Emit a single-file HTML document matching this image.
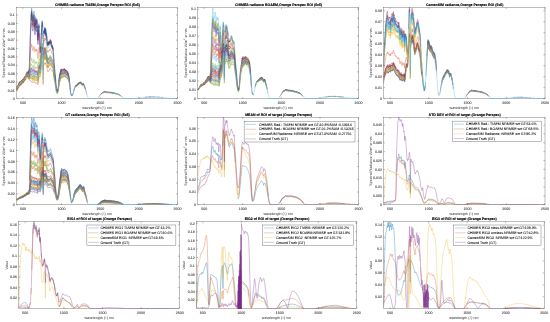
<!DOCTYPE html>
<html><head><meta charset="utf-8"><title>ROI spectra</title>
<style>html,body{margin:0;padding:0;background:#fff}svg{display:block}</style></head>
<body><svg width="550" height="322" viewBox="0 0 550 322" font-family="'Liberation Sans', sans-serif" shape-rendering="geometricPrecision" text-rendering="geometricPrecision">
<rect width="550" height="322" fill="#fff"/>
<clipPath id="c0"><rect x="16.40" y="7.20" width="161.10" height="91.80"/></clipPath>
<rect x="16.40" y="7.50" width="161.10" height="91.20" fill="none" stroke="#262626" stroke-width="0.30"/>
<g clip-path="url(#c0)"><g transform="scale(0.500 1)" fill="none" stroke-linejoin="round" stroke-width="0.44">
<path d="M32.8 87.69l.31-.25M37.59 83.82l.62-.39 1.08-1.02 .62-.14 .62-.39 .31 .04 .46 .25 .15-.02 .62-.46 .31 .08M44.24 80.74l.61-.09 .78-.84 .31-.15 .3-.03 .62 .41 .31-.28M48.41 78.05l.31-.15 .31-.07M50.57 76.92l.16 .14 .61-.4M52.43 74.35l.3-.35 .62-.1 .47-.17 .15-.15 .46-.77 .16-.12 .15 .03 .47 .45 .31 .15 .31-.04 .15-.09M63.24 12.09l.16 .21 .46 2.56 .31 1.07M68.81 22.7l.15 .24 .16 .03 .15 .16 .15 .42 .47 2.76 .15-.74M75.3 33.69l.15 1.05 .46 1.5 .16 .27M77 26.86l.15-.79 .16-.42 .46-.71 .15 .04 .16 .24 .46 1.34M89.67 28.65l.15 .18 .47 2.03 .15 .27 .16-.17 .15-.55 .46-2.28 .16-.13 .15 .45M92.91 34.02l.16 .11 .15 .55 .62 2.5 .15 .86M95.23 43.12l.16 .28 .15-.05 .62-1.01 .15 .02 .31 .67 .16 .19 .15-.09M97.7 41.74l.47 .34 .46 .78 .16 .03 .3-.49M100.33 40.22l.16 .07 .46 .67 .46 .35 .47 .76M105.43 48.36l.31 .36M122.12 72.26l.15 .12 .16-.05 .62-.73 .15 .16 .31-.08 .31 .09M125.21 72.27l.46-.22 .47-.43 .15-.08 .62 .03 .46-.26 .16-.01 .62 .29 1.23-.06 1.24 .41M132.16 72.3l.62 .58 .47 .34" stroke="#0072BD" stroke-width="0.50"/>
<path d="M32.8 90.14l.77-.53 .31-.08 .31 .03 .77-.44 1.55-1.11 .93-.9 .61-.33 .47-.4M39.6 85.29l.31-.12 .46-.34 .31-.13M43.93 83.09l.31-.06 .3 .05M46.86 82.33l.31-.2 .47-.95 .3-.41 .78-.71 .46-.2 .31-.21M50.42 78.94l.31 .22 .46-.36 .15-.18 .78-1.77 .31-.53 .3-.26 .47-.01M55.36 76.13l.31 .08 .16-.05 .77-.83 .62-.32 .31-.54 .3-.27 .31-.08 .16-.17 .15-.56 1.08-6.85 1.09-11.19 .46-2.9 .15-1.54 .47-2.74 .31-1.32 .15-.11 .16 .04 .15-.03 .15-.24 .47-1.92 .15-.41 .16 .09 .46 1.54 .77 1.94 .47 .85 .46 1.6 .31 .41 .15 .01 .47-1.03 .46-.4 .31-.88 .31-1.32 .15-.44 .16-.14 .15 .21 .16 .51 .46 1.84 .16 .29 .31 .09 .15 .13 .15 .35 .47 2.07 .62-1.49 .3-.53 .16-.51 .15-.27 .16-.12 .31 .05 .31 .31 .77 1.46 .15 .14 .16 .04 .15-.09 .16-.25 .46-1.06 .16-.11 .15 .24 .31 1.46 .77 5.37 .16 .68 .15 .5 .31 .44 .15 .35 .16 .16 .15-.57 .16-1 .46-4.16 .31-2 .77-2.86 .31-.6 .31-.14 .16 .25 .15 .89 .93 7.84 .62 2.88 .15 .4 .16-.3 .15-.73 .62-3.69 .46-4.02 .77-8.11 .78-4.31 .46-3.51 .31-1.67 .15-.21 .16 .32 .46 2.34 .31 .52 .16 .42 .15 2.54M87.2 44.54l.15-2.51 .15-1.13 .16-.61 .15-.15 .16 .25 .31 .84 .15-.06 .77-1.71 .47-1.81 .15 .04 .47 1.69 .15 .44 .16 .08 .15-.26 .46-1.49 .16-.09 .15 .33 .62 4.16 .15 .66 .16 .3 .46-.01 .16 .35 .92 4.27 .47 2.43 .31 .82 .46 .56 .16 .17 .15-.11 .62-1.1 .15-.02 .47 .73 .15-.06 .46-.95 .16-.19 .62-.11 .31 .23 .15 .06 .16-.03 .46-.59 .46-.43 .47-.58 .15-.09 .16 .08 .46 .68 .77 .77 .47 .27 .15 .19 .46 .98 .47 .64 .77 1.32 .15 .02 .31-.22 .16-.04 .15 .08 .31 .38 .31 .17 .31 .31 .31 .71 .15 .62 .93 5.81 1.24 6.29 1.08 4.55 .46 2.5M119.49 75.83l.31-.46M121.66 71.63l.46 .77 .15 .1 .16-.07 .31-.48M124.28 71.28l.93 .49 .31-.02 .31-.14 .46-.42 .47-.1 .15-.08 .46-.4 .16-.03 .62 .24 .61-.14 .31 .01 .47 .17 .62 .47 .77 .72 .15 .04 .62-.06M132.63 72.35l.93 .13 .3-.1 .31-.19 .62 .32 .16 .16 1.08 1.71 .62 .59M161.06 82.76l.62-.01" stroke="#D95319" stroke-width="0.50"/>
<path d="M32.8 87.93l.46-.55 .31-.26 .31-.11 .31 .03 .16-.08 1.08-.86 1.08-.75 .77-.95 1.08-.76 .93-1.01 .62-.19 .62-.41 .31 .01 .46 .21 .15-.01 .62-.42 .47 .05 .15-.05M53.66 73.07l.31-.18 .46-.63 .16-.05 .15 .1M55.52 72.92l.31-.12 .46-.4 .15-.05 .47 .11M61.39 28.94l.62-5.75 .15-.48 .31-.6 .15-.66 .47-3.47 .15-.67 .16 .16 .46 2.46 .62 2.2M65.72 26.68l.15 .37 .15 .19 .47-.97 .31-.09 .15-.15 .31-1.23 .31-1.91 .15-.65 .16-.19 .15 .31 .16 .75 .46 2.9 .16 .57 .31 .45 .15 .35 .15 .62 .47 3.05 .77-3.64M71.43 24.31l.16-.03 .15 .16 .16 .34M72.67 28.27l.15 .44 .16 .19 .15-.1 .16-.42 .46-2.04 .16-.34 .15 .2 .15 .76M75.45 38.17l.62 1.77M77.31 30.4l.3-.27 .16-.23 .15 .03 .31 .46 .16 .36M84.26 22.74l.15-.34 .16 .33M88.43 32.72l.31-.49 .31-.35 .15-.31 .47-1.53 .15 .16M94.77 43.29l.31 .64M97.55 43.47l.15-.06 .47 .02 .31 .33 .15 .09 .16-.02 .61-.81M101.41 42.75l.62 .99M103.27 46.34l.77 .83 .15 0 .31-.18 .16 .05 .15 .22 .47 1.09 .46 .79 .31 .86M118.72 78.24l.77-2.69 .16-.23 .15-.1 .47 .01 .3-.48M121.5 71.66l.16-.13 .15 .09 .31 .45 .15 .09 .16-.06 .62-.74 .15 .17 .31-.07 .31 .08 .62 .42 .77 .05 .46-.08 .47-.22 .15 0 .47 .21 .15 0 .62-.39 .62 .1 .46-.15M129.54 71.47l.77 .24 .62 .28 .62-.04 .31 .05 .92 .5 .47 .14 .46-.03 .46-.26 .62 .43M135.72 74.42l.31 .53 .46 .41M158.28 83.12l1.24-.76M160.75 82.63l.31 .02M165.08 84.68l.62-.42 .31-.03M166.78 84.04l.31-.02 .15 .05 .16 .14" stroke="#EDB120" stroke-width="0.50"/>
<path d="M32.8 88.71l.62-.5 .46-.19M41.3 83.21l.31-.08 .31-.28M45.94 80.76l.3 .05 .62 .49 .16-.11M48.56 78.94l.62-.14M54.59 73.53l.15 .1 .47 .6 .46 .08 .31-.2 .93-.96M61.85 20.03l.16-.99 .15-.26 .16-.02 .15-.17 .15-.52 .47-3.4 .15-.68 .16 .19 .46 2.68 .77 3.27 .47 1.53 .46 2.73 .16 .45 .15 .28 .15 .01 .47-1.87M67.26 20.25l.31-2.25 .15-.69 .16-.14 .15 .47 .16 .98 .46 3.73 .16 .76 .46 .95 .15 .56 .47 2.84 1.23-6.66 .16-.44 .15-.21 .16 0M72.82 24.57l.16 .12 .15-.12 .16-.41 .46-1.84 .16-.23M75.3 36.12l.15 1.05 .46 1.42 .16 .25 .15-.79 .16-1.39 .46-5.61 .16-1.28 .15-.7 .16-.31 .46-.51 .15-.02 .31 .25 .31 .44 .16 .61M84.26 23.87l.15-.44 .16 .19M87.66 32.56l.15-.18 .16 .31 .31 1.2 .15 .09M89.67 30.4l.15 .1 .47 2.26 .15 .48 .16 .08 .15-.31 .46-1.87 .16-.21M92.29 35.62l.16 .35 .15 .05 .31-.03M95.39 45.67l.15 .01 .15-.19 .47-1 .15-.07 .47 .79 .15 0 .46-.77 .16-.16 .62-.28 .46 .12 .16-.06 .92-1.29 .47-.84 .15-.15 .16 .04 .46 .59 .46 .18 .62 .47M103.73 46.36l.31 .32 .15-.05 .31-.28 .16 .02M109.91 74.24l.47 3.18 .92 5.19M112.85 90.45l.31 1.11 .15 .26M114.86 92.84l.46-.44M123.05 76.87l.15 .1 .47-.04 .77 .44 .77 .03M125.98 77.15l.31-.15 .47-.07 .3-.24M128.3 76.35l1.08 .12 1.39 .77 .16 0 .77-.21M132.63 77.54l.46 .27M134.48 77.93l.47 .16 1.08 1.28 .62 .38 .3 .28 .16 .22 .62 1.39M154.57 85.26l.62-.28M156.27 84.51l.31-.06M161.99 83.87l.62-.01 .77 .52 .46 .14M166.01 85.11l.92-.24M208.19 92.37l.78-.11 .77 .19 .62-.08M221.48 93l.31-.05M223.18 93.04l.93 .04 .93 .28 .62 0" stroke="#7E2F8E" stroke-width="0.50"/>
<path d="M35.43 88.51l.92-.6M37.59 86.57l.93-.35 .77-.52 .62-.28M41.14 84.8l.31-.02 .62-.36M43.31 83.73l.77-.49M45.78 82.04l.31-.06 .15 .04 .62 .58M48.1 80.86l.62-.48 .61-.15 .62-.64 .16-.11 .15-.02M52.58 76.62l.31-.02 .62 .24 .31-.05 .15-.1 .46-.71 .16-.12 .15 .02 .62 .56 .31 .15 .16 0 .61-.26 .16 .03 .62 .47 .15 .01 .46-.23 .31 .02 .16-.06 .31-.78 .92-3.53 1.09-6.78 .15-.69 .31-.87 .15-.94 .78-2.16 .46-.28 .15-.3 .47-1.76 .15-.38 .16 0 .15 .3 1.08 2.43 .47 .76 .46 1.22 .31 .29 .15 0 .47-.83 .46-.57 .62-2.01 .15-.34 .16-.05 .15 .25 .16 .52 .31 1.37 .31 .99 .61 .74 .47 1.27 .46-1.05 .46-.85 .16-.45 .15-.26 .16-.13 .15-.03 .31 .15 .31 .38 .46 .78 .31 .29 .16 0 .15-.09 .62-1.2 .16-.17 .15 .1 .15 .37 .31 1.18 .62 3.05 .31 .82 .62 .97 .15-.38 .16-.72 .46-3.05 .31-1.62 .93-2.9 .46-.79 .16-.07 .31 .99 .77 3.79 .62 1.99 .15 .28 .16-.3 .15-.68 .62-3.56 .46-3.68 .46-4.65 .31-2.47 .31-1.57 .47-1.52 .61-3.5 .16-.57 .15-.25 .16 .17 .46 1.65 .16 .16 .15 .03M87.35 49.33l.15-.71 .16-.28 .15 .06 .47 1.06 .15-.07 .77-1.39 .31-1 .16-.3 .15 .17 .47 1.76 .15 .32 .16 0 .15-.29 .46-1.43 .16-.09 .15 .27 .16 .61 .46 2.38 .15 .49 .16 .2 .46-.24 .16 .18 .62 2.03M94.61 57.2l.31 .74 .47 .77 .15-.02 .46-.52 .16-.08 .15 .09 .31 .59 .16 .15 .15-.08 .46-1.01 .31-.45 .47-.36 .46 .14 .16-.02 .15-.13 1.08-1.55 .16-.2 .15-.09 .16 .07 .46 .51 .46 .17 .62 .52 .31 .53 .46 1.16 .16 .23 .62 .51 .46 .33 .62-.39 .15 .07 .47 .45 .3 .05 .31 .21 .31 .7 .31 1.47M108.68 73.46l1.08 4.42M113.31 92.51l.77 .48M119.49 81.09l.31-.27 .47-.1 .15-.21 .31-.63 .62-2.03 .15-.3 .16-.11 .15 .07 .31 .31 .15 .04 .16-.09 .62-.8 .15 .07 .31-.17 .31-.05 1.39 .34 .46-.09 .31-.25M127.06 76.1l.31-.33 .16-.08 .31 .07 .46 .23 1.08 .12 .31 .13M130.62 76.67l.31 .06 .77-.14 .93 .41 .77 .2 .31-.02 .46-.24 .62 .24M152.1 86.4l.93-.06M153.95 85.78l.62-.08 .47-.17 1.23-.86 .31-.06 .62 .04 .77-.17M159.83 83.41l.3 .01M160.91 83.62l.62 .02 .46 .1 .46-.04M163.23 84.2l.46 .2M165.54 85.17l.62 0 .93-.27 .15 .02 .16 .13M225.97 93.32l.61 .11" stroke="#77AC30" stroke-width="0.50"/>
<path d="M35.58 85.79l.93-.56 .93-1.35 .77-.7M42.38 81.35l.16 .05 .15-.03 .15-.14M46.71 79.43l.15 .09 .16-.1M48.56 77.4l.62-.04M53.51 73.21l.31 .08 .15-.07 .46-.67 .16-.12 .15 .03 .62 .57 .31 .15 .16-.02 .61-.36 .78 .17 .31-.19 .3-.49 .31-.34 .16-.42 .46-3.91M64.17 26.44l.46 1.93 .47 .95 .46 1.81 .16 .21 .15 .07 .15-.16 .16-.7M67.11 27.17l.46-2.6 .15-.43 .16 .09M68.81 30.68l.61 1.63 .31 1.78 .16 .5 .62-3.91 .46-2.45 .15-.56 .16-.26 .15-.03 .16 .13 .15 .28 .31 .89 .46 1.69 .16 .37 .15 .16 .16-.02 .15-.14 .62-2.05 .16-.19 .15 .33 .31 2.47M75.3 41.11l.15 .88 .62 1.92 .15-.53M77.61 34.07l.16-.48 .15-.2 .16 0 .15 .12 .16 .27M80.4 53.07l.15 .65 .16-.21 .46-2.72M82.4 38.89l.31-2.39 .78-3.02 .61-4.58 .16-.8 .15-.34 .16 .21 .46 2.25 .31 .57 .16 .47 .15 2.71M87.35 36.96l.15-1.26 .16-.68 .15-.21 .16 .22 .31 .9 .15-.07 .62-1.55 .46-1.87 .16-.41 .15 .2 .62 3.12 .16 .19 .15-.18 .46-1.55 .16-.15 .15 .27 .16 .67 .46 2.67 .15 .53 .16 .18 .31-.26 .15-.04 .16 .32 .77 3.76 .62 3.61 .31 1.01 .62 1.28 .15 .07 .15-.07 .47-.45 .15 .05 .31 .54 .16 .08 .15-.21 .62-1.9 .31-.32 .31-.15 .46 .41 .16 .01 .15-.15 .77-1.37 .47-1.03 .15-.17 .16 .05 .46 .75 .46 .49 .62 .94 .31 .81 .46 1.67 .16 .32 .15 .15 .93 .42 .31-.13M105.43 50.14l.46 .79 .31 1.12 .78 4.94 .77 3.91M113.62 90.94l.62 .26M115.78 90.09l.31-.37 .16-.32M121.5 72.75l.16-.04 .46 .59 .15 .05 .16-.14 .62-1.04 .15 .11 .31-.09 .16 .03 .61 .49 .16 .06 .46 .01 .31 .09 .46 .03 .62-.38 .31-.07M127.68 71.75l.47 .18 .61 .07 1.55 .44 .62 .3 .62-.07 .31 .05 .77 .46 .31 .08 .46 .08 .31-.03 .46-.29 .62 .09 .16 .13 .3 .49M136.18 75.61l.62 .56 .31 .42 .77 1.98M157.35 83.51l.31-.14 .31-.05" stroke="#4DBEEE" stroke-width="0.50"/>
<path d="M32.8 88.23l.46-.41 .31-.15M35.58 86.63l.93-.61M37.44 84.6l.31-.27 1.39-.91M46.55 80.42l.31 .2 .31-.24M48.25 78.93l1.08-.29M50.26 77.52l.47 .02 .46-.45M52.73 74.42l.31-.1 .78 .01 .15-.11 .46-.77 .16-.12 .15 .04 .47 .52 .15 .07 .31 .01 .16-.08M62.16 17.08l.31-.73 .15-.71 .47-3.69 .15-.71M64.17 15.47l.46 2 .31 .84M67.72 14.43l.16 .08 .15 .65 .62 4.83 .16 .65 .46 .68 .15 .57 .47 3.11 .62-3.12 .3-1.22 .16-.97 .31-.98 .15-.17 .16-.01 .15 .15 .16 .31 .77 3.1 .15 .34 .16 .12 .15-.14 .16-.42 .46-1.94 .16-.3 .15 .26M75.45 33.61l.62 1.97 .15-.61 .16-1.21 .46-4.99 .16-1.09 .15-.57 .16-.25 .46-.51 .15 .05M89.51 28.81l.16-.36 .15 .24 .47 2.54 .15 .5 .16 .05 .15-.35 .46-2.04 .16-.21M92.45 34.38l.15 0 .16-.11 .15-.03M94.46 41.91l.31 1 .62 .74 .15-.2 .62-1.59 .15-.03 .47 .98 .15-.01 .46-.94 .16-.19 .15-.06 .47-.03 .46 .52 .16 .06 .3-.26 .47-.66 .77-1.83 .16-.06 .46 .4 .46 .18 .47 .68 .31 .68 .77 2.72 .62 1.01 .46 .56 .15-.01 .31-.15 .16 .12 .62 1.49 .61 .63 .31 .95 .16 .85M113.62 90l.93 .54 .15-.01 .31-.37 .93-1.46M121.97 69.62l.15 .17 .15 .06 .47-.41 .31-.13 .15 .3 .93 .3 .31 .01 .46-.1 .77 .23 .47-.08 .46 .08 .31-.13 .46-.59 .16-.1 .62 .05 .61-.16 .31 .02 .47 .21 .62 .57 .46 .57 .31 .22 .15-.01 .47-.3 .31-.1 1.7 .79 .3 .08 .31-.06 .47 .24M150.86 85.89l.31-.11M155.96 83.61l.47-.14M165.7 84.09l.31 .03M200.93 94.48l.46-.38 .62-.38 1.39-.49M204.64 92.59l.62-.26 1.54-.26 1.55-.55 .62-.1 .46 .16M212.37 91.91l.46 .01" stroke="#A2142F" stroke-width="0.50"/>
<path d="M32.8 89.86l.77-.57 .31-.1 .31 .03 .16-.07 2-1.4M42.23 83.99l.31 .04 .15-.07 .77-.94 .47-.12 .61 .03 .31-.11 .78-1.05M48.72 79.96l.31-.12M52.12 76.65l.31-.49 .3-.26 .78 .11M55.52 75.5l.31-.23 .3-.44M62.16 20.76l.31-.29M63.24 16.58l.16 .26 .46 2.51 .77 2.85 .47 .91 .46 1.6 .16 .11 .15 .01 .15-.15 .47-1.83 .46-.63 .16-.46 .46-2.23 .15-.29 .16 .23M68.81 25.98l.15 .28 .16 .12M69.89 29.95l.46-2.12 .46-1.59 .16-.8 .15-.47 .16-.25 .15-.08 .16 .04 .31 .47 .61 2.11 .16 .43 .15 .21 .16-.03 .15-.28 .62-2.64 .16-.23 .15 .38 .15 1.01 .31 3M75.3 37.91l.15 .85 .62 1.32 .15-.73 .16-1.29 .62-6.39 .15-.65 .16-.31 .46-.58 .15 .02 .16 .2M80.4 50.93l.15 .72 .16-.17 .77-4.79M82.56 34.28l.15-1.13 .78-3.76 .61-5.11 .16-.89 .15-.39 .16 .22 .46 2.54 .31 .76M87.66 31.57l.15-.05 .16 .45 .31 1.45 .15 .15 .16-.22 .46-1.08 .62-2.8 .15 .03 .47 2.02 .15 .44 .16 .07 .15-.25 .46-1.36 .16 .06 .15 .53 .62 4.48 .15 .72 .16 .31 .15-.04 .31-.32 .16 .19M94.46 43.01l.31 1.01 .62 1.02 .15-.06 .15-.19M96.78 45l.15-.18 .46-1.54 .16-.36 .15-.17 .31-.08 .16 .03 .46 .66 .16 .05 .15-.13 .77-1.4M100.79 40.96l.62 .78 .78 1.49M103.27 45.73l.77 .74 .15-.04 .31-.24 .16 .02 .15 .19 .31 .64 .46 .5 .31 .54M113.31 90.14l1.24 .92 .15 .03 .31-.27 .77-1.02M117.79 81.98l1.55-5.47 .31-.64 .15-.12 .47-.12 .15-.26 .31-.76 .46-1.85 .31-.8 .16-.07 .46 .68 .15 .1 .16-.06 .62-.8 .15 .15 .47-.11 .61 .3 1.24 .25 .31-.05 .46-.29 .47 .07 .3-.09M127.84 71.84l.31 0 .61-.38 .47-.08 .31 .17 .92 1 .31 .24 .31-.02 .47-.29 .31-.08 .92 .44 .62 .18 .31 .03 .46-.19 .62 .35 .16 .18 1.08 1.84 .77 .44 .31 .41 .77 2.19 .77 2.46M161.22 82.91l.77 .09 .46-.07M165.54 84.43l.16-.08 1.08-.16" stroke="#0072BD" stroke-width="0.50"/>
<path d="M32.8 90.46l.77-.49 .78-.13 1.54-.86M36.97 87.97l.47-.51 .92-.4M39.44 86.31l.47-.14 .77-.49 .62-.03 .15-.07 .62-.46 .31 .02M46.09 82.64l.31 .09 .46 .31M47.79 81.64l.77-.68 .77-.36 .78-.96 .15-.06 .47 .16 .46-.4 .15-.16 .93-1.79 .31-.4 .31-.09 .46 .08 .47-.05 .15-.1 .46-.63 .16-.02 .15 .13 .47 .66 .31 .33 .31 .14 .46-.07 .31 .05 .77 .81M60.46 75.87l.31-.4 .31-.15 .15-.43 .62-.41 .16-.03 .46 .1 .15-.08 .47-.65 .15-.08 .16 .13 .46 .89 .62 .8 .62 .49 .46 .6 .16 .08 .3 .01 .47-.52 .46-.21 .16-.15 .46-.75 .15-.15 .16-.01 .15 .15 .62 1.19 .16 .12 .46-.15 .15 .01 .47 .57 .46-.46 .46-.32 .16-.23 .31-.17 .15 .01 .31 .17 .31 .33 .62 .91 .31 .17 .15-.04 .16-.13 .62-.89 .15 .01 .31 .54 .77 2.13 .31 .37 .46 .36 .16 .05 .15-.36 .31-1.25M77.31 74.45l.3-1.05 .47-2.05 .46-1.55 .16-.34 .15-.02 .16 .19M79.93 71.48l.47 .72M83.18 57.58l.31-.56 .61-3.08 .31-1.06 .16-.07 .46 .86 .31 .03M87.35 57.73l.15-.67 .16-.38 .15-.1 .31 .26 .16 0 .46-.79 .46-.59 .47-1.14 .15 .12 .62 2.06 .16 .16 .15-.08 .46-.89 .16-.07 .15 .19 .16 .44 .46 1.75 .15 .37 .16 .14 .46-.14 .16 .22 .77 2.56 .31 1.3M95.39 65.71l.15-.06 .15-.2 .47-.8 .15-.1 .31 .2 .16 .03 .15-.14 .46-.84 .16-.15 .15-.03 .47 .1 .46 .43 .16 .04 .3-.2 1.09-1.17 .15-.1 .16 .01 .46 .23 .46 0 .62 .35 .31 .39 .31 .63 .31 .42 .46 .17 .62 .48 .46 .1 .31 .3 .31 .48 .16 .14 .3 .13M107.28 72l.47 1.59 .62 2.65M113.31 92.88l1.08 .44 .31 .04M115.47 92.48l.62-.66M117.64 86.27l.31-1.08 1.39-4 .31-.56 .15-.13 .47-.21 .15-.23 .31-.61 .46-1.47 .31-.67 .16-.08 .46 .41 .15 .03 .16-.11 .62-.81 .15 .09 .47-.09 .77 .31 .77-.09 .46-.1 .62-.34 .47-.09 .77-.59 1.08-.16 .77 .28 .93 .55 .46 .39M131.7 76.93l.31 .1 .62 .36 1.08 .2 .46-.16 .62 .17 .16 .1 .61 .71M152.56 86.27l.31-.01 .47-.19M157.04 84.39l.47-.04M161.06 83.58l.47 .14M205.26 93.01l1.39-.16 .46-.11M214.38 92.6l.77 .06 .62-.08M218.39 92.73l.78 .02M225.35 93.26l1.54 .26 .93-.04" stroke="#D95319" stroke-width="0.50"/>
<path d="M32.8 90.57l.46-.33 .31-.14 .31-.05 .31 .04 .16-.06 1.7-1.06 .46-.33 .93-.97 .92-.5 .93-.84 .62-.34 .46-.36 .31-.11 .62 .22 .15-.02 .62-.46 .62-.15 .77-.84 .47-.15 .61-.06 .31-.14 .78-1 .31-.18 .3-.02 .62 .39 .31-.19 .47-.88 .3-.35 .62-.37 .77-.29 .78-.81 .15-.01 .47 .26 .46-.36 .15-.16 .78-1.58 .31-.49 .3-.26 .62-.08 .47-.19 .15-.15 .46-.72 .16-.03 .15 .13 .62 .99 .31 .34 .31 .14 .31-.01 .31 .09 .77 .94M58.61 79.81l1.08-.59 .77-.75 .16-.03 .46 .12 .15-.28 .47-.05 .31 .08 .46 .36 .15 .02 .47-.33 .15-.05 .16 .09 .46 .68 .77 .87 .47 .2 .46 .3 .46-.05 .47-.4 .46-.12 .31-.34 .31-.5 .15-.16 .16-.05 .15 .1 .62 .97 .16 .11 .46-.03 .15 .05 .47 .59 .77-.5 .46-.45 .31 0 .31 .17M72.51 80.72l.31 .25 .31 .02 .16-.1 .62-.66 .15 .04 .15 .18M74.99 81.97l.15 .24 .62 .27M77.31 78.04l.77-2.9 .62-1.71 .15-.08 .16 .08 .61 .65 .78 .39M82.87 61.8l.15-.49 .31-.49M84.26 56.37l.15-.34 .16 .03 .46 1.2 .31 .26 .16 .27M87.2 62.07l.15-1.09 .15-.63 .16-.32 .15-.02 .31 .43 .16 .07 .15-.13 .62-.83 .62-1.62 .15 .03 .47 1.21 .15 .22 .16 0 .15-.23 .46-1.16 .16-.06 .15 .21 .16 .47 .61 2.21 .16 .22 .46 .15 .16 .3 .46 1.63 .46 1.21 .47 1.63 .31 .75 .62 1.04 .15 .02 .62-.57 .15-.02M97.39 66.53l.16-.19 .62-.36 .62-.08 .61-.65 .93-.43 .16 .06 .61 .5 .62 .21 .47 .06 .15 .16 .62 1.22 .62 .73 .46 .24 .46-.24 .16 .01 .15 .13 .47 .61 .61 .49 .31 .61 .93 3.82 .62 2.1 .62 1.74M109.29 79.57l.31 .79 .62 2.21 .62 1.79M113.16 91.78l.15 .19 .31 .14 .93 .28 .15-.04M117.95 81.86l1.39-5.04 .31-.63 .15-.08 .31 .05M123.51 73.03l.31 .06 .46 .26 1.39-.32 .62-.43 .47-.14 .61-.62 .16-.05 .62 .34 .46 .18M130.16 73.47l.61 .41 .31-.08M131.86 73.62l.92 .58M133.71 74.22l.46-.17 .16 .11 .62 .51 .77 1.01M158.43 83.43l.31-.15M166.78 84.27l.31-.09 .15 .03M210.67 91.91l.31 .05M214.53 92.26l.31-.01M219.17 92.41l.46 .08" stroke="#EDB120" stroke-width="0.50"/>
<path d="M33.73 89.02l.46 .04 .31-.16M36.51 87.52l.62-.66M43.31 83.39l.46-.19M44.54 83.16l.31-.12 .62-.83 .31-.27 .31-.09 .15 .02 .62 .4 .31-.26 .47-1.05 .3-.42 .62-.41 .77-.21 .78-1 .15-.09 .47 .09 .46-.53M53.66 75.89l.31-.1 .46-.66 .16-.04M55.67 75.73l.31-.42 .46-.84 .62-.84 .31-.79 .16-.59 .3-.71 .31-.51M59.38 60.52l.31-3.7 .93-15.11 1.08-12.25 .31-2.51 .15-.37 .31-.26 .15-.43 .47-2.72 .15-.53 .16 .19 .46 2.22 .16 .49 .61 1.81 .47 1.05 .46 2.12 .16 .25 .15 .09 .15-.13 .47-1.92 .15-.3 .31-.38 .16-.41 .46-2.24 .15-.48 .16-.06 .15 .43 .16 .86 .46 3.28 .16 .69 .46 1.05 .15 .62 .47 2.96 .92-3.97 .16-.94 .31-1.01 .15-.18 .16-.02 .31 .4 .61 1.98 .16 .41 .15 .22 .16 .05 .15-.15 .62-1.79 .16-.11 .15 .42 .31 2.22 .93 9.51 .15 .91 .62 1.81 .15-.63 .16-1.21 .46-5.14 .31-2.09 .62-1.6 .15-.2 .16-.01 .15 .09 .16 .23 .15 .3 .16 .66 .15 1.48 .93 11.78 .62 4.1 .15 .62 .16-.22M82.71 35.1l.62-3.14 .31-1.96M84.41 24.74l.16 .15 .46 2.22 .16 .32 .15 .16M87.66 32.23l.15-.02 .47 1.78 .15 .09 .62-1.32 .46-1.75 .16-.32 .15 .34 .62 3.69 .16 .28 .15-.12 .46-1.61 .16-.1 .15 .35 .62 3.18 .15 .46 .16 .13 .31-.32 .15-.06 .16 .3 .46 2.21 .31 1.15M94.61 44.69l.31 .67 .47 .53 .15-.21 .62-1.63 .15 .02 .31 .61 .16 .15 .15-.1 .46-.99 .16-.17 .15 .01 .47 .26 .31 .45 .15 .12 .16 0 .46-.71 .62-.77 .46-.82 .16-.07 .46 .16 .31-.01 .15 .09 .16 .21 .46 1.01 .77 3.1 .16 .4 .62 .8M104.5 48.42l.16 .17 .46 1.06 .16 .2 .61 .42 .16 .26 .31 1.17M109.29 69.81l.31 1.44M119.18 78.75l.16-.48 .31-.56 .46-.22M122.27 74.28l.16-.03 .62-.65 .15 .11 .47-.25 .3 .05 .47 .24 .77 .14 .46-.07 .47-.22 .31 .04M127.84 73.07l.31 .01 .61-.18 .47 .02 .31 .15 1.23 .92 .31 0 .31-.13M132.63 74.54l.77 .47 .31 .01 .46-.24 .62 .2M136.03 76.54l.92 .76M153.8 84.93l.31-.15 .46 .09 .47-.08M163.07 83.68l.77 .15" stroke="#7E2F8E" stroke-width="0.50"/>
<path d="M32.8 87.47l.62-.45 .46-.12 .31 .03M37.44 83.43l.31-.25 .46-.25M39.75 81.99l.78-.49 .31 .03M43.62 80.35l.46-.06 .62 .07 .15-.04M45.63 79.43l.61-.37 .62 .28M48.56 77.23l.77-.36 .62-.68M50.73 76.48l.61-.67M54.28 71.77l.15-.27 .16-.11 .15 .04 .16 .14 .31 .35 .62 1.32M57.22 75.84l.31 .55 .3-.11 .47 .11 .15-.18 .31-.72 .77-2.22 .93-4.23 .31-1.04 .31-.58 .15-.78 .47-1.14 .31-.56 .46-.01 .15-.11 .47-.89 .15-.11 .16 .17 .46 1.11 1.24 1.54 .46 1.22 .31 .4 .15 .05 .47-.65 .46-.45 .16-.3 .46-1.4 .15-.33 .16-.1 .15 .14 .16 .35 .46 1.34 .16 .25 .46 .3 .15 .23 .47 1.31 .77-1.14 .31-.72 .31-.41 .15-.03 .31 .15 .77 1.15 .16 .17 .31 .11 .15-.04 .16-.15 .46-.76 .16 .01 .15 .27 .15 .5 .93 4.01 .31 .54 .62 .53 .31-1.13 .77-4.51 .46-1.57 .47-1.95 .46-1.3 .16-.24 .15 .13 .16 .38 .77 2.66 .62 1.55 .15 .17 .16-.34 .77-3.98 .31-1.96 .77-7.08 .31-2.25 .62-2.72 .77-4.65 .15-.36 .16 .06 .46 1.39 .16 .14 .15 .02 .16 .24M87.35 50.55l.15-.63 .16-.25 .15 .07 .31 .7 .16 .19 .15-.13 .77-1.3 .31-.83 .16-.19 .15 .19 .47 1.73 .15 .35 .16 .06 .15-.22 .46-1.46 .16-.27 .15 .1 .16 .43 .46 1.98 .15 .39 .16 .11 .46-.41 .16 .17 .92 3.12 .47 1.87 .31 .8 .62 1.15 .15 .15 .46 .06 .16 .08 .46 .96 .16 .08 .15-.12 .62-1.31 .62-.5 .62 .01 1.08-1.01 .46-.66 .16-.02 .46 .35 .46 .22 .78 .59 .77 1.51 1.08 1.13 .15 .04 .31-.1 .16 .02 .46 .56 .16 .05 .46-.09 .15 .08 .31 .63 .16 .59 .77 4.33 1.24 5.85 1.23 4.17M113.31 91.32l1.24 .73 .15 .01 .31-.29 .62-.93M119.49 76.75l.31-.44 .47-.09 .15-.24 .31-.68 .46-1.75 .31-.64 .16-.02 .46 .68 .15 .09 .16-.07 .62-.76 .15 .14 .31-.11M124.28 73.22l.93 .22 .46-.06 .62-.31 .47 .01M127.53 72.52l.62 .1 1.08-.29 .31 .07 .46 .28M131.08 73.52l.62 .23M132.63 74.14l1.54-.49 .78 .55M136.49 76.36l.31 .16 .31 .34 .62 1.57M152.87 85.65l.47-.2 .61-.52 .47-.07M157.82 83.56l.31 .06M159.83 82.46l.46-.02 1.08 .62 .46 .16 .16 0 .46-.21 .16-.03 .15 .06M164.77 85.13l.31-.21" stroke="#77AC30" stroke-width="0.50"/>
<path d="M33.73 87.75l.46 .05M36.05 86.59l.46-.4 .31-.4M38.67 83.97l.62-.57 .46-.09M40.53 82.96l.31 .01 .46 .15 .15-.04 .62-.45 .31 .04M43.77 81.65l.31-.05 .62 .11 .15-.04M45.63 80.74l.31-.17M48.72 78.36l.61-.21 .62-.74 .16-.11 .15-.01M52.89 75.12l.46 .18 .31-.04 .31-.25 .46-.87 .16-.15 .15 .01 .16 .1M57.68 78.13l.15-.01 .31 .16M59.53 76.65l.62-1.82M61.39 72.03l.46-.57 .16-.09 .46 .1 .15-.09 .47-.79 .15-.14 .16 .09 .46 .88 .77 1.12 .47 .47 .46 .7 .31 .07 .15-.07 .47-.7 .46-.24 .16-.15M67.88 71.81l.15 .24 .62 1.72 .16 .22 .15 .08 .31-.01 .15 .07 .47 .66 .92-1.44 .16-.35 .31-.29 .15-.01 .31 .18 .31 .39 .62 1.02 .31 .21 .15-.03M74.99 76.13l.15 .42 .16 .2 .46 .27 .15 .16 .16 .06 .15-.36M77.15 72.72l.46-1.53 .62-2.76 .31-.95 .16-.28 .15 .08 .16 .3 .77 2.14 .62 1.06 .15 .07M82.87 56.65l.15-.71 .16-.39M87.5 54.76l.16-.37 .15-.07 .31 .42 .16 .09 .15-.14 .77-1.25 .47-1.45 .15 .03 .16 .38M91.21 52.11l.16-.08 .15 .27M92.45 55.97l.46 .07 .16 .27 .46 1.69 .46 1.33 .47 1.79 .31 .74 .62 1.09 .15 .06 .15-.05 .47-.31 .15 .07 .31 .5 .16 .12 .15-.08M97.7 62.02l.47-.2 .31 .09M99.25 61.39l.46-.39M100.79 60.59l.62 .54 .93 1.05M103.11 63.46l.47 .51 .46 .38 .62-.28 .15 .07 .31 .33 .16 .09 .15 0M121.5 74.85l.16-.1 .15 .09 .31 .37 .15 .06 .16-.08 .62-.74 .15 .12 .47-.15M124.59 74.59l1.08-.13 .62-.36 .47 .09 .15-.04M127.84 73.93l.46 .24 .46-.02M130.62 74.68l.31-.02 .62-.33 .31 0 .3 .2 .62 .57 .47 .26 .46 .04 .46-.22 .62 .28 .16 .12 .46 .68 .62 1.01 .46 .4M151.02 86.53l.62-.16M156.73 84.04l.47 .02 .62-.21M205.88 92.53l.77-.05M212.06 92.16l.62 .03M224.57 92.99l.47 .11 .46 .01" stroke="#4DBEEE" stroke-width="0.50"/>
<path d="M32.8 87.37l.46-.4 .31-.17 .31-.07 .31 .07 .16-.08 1.39-1.14M38.67 82.72l.47-.39 .46-.16M41.3 81.61l.77-.16 .47 .25 .15-.01 .77-.73 1.24-.4 .15-.09 .78-.89 .31-.05 .3 .09M47.79 78.55l.77-.72 .31-.13 .31-.04 .31-.17 .62-.75 .15-.06 .47 .19 .46-.49M52.12 74.53l.46-.58 .15-.04 .62 .19M55.21 73.25l.31 .18 .31 0 .61-.47 .47-.2 .31-.32 .61-1.3 .31-.38 .16-.41 .15-1.08 1.08-11.69 1.09-19.6 .92-12.08 .47-4.31 .15-.39 .16-.14 .15-.28 .15-.6 .47-3.51 .15-.72 .16 .13 .46 2.58 .77 3.71 .47 1.61 .46 2.19 .16 .22 .15 .09 .15-.13 .47-1.87 .46-.71 .16-.48 .46-2.53 .15-.52 .16-.03 .15 .49 .16 .95 .46 3.37 .16 .64 .46 .72 .15 .51 .47 2.68 .62-3.39 .46-2.06 .15-.48 .16-.23 .15-.04 .16 .09 .31 .54 .31 1.03 .46 1.96 .31 .67 .15 .04 .16-.21 .46-1.14 .16-.04 .15 .46 .31 2.27 .93 9.61 .15 .91 .46 1.34 .16 .27 .15-.73 .16-1.34 .46-5.45 .16-1.28 .15-.75 .16-.39 .46-.78 .15-.04 .31 .36 .31 .71 .16 .7 .31 3.56 .77 10.81 .62 5.14 .15 .79 .16-.1 .15-.65 .62-3.75 .46-4.89 .62-7.63 .31-2.21 .62-3.14 .61-4.45 .16-.72 .15-.31 .16 .21 .46 1.89 .16 .14 .15-.01 .16 .3M87.5 32.69l.16-.73 .15-.29 .16 .14 .31 .77 .15-.03 .62-1.45 .46-1.46 .16-.18 .15 .43 .47 2.94 .15 .62 .16 .23 .15-.15 .46-1.31 .16-.03 .15 .37 .16 .74 .46 2.63 .15 .42 .16 .04 .46-.86 .16 .18 .62 3.08M95.08 44.9l.31 .41 .15-.11 .62-1.04M97.24 44.42l.31-.51 .62-.32 .62 .46 .15-.01 .62-.35 .31-.43 .31-.7 .15-.22 .16-.02 .46 .57 1.24 1.22 .15 .27 .46 1.29 .47 .95 .61 1.62 .16 .19 .15 .02 .31-.16 .16 .05 .15 .09 .31 .35 .16 .08 .3-.02 .16 .08 .15 .2M110.53 75.96l.93 4.59M113.16 89.54l.15 .31 .16 .14 1.08 .72 .15 .01 .31-.33 1.08-1.68 .16-.37M119.18 74.81l.16-.66 .31-.62 .31-.1 .31 .12M121.19 71.3l.31-.8 .16-.1 .15 .1 .31 .38 .15 .03 .16-.15 .62-1.07 .15 .12 .47-.22 .3 .11M124.75 70.04l.46 .23 .46 .1 .62-.27 .47 .05 .15-.07 .62-.6 1.08-.09 .31 .07 .31 .17 .62 .51 .77 .41 .31 .04 .46-.22 .31-.04 .31 .18 .77 .92 .47 .34 .46 .12 .46-.17 .31 .24 .47 .48 .92 1.48 .31 .26 .47 .19 .3 .31M150.4 86.28l.46-.21M152.72 85.26l.15 0 .31-.11M154.11 84.39l.46-.03 .62-.22 1.24-1.03 .61-.04 .62-.17 .47 .05M160.91 82.27l.77 .32M166.78 83.75l.31 .01M170.33 87.9l.47 .59 .31 .53M221.48 92.34l.47-.04 .77 .11M223.49 92.47l.62 .02" stroke="#A2142F" stroke-width="0.50"/>
<path d="M32.8 88.42l.46-.39 .31-.16 .31-.08 .31 .06 1.24-.53 .92-.68M37.13 85.4l.46-.56 .93-.43 .77-.55 .62-.24 .62-.45 .31 .02 .46 .25 .15 0 .62-.45 .47-.04M43.31 81.94l.31-.3 .46-.2 .77 .15 .31-.23 .47-.51 .31-.18 .3-.06M47.64 79.79l.3-.4 .62-.54 .47-.23M50.42 77.71l.31 .15 .46-.48M52.43 74.54l.3-.32 .93 .18 .31-.08M55.36 74.4l.31-.09 .16-.14 1.23-2.1 .77-2 .31-.52M61.7 20.63l.31-2.68 .15-.39 .16-.14 .15-.29 .15-.61 .47-3.59 .15-.69 .16 .22 .46 2.89 .62 2.72 .15 .57 .47 .99 .46 1.97 .16 .21 .15 .09 .15-.11 .47-1.82 .46-.63 .16-.53 .46-2.78 .15-.54 .16 .02M68.96 22.63l.31 .85 .15 .76 .47 3.47 .77-3.73 .46-2.69 .16-.5 .15-.28 .16-.08 .15 .1 .16 .29 .77 3.13 .15 .34 .16 .1 .15-.17 .16-.47 .46-1.78 .16-.09 .15 .54 .15 1.15 .47 4.83M77 29.11l.31-1.14 .46-1.11 .15-.18 .16 0 .15 .14 .31 .7M87.66 31.16l.15-.01 .47 1.79 .15 .06 .62-1.59 .46-2.05 .16-.43 .15 .24 .47 2.78 .15 .62 .16 .2 .15-.21 .46-1.7 .16-.17 .15 .27 .77 4.17 .16 .29 .31-.05 .15 .08 .16 .43 1.39 7.78 .31 .82 .62 .47M96.16 43.6l.15-.01 .31 .56 .16 .12 .15-.18 .46-1.42 .16-.31 .15-.13 .31-.02 .16 .06 .46 .76 .16 .11 .15-.06 .77-.78 .62-.87 .16 .01 .46 .37 .46 .03 .47 .5 .31 .58 .61 2.17 .16 .35 1.08 1.49 .15 .04 .31-.13 .16 .07 .46 .85 .16 .2 .46 .32 .31 .61M108.52 65.59l.46 2.44 .62 2.67 2.32 14.09 .62 3.11M114.39 91.66l.16 .11 .15 .02 .16-.12 1.23-1.52M119.65 77.34l.15-.07 .47 .01 .15-.19 .31-.62 .46-1.65 .31-.8 .16-.13 .31 .18M123.2 73.29l.47 .1 .77 .64 .77 .23 .46-.11 .62-.43 .47-.03 .77-.6 .62 .13 .61-.13 .47 .04 .31 .2 .77 .71 .46 .25 .31-.1 .47-.31 .31-.02M132.78 74.47l.78 .47 .3 .03 .31-.12 .62 .23 .16 .1 .92 1.03 .47 .3M137.57 78.77l.47 1.41M153.95 85.03l.62-.14 .47-.24M155.96 83.95l.47-.15 .61-.03 1.09-.43M159.52 82.58l.31 .02M160.91 83.1l.46 .17 .62 .11 .62-.18 .15 .05M165.39 84.77l.31-.22 .46-.04 .93-.23 .15 .02 .31 .3M221.95 92.65l.31 0M228.13 93.26l.46 .04" stroke="#0072BD" stroke-width="0.50"/>
<path d="M32.8 89.91l.62-.43 .46-.19 .31 .01 1.86-1.06 .46-.37 .93-1.27 1.08-.63 .77-.54 .62-.15 .77-.5 .62 .11 .15-.02 .62-.38 .47 0 .15-.07 .77-.98 .31-.18 .31-.09 .62 .05 .15-.05 .62-.68 .31-.23 .31-.06 .15 .04 .62 .43 .31-.23 .47-.98 .3-.37 1.09-.45 .3-.2 .78-1.04 .15-.07 .47 .19 .61-.51 .78-1.61 .46-.67 .15-.08 .62 .03 .47-.15 .15-.14 .46-.75 .16-.08 .15 .08 .78 .87 .31 .22 .46 .16 .15 .11 .31 .44M57.53 78.81l.3 .03 .47 .21 .15 0 .78-.55 .3-.05 .31-.15 .62-.59 .16-.07 .3-.01M61.7 76.72l.31-.18 .46 .1 .15-.04 .47-.48 .15-.04 .16 .12 .46 .82 .77 1.06 .93 .91 .31-.08 .15-.13 .47-.74 .62-.4 .46-.69 .15-.14 .16-.01 .15 .14 .62 1.19 .16 .15 .46 .04 .15 .08 .47 .75 .15-.06M71.12 78.1l.31-.17 .31 .08 .31 .26 .62 .77 .31 .18 .31-.04 .31-.29M78.39 71.88l.31-.89 .15-.06 .31 .31 .46 .91 .78 1.27 .15 .09 .16-.3 .15-.57M82.87 60.83l.15-.56 .31-.64 .16-.54 .61-3.56 .16-.65 .15-.36 .16 .02 .46 1.24 .31 .25M87.66 58.46l.15 0 .31 .43 .16 .07 .92-1.26 .47-1.14 .15 .09 .47 1.35 .15 .25 .16 0 .15-.23 .46-1.11 .16-.05 .15 .24 .16 .51 .46 1.89 .15 .39 .16 .17 .46-.03 .16 .24M94.77 66.2l.62 .88 .15-.03 .62-.6 .15 .02 .31 .34 .16 .07 .15-.11 .62-1 .46-.13M99.25 65.14l.46-.64 .62-1.05 .16-.1 .15 .01 .62 .14 .93 .46 .15 .19 .62 1.19 1.08 1.27 .15 .02 .47-.08 .46 .36 .46 .06 .31 .22 .31 .73 .16 .61 .62 3.19 .61 2.3M108.52 77.15l.46 1.2 .62 1.34M113.31 92.17l1.24 .34M119.49 77.35l.31-.33 .47-.09M123.36 73.17l.31 .03 .77 .4 .77 .06 .46-.04 .47-.25 .62-.01 .15-.08 .62-.58 .62-.02 .61-.13 .47-.02 .46 .21 1.08 .91 .16 .06 .62-.09 .31 .07 .77 .57 .46 .21 .47 .07 .3-.12 .31-.23M150.24 86.86l.31-.21 .62-.26M151.94 85.85l.47-.16 .46 .02 .31-.06M157.82 83.72l.61-.15M161.37 83.01l.31 .05M204.95 92.77l.77-.13M206.49 92.55l.78-.18M213.29 92.2l.78-.04M218.39 92.38l.78 .1" stroke="#D95319" stroke-width="0.50"/>
<path d="M32.8 88.01l.31-.23 .31-.15 .46-.05 .31 .06 .16-.07 2.16-1.87 .77-1.12 .31-.32 .77-.49 .93-.83 .62-.22 .62-.5 .31-.01 .46 .25 .15 0 .62-.43 .47-.03 .15-.06 .46-.57 .31-.26 .62-.21 .62-.01 .15-.05 .78-.93 .31-.16 .3-.01 .62 .45 .31-.24 .62-1.22 1.54-1.04 .78-1.15 .15-.07 .47 .18 .61-.63 .78-1.71 .31-.48 .15-.14 .15-.02 .16 .07 .62 .37 .31-.03 .31-.33 .3-.63 .16-.18 .15-.01 .47 .42 .62 1.02 .61 .42 .16 .17 .31 .56M57.68 76.83l.31 .11 .31 .24 .15-.03 .16-.12 1.08-1.45 .77-2.02 .31-.49 .31-.21 .15-.52 .47-.54 .31-.22 .46 .18 .15-.05M66.33 73.48l.16-.23 .62-.48 .46-.87 .15-.2 .16-.03 .15 .14 .62 1.29 .16 .14 .46-.02 .15 .09 .47 .86 .46-.47 .46-.33 .16-.24 .15-.11 .16-.01 .46 .3 .93 1.25 .31 .1 .31-.26 .46-.79 .16-.11 .15 .1 .15 .32 .93 2.95 .31 .34 .62 .38 .31-1.04 .77-4.2 .46-1.82 .47-2.21 .46-1.52 .16-.3 .15 .05M79.78 68.85l.62 1.03M82.87 55.07l.62-2.2 .61-4.05 .16-.7 .15-.35 .16 .08 .46 1.57 .31 .37M87.5 53.95l.16-.33 .15-.06 .31 .32 .16-.03 .92-2.24 .31-1.12 .16-.35 .15 .09 .47 1.59 .15 .33 .16 .07 .15-.18 .31-.67 .15-.21 .16 .07 .15 .39 .62 2.78 .15 .35 .16 .05 .46-.53 .16 .13 .77 2.55 .77 3.3 .78 2.14 .15 .11 .15-.05 .47-.5 .15-.03 .31 .31 .16 .04 .15-.16 .46-1.12 .31-.48 .47-.26 .46 .27 .16 0 .3-.36 1.09-1.83 .15-.11 .16 .04 .46 .43 .46 .17 .78 .52 .61 .93 .47 .38 .77 .85 .15 .01 .31-.1 .16 .05 .15 .17 .31 .5 .46 .44 .31 .44 .31 .85 .31 1.38M118.26 83.31l1.23-3.62 .31-.39 .47-.17 .15-.22 .31-.6 .46-1.47 .31-.62 .16-.05 .46 .49 .15 .02 .16-.13 .62-1.04 .15 .06 .31-.19 .31-.04 .62 .17 1.23 .1 .47-.2 .62-.15 .61-.6 .16-.04 .77 .47 1.08 .07 1.39 .56 .31-.02 .47-.16 .31 .01M132.63 75.92l.93 .31 .3-.03 .31-.13 .62 .26M135.87 77.72l.31 .3M137.88 80.98l.62 1.62M151.64 86.61l.46-.28 .77-.15 .47-.2 .61-.47 .78-.07M155.5 84.78l.31-.36M157.35 84.18l.62-.08M160.91 83.4l.92 .23 .31 .01M162.92 83.86l.31 .24 .46 .16M165.7 84.76l.77-.17M203.56 93.73l.46-.24M210.67 92.19l.92 .26 .31 .02M220.56 92.83l.77-.01M223.03 92.83l1.08 .06" stroke="#EDB120" stroke-width="0.50"/>
<path d="M32.8 87.28l.62-.59 .31-.15 .31-.02M34.81 86.1l1.7-1.15 .93-1.3 1.7-1.44 .3-.11 .47-.04 .62-.44 .15-.04 .62 .21 .15-.03 .62-.51 .47 .02 .15-.05 .62-.77 .15-.11 .62-.17 .62-.03 .31-.26M45.78 78.91l.31 .01 .15 .09 .47 .56 .15 .1 .31-.26 .47-1.19 .3-.48 .62-.41 .62-.04 .15-.05M50.26 76.16l.47 .19 .46-.57M52.58 73.18l.15-.04 .47 .03 .46-.18 .31-.24 .46-.74 .16-.08 .15 .07 .47 .58 .46 .86 .62 .6 .31 .45 .93 2.26 .3-.07 .47 .14 .31-.3 .92-1.76 .31-.95 .78-2.91 .15-.34 .31-.44 .15-.64 .62-.92 .16-.06 .46 .32 .15-.04 .62-1.07 .16 .02 .15 .2 2.01 2.98 .16 .05 .3-.11 .47-.81 .46-.28 .16-.16 .46-.83 .15-.14 .16 .05 .15 .25 .62 1.82 .16 .25 .61 .31 .47 .87 .46-.69 .31-.33 .31-.57 .31-.3 .15 0 .31 .23 .77 1.26 .31 .25 .16-.01 .15-.12 .62-1.13 .16-.16 .15 .07 .15 .29 .31 .95 .62 2.29 .31 .56 .62 .77M77.31 69.73l.77-3.32 .31-1 .31-.66 .15 .13 .16 .36 .77 2.54 .62 1.39 .15 .11 .16-.39 .46-2.42 .46-2.98 1.08-9.71 .31-1.59 .47-1.28 .61-3.45 .16-.61 .15-.31 .16 .08 .46 1.29 .16 .09 .15 0 .16 .21M87.2 53.74l.15-1.53 .15-.67 .16-.28 .15 .06 .31 .63 .16 .1 .15-.25 .62-1.76 .46-1.74 .16-.36 .15 .14 .47 2.03 .15 .49 .16 .2 .15-.08 .46-.9 .16 0 .15 .34 .62 3.1 .15 .53 .16 .16 .46-.21 .16 .22 .77 2.29 .77 3.05 .16 .38 .62 1.06 .15-.03 .15-.17 .47-.67 .15-.03 .31 .34 .16 .03 .15-.18 .46-1.17 .16-.27 .15-.13 .47-.1 .46 .32 .16 0 .15-.12 1.24-1.6 .15-.09 .16 .05 .46 .55 .46 .37 .78 .84 .61 1.22 .16 .17 .46 .23 .62 .55 .15 .03 .31-.06 .16 .06 .46 .68 .62 .6 .31 .6 .15 .51 .78 4.07 1.23 5.13 .62 1.99 .77 1.97 .78 3.35 .92 3.53 .78 3.51 1.08 3.76 .15 .23 .31 .19 .93 .43 .15-.04 .31-.41 1.08-1.87M117.64 81.45l.31-1.5 1.39-5.22 .31-.66 .15-.12 .47-.15 .15-.27 .31-.77 .46-1.8 .31-.7 .16-.02 .46 .8 .15 .12 .16-.06 .62-.91 .15 .09 .47-.3 .15 .01 .62 .32 .46 .05 .77 .33 .16 0 .46-.18 .47 .04 .61-.45 .16-.05 .62 .06 .77-.55 .31-.07 .15 .04 .47 .42 .77 .94 .31 .23 .15 .01 .62-.24 .31 .02 1.55 .73 .3 .04 .31-.1 .78 .39 .61 .99 .47 .97 .77 .97 .31 .53M150.71 86.27l.62-.2 .77-.47M154.42 84.54l.62-.06M156.43 83.52l1.23-.29M159.67 82.4l.62-.04 .62 .21M163.23 83.23l.61 .3 .31 .35M164.93 84.92l.61-.39 .62-.19 .47-.29M168.94 86.44l1.08 1.43M203.09 93.44l.93-.48M207.58 92.12l.31-.11M212.21 92.09l1.24 .05M227.36 93.02l.77 .01M232.15 93.52l.46 .11M236.01 94.18l.31 .01" stroke="#7E2F8E" stroke-width="0.50"/>
<path d="M37.59 86.11l.93-.3 .77-.65 .62-.26 .62-.54 .31-.08 .46 .13 .15-.02 .62-.41 .47-.08 .15-.1M43.93 82.49l.46 .01M46.71 81.48l.15 .09 .16-.09M52.43 75.24l.3-.23 .47 .01 .46-.18M55.98 75.38l.31 .12M57.06 76.59l.31 .49 .16 .14 .3 .1 .47 .46 .31 .19 .62-.1 .61 .1 .62-.24 .62 .24 .15-.28 .47 0 .31 .13 .46 .36 .15 .01 .47-.38 .15-.04 .16 .1 .46 .75 .77 1.03 .93 .88 .31-.03 .15-.09 .47-.67 .62-.42 .46-.51 .15-.06 .16 .06 .15 .18 .62 1.15 .16 .11 .61-.07 .47 .5 .46-.27 .31-.07 .31-.29 .31-.16 .46 .07 .93 .68 .31 .07 .31-.11 .46-.47 .16-.09 .15 .05 .15 .19 .93 1.74 .47 .24 .3 .29 .16 .06 .15-.29 .31-1.09 1.55-6.91 .31-1.12 .31-.82 .15-.07 .16 .11 .61 1 .78 .85 .15 0 .16-.43 1.08-5.38 .92-6.41 .31-1.19 .31-.44 .16-.47 .77-4.01 .15-.39 .16-.05 .46 .89 .16 .03 .15-.06M87.5 59l.16-.11 .15 .18 .31 .64 .16 .11 .15-.13 .62-.87 .62-1.65 .15 .02 .47 1.1 .15 .18 .16-.05 .15-.26 .46-1.03 .16 .01 .15 .33 .16 .59 .46 2.08 .15 .4 .16 .14 .46-.24 .16 .17 .77 2.38 .77 3.07 .78 1.57 .15 .03 .15-.1 .47-.45 .15 0 .31 .31 .16 .04 .15-.14 .46-.96 .31-.4 .47-.29 .62 .04 .92-.73 .47-.5 .15-.11 .16-.01 1.7 .93 .61 .86 .62 .47 .62 .73 .15 .04 .47-.2 .15 0 .77 .31 .31 .41 .31 .85 .78 3.6 .61 2.13 .78 3.15 .61 2.16 .62 1.82M110.53 85.09l1.55 5.3 1.08 2.67 .31 .24 1.08 .49 .15 .01 .47-.4 .92-1.08 .16-.28 1.54-5.61 1.55-4.29 .31-.49 .62-.32 .15-.24 .31-.68 .46-1.59 .31-.73 .16-.1 .15 .06 .31 .29 .15 .02 .16-.1 .62-.79 .15 .09 .47-.17 .61-.03 .47-.1 .92 .11 .16-.04 .31-.15 .62-.08 .77-.78 1.54-.17 .31 .05 1.39 .82 .31 .03 .47-.08 .31 .06 .92 .7 .62 .28 .31 .04 .46-.14 .78 .3 1.08 1.32 .62 .45 .46 .56 1.39 3 .46 1.48M147.31 91.73l2.16-3.33M150.4 87.15l.77-.2 .93-.45 .93-.08 .31-.14 .61-.42 .62 .06 .31-.08 .31-.19 .77-.65 .31-.14 .77-.01 1.24-.2 .31-.18 .77-.61 .31-.16 .62 .07 .46 .2 1.24 .28 .62-.04 .62 .31 .61 .14 .16 .11M165.54 85.55l.62-.11 .47-.23M167.55 85.48l.77 1.22 1.24 1.3 1.08 1.47M209.89 92.31l.78 .01 1.08 .21 2.16 .07 1.08 .18 1.24-.19 .31 .02 1.08 .28 .93-.06 .77 .04 .93 .17 2.16-.02 1.55 .14 1.08 .33 .77-.02 1.24 .11 1.08-.02 2.16 .23 .93 .24 .77-.06M233.23 94.24l1.85 .33 1.08 .05 1.4 .19 2.16 .7M287.01 97.54l.46-.03M293.03 97.26l.62-.02" stroke="#77AC30" stroke-width="0.50"/>
<path d="M32.8 88.15l.77-.67 .31-.08 .31 .1 .93-.35 .77-.62 1.55-1.73 1.08-.59 .77-.67 .62-.25M40.68 82.7l.77 .06 .47-.27 .15-.02 .47 .19 .15-.03 .15-.14 .47-.72 .31-.3 .46-.19 .62 .07M45.47 80.54l.31-.26 .31-.08 .31 .15 .46 .47M48.56 78.54l.77-.21 .78-.84 .15-.06 .47 .19 .61-.59 .78-1.71 .31-.52 .15-.17 .31-.06M53.66 74.63l.31-.19 .46-.7 .16-.05 .15 .1 .93 1.3 .62 .32 .31 .34 .93 2.07 .3 0 .47 .28 .15-.01 .31-.25 .62-.77M60.62 74.1l.46-.62 .15-.62 .62-1.21 .16-.16 .15 0 .31 .13 .15-.03 .47-.55 .15-.06 .16 .14 .62 1.12 .61 .77 .47 .38 .46 .67 .31 .07 .15-.04 .47-.56 .46-.07 .31-.33 .31-.54 .15-.16 .16 .01 .15 .19 .62 1.53 .16 .19 .15 .06 .31-.01M70.51 74.53l.15-.11 .46-.6 .31-.02 .47 .33 .77 .88 .31 .14M75.45 77.94l.31 .1 .15 .14 .16 .02 .15-.39M82.56 59.25l.46-2.7 .31-.95M84.26 50.38l.15-.36 .16 .04 .46 1.45 .31 .43M91.37 53.7l.15 .13 .16 .42 .46 1.75 .15 .35 .16 .12 .31-.17 .15-.01 .16 .25M96.16 63.19l.15 .01 .31 .39 .16 .09 .15-.1 .62-1.17 .62-.43 .31 0 .31-.12M99.56 60.95l.62-.57 .15-.12 .16-.02 .46 .22 .46 .12 .47 .31M103.73 63.14l.31 .4 .15 .07M118.1 83.14l.31-.96M119.49 78.87l.31-.3 .47-.12M123.2 74.84l.31-.13 .31 .03 .62 .42 .77 .25 .46-.16 .47-.38 .15-.06 .47 0M127.53 74.21l.62 .11 .77-.05 .46 .09 1.24 1.14 .31 .13 .62-.15 .31 0 .77 .38 .46 .05 .47-.02 .46-.19M136.18 77.91l.77 .74 .31 .6M150.24 87.17l.16-.11 .77-.25M155.81 84.74l.46-.29 .77-.11 .47-.17M159.36 83.15l.31-.08 .16 .03 .92 .39 .78-.08 .46 .05 .62-.04M164.46 85.21l.31 .44 .16-.05 .46-.42M166.32 84.74l.61-.25M213.76 92.45l.46-.02M215.92 92.41l.46-.01M219.48 92.65l.61 .12M228.13 93.33l1.08 .11M230.14 93.55l1.08 .24 .93 .02M237.4 94.53l.31 .05" stroke="#4DBEEE" stroke-width="0.50"/>
<path d="M32.8 86.89l.46-.35 .31-.13 .31-.02 .31 .13 .16-.04 .46-.27 .77-.59 .93-.97 .93-1.36 1.08-.82 .77-.73 .62-.12 .62-.28 .31 .03 .3 .14 .16 .02 .15-.07 .62-.63 .62 .04 .62-.71 .31-.21 .46-.17 .77 .03 .16-.1 .46-.53 .31-.21 .46-.06 .62 .49 .31-.26 .47-1.16 .3-.47 .62-.39 .77 0 .31-.31 .47-.68 .15-.08 .47 .11 .61-.72 .78-1.68 .46-.72 .31-.1 .46 .04 .47-.18 .15-.18 .46-.9 .16-.15 .15 .02 .47 .42 .31 .19 .31 .01 .61-.26 .31 .11 .31-.03 .31-.3 .62-1.47M62.01 16.36l.15-.6 .31-.62 .15-.6 .47-3.22 .15-.54 .16 .32 .46 2.76 .77 3.13 .47 1.56 .46 2.26 .16 .23 .15 .09 .15-.13 .47-2.05 .46-1.01 .62-2.94 .15-.27 .16 .31 .15 .86 .62 5.31 .16 .63 .15 .2 .16 .02 .15 .14 .15 .43 .47 2.87 .62-2.9 .3-1.04 .16-.9 .31-.86 .15-.13 .16 .03 .31 .5 .77 2.83 .15 .28 .16 .07 .15-.18 .16-.45 .46-1.84 .16-.17 .15 .45 .31 2.57 .77 9.53 .16 1.26 .15 .92 .62 1.6 .15-.7 .16-1.31 .46-5.39 .31-2.01 .62-1.5 .15-.13 .16 .06 .15 .2 .16 .33 .15 .41 .16 .8M80.55 49.26l.16-.07 .15-.61 .46-2.5M83.02 30.58l.47-2.74 .61-5.19 .16-.81 .15-.32 .16 .27 .46 2.47 .31 .54M87.81 30.48l.16 .27 .31 1.08 .15-.01 .62-1.47 .62-2.59 .15 .12 .47 2.43 .15 .54 .16 .17 .15-.2 .46-1.3 .16 .03 .15 .48 .47 2.96 .3 1.38 .16 .15 .31-.37 .15-.07 .16 .31M93.99 38.7l.31 1.79 .31 1.35 .78 1.98 .15 .1 .15-.09 .47-.63 .15 .03 .31 .57 .16 .11 .15-.2 .46-1.55 .16-.38 .15-.2 .31-.2 .16-.03 .46 .6 .16 .11 .15-.02 .62-.5 .15-.2 .47-1.09 .15-.27 .16-.07 .46 .28 .46-.09 .16 .05 .46 .43 .31 .76 .46 1.88M104.04 45.25l.46-.23 .16 .09 .62 1.3 .46 .29 .15 .17 .31 .92 .31 1.92 .62 4.81 1.24 8 .61 3.43 .47 2.18M113.62 89.61l.93 .56 .15 .01 .16-.14M119.49 73.48l.16-.16 .15-.03 .47 .05 .46-.98M121.5 69.58l.16-.08 .46 .58 .15 .04M123.05 68.97l.15 .2 .31 .02 .16 .09 .46 .48 .31 .21 .77 .04 .62-.14M127.22 68.96l.31-.26 .15 .01 .47 .19 .46 .04 .31 .11 .46 .43 .78 1 .61 .49 .16 .04 .31-.09 .62-.46 .3-.02 .31 .09M133.56 71.01l.3 .03 .31-.09 .78 .53 .61 .91 .47 .85 .62 .74 .3 .47 .31 .8 1.39 4.28 .47 2.14M141.9 94.15l.77 .66M150.4 86.03l.93-.08 .92-.64M153.49 84.94l.46-.31 .62 .03 .47-.11 .61-.43M156.43 83.6l.61-.1 .62-.21 .47-.03 .3-.09 .31-.22 .78-.76 .31-.15 .46 .02 .93 .44M161.99 82.8l.46-.05 .31 .12 .62 .6 .62 .39 .62 .92 .15 .12 .16-.11M166.01 83.77l.92-.3 .31 .11M205.1 92.62l.62-.13M208.66 91.69l.31-.02 .62 .15 .46-.02M211.9 91.93l.78-.09 2.16 .24M218.24 92.19l.31 .02M219.78 92.41l.47 .07 1.54-.07M223.03 92.58l.46 0M225.81 92.8l.93 .15 .77 .01M231.53 93.32l.62 .05M233.69 93.86l.31 .02M236.16 94.11l1.09 .17" stroke="#A2142F" stroke-width="0.50"/>
<path d="M32.8 89.35l.46-.36 .31-.12 .31-.02M37.28 86.45l.31-.23 .77-.37 .47-.46M40.53 84.31l.31 .05 .46 .19 .15-.03 .62-.42 .47 .04 .15-.05 .77-.99 .47-.3 .46-.17M45.47 81.56l.16-.15 .31-.09 .3 .06 .16 .11M49.95 78.23l.16-.14 .15-.02 .47 .38M53.35 75.64l.47-.17 .15-.16 .46-.76 .16-.04M55.36 75.32l.31-.17 .16-.17 .61-1 .31-.3 .31-.44 .16-.35 .31-1.16 .61-1.5 .16-.62 .31-3.1 .92-11.95 1.09-21.32 1.08-14.33 .31-3.37 .15-.73 .31-.97 .15-.83 .47-4.07 .15-.77 .16 .18 .46 2.98 .77 3.63 .47 1.13 .46 2.12 .31 .43 .15-.06 .47-1.92 .46-1.15 .62-3.85 .15-.53 .16 .1 .15 .72 .62 5.3 .16 .68 .15 .26 .16 .08 .15 .24 .15 .54 .47 3.15 .62-3.54 .46-1.8 .15-.22 .16 .13 .15 .37 .93 3.28 .31 .77 .15 .09 .16-.1 .15-.3 .47-1.68 .15-.37 .16 .02 .15 .63 .15 1.21 .93 10.31 .31 1.94 .31 .8 .31 1.12 .15-.64 .16-1.32 .62-7.35 .15-.88 .16-.49 .46-.7 .15 .16 .47 1.54 .31 1.64 1.08 16 .62 5.76 .15 .99 .16 .06 .15-.52 .62-3.31 1.23-13.8 .78-5.06 .61-5.37 .16-.79 .15-.26 .16 .37 .46 2.85 .47 1.25 .15 2.92 .62 36.85 .15 5.32 .16-3.52 .62-30.35 .15-3.22 .31-2.25 .15-.37 .16 .11 .31 .9 .15-.02 .62-1.42 .62-2.59 .15 .15 .47 2.51 .15 .54 .16 .14 .15-.24 .46-1.54 .16-.05 .15 .42 .62 3.71 .15 .52 .16 .16 .31-.26 .15 .03 .16 .43 .92 5.46 .47 3.13 .31 1.17 .62 1.08 .15-.06 .46-.64 .16-.07 .15 .17 .31 .82 .16 .16 .15-.13 .62-1.6 .31-.24 .31-.38 .46 0 .16-.1 .46-.73 .62-.59 .46-.74 .16-.04 .46 .23 .31 .04 .31 .31 .62 .99 .61 1.47 .62 .81 .62 1.01 .15 .2 .31 .19 .16 .21 .62 1.72 .61 1.17 .31 1 .16 .76 1.23 7.81 .93 6.37 .46 2.2 .62 2.42 .78 4.66 .92 4.81 .93 5.8 .77 3.77 .16 .65 .15 .31 1.08 .84 .16 .1 .15-.01 .31-.4 .62-1.13 .46-.68 .16-.37 1.54-7.97 1.55-6.13 .15-.42 .16-.24 .15-.08 .47 0 .15-.25 .31-.75 .46-1.84 .31-.74 .16-.04 .46 .67 .15 .04 .16-.15 .62-1.1 .15 .15 .47-.1 .61 .37 .62 .23 .31 .23 .46 .14 .62-.29 .47 .01 .77-.63 .62 .05 .61-.36 .31-.05 .31 .14 .62 .69 .62 .5 .31 .03 .46-.26 .31-.01 1.08 1.03 .78 .25 .3-.04 .31-.16 .62 .32 .16 .15 1.08 1.85 .77 .56 .31 .45 1.54 4.58 .62 2.98 1.08 6.23 1.24 5.34 .16 .53 .15 .26 1.08 1.01 1.08 .81 .47-.4 1.54-1.91M147.93 89.9l1.23-2.13 .93-1.36 .31-.31 .77-.24 .93-.59 .77-.08 .31-.14 .77-.66 .62-.15 .31-.19 1.08-.93 .47-.09 .46 .14 .31 .02 1.08-.23 .46-.27 .78-.63 .31-.12 .46-.01 .62 .23 1.08 .24 .62 .04 .62 .52 .77 .35 .62 1 .15 .16 .93-.64 .46-.01 .62-.13 .31-.01 .15 .05 2.32 2.97 .46 .8M205.57 92.44l1.23-.15 .62-.17M208.19 91.78l.78-.24 .77 .18 .77 .02 1.08 .22 .47 .02M214.99 92.13l1.09-.14 1.39 .23 .92-.11 .93 .06 .93 .2 1.7-.17 .46 .05 .77 .23 1.09 .11 .77 .21 1.23-.05 1.24 .15 .93 .04 1.23 .22 .78-.01 .77 .22 .77 .04 1.55 .36 1.7 .25 .92 .04 1.24 .18 1.7 .65M240.8 95.46l1.08 .28 1.08 .55M291.33 97.13l2.48-.09M296.59 96.9l2.31 .03 2.94-.07M306.01 96.88l1.08-.04 4.49 .09M313.43 96.97l1.39 .08 4.33 .05 1.54 .11M322.24 97.3l4.48 .23" stroke="#0072BD" stroke-width="0.50"/>
<path d="M32.8 88.96l.77-.52 .31-.09 .31 .04 .77-.46M38.67 84.51l.62-.58 .62-.15 .62-.43 .31-.02 .46 .19 .31-.07 .46-.27 .47 .12M45.63 81.12l.15-.06 .31 .03 .15 .1 .47 .52 .15 .09M48.72 79.35l.61-.22M54.59 74.89l.15 .1 .47 .59M55.98 76.51l.31 .12 .31 .3 .93 2.14 .46 .24 .62 .61 .62 .11 .61 .35 .62 .07 .62 .5 .15-.16 .47 .25 .77 .58 .15 0 .16-.08 .46-.35 .16 .03 .46 .48 .62 .48 .62 .29 .46 .4 .46 .03 .47-.4 .46-.19 .62-.74 .15-.13 .16-.02 .31 .31 .46 .76 .31 .2 .46 .09 .47 .5 .77-.34 .31-.27 .31-.12 .46 .13 .93 .74 .31 .08 .31-.11 .62-.61 .15 0 .15 .13 .93 1.38 .93 .28 .15-.32 .31-1.09 .62-2.87 .62-2.28 .31-.84 .46-.97 .16-.25 .15-.08 .16 .02 .92 .49 .47 .56 .15 .03 .16-.29 .61-2.33 .47-1.35 .15-.67 .93-5.39 .62-1.69 .61-3.01 .16-.5 .15-.26 .16 .05 .46 1.04 .31 .17 .16 .21 .15 1.67 .46 16.39 .16 3.45 .15-1.52 .62-15.08 .16-1.47 .3-.94 .16-.13 .15-.01 .31 .13 .16-.14 .46-.98 .46-.8 .47-1.12 .15 .06 .47 1.2 .15 .26 .16 .06 .15-.12 .46-.7 .16 .02 .15 .25 .62 2.12 .15 .31 .16 .1 .46-.28 .16 .11 .92 2.2 .62 1.8 .78 1.46 .15 .08 .15-.04 .47-.26 .15 .05 .31 .39 .16 .1 .15-.04 .62-.82 .62-.34 .46-.05 .16-.08 1.39-1.84 .15-.11 .16 .01 .61 .5 1.09 .53 .77 1.01 1.08 .67 .62-.09 .62 .52 .61 .23 .31 .44 .16 .4 1.39 5.32 .31 .92 .62 1.53 .92 1.82 1.08 2.94M112.08 89.35l.3 .88M114.08 92.47l.47 .13 .15-.05 .16-.17 1.23-1.97 .16-.35 1.54-7.17 1.55-5.44 .31-.57 .15-.09 .47 .04 .3-.45 .16-.32 .62-2.07 .15-.29 .16-.09 .46 .51 .15 .04 .16-.11 .62-.98 .15 .07 .47-.24 .3 .12 .47 .4 .77 .51 .46 .04 .16-.08 .46-.45 .47-.27 .46-.52 .31-.2 .77 .26 1.86 .12 .3 .19 .62 .6 .47 .27 .46 .1 .46 .3 .62-.05 .62 .06 .46-.17 .62 .15 .16 .08 .46 .56 .77 1.28 .77 .83 .16 .25 .62 1.53 .92 2.61 .62 2.66 .93 4.61 .77 2.76M142.05 94.58l1.09 .88 .77 .53 .15 .05M150.4 86.5l.77-.2 .77-.37 .47-.07M154.11 85.13l.62-.08M156.27 83.99l2.01-.27 1.24-.89 .31-.1 .46 .03 .62 .25 .92 .13 .78-.08 1.08 .82M165.39 84.89l.31-.21 .31-.03 .62-.2 .46-.02M168.32 86.02l.31 .36M202.17 93.94l1.08-.34 1.08-.57 .46-.16M207.58 92.29l.77-.32 .46-.08M214.68 92.31l1.4-.15 .46 .03 1.39 .33M222.26 92.53l.31 .03M225.35 92.98l.46 .01 .77 .13M229.37 93.25l1.08 .12 .62 .17 .46 0M232.76 93.79l.47 .13" stroke="#D95319" stroke-width="0.50"/>
<path d="M32.8 88.55l.62-.5 .31-.09 .46 .06 .16-.07 1.39-1.04 .77-.49 1.08-1.41 1.7-1.35 .62-.27 .62-.55 .31-.07 .61 .2 .62-.26 .47 .15 .15-.03 .77-.86 .62-.36 .77-.25 .62-.67 .31-.17 .46 .01 .47 .36 .15 .05 .31-.3 .47-1.14 .3-.44 .62-.42 .77-.18 .78-.8 .15 .01 .47 .41 .46-.37 .15-.2 .93-2.19 .31-.49 .15-.12 .16-.04 .93 .1 .15-.03 .46-.43 .16-.01 .62 .58 .46 .54 .62 .27 .15 .14 .31 .53M58.14 78.61l.16 .17 .31 .13 .62-.22 .46-.05 .31-.27 .46-.62 .16-.13 .46-.16 .15-.39 .47-.24 .31 .05 .46 .36 .15 0 .47-.48 .15-.09 .16 .06 .46 .68 .77 .92 .47 .21 .46 .32 .46-.12 .47-.52 .62-.18 .46-.53 .15-.1 .16 .01 .15 .15 .62 1.03 .16 .1 .46-.06 .15 .04 .47 .62 .77-.56 .46-.53 .16-.05 .15 .02 .31 .17 .93 1.13 .31 .15 .31-.15 .62-.84 .15 0 .31 .45 .77 1.76 .93 .74 .15-.3 .31-1.11 .62-2.96 .93-3.9 .62-1.93 .15-.12 .31 .16 .77 .82 .47 .71 .15 .08 .16-.33 1.08-5.01 .92-6.63 .31-1.34 .31-.65 .16-.55 .61-3.46 .16-.57 .15-.26 .16 .13 .46 1.5 .16 .22 .15 .1 .16 .26 .15 1.85 .62 22.61M87.2 60.17l.15-1.16 .15-.62 .16-.3 .15 0 .31 .41 .16 .04 .77-1.3 .62-1.53 .15 .13 .47 1.54 .15 .29 .16 .05 .15-.2 .46-1.1 .16-.06 .15 .22 .62 2.31 .15 .36 .16 .14 .31-.09 .15 .02 .16 .25 .46 1.59 .46 1.25 .47 1.7 .31 .73 .62 1 .15 .01 .62-.47 .15 .08 .47 .75 .15 .01 .62-.8 .15-.11 .47-.17 .46 .13 .16-.12 .46-.7 .93-1.17 .15-.14 .16-.02 .77 .48 .93 .77 .61 .83 .16 .11 .46 .18 .62 .49 .46-.1 .16 .03 .62 .64 .3 .08 .31 .19 .31 .58 .16 .53 .77 3.8 1.39 5.71 1.08 3.33 .78 2.98 .92 2.93 .78 3.02 .92 2.55 .16 .35 .15 .17 1.24 .53 .15-.02 1.39-1.63 .16-.28 1.54-6.16 1.55-4.58 .31-.52 .62-.27 .15-.22 .31-.63 .46-1.5 .31-.68 .16-.09 .46 .39 .15 .03 .16-.11 .62-.77 .15 .11 .47-.11 .61 .05 .62-.13 .77 .16 .47-.15 .62-.03 .15-.1 .62-.66 1.23-.21 .62 .11 1.55 .91 .62-.12 .31 .02 1.54 1.16 .31 .07 .46-.21 .62 .17 .16 .11 1.08 1.52 .62 .37 .3 .27 .16 .22 .93 2.01 .61 1.55 1.55 6.65 .77 2.35M141.9 94.97l1.08 .78 1.08 .53M152.25 86.22l.62-.1 .47-.28M155.34 85.14l.78-.46 .31-.12 .61-.03 1.39-.28 1.09-.78 .46-.12 .31 .06 .62 .29 .46 .09 .46 0 .62-.14 .16 .04 .77 .87 .62 .37 .77 1.02 .93-.55 .46-.07 .62-.24 .46-.04 1.24 1.3 1.08 1.33 1.39 2.07M204.33 93.26l.93-.34 1.85-.26 .93-.32M209.12 92.14l.62 .13 .77-.14M211.9 92.4l1.24 .12 1.08-.01 .77 .08M216.69 92.47l.93 .17 .77-.02M220.09 92.88l1.24 .08 1.08-.15M229.21 93.55l1.08 .09 .93 .27 .77 .01 1.55 .31 4.02 .45 2.93 1.06 1.7 .46 2.63 1.19M290.87 97.29l.93 0M296.43 97.05l1.55 .06 2.32-.03M303.54 97.04l1.7 0M307.56 97.06l1.54 .02" stroke="#EDB120" stroke-width="0.50"/>
<path d="M32.8 89.5l.77-.51 .31-.08 .31 .06 .16-.06 2-1.36M38.05 85.72l.47-.26 .77-.63 .62-.18 .62-.4 .31-.03 .46 .1 .31-.16 .46-.42 .47-.07M43.62 82.66l.46-.09 .62-.03 .31-.21M45.94 81.48l.3 .04 .47 .34 .15 .04 .16-.16M47.94 79.98l.62-.31 .77-.14M52.58 75.69l.15-.06 .16 .02 .62 .28 .31 .07 .15-.07 .46-.6 .16-.07 .15 .07 .93 .93 .77 .28M57.37 77.59l.16 .08 .3 0 .47 .31 .15-.06 .16-.17 .92-1.58 .16-.38 .93-3.29 .46-1.01 .15-.73 .47-.99 .31-.37 .46 .16 .15-.08 .47-.83 .15-.13 .16 .12 .46 1.04 .62 .92 .15 .16 .47 .25 .46 .68 .31 .15 .15-.01 .47-.6 .46-.21 .16-.16 .46-.88 .15-.18 .16-.02 .15 .18 .16 .34 .46 1.18 .16 .19 .46 .1 .15 .1 .47 .84 .46-.65 .31-.26 .31-.42 .15-.11 .16-.02 .31 .17 .92 1.11 .31 .22 .31-.05 .62-.77 .16-.09 .15 .1 .15 .29 .93 2.8 .31 .35 .62 .36 .31-1.04 .77-4.02 .46-1.46 .47-1.78 .46-1.05 .16-.18 .15 .16 .77 1.97 .47 .76 .31 .65 .15 .13 .16-.36 .77-4 .31-1.93 .77-6.95 .31-2.19 .15-.82 .47-1.72 .46-2.88 .31-1.4 .15-.19 .16 .24 .46 1.98 .47 .88M87.2 55.66l.15-1.43 .15-.62 .16-.26 .15 .05 .31 .64 .16 .16 .15-.13 .62-1.16 .46-1.33 .16-.28 .15 .16 .47 1.74 .15 .36 .16 .09 .15-.17 .46-1.04 .16-.04 .15 .25 .62 2.6 .15 .41 .16 .16 .46-.23 .16 .19 .77 2.55 .62 2.44 .15 .41 .78 1.36 .15 .1 .15-.02 .47-.26 .15 .04 .31 .36 .16 .05 .15-.14 .46-.89 .16-.13 .15 .02 .93 .44 .16-.12 .15-.25 1.08-2.28 .31-.43 .16 .01 .15 .16 1.08 1.42 .47 .42 .77 1.28 .77 .64M104.5 63.23l.31 .23 .31 .44 .62 .38M108.21 73.85l1.39 3.99 .78 3.19 .92 3.04 .78 3.25 1.08 3.57 .15 .2 1.24 .52 .15-.03 .31-.37 1.08-1.79 .16-.4 1.54-7.75 1.55-5.89 .31-.69 .15-.12 .47-.03 .3-.49 .16-.33 .62-2.14 .15-.31 .16-.08 .15 .13 .31 .48 .15 .1 .16-.06 .62-.69 .15 .16 .62-.25 .46 .06 .47-.03 .46 .18 .46 .03 .62-.44 .62-.14 .46-.37 .16-.03 .62 .19 .77-.28 .31-.03 .31 .14 1.39 1.17 .77 .09 .93 .57 1.08 .37 .46 .02 .62 .42 .16 .12 .46 .6 .62 .95 .77 .59 .31 .44 1.54 4.38 .62 2.89 .93 4.95 1.55 6.17 .15 .25 .31 .27 1.7 1.31 .15 .06 .31-.25 1.86-2.29 1.23-2.54 1.08-1.64 .78-1.35 .92-1.37 .16-.1 .93-.25 .77-.49 .93-.27 .31-.18 .46-.48 .31-.22 .93-.21 1.23-.6 .77-.04 1.24-.25 .46-.27 .93-.84 .31-.09 .31 .01 .62 .27 .92 .2 .16 .02 .46-.12 .31 .06 .47 .37 .77 .43 .62 1.07 .15 .17 .16-.05 .46-.36 .31-.15 .46 0 .77-.26 .31 .02 .31 .37 .93 1.44 1.08 1.28 1.39 2.11 1.08 1.91 1.7 3.56M197.38 96.9l2.78-1.68 1.85-1.29 1.55-.61 1.7-.84 .62-.16 1.23-.18 1.24-.33 .62-.08 .77 .19 1.08-.06 .93 .18 .93-.04 2.16 .19 1.39-.13 .46 .07 .93 .3 .93-.14 .46 0 .47 .07 .46 .18M221.79 92.48l.62-.02 .77 .2 .93 .07 .77 .21 1.09-.04 1.23 .23 1.08-.04 .93 .18M231.37 93.61l.78-.03 1.54 .35 2.17 .3M236.63 94.31l1.08 .12M238.79 94.84l2.78 .94M278.97 97.78l1.7 .02M289.63 97.24l3.4-.11M294.58 97.05l1.85-.11M298.6 96.99l3.55-.08 4.33 .01M313.74 97.05l.93 .05" stroke="#7E2F8E" stroke-width="0.50"/>
<path d="M32.8 89.07l.62-.41 .46-.1M35.12 87.87l.77-.71 .77-.56 .78-.91 .61-.47 1.24-1.14 .15-.07 .47-.04 .62-.41 .15-.05 .62 .2 .15-.01 .62-.36 .47 .04 .15-.06 .77-.86 .62-.22 .62-.06 .15-.07 .78-.88 .31-.16 .3-.04 .62 .39 .31-.22 .47-.97 .3-.38 .62-.36 .77-.27 .78-.89 .15-.02 .47 .23 .61-.72M52.12 75.98l.46-.69 .31-.08 .46 .12 .47 .04 .15-.08 .46-.64 .16-.06 .15 .1 .47 .57M56.13 76.22l.47 .43 .62 1.18 .31 .39 .3 .04 .47 .34 .15 .03 .31-.19 .93-.9 .62-1.11 .31-.42 .46-.16 .15-.42 .62-.48 .16-.03 .46 .11 .15-.11 .47-.82 .15-.13 .16 .08 .46 .94 .62 1.04 .31 .36 .31 .25 .46 .61 .31 .08 .15-.05 .47-.61 .46-.27 .16-.17 .46-.83 .15-.17 .16-.01 .15 .16 .47 1.1 .31 .53 .15 .08 .46 .05 .47 .51 .46-.56 .31-.18 .46-.4 .31 .06 .31 .22 .93 1.14 .31 .15 .31-.13 .62-.73 .15 .04 .31 .5 .77 1.84 .77 .66 .16 .03 .31-.99 .77-3.9 .46-1.62 .62-2.61 .47-1.43 .15-.06 .16 .14 .61 1.34 .78 1.16 .15 .01 .16-.43 1.08-5.82 .92-6.88 .31-1.43 .31-.81 .16-.64 .77-4.62 .15-.36 .16 .05 .46 1.44 .31 .34 .16 .3M87.35 56.76l.15-.56 .16-.25 .15 .02 .31 .47 .16 .06 .15-.2 .77-1.52 .47-1.4 .15 .06M91.21 54l.16-.07 .15 .23M92.45 57.28l.46-.12 .16 .2 .77 2.33 .77 2.9 .78 1.33 .15 0 .62-.58 .15 .04 .31 .47 .16 .12 .15-.07 .62-1.08 .62-.37 .31 .02 .31-.11 .46-.61 .93-.94 .15-.11 .16-.01 .46 .26 .46 .04 .62 .44 .31 .5 .31 .76 .31 .54 1.08 .54 .46-.18 .16 .03 .15 .15M105.58 64.56l.31 .28 .31 .7M106.98 69.5l1.39 5.9 1.08 3.41M113.77 92.46l.78 .26 .15-.01 .31-.31 1.08-1.48M117.17 86.59l.78-3.32 1.39-4.34 .31-.5 .62-.15 .15-.22 .31-.65 .46-1.57 .31-.68 .16-.07 .46 .5 .15 .04 .16-.12 .62-.89M123.97 74.51l.93 .17 .31 .12 .46-.01 .62-.41 .47-.06 .15-.07 .46-.4 .16-.06 .62 .15 .92 .09M130.31 74.61l.46 .16 .62-.19 .31-.01 .93 .6 .77 .31 .31 .09 .46-.06 .78 .45 .92 1.3 .31 .33M137.26 78.7l1.24 2.97 .46 1.73M150.71 86.85l.46-.11 .93-.53 .77-.24 .47-.23 .61-.45 .62 .04 .47-.1 .3-.18 .93-.78 .46-.1M158.13 84l.3-.15 .93-.79 .31-.17 .62 .03 1.24 .47M163.23 83.96l.77 .35M165.7 84.87l.46 0 .93-.36 .15 0 .31 .25 .31 .38M202.63 93.95l.93-.38M206.8 92.57l.31-.05M208.19 92.15l.93-.23 .62 .13 .93-.05 1.08 .21 2.32 .06 1.08 .17 1.39-.13 1.24 .26 1.54-.04 .77 .09 1.86-.07 1.08 .22 1.08 .02 .93 .25 .77 .02 1.39 .18 1.08-.03 2.17 .25M235.39 94.28l.62 .01 1.55 .17 2.31 .91M309.72 97.04l.77 0" stroke="#77AC30" stroke-width="0.50"/>
<path d="M32.8 89.26l.77-.53 .31-.11 .31 .01 .93-.61 1.39-.71 1.08-1.33 .77-.61 .78-.73 .77-.39 .62-.5 .31 0 .46 .27 .15 .03 .62-.29 .47-.01 .3-.25 .62-.84 .62-.29 .77-.1 .78-.67 .46 0 .62 .4 .15 .02 .31-.32 .47-1.15 .3-.45 .62-.32 .47-.04 .3-.11 .78-1.03 .15-.06 .47 .17 .46-.48 .15-.2 .78-1.83 .31-.49 .15-.14 .15-.05 .62 .18 .47-.03 .15-.12 .46-.7 .16-.07 .15 .08 .93 1.08 .62 .21 .31 .24 .62 1.15 .31 .4 .3 .03 .47 .35 .15 .01 .16-.09 .92-1.2 .31-.66 .62-1.72 .31-.53 .31-.28 .15-.53 .62-.72 .16-.06 .46 .19 .15-.06 .47-.74 .15-.14 .16 .06 .46 .78 .77 1.09 .47 .45 .46 .71 .31 .18 .15 .01 .47-.42 .46-.13 .31-.45 .31-.68 .15-.24 .16-.08 .15 .1 .16 .26 .46 .95 .16 .14 .46-.06 .15 .05 .47 .74 .46-.45 .31-.17 .46-.55 .16-.06 .15 0 .31 .14 .77 .82 .31 .21 .31 0 .62-.55 .16-.04 .15 .13 .15 .31 .93 2.66 .31 .38 .46 .39 .16 .06 .31-.96 .77-4.02 .46-1.81 .31-1.53 .31-1.14 .31-.86 .16-.25 .15 .07 .77 1.79 .78 1.18 .15 .05 .16-.4 1.08-6.02 .92-7.9 .31-1.34 .31-.47 .16-.39 .77-3.68 .15-.39 .16-.04 .46 .92 .31 .04 .16 .22 .15 2 .62 24.97 .15 .44 .62-18.7 .16-2.91 .15-1.26 .15-.57 .16-.24 .15 .05 .31 .54 .16 .12 .15-.16 .77-1.48 .31-1.02 .16-.32 .15 .11 .62 2.03 .16 .12 .15-.12 .46-.95 .16-.05 .15 .22 .62 2.22 .15 .34 .16 .1 .46-.26 .16 .19 .92 2.75 .62 2.36 .78 1.37 .15 0 .15-.13 .47-.58 .15-.02 .31 .36 .16 .08 .15-.09 .62-1.06 .62-.41 .46 .06 .16-.05 .92-1.01 .47-.7 .15-.14 .16-.02 .46 .35 1.24 .66 .61 1.02 .62 .6 .62 .81 .46 .09 .16 .11 .62 .92 .46 .16 .15 .1 .16 .22 .31 .91 .62 3.24 1.39 5.91 .61 2.22 .62 1.92 .78 3.27 .92 3.34 .93 3.81 .93 2.72 .15 .18 1.24 .53 .15-.01 .31-.29 1.08-1.42 .16-.31 1.54-6.3 1.55-5.11 .31-.55 .15-.11 .47-.04 .3-.42 .16-.29 .46-1.51 .31-.77 .16-.13 .15 .06 .31 .27 .15 0 .16-.15 .62-1.1 .15 .03 .31-.22 .16-.03 .3 .14 .47 .41 .62 .38 .3 .08 .31-.06 .62-.47 .47-.08 .61-.51 .16-.05 .62 .13 .77-.29 .31-.04 .31 .1 1.23 .78 .31 .06 .62-.01 1.08 .55 .78 .15 .61-.16 .62 .57 .46 .7 .62 .72 .78 .3 .3 .35 1.7 4.44 .62 2.5 .93 4.3 1.55 5.12 .15 .21 .77 .58 1.24 .77 .15 .04 .47-.43 1.7-2.07 1.7-3.39 2.31-3.26 .31-.2 .78-.3 .77-.52 .77-.16 .47-.21 .61-.42 .62-.02 .16-.07 .31-.18 .77-.66 .31-.17 .31-.06 .61 .1 .62-.13 .77-.01 .31-.16 .78-.64 .46-.12 .31 .02 1.7 .48 .62-.08 .77 .41 .46 .14 .31 .31 .62 .97 .16-.03 .61-.35 .62 .02 .93-.32 .15 0 .16 .11 2.16 2.63 1.39 2.16 .93 1.65 2.32 4.46 2.32 2.39 2.31 .54 6.18 .09 7.58-.15 3.09-.55 .46-.2 1.24-.79 1.23-.69 2.01-1.22 1.24-.84 1.54-.53 .93-.55 .77-.34 .62-.14 1.39-.12 1.24-.41 .62-.09 .62 .07 .77-.09 1.23 .28 .93-.04 .77 .1 .93-.03 1.08 .18 1.24-.04 1.24 .23 .61-.06 .93 .02 .77 .12 .93-.09 1.39 .01 .62 .15 1.08 .07 .77 .22 .93-.01 1.39 .21 3.25 .13 .62 .17 .92 .04 .93 .26 1.24 .12 1.08 .21 2.32 .29 1.08 .35 .92 .39 1.55 .39 .93 .31 3.4 1.54 3.09 .9 6.02 .22 15.46-.08 9.27-.79 3.09 .13 4.64-.49 3.7-.23 4.02-.12 1.7-.12 4.48 .04 6.03-.08 1.24 .05 2.31-.03 4.02 .17 3.56 .03 4.94 .3 16.38 .77 15.61 .37" stroke="#4DBEEE" stroke-width="0.50"/>
<path d="M176.98 98.70H194.44M247.45 98.70H275.11M338.47 98.70H355.00" stroke="#4DBEEE" stroke-width="0.42"/>
</g></g>
<path d="M22.97 98.70v-1.60M22.97 7.50v1.60M61.60 98.70v-1.60M61.60 7.50v1.60M100.23 98.70v-1.60M100.23 7.50v1.60M138.87 98.70v-1.60M138.87 7.50v1.60M177.50 98.70v-1.60M177.50 7.50v1.60M16.40 98.70h1.60M177.50 98.70h-1.60M16.40 90.33h1.60M177.50 90.33h-1.60M16.40 81.97h1.60M177.50 81.97h-1.60M16.40 73.60h1.60M177.50 73.60h-1.60M16.40 65.23h1.60M177.50 65.23h-1.60M16.40 56.87h1.60M177.50 56.87h-1.60M16.40 48.50h1.60M177.50 48.50h-1.60M16.40 40.13h1.60M177.50 40.13h-1.60M16.40 31.76h1.60M177.50 31.76h-1.60M16.40 23.40h1.60M177.50 23.40h-1.60M16.40 15.03h1.60M177.50 15.03h-1.60" stroke="#262626" stroke-width="0.30" fill="none"/>
<g font-size="3.60" fill="#262626" stroke="#262626" stroke-width="0.05">
<text x="22.97" y="104.20" text-anchor="middle">500</text>
<text x="61.60" y="104.20" text-anchor="middle">1000</text>
<text x="100.23" y="104.20" text-anchor="middle">1500</text>
<text x="138.87" y="104.20" text-anchor="middle">2000</text>
<text x="177.50" y="104.20" text-anchor="middle">2500</text>
<text x="14.80" y="99.90" text-anchor="end">0</text>
<text x="14.80" y="91.53" text-anchor="end">0.01</text>
<text x="14.80" y="83.17" text-anchor="end">0.02</text>
<text x="14.80" y="74.80" text-anchor="end">0.03</text>
<text x="14.80" y="66.43" text-anchor="end">0.04</text>
<text x="14.80" y="58.07" text-anchor="end">0.05</text>
<text x="14.80" y="49.70" text-anchor="end">0.06</text>
<text x="14.80" y="41.33" text-anchor="end">0.07</text>
<text x="14.80" y="32.96" text-anchor="end">0.08</text>
<text x="14.80" y="24.60" text-anchor="end">0.09</text>
<text x="14.80" y="16.23" text-anchor="end">0.1</text>
</g>
<text x="97.45" y="5.95" text-anchor="middle" font-size="3.50" font-weight="bold" fill="#000" stroke="#000" stroke-width="0.13">CHIMES radiance TIAEM,Orange Perspex ROI (5x5)</text>
<text x="96.95" y="108.60" text-anchor="middle" font-size="3.60" fill="#2a2a2a">wavelength (<tspan fill="#999">λ</tspan>) nm</text>
<text transform="translate(5.30 53.10) rotate(-90)" text-anchor="middle" font-size="3.60" fill="#2a2a2a">Spectral Radiance W/m<tspan font-size="2.52" dy="-1.3">2</tspan><tspan dy="1.3"> sr nm</tspan></text>
<clipPath id="c1"><rect x="197.60" y="7.20" width="161.00" height="91.80"/></clipPath>
<rect x="197.60" y="7.50" width="161.00" height="91.20" fill="none" stroke="#262626" stroke-width="0.30"/>
<g clip-path="url(#c1)"><g transform="scale(0.500 1)" fill="none" stroke-linejoin="round" stroke-width="0.44">
<path d="M395.2 89.2l.46-.34 .31-.14 .31-.05 .31 .05M399.83 86.28l.31-.16M403.69 84.79l.78-.31M408.02 82.76l.46 .01M410.49 81.5l.46-.26 .77-.08 .31-.29 .47-.61 .15-.08 .46 .12M415.89 77.92l.31-.01 .16-.11 .46-.63 .16-.06 .15 .07M418.21 78.46l.46 .34M419.6 80.53l.31 .53 .31 .02 .46 .31 .31 .09 .62-.27 .62-.14 .77-.54 .46-.07 .16-.34 .46-.3 .31-.07 .46 .13 .16-.04 .46-.48 .15-.05 .16 .07 .62 .8 .61 .53 .47 .26 .31 .36M429.48 80.7l.47-.78 .15-.17 .16-.05 .15 .1 .62 .88 .15 .08 .47-.11 .15 .03 .46 .51 .78-.53 .46-.49 .15-.04 .47 .18 .92 .94 .31 .14 .31-.09 .62-.71 .15-.01 .31 .36 .78 1.45 .15 .1 .62 .11M441.22 71.75l.31 .04 .77 .57 .47 .53 .15-.02 .31-1.2 1.08-5.84M446.47 52.42l.31-1.4 .16-.15 .46 .96 .31 .16 .15 .3M449.87 54.72l.15-.35 .16-.03 .31 .38 .15-.01 .16-.26 .61-1.56 .62-2.62M452.8 52.06l.16 .02 .31-.67M454.35 53.22l.31 1.09 .15 .16 .47-.19 .15 .2 .15 .51M456.97 59.92l.78 1.51 .15 .03 .16-.1 .46-.53 .15-.04 .31 .23 .16-.04 .15-.24 .46-1.25 .16-.26 .15-.11 .31-.06 .16 .01 .46 .28 .15-.02 .16-.13 .77-1.35 .62-1.68 .15-.25 .16-.12 .62-.2 .3 .16 .47 .51 .31 .51 .46 1 .15 .19 .31 .17 .62 .54 .16 .09 .15-.07 .31-.33 .15-.07 .16 .05 .31 .3 .15 .07 .31-.01 .31 .11M476.12 90.35l.78 .35M482.15 69.53l.46-.27M485.7 62.74l.31-.01 .46 .32 .31 .09 .46-.13 .31 .03 .47-.19 .61-.72 .47-.19 .15-.18 .62-1.07 .31-.17 .93-.3 .15 0 .31 .2 .77 .92 .77 .66 .31-.03 .46-.28 .16-.02M494.97 62.35l.61 .34 .31 .1 .31-.13 .31-.3 .46 .28M514.27 81.43l.46-.22 .47-.01M517.05 80.86l.31-.18 .62-.62M519.21 79.81l.31-.04M523.23 79.24l.46 .07 .62-.07" stroke="#0072BD" stroke-width="0.50"/>
<path d="M400.76 85.64l.93-.7 .61-.22M405.86 83.51l.46-.02 .77 .17 .16-.06 .3-.35M410.95 81.04l.77-.17M413.11 80.24l.47-.41M415.12 77.17l.93 .09M416.98 76.39l.15 .03 .62 .5 .31 .09 .15-.02 .62-.3 .31-.03 .31-.27 .31-.48M424.54 26.23l.31-.89 .16-.78 .61-4.77 .16-.07 .62 2.45M427.48 26.11l.46 1.9 .15 .16 .16 .03 .15-.2 .47-2.15 .46-1.07 .15-.55 .47-2.44 .15-.4 .16 .11 .15 .65 .62 4.81 .15 .68 .47 .72 .15 .51 .46 2.85 .78-3.44 .46-2.39 .15-.43 .16-.23 .15-.05 .16 .14 .15 .33 .16 .52 .61 3.22 .31 .94 .16 .09 .15-.23 .47-1.58 .15-.28 .15 .21 .31 1.83M439.52 33.94l.62-1.71 .16-.22 .15-.04 .15 .08 .16 .2 .15 .27 .16 .61M442.3 48.27l.47 3.58 .15 .78 .16-.09M446.63 23.07l.15-.32 .16 .37M449.87 31.05l.15-.76 .16-.29 .15 .16 .31 .79 .16-.15 .77-2.41 .46-2.54 .16-.04 .46 1.74 .15 .44 .16 .07 .15-.33 .47-1.88M454.66 32.04l.15 .26 .31-.28 .16-.05 .15 .34 .62 3.17M456.82 39.45l.31 1.01 .62 1.19 .15-.07 .62-1.1 .15 .06 .31 .78 .16 .22 .15-.08M461.61 38.5l.31-.52M462.69 35.88l.15-.16 .16 .03 .62 .36 .3 .38 .31 .55M465.16 39.66l.62 1.05 .62 1.32 .15 .05 .31-.22 .15-.01 .62 .81 .46 .04 .16 .11 .15 .28 .16 .53M475.66 88.18l.46 .4M481.68 68.43l.31-.99 .16-.25 .46-.44M483.85 61.32l.15-.19 .16 .09 .3 .42 .16-.01 .15-.24 .62-1.55 .16 .14 .3-.17 .31 .03 .47 .38 .61 .2 .31 .2 .47-.01 .46-.43 .15-.06 .47 .09M489.87 59.19l.46-.23M491.88 58.92l.46 .58 .77 .71 .31 .01 .46-.3 .31-.09 .31 .1 .62 .4 .62 .29 .31-.01 .15-.08M498.98 65.44l.31 .51 .15 .42M519.52 79.1l.31-.18" stroke="#D95319" stroke-width="0.50"/>
<path d="M395.2 88.98l.62-.51 .46-.17 .31 .04 2.01-1.13M400.76 85.22l.93-.8 .61-.19 .47-.24 .31-.04 .46 .23 .31 .03 .62-.47 .61-.05 .47-.47 .31-.2 .61 0 .47 .09 .31-.06M408.33 82.02l.31 .01 .61 .39 .31-.22 .62-1.19 .77-.63 .77-.3 .62-.59 .16-.06 .15 .02 .46 .37M414.66 77.5l.31-.35 .15-.06 .62 .05M416.98 76.13l.15 .03 .46 .45 .47 .84 .92 1.01M419.91 80.52l.31 .03 .46 .3 .16-.01 .31-.26 .77-1.02 .15-.29 .77-2.19 .31-.64 .31-.4 .16-.53 .61-.72 .16-.03 .46 .25 .16-.04 .46-.67 .15-.13 .16 .07 .46 .72 .62 .63 .62 .43 .46 .56 .15 .04 .31-.07 .47-.69 .61-.44 .47-.65 .15-.12 .16 .02 .15 .15 .62 1.11 .15 .11 .47-.03 .15 .09 .46 .76 .78-.76 .31-.48 .3-.27 .31 .01 .31 .22 .77 1.2 .31 .26 .16-.03 .15-.12 .62-.77 .15 .02 .31 .53 .78 2.08 .15 .19 .15 .1 .47 .09 .15-.06 .16-.48M439.83 72.63l.62-2.43 .46-1.47 .16-.35 .15-.04 .16 .14M446.78 46.19l.16 .01 .46 1.41 .31 .33M450.18 50.31l.31 .37 .15 .06 .16-.22 .46-1.17M452.96 48.79l.15-.11 .47-.95 .15-.02 .16 .28 .61 2.62 .16 .37 .15 .11 .31-.28 .16-.07 .15 .23M457.75 58.9l.15-.15 .31-.67M460.22 56.09l.31 .27 .46 .64 .15 .01 .16-.16M463 53.09l.62 .1 .15 .13 .62 .89M465.31 55.88l.31 .13 .31 .25 .47 .24 .15-.11 .31-.42 .15-.1 .16 .03M471.03 69.58l.31 1.03M482.15 65.18l.31-.12M484 59.77l.16 .06 .3 .36 .16-.04 .77-1.86 .16 .19 .3-.08 .16 .03 .62 .49 .31-.01 .46-.2M488.48 57.96l.15-.07 .31 .01 .16-.05 .15-.16 .47-.83 .15-.13 .15 0 .47 .28 .46 .01M494.66 59.25l.31 .1 .46-.02M496.36 59.18l.15-.13 .62 .35 .15 .18 .62 1.32 .46 1.27 .78 1.46M516.59 79.62l.31 0 .46-.18M521.84 77.23l.31-.06 .31 .07 .61 .34M524 77.84l.31 .04 .46-.12M527.71 79.75l.31-.25 .46 .07 .77-.01M581.6 90.49l.62 .21M586.39 90.79l.93 .34M595.2 92.22l1.23 .27M599.06 92.92l.46 .07" stroke="#EDB120" stroke-width="0.50"/>
<path d="M398.13 88.47l.78-.39M401.84 85.75l.31-.04M403.85 85.52l.62-.18 .46 .1 .31-.16M406.32 84.5l.77 .1 .16-.04 .77-.83 .31-.14M410.18 83.07l.46-.21M414.81 80.09l.31-.1 .62 .21 .46 .02M417.75 80.06l.31-.02M419.14 79.26l.46-.52 .31-.76 .62-1.04 .15-.38 .16-.8 1.08-8.49 1.08-13.66 .46-3.92 .16-1.88 .77-5.72 .46-1 .16-.57 .61-3.72 .16 .05 .46 1.55 .31 .76 .46 1.47 .47 1.05 .46 1.63 .15 .15 .16 .02 .15-.15 .47-1.66 .46-.68 .15-.36 .47-1.62 .15-.2 .16 .22 .15 .63 .62 3.99 .15 .5 .16 .18 .31 .13 .15 .29 .46 2.04 .93-2.92 .16-.67 .15-.4 .15-.19 .16-.01 .31 .35 .31 .72 .46 1.41 .31 .54 .15 .04 .16-.12 .62-1.67 .15-.2 .15 .19 .16 .61 .31 1.89 .62 5.17 .15 .89 .15 .7 .62 1.55 .16-.52 .15-1.02 .46-4.44 .31-2.03 .78-2.33 .3-.39 .16-.03 .15 .05 .16 .35 .15 1.07 .93 9.24 .62 3.11 .15 .43 .16-.29 .15-.73 .62-3.75 .46-4.53 .62-7.36 .31-2.32 .62-3.41 .61-5.09 .16-.84 .15-.38 .16 .19 .46 2.01 .15 .25 .16 .08M449.72 38.48l.15-1.11 .15-.62 .16-.22 .15 .13 .16 .38 .15 .15 .16-.27 .61-2.47 .62-3.24 .16 .11 .61 2.98 .16 .23 .15-.1 .31-.68 .16-.17 .15 .21 .16 .64 .61 3.74 .16 .55 .15 .19 .16-.08 .31-.62 .15 .03 .77 2.73 .77 4.18 .78 1.81 .15 .01 .16-.16 .46-.74 .15 .02 .31 .67 .16 .2 .15-.07 .62-1.71 .62-1.08 .46-.08 .15-.09 .47-.66 .15-.14 .47-.23 .3-.27 .16-.02 .15 .15 .47 .69 .31 .02 .77-.22 .15 .05 .16 .21 .61 1.51 .47 .47 .62 .9 .46 .17 .15 .19 .62 1.45 .62 .46 .15 .3 .31 1.21 .62 4.25 .46 2.6M476.12 89.61l.78 .51M482.15 68.94l.46-.28 .31-.9 .15-.6 .47-2.67 .31-1.21 .15-.17 .16 .13 .3 .54 .16 .07 .15-.14 .62-1.29 .16 .12 .3-.21 .31-.07 .47 .19 .61 0 .31 .13 .47-.01 .15-.11 .46-.53 .47-.29 .62-.94 .15-.08 .15 .07 .62 .58 .31 .04 .62-.09 .31 .11 .92 1.12 .31 .24 .16-.04 .15-.14 .46-.63 .16-.11 .15-.03 .16 .06 1.23 1.27 .31 .2 .16 .01M496.82 63.18l.31 .24M519.52 79.31l.46-.22 .31-.06M524.62 79.04l.31 .01 .77 .82 .62 .39" stroke="#7E2F8E" stroke-width="0.50"/>
<path d="M411.26 81.34l.31-.03M412.65 80.74l.46 .3M419.91 82.51l.31 .21 .62 .8 .31 .22 1.08 .19 .61-.14 .62 .29 .16-.14 1.23 .69 .16-.01 .46-.27 .15-.01 .16 .08 .62 .69 .46 .33 .62 .16 .46 .27 .46 .03 .47-.33 .46-.22 .62-.75 .15-.14 .16-.04 .15 .06 .46 .55 .31 .25 .62 .04 .46 .34 .47-.27 .31-.09 .31-.24 .3-.14 .31-.02 .31 .06 .93 .62 .31 .06 .31-.16 .46-.44 .15-.02 .31 .27 .78 .95 .46 .06 .31 .11 .15-.02 .16-.32 .31-1.07 .61-2.78 .62-2.29 .46-1.37 .47-1.09 .15-.15 .31-.04 .77 .12 .47 .28 .15-.06 .16-.38 .61-2.64 .62-2.14 .77-4.5 .31-1.21 .31-.66 .16-.58 .77-4.12 .15-.37 .16-.06 .46 .92 .15 .06 .16-.05 .15 .11M449.56 64.45l.31-1.09 .15-.18 .16 .07 .31 .29 .15-.1 .93-1.86 .46-1.14 .16 .09 .46 1.25 .15 .25 .16 .03 .15-.17 .47-1 .15-.11 .16 .12 .61 1.55 .16 .19 .15 .01 .31-.28 .16-.04 .15 .2 1.54 5.11 .16 .31 .62 .86 .15-.05 .62-.78 .15-.03 .31 .29 .16 .04 .15-.13 .46-1.03 .31-.53 .47-.51 .46-.12 .31-.23 .93-1.05 .46-.72 .15-.1 .47-.03 .46-.18 .62 .12 .31 .3 .46 .8 .15 .12 .62 .01 .47-.14 .46-.46 .15-.03 .16 .08 .31 .33 .15 .06 .46-.1 .16 .03 .15 .14 .31 .79 .77 3.76 .93 3.88 .46 1.59 1.08 3.08 .78 3.4 .92 3.21 .78 3.24 .46 1.44M475.66 91.25l.93 .22M483.69 66.65l.16-.46 .15-.19 .16 .06 .3 .39 .16 .01 .15-.19 .62-1.4 .16 .08 .46-.26 .77 .32 .46 0 .31 .11 .47-.06 .61-.58 .47-.1 .15-.11 .62-.83 .62-.2 .62-.54 .46-.18 .31 .09 1.08 .9 .31 .16 .15-.03 .62-.35 .31 .04 .31 .24 .46 .54M496.05 65.12l.15-.01 .31-.17 .62 .25M513.34 82.74l.31-.14 .31-.24M518.9 79.95l.47 .13 .61 .02 .62 .16 .47-.28M521.84 79.18l.15-.09 .31 .03 .31 .17 .62 .5 .62 .3 .46 .1 .46-.14 .16 .01 .31 .26M593.96 92.59l.31 .01" stroke="#77AC30" stroke-width="0.50"/>
<path d="M402.61 85.37l.31-.18 .16-.03 .31 .11M406.32 84.27l.46-.04M410.95 82.22l.16-.06 .31 .02M412.19 81.87l.31-.25 .15-.03 .31 .13M414.04 80.69l.46-.78 .47-.44 .15-.02 .62 .18 .46 .03 .16-.06 .46-.44 .16 0 .61 .66 .31 .12 .31-.05 .62-.29 .62 .24 .31-.02M420.99 78.42l.93-4.32 1.08-8.65 .46-2.6 .16-1.28 .61-2.96 .16-.5 .46-.53 .16-.38 .61-2.56 .16 .04 .46 1.23 .77 1.72 .47 .56 .46 .94 .15 .08 .16 .01 .15-.09 .47-.94 .46-.22 .15-.21 .47-1.25 .15-.24 .16 .02 .15 .32 .16 .57 .46 2.04 .15 .39 .16 .2 .31 .21 .15 .22 .31 .92 .15 .29 1.09-3.47 .3-.59 .16-.08 .15 .03 .16 .13 .31 .48 .61 1.34 .31 .27 .16-.04 .15-.19 .47-.96 .15-.15 .15 .17 .16 .49 .46 2.39 .47 2.92 .15 .53 .15 .36 .62 .57 .31-1.32 .46-3.28 .31-1.65 .47-1.54 .46-1.95 .31-.74 .15-.25 .16-.02 .31 1.32 .77 4.51 .62 1.97 .15 .26 .16-.35 .15-.72 .62-3.3 .46-3.52 .77-7.56 .31-1.68 .47-1.75 .77-5.26 .15-.58 .16-.15 .46 .88 .15-.02 .16-.1 .15 .17M449.72 43.68l.15-.99 .15-.5 .16-.1 .46 1.05 .16-.02 .61-.98 .16-.43 .46-1.92 .16 .06 .46 1.91 .15 .43 .16 .13 .15-.17 .47-1.12 .15 .03 .16 .4 .61 3.22 .16 .4 .15 .07 .47-.68 .15 .14 .77 2.82 .62 2.89 .31 .79 .62 .87 .15-.06 .46-.72 .16-.15 .15 .08 .47 .95 .15-.04 .62-1.46 .15-.23 .47-.43 .46 .29 .15 .04 .16-.06 .77-.73 .62-1.24 .15-.14 .47 .03 .31-.06 .3 .17 .62 .56 .62 1.09 .15 .13 .31 .05 .31 .22 .47 .19 .46-.4 .15 .04 .16 .24 .46 1.11 .62 .73 .31 .81 .31 1.6 .46 3.07 .46 2.29M472.57 74.6l.47 2.45M484 64.49l.16 .08 .3 .39 .16-.02M485.55 63.33l.46-.13 .62 .32 .61 .01 .31 .11 .31-.04 .31-.15 .31-.4 .31-.22M489.72 61.76l.15-.17 .31-.11M493.73 62.18l.31-.2 .31 .12M495.12 63.01l.46 .29 .31 .09 .31-.12 .31-.28 .62 .2M516.59 80.82l.31-.03M519.68 79.63l.3-.12 .62-.01 .47-.1M528.63 81.09l.62-.31 .16-.04 .15 .05M574.04 90.68l.92 0M587.32 91.58l.93 .06" stroke="#4DBEEE" stroke-width="0.50"/>
<path d="M409.25 83.35l.31-.15M412.5 80.86l.15-.02 .16 .07M414.81 79.04l.31-.15 .31 .07M418.06 78.82l.77 .39M419.6 80.13l.31 .23 .31-.02 .46 .21 .16-.07 .31-.42M424.39 72.12l.46 .02 .16-.09 .46-.71 .15-.09 .16 .16 .46 .97 .16 .21 .61 .63 .47 .22 .46 .57 .31 .07 .15-.04 .47-.55 .46-.13 .15-.14 .47-.88 .15-.2 .16-.04 .15 .13 .16 .3 .46 1.07 .15 .18 .47 .04 .15 .1 .46 .84 .78-.83 .31-.54 .3-.32 .16-.04 .31 .12 .31 .35 .61 .93 .31 .17 .16-.04 .15-.12 .62-.85 .15 .03 .16 .22 .31 .74 .62 1.88 .3 .41 .62 .43 .16-.37 .31-1.38M439.68 71.57l.31-1.1 .46-2.13 .46-1.57 .16-.36 .15-.03 .16 .17M442.15 68.01l.31 .35 .31 .56 .15 .08 .16-.41 .15-.72 .62-3.57M445.24 52.87l.31-1.36M446.63 44.74l.15-.36 .16 .11 .46 1.74 .15 .24 .16 .11M449.87 48.85l.15-.36 .16-.03 .31 .54 .15 .1 .16-.21 .61-1.52 .62-2.32 .16 .06 .46 1.65 .15 .31 .16 .02 .15-.26 .47-1.23 .15 .01 .16 .39M454.66 49.58l.15 .13 .47-.37 .15 .22 .46 1.76 .47 1.31 .61 2.44 .78 2.08 .15 .12M458.67 56.38l.31 .16 .16-.05 .15-.26 .46-1.32 .16-.25 .15-.09 .47 .12 .46 .48 .15-.01 .16-.14 .77-1.52 .46-1.22 .16-.31 .15-.13 .47 .18 .46 .07 .77 .29 .16 .2 .46 .93 .15 .18 .47 .22 .62 .62 .46 .06 .15 .11 .47 .8 .15 .15 .31 .07 .31 .18 .31 .65 .15 .6M471.49 70.91l.31 1.14M475.66 89.96l.93 .45M477.51 89.78l.93-1.76M481.68 70.86l.31-.95 .16-.21 .31-.15M484.62 64.53l.15-.21 .62-1.58 .16 .05 .3-.28 .31-.06 .93 .56M488.63 62.59l.47-.32 .62-.79 .15-.1 .62 .05 .62-.31 .46-.1 .15 .01 .31 .19 .46 .41 .31 .39M493.58 62.58l.46 .04 .62 .23 .77-.06 .46 .09 .31-.08 .31-.25 .62 .35M498.36 65.82l.16 .23 .62 .57 .3 .62M518.9 79.46l.47 .12M520.29 79.38l.47-.07 1.08-.62 .31-.02 .31 .12M524 79.75l.31 .1 .15-.04" stroke="#A2142F" stroke-width="0.50"/>
<path d="M403.39 84.44l.3 .19 .16 .01M405.7 83.68l.31-.17 .46-.13 .62-.02M410.95 80.8l.31-.08 .31 .01M412.5 80.01l.15-.04 .31 .12M414.66 77.85l.31-.28 .77-.13 .46-.22 .62-.84 .16-.09 .15 .07 .62 .73 .31 .18 .31-.08 .46-.29 .31-.02 .46-.44M423 42.76l.46-5.5 .16-2.54 .61-7.02 .16-1.35 .46-1.78 .16-.86 .61-5.12 .16 .13 1.23 6.02 .47 1.79 .46 2.39 .15 .31 .16 .16 .15-.05 .47-1.59 .46-.47 .31-1.1 .31-1.65 .15-.51 .16-.04 .15 .45 .16 .9 .46 3.22 .15 .59 .47 .63 .15 .51 .46 2.81 .93-3.83 .16-.89 .15-.57 .15-.33 .16-.14 .15 0 .31 .44 .62 2.14 .31 .75 .15 .11 .16-.08 .62-1.6 .15-.13 .15 .33 .16 .8 .46 3.61 .47 5.08 .15 1.14 .15 .88 .62 1.95 .16-.53 .15-1.09 .62-5.97 .31-1.2 .46-1.15 .16-.19 .15-.01 .15 .11 .16 .23 .15 .32 .16 .67 .46 5.67M442.92 53.08l.16-.22 .15-.77 .46-3.15M444.93 35.54l.93-5.57 .61-5.27 .16-.83 .15-.31 .16 .28 .46 2.27 .15 .29 .16 .11 .15 .36M450.02 31.27l.16-.15 .15 .23 .31 .84 .16-.12 .31-1.08M452.03 26.54l.16 .07 .46 2.2 .15 .41 .16 .01 .15-.39 .47-1.94 .15-.1 .16 .4 .15 .84 .46 3.07 .16 .55 .15 .13 .31-.46 .16-.12 .15 .3 .77 4.21M457.28 41.81l.47 1.05 .15-.08 .62-1.43 .15-.1 .31 .5 .16 .11 .15-.18 .46-1.53 .31-.62 .47-.42 .46 .2M461.76 38l.47-.77 .3-.68 .16-.2 .15 .03 .47 .77 .77 .99 .46 .45M465.31 40.55l.31 .5 .78 1.84 .15 .13 .31-.08 .15 .02 .47 .49 .15 .02 .31-.17M475.66 88.9l.46 .26M485.55 61.54l.46-.28 .62 .12 .15-.03 .46-.24 .31-.02 .47-.18 .46-.44 .15-.06 .31 .06M489.72 59.78l.15-.11 .15 0 .47 .13 .62-.25 .46-.09 .31 .09M493.11 60.71l.31 .11 .46-.01M494.66 61.69l.46 .43 .46 .09 .47-.08 .46-.45 .62 .27 .15 .17 .62 1.33M514.58 81.19l.62 .06M520.76 78.63l1.08-.49 .31-.08 .61-.02 .78 .22M524.46 78.37l.47-.19 .31 .21M527.71 80.56l.31-.3 .61-.15M577.28 90.53l.46-.06M582.53 91.14l.62-.06" stroke="#0072BD" stroke-width="0.50"/>
<path d="M410.8 81.92l.31-.22 .31-.09M414.97 78.56l1.08 .09 .31-.16 .46-.55 .16-.02 .15 .11 .46 .61M419.91 81.26l.31-.07 .46 .16 .31-.01 .62-.53 .46-.3 .93-1.24 .46-.23 .16-.39 .61-.43 .16-.04 .46 .07 .16-.07 .46-.58 .15-.08 .16 .08 .46 .66 .62 .56 .62 .36 .46 .51 .31 .09 .15-.04 .47-.52 .46-.29 .77-1.09 .16-.03 .15 .12 .62 1.06 .15 .12 .47 .02 .15 .07 .46 .61 .78-.63 .31-.38 .3-.18 .47 .09 .77 .58 .31 .13 .31-.1 .62-.85 .15-.14 .15 .02 .31 .48 .78 1.89 .3 .31 .47 .31 .15 .02 .31-.92 .77-3.73 .47-1.6 .46-2.04 .62-2 .15-.2 .16-.04 .15 .05 .93 .63 .31 .41 .15 .03 .16-.39 1.08-5.5 .92-7.74 .31-1.62 .31-.81 .16-.61 .77-4.84 .15-.54 .16-.16 .46 .9 .31 .08 .15 .23M449.56 56.1l.16-1.27 .3-1.08 .16-.13 .31 .1 .15-.15 .47-1.37 .46-1 .31-.95 .15-.26 .16 .21 .46 1.8 .15 .33 .16 .04 .15-.24 .47-1.3 .15-.12 .16 .21 .61 2.4 .16 .36 .15 .12 .31-.17 .16 .01 .15 .3 .46 1.98 .93 3.33 .31 .64 .31 .36 .31 .51 .15 .01 .62-.49 .15 .07 .31 .52 .16 .13 .15-.08 .62-1.23 .62-.67 .46-.2 .15-.16 1.39-2.49 .16-.19 .15-.04 .47 .32 .46 .2 .77 .55 .62 .78 .15 .08 .47 .02 .62 .29 .46-.32 .15-.01 .62 .68 .46 .05 .16 .1 .31 .6M485.39 63.73l.16 .12 .46-.18M487.09 63.94l.46 .16 .47 .06 .15-.07 .46-.44M489.87 62.36l.62 .11 .15-.05M492.8 62.95l.47 .35 .77-.01 .93 .54 1.08-.02 .46-.21 .62 .51 .15 .21M498.21 66.57l.31 .61 .46 .58M513.34 82.05l.31-.1M516.12 80.83l.31-.16 .47-.02 .46-.28M518.13 79.63l.46-.29 .31-.03M522.15 78.54l.92 .39 1.24 .22 .46-.06 .16 .05 .15 .14M528.02 81.05l.46-.03M576.97 90.78l.47 .08 .77-.17" stroke="#D95319" stroke-width="0.50"/>
<path d="M402.15 85.11l.77-.34M404.62 84.58l.31 .03 .15-.05 .62-.68 .31-.2 .46-.08 .62 .19M414.97 78.48l.15-.07 .77 .05 .31-.08M417.44 77.64l.46 .32 .31 .07 .62-.24 .31-.04 .31-.23 .31-.44 .46-1.01 .31-.46 .15-.39 .16-.86 1.08-9.18 1.08-15.29 .46-4.79 .16-2.28 .61-6.15 .16-1.07 .15-.5 .31-.59 .16-.57 .46-2.91 .15-.55 .16 .38 .62 3.53 .46 1.7 .15 .43 .47 .61 .46 1.54 .31 .4 .15 .02 .47-1.17 .46-.45 .15-.42 .47-2.25 .15-.49 .16-.06 .15 .4 .16 .8 .46 2.88 .15 .54 .47 .67 .15 .45 .46 2.37 1.09-3.97 .15-.37 .15-.15 .16 .01 .31 .34 .31 .67 .46 1.38 .31 .56 .15 .06 .16-.11 .15-.33 .47-1.48 .15-.23 .15 .21 .16 .66 .31 2.06 .62 5.67 .15 .94 .15 .7 .62 1.5 .16-.5 .15-.98 .46-4.17 .31-1.83 .78-2.48 .15-.24 .15-.12 .16 .03 .15 .13 .16 .48 .15 1.24 .93 10.53 .62 3.77 .15 .5 .16-.28 .15-.79 .62-4.18 .92-10.63 .31-2.81 .78-3.82 .61-4.74 .16-.82 .15-.37 .16 .2 .46 2.06 .31 .49 .15 .43 .16 2.66M449.72 35.91l.15-1.27 .15-.67 .16-.19 .15 .25 .31 .96 .16-.04 .15-.33 .46-1.05 .16-.5 .46-2.13 .16 .08 .46 1.95 .15 .31 .16-.1 .15-.49 .47-2.19 .15-.18 .16 .35 .15 .82 .46 3.26 .16 .68 .15 .28 .16-.05 .31-.25 .15 .26 .77 3.4 .62 3.45 .31 .99 .62 1.31 .15 .07 .62-.43 .15 .12 .31 .67 .16 .11 .15-.22 .46-1.78 .31-.76 .47-.5 .46 .23 .15-.06 .93-1.55 .46-1 .16-.23 .15-.04 .47 .44 .46 .33 .77 .95 .77 2.06 .78 1.26 .31 .37 .15-.05 .31-.39 .15-.09 .16 .06 .31 .39 .15 .11 .31 .07 .15 .14 .31 .71 .31 1.57 .62 4.74 .62 3.79 .92 6.47 .47 2.26 .46 1.72M475.51 87.65l.15 .3 .46 .22M484 59.56l.16 .07 .3 .48 .16 .07 .15-.15M485.55 59.13l.46-.08 .62 .23 .61-.15 .31 .11 .47 .06 .15-.07 .31-.38 .62-.55 .46-.93 .16-.22 .15-.06M490.64 58.12l.47 .27 .61 .23 .77 .55M493.27 59.59l.92-.93 .31-.07 .47 .07 .77 .39 .31 .24 .15 .05 .31-.05 .62 .52 .15 .19 .47 1.05M522.46 77.69l.61 .2 .62-.03M525.7 78.9l.31 .29M528.63 80.03l.78-.26M569.25 90.45l.31-.11M573.42 90.13l.46 .14 .93-.11 .62 .07M584.85 90.79l.46 .13M588.09 91.11l1.08 .15M593.5 91.96l.77 .03 .62 .27M597.67 92.81l1.08 .13" stroke="#EDB120" stroke-width="0.50"/>
<path d="M399.99 87.08l1.7-.89M402.92 85.82l.31-.04 .62 .11 .62-.27 .31 .03M407.09 84.9l.31-.07 .46-.4 .31-.17 .47 .02 .46 .33 .15 .04 .16-.11M410.95 82.83l.77-.16 .62-.54 .31-.09M414.81 80.19l.16-.07 .15 .01 .62 .39M416.82 79.94l.16-.06 .15 .08M417.9 80.76l.31 .18 .77 0 .62 .22 .62-.3 .46 .04 .31-.35 .93-1.93M423.15 74.61l.31-.51 .16-.7 .61-1.68 .16-.28 .46-.19 .16-.15 .46-.94 .15-.18 .16 .12 .46 1 .31 .51M428.09 73.41l.31-.21 .47-.98 .61-.69 .47-.94 .15-.19 .16-.02 .15 .17 .62 1.47 .15 .19 .47 .11 .15 .14 .46 .94 .47-.52 .46-.26 .16-.22 .3-.21 .16-.02 .46 .13 .77 .44 .31 .04 .31-.14 .47-.48 .15-.05 .15 .13 .16 .32 .93 2.98 .3 .46 .47 .33 .15 .02 .31-1.12 .77-4.32 .47-1.62 .61-2.62 .31-.92 .16-.28 .15 .1 .31 .78M445.24 54.1l.31-1.26M446.94 45.71l.46 1.3 .31 .26M450.02 49.46l.16 .04 .31 .63 .15 .14M454.5 49.41l.16 .48 .15 .21 .47-.17 .15 .21 .93 3.19 .61 2.94 .16 .47 .62 1.35 .15 .02 .16-.13 .46-.61 .15-.02 .31 .32 .16 .01 .15-.22 .46-1.26 .16-.27 .15-.11 .47-.04 .31 .23 .15 .06 .15-.03 .16-.15 .62-.96 .61-1.31 .16-.29 .15-.12 .93 .18 .62 .45 .31 .36 .46 .85 .15 .12 .47 .14 .62 .57 .15 .01 .31-.19 .15 0 .16 .1 .31 .43 .46 .29 .31 .36 .31 .85 .15 .67M470.41 66.94l.62 3.02M476.43 91.11l.47 .27 .15 0M481.99 72l.16-.2 .31-.16M483.69 67.48l.16-.43 .15-.16 .16 .08 .3 .39 .16 .02 .31-.55 .46-1.29 .16-.05 .3-.47 .16-.12 .15-.02 .16 .09 .31 .34 .31 .22 .3 .02 .31-.09M488.79 64.14l.31 .11 .15-.03 .62-.6 .62-.17 .46-.31 .31-.07 .31 .06 .15 .1 .77 .94 .47 .43 .15 .07 .16 0 .46-.27 .31-.1 .77 .25 .31-.01M496.82 64.5l.31 .17 .15 .17M513.34 82.51l.31-.07 .77-.43 .78-.05 .46-.17 .62-.51 .15-.03 .47 .11 .3-.07 .31-.17 .62-.6M519.37 80.22l.31 .02 .92-.09M521.84 79.35l.31-.02 .92 .36 .78-.03M528.02 81.65l.3 .03M571.26 90.37l.77 .14 1.08 .1M580.06 91.12l.93-.08M584.08 91.21l.3 .01" stroke="#7E2F8E" stroke-width="0.50"/>
<path d="M395.2 89.23l.31-.18M396.9 88.63l.62-.44M399.99 85.95l.92-.5M402 84.68l.3-.05 .62-.34 .16-.03 .31 .09M404.31 84.42l.62 .07M406.32 83.15l.31 0M407.86 82.75l.31-.19 .31-.04 .31 .13 .46 .38 .31-.17 .62-1.17 .31-.34M411.26 80.79l.31-.01 .31-.1 .62-.49 .15 0 .46 .27 .62-.66 .62-1.31 .46-.65 .31-.15 .62 .16 .46-.05 .16-.11 .46-.67 .16-.08 .3 .19 .78 .89 .77 .48 .93 1.07 .15 .09 .31-.13 .46-.03 .31-.66 .93-3.06 1.08-5.73 .46-1.53 .16-.93 .61-2.22 .16-.41 .46-.46 .16-.27 .46-1.33 .15-.24 .16 .16 .46 1.21 .77 1.32 .47 .43 .46 .75 .15 .05 .16 0 .15-.08 .47-.87 .46-.38 .15-.25 .47-1.17 .15-.22 .16 .03 .15 .28 .46 1.73 .31 .81 .16 .13 .31 .05 .15 .1 .46 .84 .62-1.43 .31-.44 .16-.35 .15-.16 .15-.03 .31 .19 .93 1.25 .31 .22 .15-.02 .16-.09 .62-1.05 .15-.13 .15 .12 .31 .95 .78 3.71 .15 .48 .15 .35 .47 .59 .15 .06 .31-1.31 .77-5.2 .78-3.18 .3-.93 .31-.6 .16-.1 .15 .33 .77 3.3 .78 2.14 .15 .14 .16-.43 1.08-7.15 .92-8.27 .78-4.02 .77-5.77 .15-.49 .16 .01 .46 1.53 .31 .37 .15 .38M449.72 47.3l.15-.95 .15-.52 .16-.16 .15 .15 .16 .3 .15 .13 .16-.18 .61-1.51 .62-2.44 .16 .09 .46 1.91 .15 .41 .16 .08 .15-.23 .47-1.34 .15-.07 .16 .28 .46 2.11 .15 .6 .16 .32 .15 .02 .47-.7 .15 .16 .77 2.86 .77 3.54 .78 1.81 .15 0 .16-.18 .46-.82 .15-.06 .31 .4 .16 .07 .15-.17 .62-1.61 .31-.33 .31-.18 .46 .17 .15-.09 .16-.25 1.39-3.24 .15-.07 .47 .32 .46 .14 .62 .37 .31 .45 .46 1.22 .15 .25 1.09 .91 .15-.03 .31-.25 .15 .01 .62 .88 .46 .32 .31 .64 .31 1.41 .62 4.18 .77 3.49 .62 3.75M475.97 90.95l.46 .25M477.36 91.24l1.08-1.6 .16-.38 1.69-8.95 1.39-5.76 .31-.85 .16-.23 .46-.4 .16-.36 .3-.97 .47-2.34 .31-1.17 .15-.25 .16-.01 .3 .17 .16-.09 .77-1.88 .16 .08 .3-.14 .16 0 .77 .5 .77 .03 .62-.12 .31-.22 .46-.15 .16-.11 .62-1.13 .15-.18 .15-.06 .47 .04 .15-.05 .93-.65 .15-.01 .31 .23 .93 1.13 .31 .28 .15 .04 .62-.09 .31 .14 .77 .59 .77 .24 .62-.04 .77 .91 1.08 2.2 .62 .57 .31 .51 1.7 5.83 .62 3.49 .92 6.01 .47 2.18M504.23 93.37l1.08 1.06 .93 .74M511.49 85.06l.93-1.74 .31-.37 .92-.23 .77-.53 .31-.07 .47 .01 .46-.17 .62-.57 .15-.03 .47 .1 .3-.04 .47-.24 .92-.71 .31-.07 .47 .04 .61-.14 .78-.02 1.08-.56 .31-.01 .92 .29 .93-.03M525.39 80.4l.31 .36 .31 .18M528.32 81.54l.62-.22 .47 .12 .15 .11 2.16 3.39 .93 1.8 .93 1.55M566.32 92.14l1.08-.57 2-.42 1.24-.43 .62-.11 .62 .16 .92-.01 1.08 .2 1.08 .02 2.17 .32 .31-.02 1.08-.25 .3 .01 .62 .2M582.53 91.56l1.24-.14M586.55 91.76l.77 .24 .93-.05M590.72 92.22l1.23 .17 .47-.01M594.42 92.74l.93 .18M596.59 93.13l.77 .23 .46 .04M599.06 93.56l.92 .21M603.23 95.06l.46 .14M678.13 96.86l.77-.02" stroke="#77AC30" stroke-width="0.50"/>
<path d="M400.45 86.02l1.08-.86 .47-.14M403.08 84.59l.61 .27 .16 .01 .46-.21 .31-.01M405.7 83.97l.46-.23M408.33 82.98l.31-.08M411.26 81.42l.46-.08M412.5 80.69l.15-.02 .31 .14M414.2 79.2l.46-.8 .31-.29 .15-.02 .62 .22 .46-.04 .16-.1 .46-.64 .16-.08 .15 .04M418.06 78.65l.46 .45M421.45 82.29l.78 .13 .61-.22 .62 .06 .16-.26 .46-.14 .31-.02 .46 .17 .16 0 .46-.26 .15 0 .16 .1 .62 .67 .61 .31 .47 .13 .46 .35 .31 .03 .15-.04 .47-.45 .46-.28 .62-.92 .15-.17 .16-.05 .15 .07 .16 .18 .46 .65 .15 .1 .62 .02 .46 .5 .47-.23 .31-.07 .46-.35 .31-.07 .46 .08 .77 .54 .31 .08 .31-.13 .62-.65 .15 0 .31 .36 .78 1.33 .77 .35 .15 0 .16-.32 .31-1.14 .61-2.98 .78-3.15 .46-1.53 .31-.81 .15-.14 .16 0 .46 .33 .62 .27 .31 .25 .15-.05 .16-.43 1.08-5.5 .92-7.01 .31-1.34 .31-.54 .16-.5 .77-4.12 .15-.43 .16-.1 .46 .84 .31 .03 .15 .19M449.56 59.5l.16-1.04 .15-.58 .15-.27 .16 .01 .31 .36 .15-.02 .77-1.66 .62-1.99 .16 .07 .46 1.49 .15 .3 .16 .04 .15-.2 .47-1.14 .15-.08 .16 .2 .61 2.1 .16 .27 .15 .05 .31-.31 .16-.07 .15 .19 .93 2.98 .61 2.47 .16 .38 .62 1.08 .15-.01 .62-.64 .15 .02 .31 .4 .16 .08 .15-.12 .62-1.3 .62-.65 .46-.24 .15-.15 1.39-2.4 .16-.23 .15-.08 .47 .09 .46-.05 .62 .23 .31 .28 .46 .77 .62 .35 .62 .67 .15 .01 .46-.27 .16 .04 .31 .24 .61 .13 .31 .38 .16 .39 .31 1.29 .61 3.19 .93 3.79 .46 1.62 .93 2.67M475.66 90.16l.77 .11 .47 .15 .15-.05 .31-.5M481.68 69.33l.31-.9 .16-.17 .31-.11M484 62.56l.16 .09 .3 .46 .16 .03 .15-.19M486.78 61.58l.46 .07 .31 .18 .47 .03 .61-.53 .47-.15 .15-.17M490.18 59.89l.31 .03 .62-.12 .61 .09 .77 .34 .62 .76 .31 .25 .77 .05 .78 .44 .92 .39 .31-.06 .31-.21 .62 .48 .15 .2 1.08 2.26M514.73 81.43l.62-.17M518.75 79.2l.31 .13M521.99 77.9l.47 .19 .61 .54 .31 .18M527.86 80.78l.16-.1 .46 .01 .93-.24M570.49 90.25l.3-.15M585.31 91.12l.46 .08" stroke="#4DBEEE" stroke-width="0.50"/>
<path d="M402.15 86.09l.77-.5 .31 0 .46 .2 .16 .01 .62-.27M405.86 84.76l.61-.2 .62 .12M408.02 84.13l.31-.07 .31 .04 .46 .34M410.03 83.47l.3-.34 .78-.44 .61-.2 .78-.65 .15 .01 .46 .28 .47-.27 .15-.12 .77-1.14 .47-.41 .15-.03 .62 .19 .31 .03 .31-.18 .46-.65 .16-.07M418.06 80.19l1.23-.41 .31-.28 .46-.92 .62-.92 .16-.65 1.08-6.69 1.08-11.75 1.23-9.38 .16-.9 .62-1.8 .46-2.56 .15-.53 .16 .16 .46 1.7 .77 2.08 .47 1.02 .46 1.52 .15 .14 .16 .01 .15-.14 .47-1.45 .46-.61 .15-.37 .47-1.81 .15-.36 .16 .01 .15 .4 .62 3.24 .15 .43 .16 .16 .31 .09 .15 .23 .46 1.6 1.09-3.85 .15-.37 .15-.16 .16 .04 .31 .52 .77 2.69 .15 .41 .16 .21 .15 .04 .16-.16 .62-1.8 .15-.2 .15 .19 .31 1.5 .78 5.73 .15 .7 .15 .48 .62 .83 .16-.52 .15-.93 .46-3.71 .31-1.68 .47-1.33 .15-.72 .31-.94 .15-.32 .31-.34 .16 .15 .15 .8 .93 7.82 .62 3.25 .15 .45 .16-.26 .15-.74 .62-4.06 .46-4.56 .62-7.1 .31-2.27 .62-3.2 .61-4.45 .16-.68 .15-.26 .16 .24 .46 1.85 .15 .17 .16 .01 .15 .25M449.72 40.11l.15-1.12 .15-.62 .16-.18 .15 .19 .31 .69 .16-.14 .77-2.15 .46-1.95 .16 .17 .46 2.26 .15 .49 .16 .14 .15-.19 .47-1.27 .15-.05M454.5 39.77l.16 .44 .15 .13 .31-.28 .16 0 .15 .35 .46 2.41 .47 1.87 .46 2.27 .31 .83 .62 1.12 .15-.01 .16-.17 .46-.68 .15 .03 .31 .63 .16 .16 .15-.1 .62-1.44 .15-.13 .47-.19 .46 .41 .15 .04 .31-.3 .47-.73M462.69 44.38l.15-.21 .16-.04 .62 .22 .15 .16 .62 .96M465.31 47.48l.47 .38 .62 .92 .15 .08 .31-.03 .15 .09 .47 .73 .15 .13 .46 .06 .16 .13 .31 .75 2.31 13.26 .47 2.16 .61 2.45 .31 1.78M475.82 88.7l.3 .12M481.99 66.02l.16-.13 .31 0M485.39 58.76l.16 .17 .3-.05 .16 .05 .62 .56 .15 .05 .77-.09 .47-.22 .46-.46 .15-.06 .47 .1 .15-.11 .62-.91 .15-.04 .47 .05 .46-.21 .31-.06 .31 .09 .15 .13 .62 .86 .46 .54 .31 .22 .16 0M494.81 59.66l.16 .05 .46-.03 .31 .05M498.36 63.1l.62 .58 .31 .61 .15 .51M518.44 78.68l.15-.03 .31 .06M519.98 78.51l.47-.14M521.84 77.51l.15-.05 .31 .04 .93 .47M527.86 79.84l.16-.07 .46-.01 .46-.28 .47-.14 .15 .07 .15 .22M573.27 89.86l.77 .2 1.54 .27 1.86 .02 .77-.18M579.6 90.49l.31 .06M589.79 91.5l.62 .01 .62 .1M592.11 91.85l.31-.01" stroke="#A2142F" stroke-width="0.50"/>
<path d="M403.08 85.09l.61 .2 .16-.02M406.16 84.05l.31-.08M408.17 83.16l.31-.02M412.65 81.14l.46 .16M415.74 79.33l.31 .06 .15-.03 .16-.1 .46-.65 .16-.07 .3 .23 .78 .83 .61 .33M421.15 80.73l.92-1.18 .62-1.35 .31-.51 .15-.1 .31-.08 .16-.37 .61-.46 .16-.06 .46 .06 .16-.11 .61-.99 .16 .02 .15 .16 1.08 1.32 .47 .3 .46 .48 .31 .07 .15-.02 .47-.47 .46-.21 .15-.16 .47-.81 .15-.18 .16-.05 .15 .11 .16 .24 .46 .87 .15 .14 .47 0 .15 .05 .46 .62 .47-.49 .31-.22 .46-.57 .15-.08 .31-.03 .31 .1 .77 .67 .31 .14 .31-.08 .47-.48 .15-.08 .15 .07 .16 .22 .93 2.18 .3 .29 .31 .15 .16 .14 .15 .03 .31-.98 .77-4.03 .47-1.8 .46-2.23 .62-2.26 .15-.14 .16 .07 .77 1.17 .62 .71 .15-.01 .31-1.27 .93-5.64M446.78 47.75l.16-.06 .46 1.09 .15 .08 .16-.01M449.87 50.85l.15-.37 .16-.03 .31 .47 .15 .05 .16-.24 .77-1.78 .31-1.16 .15-.36 .16 .16 .46 1.94 .15 .41 .16 .1 .15-.2 .47-1.3 .15-.08 .16 .28 .15 .6 .46 2.28 .16 .45 .15 .17 .47-.27 .15 .2 1.08 3.88M457.28 58.26l.47 .81 .15 .03 .16-.1 .46-.49 .15-.01 .31 .31 .16-.01 .15-.24 .46-1.36 .31-.47 .47-.15 .46 .28 .15-.03 .16-.16M462.53 54.38l.31-.46 .78-.07 .15 .05 .77 .69 .62 1.06 .62 .38 .62 .69 .15 0 .31-.19 .15-.01 .16 .13 .31 .43 .61 .36 .31 .55 .16 .51M469.64 64.08l.31 1.18 .31 1.54M471.49 72.4l.46 1.51 .31 1.49M475.66 90.47l.77 .35 .47 .3 .15-.01 .31-.39 .62-1.16M482.46 70.79l.15-.13 .16-.34M483.69 66.19l.16-.53 .15-.26 .16-.02 .15 .11M485.08 64.24l.31-.79 .16 .09 .3-.16 .16 .03 .15 .1 .62 .78 .77 .4 .47-.21 .46-.56 .15-.09 .47 .01 .15-.1 .62-.86 .31-.12 .31-.01 .62-.14 .61 .14 .77 .46 .78 .73 .31 .06 .61-.04 .47 .3M495.43 64.77l.46 .07 .31-.14 .31-.24 .15 .1M499.6 70.17l1.23 4.55M510.26 87.35l.46-.82 1.23-2.58M518.29 80.27l.46-.2 .62 .05 .61-.12 .62 .08 .47-.24 .77-.56 .46-.15M524.31 79.7l.62-.13 .77 .72 .31 .18M526.93 81.84l.16 .17 .93-.86 .46-.06 .93-.47 .15 .04 .31 .42M568.63 91.07l.31-.04M573.27 90.56l.3 .12M575.27 90.81l1.24 .04 .77 .09 .62-.08M578.82 90.83l1.09 .33 .92-.07 .77 .03 .47 .1M584.85 91.29l.92 .13M588.86 91.8l1.08 .12M593.5 92.58l.46-.05" stroke="#0072BD" stroke-width="0.50"/>
<path d="M395.97 89.69l.47-.06M397.36 89.18l.62-.4M399.99 87.19l.92-.43 .93-.55 .46-.08 .62-.24 .31 .02 .46 .14 .16-.03 .62-.43 .61-.06 .62-.58 .31-.14 .46-.07 .62 .09 .16-.03 .77-.78 .31-.14 .31 .03 .61 .55 .31-.08 .62-.93 .62-.42 .31-.15 .61-.11 .78-.63 .15-.02 .46 .22 .47-.32 .15-.12 .77-1.09 .47-.35 .15-.02 .93 .23 .15-.02 .31-.22 .31-.39 .16-.04 .15 .08 .46 .49 .47 .06 .31-.15M419.14 79.94l.46-.3 .31-.59 .31-.38 .31-.25 .15-.24 .16-.57 1.08-6.26 1.08-9.92 .46-2.76 .16-1.4 .61-3.3 .16-.55 .46-.55 .16-.44 .61-2.96 .16 .07 .46 1.44 .77 1.98 .47 .85 .46 1.24 .15 .1 .16 0 .15-.14 .47-1.38 .46-.58 .15-.31 .47-1.5 .15-.31 .16-.03 .15 .28 .16 .54 .46 1.94 .15 .37 .47 .53 .15 .39 .46 1.99 .78-1.89 .31-.99 .15-.34 .15-.17 .16-.04 .31 .24 .31 .56 .46 1.12 .15 .26 .16 .11 .15-.04 .16-.2 .62-1.74 .15-.18 .15 .2 .31 1.42 .78 5.35 .15 .68 .15 .49 .47 .77 .15 .15 .16-.49 .15-.88 .46-3.64 .31-1.81 .78-2.84 .3-.65 .31-.25 .16 .13 .15 .68 .93 6.14 .62 2.54 .15 .4 .16-.26 .15-.67 .62-3.58 .46-4 .77-8.35 .31-2.2 .47-2.58 .61-4.5 .16-.64 .15-.2 .16 .32 .46 2.21 .15 .28 .16 .08 .15 .26 .16 2.29 .62 30.63 .15 2.75 .15-3.88 .47-20.27 .15-5.01 .16-2.37 .15-1.06 .15-.6 .16-.2 .15 .13 .16 .35 .15 .15 .16-.23 .77-2.53 .46-2.18 .16 .06 .46 1.94 .15 .4 .16 .06 .15-.28 .47-1.55 .15-.13 .16 .28 .61 3.21 .16 .54 .15 .23 .31-.11 .16 .03 .15 .33 .46 2.21 .31 1.16 .47 2.53 .3 1.33 .16 .36 .62 .79 .15-.12 .62-1.01 .15 .04 .31 .62 .16 .14 .15-.12 .46-1.27 .16-.3 .15-.15 .47-.16 .46 .31 .15-.04 .93-1.53 .46-1.06 .16-.26 .15-.06 .47 .38 .46 .24 .77 .67 .77 1.88 .93 1.46 .16 .12 .15-.12 .31-.6 .15-.21 .16-.06 .15 .08 .31 .38 .31 .11 .15 .16 .31 .89 .16 .75 .77 5.82 1.39 7.82 .62 2.79 .61 2.25 .62 3.51M476.43 89.03l.47 .17 .15-.06 1.24-2.31M481.68 67.39l.31-.95 .16-.2 .46-.36 .16-.45M485.08 59.58l.31-.72 .16 .19 .15-.01 .31 .18 .62 .72 .15 .02 .46-.2 .78 .02 .61-.39 .47 0 .15-.14 .47-.74 .15-.12 .15 0 .47 .18 .62-.14 .46-.02 .15 .03 .31 .2 1.08 .99 .16 .02 .61-.27 .16 .03 .62 .45 .31 .11 1.08-.16 .46-.17 .46 .51M497.75 61.29l.61 1.5 .78 1.52 .3 .93M515.66 80.61l.62-.54 .15-.02 .47 .1 .3-.08 .31-.17M518.75 78.81l.31 0M520.91 78.77l.77-.74M522.61 78.02l.46 .27 1.08 .15M529.25 79.92l.16-.06 .15 .01M565.85 91.98l.62-.46M568.48 90.82l.92-.23 .62-.26M571.1 89.95l.31-.01M572.49 90.05l.62 .08M589.94 91.75l.93 .08M593.81 92.29l.3-.03M595.04 92.47l.46 .11" stroke="#D95319" stroke-width="0.50"/>
<path d="M400.61 86.24l.61-.37M402.92 85.31l.31-.01M408.17 83.38l.31 .02M410.33 82.83l.93-.5M415.28 79.19l.31 .05 .3-.03 .31-.1 .16-.13M417.28 78.61l.62 .97 .31 .31 .77 .24 .62 .64 .31 .24 .31-.07 .46 .16 .16-.1 .31-.47 .77-1.61 1.08-3.74 .46-.91 .16-.66 .46-1.09 .31-.53 .46-.07 .16-.12 .61-1.1 .16 .06 .46 .71 .77 .85 .47 .36 .46 .73 .31 .14 .15-.02 .47-.65 .46-.31 .31-.47 .31-.67 .15-.22 .16-.05 .15 .12 .16 .28 .46 1.08 .15 .21 .47 .24 .15 .17 .46 .92 .93-1.21 .16-.3 .3-.25 .16 0 .31 .2 .77 1.11 .31 .28 .15 .02 .16-.06 .15-.15 .47-.75 .15-.16 .15 .03 .16 .21 .31 .74 .62 1.95 .3 .43 .62 .41 .31-.97 .62-3.22 .62-2.48 .46-2.27 .31-1.05 .31-.71 .15 .08 .16 .3 .61 1.67 .78 1.53 .15 .11 .16-.39 .77-4.35 .31-2.12 .92-8.37 .31-1.61 .47-1.5 .77-5.08 .15-.55 .16-.12 .46 1.07 .31 .16 .15 .28M449.72 50.26l.15-.76 .15-.35 .16 .02 .31 .7 .15 .2 .16-.11 .61-1.16 .62-2.01 .16 .08 .46 1.58 .15 .26 .16-.04 .15-.34 .47-1.62 .15-.15 .16 .24 .15 .61 .62 3.13 .15 .32 .47 .18M456.67 55.82l.3 .86 .16 .22 .62 .59 .15-.1 .62-.9 .15 .04 .31 .57 .16 .17 .15-.06 .62-1.12 .62-.36 .46 .06 .15-.08 .16-.2 .77-1.42 .62-1.43 .15-.13 .16 0 .31 .09 .31 .01 .3 .16 .62 .49 .62 1.21 .15 .19 .47 .3 .62 .57 .15 0 .31-.18 .15 0 .47 .47 .15 .08 .31 .02 .31 .27 .31 .88 .77 4.62 .93 3.97M471.03 68.73l.92 3.39 .62 3.36M475.66 89.33l1.24 .54 .15-.05M477.98 87.93l.46-.9M479.68 79.53l.61-4.15 1.39-7.48 .16-.59 .31-.6 .46-.31 .16-.36 .3-.96 .47-2.36 .31-1.1 .15-.16 .16 .11 .3 .4 .16-.05 .15-.3 .62-1.9 .16 .06 .3-.26 .16-.03 .15 .05 .62 .66 .77 .57 .31-.02 .31-.14 .31-.34 .15-.05 .47 .1 .15-.11 .47-.9 .3-.37 .16-.09 .77-.13 .31 .13 .31 .23 .62 .68 .77 .7 .31 .17 .77-.25 .31 .12 .62 .47 .3 .03 .62-.18 .62-.45 .62 .54 .15 .21 .47 .95M500.22 69.48l.46 1.86M512.73 81.91l.61-.15M516.43 80.17l.47-.04 .3-.14M519.98 78.71l.47-.07M521.68 77.8l.31-.15 .31 .04 .93 .54 1.08 .29M525.54 79.09l.62 .42M567.71 90.72l1.39-.18M569.87 90.31l.77-.39 .62-.2 .62 .18 .46 .01M574.96 90.37l.62 .1 .93-.01 .77 .14 1.08-.22 .46 0 .47 .14M580.68 90.68l.62 .06M583.46 90.88l.92-.08M585.31 91.03l1.08 .1 .93 .27 .93-.03 1.08 .17M591.33 91.73l.62 .15 .77 .08 .47 .17M595.5 92.52l2.01 .49 .47 .03M599.52 93.21l.31 .07" stroke="#EDB120" stroke-width="0.50"/>
<path d="M395.2 89.78l.77-.58 .47-.15M397.83 88.28l.3-.17M399.52 87.08l.31-.28 .93-.38 .93-.68 .46-.25M403.23 84.83l.46 .19M406.32 83.83l.93 .01 .77-.68 .31-.08 .31 .05M410.95 82.01l.62 .04 .15-.04 .78-.73M414.81 79.4l.31-.1 .62 .22 .46 0 .16-.11 .46-.62 .16-.07 .15 .07 .46 .43 .47-.14 .77-.8 .31-.17 .31-.38 .15-.29 .31-.95 .62-1.27 .15-.45 .47-3.69 .77-7.91 1.08-17.9 1.08-12.77 .31-2.78 .46-1.51 .16-.76 .46-3.61 .15-.74 .16 .3 .46 2.69 .62 2.32 .31 .8 .31 .47 .46 1.68 .15 .21 .16 .13 .15-.02 .31-.96 .16-.3 .15-.08 .31-.01 .15-.28 .16-.54 .31-1.41 .15-.4 .16 .02 .15 .48 .62 3.93 .15 .53 .47 .52 .15 .49 .46 2.86 .93-3.22 .16-.81 .3-.84 .31-.24 .16 .03 .15 .14 .31 .64 .46 1.52 .16 .33 .15 .17 .16-.04 .15-.3 .47-1.52 .15-.2 .15 .3 .31 1.98 .31 2.69 .47 5.09 .15 1.07 .15 .81 .62 1.69 .16-.54 .15-1.07 .46-4.64 .31-1.99 .62-1.88 .16-.29 .15-.12 .15 0 .31 .31 .16 .52 .15 1.33 .93 11.21 .62 4.23 .15 .68 .16-.13 .15-.62 .62-3.32 .46-4.53 .62-7.5 .31-2.32 .62-3.47 .77-6.27 .15-.48 .16 .13 .46 2.01 .15 .28 .16 .13 .15 .4M449.72 33.2l.15-1.43 .15-.83 .16-.35 .15 .12 .31 .81 .16-.1 .77-2.11 .46-2.15 .16 .14 .46 2.31 .15 .46 .16 .08 .15-.3 .47-1.64 .15-.05 .16 .42 .61 4.07 .16 .63 .15 .22 .47-.43 .15 .24 .31 1.5 .62 2.48 .61 3.41 .16 .46 .62 1.08 .15-.1 .62-1.14 .15 .06 .31 .78 .16 .23 .15-.07 .46-1.17 .16-.24 .15-.05 .47 .16 .31 .44 .15 .11 .15-.06 1.24-2.84 .15-.29 .16-.11 .15 .1 .47 .69 .15 .04 .46-.05 .31 .08 .31 .25 .77 2.26M466.09 42.36l.31 .3 .15-.06 .31-.32 .15-.01 .62 .92 .46 .08 .16 .15M472.57 69.93l1.08 5.79 .93 6.55 .93 5.03 .15 .37 .16 .18 1.08 .77 .15-.02 .31-.48M481.99 65.79l.16-.18 .46-.21 .16-.36M484 59.93l.16 .12 .3 .51 .16 .03 .15-.29 .62-2.13 .16-.01 .3-.41 .16-.09 .15 .02 .62 .56M487.55 58.71l.47 .12 .15-.06 .46-.41 .31-.03M490.49 57.35l.62-.2 .46 .01 .31 .15 .46 .5M493.11 59.08l.16 .14 .15 .03 .46-.24 .31-.06 .31 .2 .62 .76M497.13 60.35l.15 .17 .47 1.01 .61 1.72 .31 .64M500.53 69.88l.46 1.81M512.73 82.01l.46-.15M514.27 81.27l.31-.14M517.36 79.83l1.08-.7 .31-.05 .46 .14 .31-.02 1.08-.59M523.07 77.83l.31 .12M524.15 78.18l.78 .04 .77 .9 .46 .27M526.93 80.78l.16 .21 .15-.07 .78-.76 .46-.13M569.71 90.04l.93-.56M572.18 89.76l.31-.06M573.27 89.7l.46 .18M575.74 90.17l.31-.01M577.13 90.29l.46-.03M579.91 90.4l.3 .05M580.99 90.43l.61-.03M582.53 90.61l.62-.01M585.47 90.8l.46 .02M589.33 91.42l.61 .01M591.33 91.58l.62 .12 .62 .03 .77 .33 .93 .06 .46 .15M596.74 92.64l.77 .21 .62 .08M662.38 96.45l1.38-.01" stroke="#7E2F8E" stroke-width="0.50"/>
<path d="M395.82 88.94l.46-.12 .31 .06 .62-.34M402.15 85.19l.77-.35 .31 .05 .46 .24 .16-.01M404.62 84.71l.46 .02M406.01 83.89l.46-.18 .78-.02 .77-.69 .46-.17 .31 .08 .46 .31 .31-.19 .47-.89 .3-.37 .62-.29 .62 .04 .15-.04 .31-.29M412.81 80.49l.3 .15 .62-.41 .77-1.34 .31-.39 .31-.18 .47 .03 .46-.13 .31-.25 .46-.66 .16-.05 .15 .1 .46 .66 .31 .22 .16 .03M418.83 77.6l.31-.22 .46-.78 .62-1.78 .31-.65 .15-.54 .16-1.15 1.08-11.94 1.08-19.45 1.23-16.45 .16-1.38 .15-.65 .31-.76 .16-.7 .61-4.69 .16 .19 .46 2.54 .62 2.37 .15 .48 .47 .67 .46 1.67 .15 .17 .16 .06 .15-.11 .31-1.19 .16-.35 .15-.04 .31 .21 .15-.12 .16-.41 .31-1.57 .15-.46 .16 .04 .15 .58 .62 4.53 .15 .33 .47-.48 .15 .18 .46 2.28 .62-3.24 .31-1.02 .16-.75 .15-.36 .15-.06 .31 .42 .31 .85 .62 2.17 .15 .33 .16 .1 .15-.12 .16-.36 .62-2.7 .15-.22 .15 .39 .31 2.4 .78 9.13 .15 1.24 .15 .93 .62 1.71 .16-.68 .15-1.31 .46-5.59 .31-2.38 .16-.59 .46-1.22 .16-.07 .15 .19 .15 .35 .31 1.11 .16 .95 1.08 15.49 .62 5.07 .15 .84 .16-.05 .15-.58 .62-3.47 1.08-12.49 .15-1.24 .78-4.65 .61-5.25 .16-.8 .15-.31 .16 .27 .31 1.46 .15 .46 .15 .07 .16-.14M450.18 27.56l.15 .16 .31 .88 .16-.1 .77-1.91 .31-1.33 .15-.39 .16 .38 .46 2.99 .15 .59 .16 .11 .15-.34 .47-2.14 .15-.26 .16 .24M454.81 30.87l.47-.74 .15 .18 .46 2.36M457.28 40.19l.47 1.01 .15-.03 .16-.21 .46-.87 .15 .03 .31 .7 .16 .2 .15-.09 .46-1.21 .16-.25 .15-.09 .47-.1 .31 .19 .15-.01 .15-.14 .62-1.5 .77-1.45 .16-.15 .15 .06 .47 .67 .46 .28 .62 .73 .31 .74 .61 2.39 .78 1.44 .31 .3 .15-.11 .31-.52 .15-.15 .16-.01 .31 .33 .15 .1 .16 .01 .3 .29 .31 .86 .16 .77 .92 7.46 .62 3.6 .77 5.43 .93 5.05M472.57 71.46l.77 4.98M475.66 89.46l1.24 1.12 .15 .02 .31-.33M481.84 72.08l.31-.45 .46-.24 .16-.35 .3-.96 .47-2.34 .31-1.16 .15-.25 .16-.03 .3 .14 .16-.13 .77-1.95 .16 .13 .15-.05 .31 .04 .77 .64 .77 .11 .47-.25 .61-.89 .47-.31 .62-.9 .15-.12 .15-.02 .62 .21 1.24 .24 .61 .35 .78 .65 .15 .01 .46-.16 .31 .01 .78 .56 .77 .36 .31 .02 .46-.35 .62 .29 .15 .16 .62 1.16 .46 1.16 .78 1.21 .3 .64 .78 2.63 .61 2.4M504.23 93.17l.31 .3M512.73 82.55l.77-.16M514.58 81.72l.62-.01M516.43 80.88l.47-.01 .3-.19M518.59 79.51l.31 .04 .62 .3 .93 .11 .31-.1 1.08-.81 .31-.04 .46 .16 .62 .38 .77 .36 .31 .06 .62-.1M525.7 80.5l.46 .17M527.09 82.18l.15-.09 .47-.56 .31-.22 .77-.13 .62 .07 .15 .09 .15 .2 .78 1.32 .77 1.11M564.31 93l1.23-.51M570.18 90.66l.46-.22 .62-.16 .31 .06M573.11 90.46l1.08 .29M575.74 90.9l1.08 .06M579.75 91.21l.46 .04M581.14 91.19l.62 .03 .62 .18 .46 0M585 91.51l.31 .14 1.08 .04 .77 .14M587.94 91.85l1.7 .28 1.85 .09M593.03 92.52l.47 .16 .77-.02 .46 .08M598.44 93.39l1.39 .24 .77 .37" stroke="#77AC30" stroke-width="0.50"/>
<path d="M401.53 85.3l.31-.17 .46-.13 .62-.35 .31 .05 .46 .27 .16 .02 .46-.21 .31-.01M406.78 84.15l.31 .06 .16-.04M410.33 82.14l.78-.56 .61-.31 .78-.74 .15-.02 .46 .32 .62-.31M415.12 78.62l1.08-.14 .16-.11 .46-.56 .16-.04M417.9 78.48l.31-.21 .16-.2 .46-.73 .31-.36 .31-.61 .61-1.86 .47-1.05 .15-.57 .16-1.23 1.08-13.04 1.08-21.98 1.08-16.44 .31-3.55 .46-1.89 .16-.94 .61-5.69 .16 .19 1.23 7.46 .93 4.01 .15 .05 .16-.13 .15-.35 .47-2.51 .46-.93 .15-.56 .47-2.82 .15-.54 .16 0 .15 .61 .62 4.79 .15 .62 .16 .22 .15 .06 .16 .23 .15 .55 .46 3.28 .62-3.13 .31-1.11 .16-.85 .15-.43 .15-.13 .16 .08 .15 .2 .47 1.09 .46 1.45 .15 .38 .16 .2 .15 .05 .16-.15 .62-2.03 .15-.16 .15 .44 .31 2.54 .93 11.73 .15 1.17 .62 2.4 .16-.59 .15-1.22 .46-5.3 .16-1.26 .15-.73 .62-1.32 .16-.06 .3 .41 .31 .93 .16 .9 1.08 16.14 .62 5.28 .15 .83 .16-.1 .15-.68 .62-3.84 .46-5.14 .46-6.15 .31-2.91 .78-3.8 .61-4.71 .16-.77 .15-.29 .16 .31 .46 2.3 .15 .27 .16 .09 .15 .36 .16 2.74 .62 36.49 .15 5.25 .15-3.76 .62-32.31 .16-3.44 .15-1.42 .15-.71 .16-.14 .15 .38 .31 1.32 .16 .03 .61-1.85 .62-3.16 .16 .12 .46 2.36 .15 .48 .16 .08 .15-.3 .47-1.58 .15 0 .16 .48 .61 4.13 .16 .59 .15 .19 .47-.54 .15 .26 .77 3.86 .62 3.96 .31 1.07 .62 1.18 .15-.05 .16-.22 .46-.92 .15-.01 .31 .63 .16 .16 .15-.14 .46-1.37 .16-.28 .15-.11 .47-.12 .31 .24 .15 .05 .15-.07 .93-1.78 .46-1.18 .16-.28 .15-.08 .93 .69 .46 .85 .31 .76 .47 1.88 .3 .86 .62 .47 .47 .25 .15-.14 .31-.5 .15-.12 .16 .05 .31 .45 .15 .15 .16 .04 .3 .35 .31 .88 .16 .78 .77 6.44 .62 3.89 .92 6.78 1.08 6.1 .78 5.52 .92 5.3 .62 4.48M475.97 89l.46 .25 .47 .38 .15 .01 .31-.37 .62-1.07M484 62.48l.16 .04 .3 .37M485.55 61.47l.3-.07 .16 .04 .77 .6 .77 .04 .47-.19 .61-.8 .47-.17 .62-.61 .15-.03 .62 .33 .15-.03 .62-.37 .31-.08 .31 .14 1.23 1.34 .16 .05 .15-.04 .46-.3 .16-.02 .31 .17 .62 .72 .46 .26 .31 .09 .31-.02 .46-.33 .31 .21 .31 .24 .15 .2 .62 1.35 .46 1.26 .62 1.06 .31 .68 1.39 5.29M513.34 82.11l.31-.09M516.59 80.5l.31 .1 .46-.11 .93-.86 .3-.19 .31-.04 .47 .06 .61-.17 .62-.01 .31-.13M522.3 78.51l.93 .36 1.08 .13 .62-.05 .92 .84M528.02 80.58l.46-.01 .93-.28 .15 .03 .46 .61M571.72 90.34l.46 .12 .78-.07M573.88 90.48l.78 .02M575.58 90.71l.31 .01M580.21 91.01l.47-.06M583.77 91.1l.92 .06 .62 .15M587.94 91.47l.92 .09 .78 .18M591.18 91.96l.46 .02" stroke="#4DBEEE" stroke-width="0.50"/>
<path d="M398.75 87.18l1.08-1.44 .31-.19 .93-.33 .62-.46 .61-.31M403.69 84.41l.31 .05 .47-.12 .46 .08 .15-.07M406.01 83.25l.46-.21 .62-.03 .16-.07 .61-.67 .31-.17 .31 .03 .16 .08 .61 .61M410.64 80.96l.47-.41 .61-.28 .78-.65 .15 0 .46 .26 .62-.64 .62-1.37 .46-.79 .16-.15 .15-.05 .62 .2 .46-.07 .16-.13 .46-.76 .16-.13 .15 0 .46 .39 .62 1.06 .77 .68 .31 .52 .62 1.37 .31-.03M421.15 79.44l.92-2.38 .93-3.82 .46-1.1 .16-.71 .61-1.25 .16-.16 .46-.04 .16-.19 .61-1.66 .16-.02 .15 .18 .62 1.03 .46 1 .78 1.35 .15 .24 .15 .05 .16-.01 .15-.11 .47-.87 .46-.4 .15-.22 .47-1.03 .15-.2 .16 0 .15 .22 .46 1.45 .31 .71 .16 .13 .46 .16 .46 .65 .47-.93 .77-.96 .31-.03 .46 .22 .77 .94 .31 .16 .16-.04 .15-.15 .47-.81 .15-.17 .15 .04 .16 .25 .31 .88 .62 2.19 .3 .51 .62 .65 .16-.34 .15-.61 .77-4.16 .47-1.64 .31-1.41 .3-1 .47-1.05 .15 .09 .16 .29 .77 1.87 .31 .4 .31 .56 .15 .06M444.47 58.86l.61-5.66 .31-1.7 .47-1.7 .77-5.44 .15-.59 .16-.16 .46 .85 .15 .15 .16 .05M449.87 48.08l.15-.46 .16-.11 .31 .46 .15 .1 .16-.21 .61-1.44M452.19 44.18l.46 1.69 .15 .37 .16 .08 .15-.19 .47-1.07 .15 .01 .16 .35 .61 2.98 .16 .41 .15 .11 .47-.46 .15 .17 .77 2.79 .62 2.85 .31 .86 .62 1.05 .15 0 .16-.13 .46-.55 .15 0 .31 .35 .16 .01 .15-.24 .46-1.35 .16-.3 .15-.15 .47-.21 .46 .19 .15-.03 .16-.13 .77-.94 .62-1.08 .15-.09 .47 .05 .46-.28 .46 0M465.01 52.64l.3 .73 1.09 1.65 .15 0 .46-.37 .16 .02 .31 .24 .15 .04 .16-.04 .3 .1 .16 .15 .15 .31 .31 1.15 .62 3.82 1.23 6.17 .47 1.69 .77 2.02M475.66 88.75l.31 .14 .77 .15M483.69 58.82l.16-.6 .15-.22 .16 .14 .3 .63 .16 .1 .15-.17 .16-.37 .46-1.39 .16 .02 .3-.44 .16-.1 .15 .03 .16 .15 .62 .89 .61 .54 .47-.07 .46-.51 .15-.09 .47 .04 .15-.1 .47-.57 .15-.09 .62 .08 .62-.45 .3-.08 .31 .07 .16 .12 1.23 1.19 .16 .03 .15-.05 .46-.34 .31-.02 .78 .72 .92 .67 .31 .12 .31-.03 .31 .34 .46 .37M498.21 61.15l.15 .26 .62 .68 .31 .64 .15 .5 1.39 6.5M512.88 81.75l.31-.08M514.12 81.07l.3-.14 .78-.11 .15-.11M518.9 78.45l.47 .05 .61-.22 .47 .02 .31-.07 .46-.37 .62-.71 .31-.17 .46 .12 .62 .5 .62 .25 .46 .14 .62-.03M526.78 79.94l.31 .54 .15-.07 .78-.77 .3-.03 .62-.31 .47-.13 .15 .06 .15 .21 1.09 2.1M534.04 87.77l.46 1.16M564.93 92.1l.46-.24M567.09 90.87l.46-.22 1.08-.26M571.88 89.73l.3 .1 1.55 .16 1.08-.14 .93 .21 1.7 .17M579.13 90.18l.78 .31 .77-.03 .46 .07M582.38 90.78l1.54-.17M584.69 90.51l1.7 .33 .93 .36 .77-.02 1.39 .18 .77 .02M592.57 91.6l.93 .25M594.42 91.89l2.94 .79 .62 .05M598.75 92.78l1.08 .21 1.08 .58M655.89 96.65l1.39-.09M658.51 96.45l1.39 .02" stroke="#A2142F" stroke-width="0.50"/>
<path d="M395.2 89.55l.62-.38 .46-.09 .31 .07 .31-.16 2.01-1.3 .61-.75M401.38 85.6l.31-.17 .61-.04 .31-.16M404.62 84.84l.31 .03 .15-.05 .62-.66 .31-.17 .46-.08 .62 .08 .31-.12M410.18 82.16l.31-.26 .46-.19 .77 .05 .78-.56 .15 0 .46 .29 .62-.46 .62-1.15 .46-.59 .31-.09 .47 .2 .46 0 .31-.26 .46-.77 .16-.1 .15 .05 .93 .92 .15 .07 .62 .03 .93 .77 .15 .03 .31-.1 .46 .06 .31-.51 .93-2.59 1.08-5.12 .46-1.3 .16-.81 .61-1.69 .16-.26 .46-.21 .16-.23 .61-1.81 .16 .01 .15 .23 1.08 1.98 .47 .71 .46 1.03 .31 .17 .15-.05 .47-.88 .46-.55 .62-1.54 .15-.24 .16-.04 .15 .2 .62 1.65 .15 .17 .31-.03 .16 .04 .15 .15 .46 1.03 .78-1.05 .46-.85 .15-.13 .31-.01 .31 .25 .77 1.4 .31 .27 .16-.01 .15-.12 .47-.76 .15-.13 .15 .11 .31 .84 .78 3.1 .3 .55 .47 .33 .15 .01 .31-1.29 .46-3.09 .31-1.64 .47-1.64 .46-2.12 .46-1.3 .16-.17 .15 .23 .77 2.83 .78 2.3 .15 .25 .16-.31 .3-1.52 .62-3.92 .31-2.58 .62-6.36 .31-2.28 .62-2.75 .61-4.08 .16-.65 .15-.27 .16 .18 .46 1.81 .15 .22 .16 .06 .15 .21 .16 2.05 .62 27.34 .15 1.19 .62-22.12 .15-3.91 .16-1.78 .15-.83 .15-.42 .16-.09 .31 .47 .15 .1 .16-.22 .77-1.7 .31-1.07 .15-.33 .16 .2 .46 1.96 .15 .36 .16 .03 .15-.3 .47-1.61 .15-.18 .16 .18 .61 2.53 .16 .34 .15 .04 .47-.59 .15 .19 .77 3.3 .62 3.16 .31 .85 .62 1.01 .15 0 .16-.15 .46-.67 .15-.03 .31 .37 .16 .05 .15-.19 .46-1.29 .31-.48 .47-.28 .46 .24 .15-.01 .16-.14 .77-1.23 .62-1.29 .15-.1 .93 .34 .77 .63 .77 1.44 .62 .5 .16 .06 .31-.02 .46-.81 .15-.16 .16 .02 .46 .59 .31 .28 .31 .49 .31 .91 .15 .7 .62 3.69 1.39 7.12 .62 2.47 .46 1.26 .31 1.14 .62 3.17 .92 4.2 1.08 6.26 .62 2.9 .16 .61 .15 .26 .77 .24 .47 .23 .15-.05 .31-.54 1.08-2.56 .16-.54 1.54-10.9 .93-4.87M481.84 65.42l.15-.39 .16-.2 .46-.21 .16-.39 .3-1.14 .47-2.91 .31-1.41 .15-.22 .16 .1 .3 .51 .16 .03 .15-.22 .62-1.74 .16 .06 .3-.28 .16-.02 .15 .1 .16 .21 .46 .79 .31 .26 .46 .23 .47-.13 .46-.38 .15-.03 .47 .16 .15-.1 .47-.69 .15-.14 .62 .03 .46-.22 .31-.05 .31 .11 .31 .3M492.8 58.36l.31 .15 .16-.02 .46-.35 .31-.07 .31 .23 .46 .61 .31 .26 .93 .25 .46-.18 .31 .2 .46 .17 .62 1 .46 1.21 .78 1.54 .3 .97 1.55 6.66 .62 4.04 .92 7.59 .62 3.87M504.08 91.82l.15 .37 1.24 1.6 .77 .86 .15 .09 .16-.11M512.42 82.2l.31-.46 .92-.32 .77-.68 .93-.22M516.28 79.72l.15-.04 .47 .08 .3-.1 .31-.21 .93-.87 .31-.09 .46 .09 .31-.04 .46-.28 .78-.23 1.23-.7 .47 .1 .77 .34 .92 0 .62-.19 .16 .02 .77 .89 .46 .38 .16 .21 .61 1.5 .16 .23 .15-.06 .78-.77 .46-.03 .93-.27 .15 .03 .31 .39 .93 1.63 1.08 1.67 1.23 2.47M564.31 92.44l1.39-.68 .92-.77 .78-.46 1.08-.19 .92-.06 1.24-.73 .62-.14 .62 .23 .92-.01 1.08 .35 .93 0 .93 .24 .92-.08 .78 .03 1.08-.16 .46 .05 .93 .27 .92-.11 .62 .07 .93 .26 .77-.11 1.54 .14 .62 .15 1.08-.05 .93 .32 .77 .01 3.86 .61 .62 .03 .77 .23 .93 .02 1.23 .47 1.39 .08 1.39 .27 1.55 .44 1.85 .87 2.32 .88 .92 .56M645.85 97.5l1.39-.16M648.78 97.11l2.17-.22M652.49 96.78l.62-.06 1.08 .01M655.12 96.69l1.08-.14 2.47-.16 2.01 .04 3.39-.08 .93 .06 .93-.07 1.39 .04 1.85-.05 2.47 .09M675.19 96.47l1.7 .11 2.32 .03M682.92 96.83l1.23 .07M685.85 97.04l1.7 .1" stroke="#0072BD" stroke-width="0.50"/>
<path d="M395.2 89.12l.46-.34 .31-.15 .31-.07 .31 .03 .15-.07 1.86-1.1 .46-.4 .62-.85 .31-.32 1.7-1.27 .61-.22 .47-.28 .31-.02 .61 .43 .16 .04 .62-.24 .46 .02 .31-.21 .31-.41 .31-.28 .61-.17 .78 0 .77-.76 .31-.12 .31 .02 .61 .51 .31-.2 .47-.97 .3-.42 .62-.37 .77-.18 .78-.85 .15-.03 .46 .22 .47-.41 .15-.18 .77-1.57 .47-.59 .15-.06 .62 .09 .46-.06 .16-.1 .46-.61 .16-.09 .15 .04 .46 .41 .62 1.19 .62 .73 .46 .98 .31 .93M420.68 82.39l.16 .09 .31-.06 .92-.73 .77-.84 .16-.06 .46 .03 .16-.29 .61-.3 .16-.03 .46 .07 .16-.03 .46-.41 .15-.04 .16 .08 .46 .58 .62 .47 .62 .27 .46 .42 .31 .07 .15-.02 .47-.44 .46-.23 .77-.89 .16-.01 .15 .12 .62 .96 .15 .1 .62 .01 .46 .49 .78-.61 .46-.51 .15-.06 .16 0 .31 .14 .92 .93 .31 .15 .31-.06 .62-.67 .15-.03 .16 .1 .31 .39 .62 1.02 .92 .61 .16-.31 .31-1.15 .61-3.17 .78-3.36 .61-1.87 .16-.29 .15-.04 .77 .6 .47 .12 .31 .2 .15-.07M445.24 59.84l.31-1.13M446.63 52.47l.15-.41 .16 .02 .46 1.4 .15 .17 .16 .05M450.02 55.76l.16-.04 .31 .34 .15-.01 .62-1.15M454.81 55.49l.47-.27M456.82 60.24l.31 .86 .62 1.14 .15 .03 .62-.4 .15 .05 .31 .4 .16 .03 .15-.21 .46-1.31 .31-.53 .47-.25 .46 .24 .15-.01 .16-.12 .77-1.03 .62-1.01 .15-.12 .47-.13 .46-.34 .46 .01 .31 .17 .62 1.11 .15 .13 1.09 .15 .46-.44 .15-.07 .16 .05 .46 .39 .31 .06 .31 .27M472.73 78.1l.92 3.76 .78 3.79 1.08 3.97 .15 .2 .16 .05 .46 .08 .62 .24 .15-.05 .31-.49 1.08-2.12 .16-.47 1.54-9.81 1.54-7.47 .31-.94 .62-.7 .16-.44 .3-1.16 .47-2.7 .31-1.31 .15-.24 .16 .07 .3 .46 .16 .05 .15-.17 .62-1.42 .16 .08 .3-.23 .16-.03 .15 .05 .62 .51 .77-.04 .47-.35 .46-.7 .15-.14 .62-.05 .47-.4 .15-.05 .46 .1 .16-.02 .46-.35 .31-.11 .31 .06 .15 .1 .47 .51 .92 .8 .31 .05 .46-.15 .16 .01 .31 .18 .46 .45 .31 .18 .77 .07 .31-.17 .31-.35 .62 .16 .15 .17 .62 1.53 .46 1.42 .78 1.3 .3 .84 1.55 6.32 .31 1.79M514.58 81.05l.62-.07 .15-.07 .31-.17 .62-.51 .15 0 .31 .12M517.98 79.68l.46-.43 .31-.18 1.23-.28 .78 .11 .46-.2 .62-.41 .31-.05 1.08 .42 .92-.05 .62-.2 .16 .02 .77 .95 .62 .49M527.86 80.97l.16-.06 .46-.01 .46-.21 .47-.14 .15 .01M530.33 81.65l.93 1.55 .62 .86M564.46 92.6l.62-.19M566.78 91.48l.62-.29 .77-.16M569.87 90.51l.77-.47 .62-.18 .77 .24 .77 .03 1.24 .29 1.39 .13 .92-.01M578.67 90.56l1.24 .34 .92-.1 .77-.01 .78 .23M583.15 91.02l1.23-.02M590.25 91.9l.31 .05M598.59 93.18l.62 .09" stroke="#D95319" stroke-width="0.50"/>
<path d="M395.2 89.83l.62-.37M396.59 89.32l2.32-1.37 .92-.92 .62-.4 1.08-.92 .31-.1 .46 0 .62-.23 .31 .05 .46 .18 .31-.12M404.78 85.16l.3-.02 .62-.61 .31-.15 .46-.06 .47 .08 .31-.05 .77-.76 .46-.08M410.33 82.6l.62-.52M414.5 79.45l.47-.4 .77-.02 .46-.12 .16-.11 .46-.63 .16-.09 .15 .03 .46 .29M418.37 79.22l.46 .38M420.22 82.16l.62 .57 .31 .08 .46-.09 .62 .02 .61-.18 .62 .23 .16-.21 .46-.04 .31 .05 .46 .2 .16-.01 .46-.33 .15-.04 .16 .04 .46 .46 1.7 1.24 .31-.03 .15-.08 .47-.54 .61-.39 .47-.54 .15-.09 .16 .01 .15 .13 .46 .79 .31 .36 .62 .1 .46 .33 .47-.45 .77-.58 .15-.01 .31 .11 .93 .65 .31 .08 .31-.07 .15-.1 .62-.57 .15 .02 .16 .14 .93 1.37 .61 .1 .16 .08 .15-.01 .16-.33 .31-1.08 .61-2.79 .78-3 .61-1.84 .16-.33 .15-.12 .16 0 .46 .2 .46-.03 .47 .11 .15-.12 .16-.49 1.08-5.21 .92-6 .31-1.17 .31-.6 .16-.57 .77-4.32 .15-.4 .16-.06 .46 .88 .15 0 .16-.09 .15 .07 .16 1.7 .62 22.23M449.56 60.67l.16-.95 .15-.55 .15-.26 .16 .03 .31 .43 .15 .02 .77-1.27 .62-1.67 .16 .09 .46 1.38 .15 .24 .16 0 .15-.25 .47-1.18 .15-.07 .16 .24 .61 2.37 .16 .34 .15 .1 .47-.36 .15 .14 .93 2.5 .46 1.56 .15 .34 .78 1.09 .15 .03 .62-.35 .15 .07 .31 .44 .16 .07 .15-.13 .46-1.05 .31-.45 .47-.25 .46 .08 .15-.09 .93-1.87 .46-.83 .16-.16 .15-.01 .47 .34 .15 .05 .62-.02 .46-.2 .16 .04 .46 .48 .62 .32 .62 .71 .61 .13 .47 .54 .15 .08 .31-.03 .31 .09M469.33 67.24l1.7 6.27M472.57 79.91l1.24 4.74M474.73 88.47l.78 2.42 .15 .19 1.24 .45 .15-.04 .16-.18 1.23-2.14 .16-.41 .15-.72 1.54-9.15 1.39-6.54 .31-1.03 .16-.3 .46-.58M483.38 67.28l.47-2.07 .15-.23 .16 .1 .3 .44 .16 .01 .15-.21 .62-1.47 .16 .09 .46-.21 .62 .24 .61-.12 .78 .05 .46-.3 .62-.11 .15-.14 .47-.74 .15-.14 .15-.02 .47 .09 .15-.03 .62-.34 .46-.15M492.65 62.87l.46 .81 .31 .27 .16 .03 .46-.15 .93 .48 .92 .34 .31-.09 .31-.26 .62 .12 .15 .09 .62 .99M512.73 82.3l.77-.13 .92-.63 .31-.04 .47 .09 .46-.06 .62-.43 .62 0 .46-.22 .62-.54M518.75 79.9l.62 .03 .61-.15 .62 .02 .31-.15 .77-.68 .31-.19 .47 .08 .61 .41M523.85 79.58l.46 .18 .62 0 .15 .12 .62 .71 .62 .52 .61 1.2 .16 .17 .15-.07 .78-.85 1.08-.46 .31-.09 .15 .02M531.72 84.62l.93 1.85 .93 1.57M562.3 94.66l2.01-1.57 1.39-.6 1.23-.86 .47-.22 .46-.1M569.1 91.1l.46-.12 1.08-.42 .62-.11 .77 .24 .93-.03 .92 .15 .93 0 .93 .16 1.39 .08 1.39-.21 .3 .04 1.09 .43 1.08-.08 .61 .06 .78 .21 1.85-.25 .46 .07 .62 .19 1.08-.06 .93 .36 .77-.03M591.33 92.07l1.39 .18 .62 .21M594.73 92.67l.47 .16M600.6 93.93l1.24 .61 2.47 .84M605.23 95.94l.93 .55M645.39 97.7l1.7-.2M660.68 96.67l.92-.02" stroke="#EDB120" stroke-width="0.50"/>
<path d="M395.2 90.16l.77-.41 .62-.04 2.16-1.15 .31-.22 .77-.84 .93-.45 .93-.6 .61-.07 .78-.4 .61 .15 .31-.09 .47-.29 .61 .08 .62-.45 .31-.12 .46-.07 .62 .03 .31-.16 .46-.51 .31-.19 .31 0 .16 .06 .61 .57 .31-.09 .47-.73 .3-.33 .62-.34 .77-.15 .78-.64 .15-.02 .46 .19 .62-.49 .47-.69 .46-.48 .31-.16 .62 .14 .46-.02 .31-.21 .46-.57 .16 0 .15 .14 .46 .72 .47 .41 .31-.01 .46-.2 .15 .01 .78 .54 .46 .03 .46 .2 .16-.07 .31-.4 .92-1.69 .93-2.94 .46-.83 .16-.58 .61-1 .16-.14 .46-.05 .16-.15 .46-.92 .15-.19 .16 .07 .46 .81 .77 1.02 .47 .31 .46 .5 .15 .03 .31-.04 .47-.56 .46-.2 .15-.16 .47-.85 .15-.18 .16-.05 .15 .12 .62 1.05 .15 .1 .47-.01 .15 .12 .46 .93 .78-.71 .46-.7 .31-.17 .15-.01 .31 .13 .77 .97 .31 .18 .16-.03 .15-.12 .47-.69 .15-.14 .15 .04 .16 .22 .31 .74 .62 1.79 .3 .37 .47 .27 .15 .02 .31-1.04 .77-4.04 .47-1.6 .61-2.68 .47-1.35 .15 .02 .16 .25 .77 2.05 .62 .97 .15 .03 .16-.44 1.08-6.25 .92-7.75 .31-1.62 .47-1.71 .77-5.22 .15-.52 .16-.09 .46 1.28 .31 .37 .15 .35 .16 2.15 .62 25.85 .15 .56 .62-20.58 .15-3.48 .16-1.65 .15-.84 .15-.45 .16-.1 .31 .4 .15 .06 .16-.23 .77-1.78 .31-1.07 .15-.33 .16 .17 .46 1.73 .15 .29 .16-.03 .15-.33 .47-1.55 .15-.13 .16 .24 .61 2.89 .16 .43 .15 .13 .47-.5 .15 .12 .77 2.56 .77 3.7 .31 .76 .47 .78 .15-.06 .62-.81 .15 .04 .31 .5 .16 .09 .15-.16 .46-1.37 .31-.62 .47-.33 .46 .21 .15-.04 .62-.92 .77-.98 .16-.12 .15 .01 .47 .24 .61-.18 .47 .05 .15 .1 .62 1.1 .15 .18 .47 .25 .62 .47 .46-.22 .15 .03 .62 .92 .31 .22 .31 .33 .31 .76 .15 .63 .62 3.56 1.08 5 .62 2.39 1.08 3.36 .62 2.86 .92 3.83 .93 4.78 .77 3.06 .16 .54 .15 .22 1.24 .4 .15-.05 .31-.52 1.08-2.31 .16-.53 1.54-10.84 1.54-8.8 .31-.99 .16-.21 .46-.27 .31-.76 .15-.52 .47-2.51 .31-1.12 .15-.1 .46 .85 .16 .07 .15-.2 .62-1.8 .16 .03 .46-.46 .15-.03 .47 .16 .46-.03 .15 .05 .78 .8 .15 .04 .93-.76 .62-1.3 .15-.14 .15 .01 .62 .47 .31 0 .77-.15 .16 .04 .61 .42 .78 .9 .77 .08 .31 .22 .62 .64 .46 .29 .31 .16 .31 .02 .46-.35 .62 .4 .15 .21 .47 1.13 .61 1.76 .62 1.05 .31 .68 1.7 6.96 .62 4.05 .92 7.24 1.55 8.66 .15 .36 .93 1.16 1.08 1.12 .15 .07M510.41 86.5l1.39-2.86M512.73 82.11l.61-.2 .31-.16 .77-.72 .78-.33 .46-.3 .62-.58 .15-.03 .47 .1 .3-.08 1.39-.86 .78-.08 .61-.27 .62-.13 1.24-.63 .31 0 .92 .2 .47-.02 .61 .08 .16 0 .46-.21 .16-.02 .31 .3 1.08 1.32 .61 1.51 .16 .23 .15-.05 .78-.67 .46-.07 .93-.5 .15 .02 .15 .16 .31 .45 3.25 5.81 .92 2.18M535.43 91.84l.31 .82M559.21 96.77l1.85-1.41 3.25-2.84 1.23-.57 1.08-.77 .62-.28 1.86-.3 1.54-.76 .62-.06 .77 .26 1.08-.06 .93 .25 1.54 .16 1.7 .09 1.24-.3 .46 .07 .77 .38 .31 .07 .77-.09 .62-.01 1.08 .26 1.7-.15 1.08 .27 1.08-.02 .93 .32 .93-.01 1.69 .34 1.55 .07 1.08 .13 .93 .36 .61 .04 .78 .17 1.39 .19 1.23 .38 1.08 .07 1.24 .2 1.85 .96 1.7 .57 .77 .35 1.86 1.11M651.56 96.9l1.24-.09M667.32 96.47l1.85-.07 2.47 .07 1.55-.05 1.23 .07M675.81 96.58l.46 .03M678.75 96.69l1.39-.02 1.39 .08 5.25 .4" stroke="#7E2F8E" stroke-width="0.50"/>
<path d="M395.2 89.99l.77-.54 .31-.09 .31 .02 2.16-1.1 .93-.86 .93-.4 1.08-.91 .61-.23 .62-.46 .31-.06 .62 .1 .62-.3 .46 .11 .15-.03 .62-.57 .31-.11 .31 .01 .62 .16 .31-.04 .3-.26 .47-.56 .46-.27 .31 .07 .46 .32 .31-.14 .62-.98 .77-.51 .77-.19 .78-.68 .15-.02 .46 .26 .62-.33 .77-1.23 .47-.5 .31-.03 .77 .28 .15-.01 .16-.06 .46-.47 .16 0 .15 .12 .46 .5 .31 .21 .31 .08 .62 .02 .31 .29 .62 .94 .61 .33 .62 .55 .62 .22 .62 .5 1.23 .16 .16-.23 .46 0 .93 .48 .46-.19 .15 0 .16 .07 .46 .5 .62 .47 .62 .29 .46 .32 .46 0 .47-.34 .46-.15 .31-.31 .31-.44 .15-.15 .16-.06 .15 .06 .16 .16 .3 .44 .31 .29 .62 .07 .46 .35 1.24-.82 .31-.02 .31 .1 .92 .61 .31 .05 .31-.13 .62-.64 .15 0 .16 .13 .93 1.3 .92 .17 .16-.32 .31-1.07 .61-2.81 .62-2.36 .46-1.49 .47-1.21 .15-.16 .31-.01 .31 .13 .46 .1 .47 .33 .15-.05 .16-.4 1.23-5.31 .62-4.1 .31-1.64 .15-.55 .31-.7 .16-.61 .77-4.36 .15-.44 .16-.11 .46 .88 .31 .12 .15 .22 .16 1.83 .46 17.88 .16 3.74 .15-1.69 .46-13.19 .16-3.71 .15-1.77 .31-1.35 .15-.27 .16 0 .31 .26 .15-.08 .77-1.43 .47-1.2 .15-.24 .16 .14 .46 1.46 .15 .24 .16-.02 .15-.26 .47-1.34 .15-.16 .16 .12 .15 .39 .46 1.6 .16 .3 .15 .08 .47-.29 .15 .18 .93 2.85 .61 2.2 .78 1.4 .15 0 .62-.6 .15 0 .31 .31 .16 .03 .15-.14 .46-1.05 .31-.5 .47-.44 .61-.06 .31-.35 .78-1.2 .46-.97 .15-.17 .47-.15 .46-.25 .77-.15 .16 .11 .61 .82 1.09 .41 .46-.2 .15 .02 .47 .41 .15 .02 .46-.19 .16 .05 .15 .2 .31 .96 .77 4.11 1.08 4.01 1.39 4.1 .62 2.8 .93 3.45 .77 3.56 .46 1.75 .78 2.42 .15 .18 .16 .06 1.08 .28M478.13 88.88l.31-.61M481.84 70.74l.31-.67 .46-.48 .31-.91M484 64.06l.16 .05 .3 .32 .16-.04 .15-.27 .62-1.77 .16 .04 .3-.28 .16-.05 .15 .04 1.39 1.24 .47 .08 .61-.62 .47-.07 .15-.11 .47-.66 .15-.13 .62 0 .77-.37 .46-.04 .77 .48 .62 .58 .16 .06 .15-.02 .46-.27 .31-.06 .93 .61 .62 .24 .31 0 .46-.36 .62 .37 .15 .21 .47 1.13 .61 1.73 .62 1.07 .31 .7M504.39 93.19l.31 .34M511.95 83.74l.62-1.15 .31-.19 .77-.15M515.66 81.16l.62-.68 .15-.06 .47-.01 1.39-.69 .61 0M519.98 79.32l1.09-.33 .77-.44 .31-.11 .61-.01 1.55 .3 .46-.05 .16 .05 .77 .86 .62 .44 .77 1.43 .15-.06 .47-.39 .31-.18 .46-.06 .77-.39 .16-.03 .15 .07 .31 .48 .77 1.55 1.24 1.89 1.39 2.47 .92 2.05 .77 2M563.23 93.67l1.08-.93 1.39-.54 .92-.7 .78-.42 2.16-.35 1.08-.47 .62-.2 .77 .19 .77-.04 .62 .15M575.74 90.66l1.08 .05M577.59 90.63l.77-.19 .46 .01 1.09 .31 .92 .07M581.6 90.94l.78 .15 .77-.14 1.08-.09 .62 .11M586.08 91.25l.47 .02 .77 .25 .77 .05 1.55 .24 2.78 .2 1.08 .39 .77-.02 3.24 .72 .93 .01 1.08 .15 .31 .1 .46 .28M601.37 94.18l.93 .42M651.41 96.96l3.86-.18M656.04 96.74l1.39-.11M658.51 96.53l1.7 .04M663.92 96.49l2.93 0M669.94 96.49l2.16 .06M673.03 96.55l2.32 .05M676.12 96.65l2.32 .1M679.21 96.73l3.55 .2" stroke="#77AC30" stroke-width="0.50"/>
<path d="M395.2 89.47l.46-.35 .31-.12 .31-.04 .31 .07 .15-.07 2.17-1.51 .92-.93 .93-.53 .93-.68 .61-.07 .62-.22 .31 .03 .46 .15 .16-.02 .62-.3 .46 .15 .15-.02 .78-.73 .61-.21 .62 .04 .16-.04 .61-.59 .31-.18 .47 .02 .61 .39 .31-.21 .47-.91 .3-.34 .62-.3 .77-.25 .78-.75 .15-.02 .46 .22 .62-.51 .77-1.36 .47-.54 .31-.04 .61 .12 .31-.05 .16-.12 .46-.68 .16-.11 .15 .01 .46 .36 .62 .95 .46 .41 .31 .36 .93 1.95 .31 .02 .46 .22 .31-.04 1.08-.78 .62-.96 .31-.36 .46-.11 .16-.33 .61-.29 .62 .14 .16-.07 .61-.82 .16 .03 .46 .6 .77 .83 .47 .29 .46 .5 .15 .05 .31-.05 .47-.6 .61-.43 .47-.56 .15-.09 .16 .03 .15 .16 .62 1.05 .15 .11 .47-.07 .15 .04 .46 .47 1.09-1.2 .3-.17 .31 .06 .31 .19 .77 .85 .31 .18 .31-.06 .47-.49 .15-.11 .15 .02 .31 .41 .78 1.55 .3 .22 .47 .21 .15 0 .31-.94 .77-3.84 .78-3.19 .46-1.64 .31-.82 .15-.1 .16 .06 .61 .69 .47 .36 .31 .4 .15 .03 .16-.38 1.08-5.53 .77-6.4 .31-1.93 .15-.67 .31-.76 .16-.56 .77-4.3 .15-.45 .16-.1 .46 .85 .31-.02 .15 .17 .16 1.89 .62 24.11 .15-.18 .62-18.92 .15-2.73 .16-1.2 .15-.59 .15-.25 .16 .04 .31 .52 .15 .07 .16-.2 .61-1.24 .62-1.89 .16 .06 .46 1.38 .15 .23 .16-.06 .15-.34 .47-1.63 .15-.23 .16 .12 .15 .45 .62 2.48 .15 .21 .16-.02 .31-.19 .15 .13 .31 .91 .46 1.08 .77 2.81 .78 1.42 .15 .01 .16-.12 .46-.52 .15 0 .31 .41 .16 .08 .15-.12 .62-1.32 .15-.17 .47-.31 .46 .14 .15-.01 .16-.12 .77-1.01 .62-1.13 .15-.1 1.7 .48 .16 .12 .46 .66 .46 .3 .78 .68 .15-.04 .31-.27 .15-.05 .16 .04 .31 .24 .15 .02 .16-.07 .3-.03 .16 .08 .15 .23 .31 .98 .62 3.46 1.23 5.62 .62 2.35 .77 2.6 .78 3.76 .92 3.84 .62 3.15 .46 1.91 .78 2.65 .15 .22 .62 .24 .62 .35 .15-.02 .31-.41 1.08-1.92 .16-.43 1.54-9.22 1.54-7.33 .31-.85 .62-.55 .16-.43 .3-1.21 .47-2.81 .31-1.31 .15-.21 .16 .08 .3 .46 .16 .03 .15-.18 .62-1.35 .16 .13 .15-.08 .31-.02 .77 .52 .46 .07 .31 .13 .47-.07 .61-.65 .47-.16 .62-.63 .15-.05 .46 .12 .16-.01 .77-.54 .46-.09 .77 .55 .62 .55 .31-.01 .31-.18 .31-.07 .31 .15 .62 .52 .61 .25 .31 .04 .16-.04 .46-.4 .62 .32 .15 .19 .47 1.05 .61 1.69 .93 1.63 .31 .95 1.39 5.19 .62 3.67 .92 6.68 1.55 7.87 .15 .32 .93 1.05 1.08 1.05 .15 .07 .16-.13 .31-.48 1.7-2.87 1.23-3.39 .93-1.92 .77-1.78 1.08-2.14 .31-.16 .77 .01 .93-.54 1.08-.33 .62-.39 .62 .19 .46-.09 .31-.23 .77-.78 .31-.18 1.23-.39 .78-.04 .92-.46 .31-.08 .47 .15 .77 .4 1.08 .15 .46-.16 .16-.01 .15 .08 1.08 1.01 .16 .21 .61 1.4 .16 .21 .15-.06 .47-.48 .31-.2 .46 .03 .93-.39 .15-.03 .15 .1 .31 .36 1.86 3.02 1.39 2.5 .92 2.06 2.16 5.35 .31 .57 2.17 2.77 2.31 .69 6.18 .11 7.57-.19 3.09-.72 .3-.15 1.24-.97 1.24-.87 3.55-2.91 1.39-.59 .92-.6 .78-.37 1.7-.28 .46-.16 1.08-.58 .62-.16 .77 .19 1.08 .01 .93 .25 2.31-.01 .93 .12 1.08-.14 .46 .07 .93 .3 .31 .03 .77-.08 .77 .11 .93 .28 1.08-.03 .62-.16 .46-.05 .78 .19 .92 .14 .93 .34 .77 .02 1.55 .26 1.54 .12 1.39 .2 .77 .21 .93-.06 1.39 .44 1.08 .18 .77 .21 1.08 .06 1.08 .16 1.39 .46 1.7 .76 1.39 .5 3.4 2.01 2.93 1.12 .31 .07 6.03 .27 15.44-.1 9.27-1.01 3.08 .17 4.64-.61 7.57-.39 1.39-.16 1.39 .05 4.63-.11 3.7 .04 1.39-.07 1.86 .09 3.55 .02 2.32 .16 3.09 .04 22.54 1.36 14.52 .42" stroke="#4DBEEE" stroke-width="0.50"/>
<path d="M539.75 98.70H556.28M610.18 98.70H635.81M703.46 98.70H717.20" stroke="#4DBEEE" stroke-width="0.42"/>
</g></g>
<path d="M204.16 98.70v-1.60M204.16 7.50v1.60M242.77 98.70v-1.60M242.77 7.50v1.60M281.38 98.70v-1.60M281.38 7.50v1.60M319.99 98.70v-1.60M319.99 7.50v1.60M358.60 98.70v-1.60M358.60 7.50v1.60M197.60 98.70h1.60M358.60 98.70h-1.60M197.60 89.76h1.60M358.60 89.76h-1.60M197.60 80.82h1.60M358.60 80.82h-1.60M197.60 71.88h1.60M358.60 71.88h-1.60M197.60 62.94h1.60M358.60 62.94h-1.60M197.60 53.99h1.60M358.60 53.99h-1.60M197.60 45.05h1.60M358.60 45.05h-1.60M197.60 36.11h1.60M358.60 36.11h-1.60M197.60 27.17h1.60M358.60 27.17h-1.60M197.60 18.23h1.60M358.60 18.23h-1.60M197.60 9.29h1.60M358.60 9.29h-1.60" stroke="#262626" stroke-width="0.30" fill="none"/>
<g font-size="3.60" fill="#262626" stroke="#262626" stroke-width="0.05">
<text x="204.16" y="104.20" text-anchor="middle">500</text>
<text x="242.77" y="104.20" text-anchor="middle">1000</text>
<text x="281.38" y="104.20" text-anchor="middle">1500</text>
<text x="319.99" y="104.20" text-anchor="middle">2000</text>
<text x="358.60" y="104.20" text-anchor="middle">2500</text>
<text x="196.00" y="99.90" text-anchor="end">0</text>
<text x="196.00" y="90.96" text-anchor="end">0.01</text>
<text x="196.00" y="82.02" text-anchor="end">0.02</text>
<text x="196.00" y="73.08" text-anchor="end">0.03</text>
<text x="196.00" y="64.14" text-anchor="end">0.04</text>
<text x="196.00" y="55.19" text-anchor="end">0.05</text>
<text x="196.00" y="46.25" text-anchor="end">0.06</text>
<text x="196.00" y="37.31" text-anchor="end">0.07</text>
<text x="196.00" y="28.37" text-anchor="end">0.08</text>
<text x="196.00" y="19.43" text-anchor="end">0.09</text>
<text x="196.00" y="10.49" text-anchor="end">0.1</text>
</g>
<text x="278.60" y="5.95" text-anchor="middle" font-size="3.50" font-weight="bold" fill="#000" stroke="#000" stroke-width="0.13">CHIMES radiance BOAEM,Orange Perspex ROI (5x5)</text>
<text x="278.10" y="108.60" text-anchor="middle" font-size="3.60" fill="#2a2a2a">wavelength (<tspan fill="#999">λ</tspan>) nm</text>
<text transform="translate(186.50 53.10) rotate(-90)" text-anchor="middle" font-size="3.60" fill="#2a2a2a">Spectral Radiance W/m<tspan font-size="2.52" dy="-1.3">2</tspan><tspan dy="1.3"> sr nm</tspan></text>
<clipPath id="c2"><rect x="383.50" y="7.20" width="161.50" height="91.80"/></clipPath>
<rect x="383.50" y="7.50" width="161.50" height="91.20" fill="none" stroke="#262626" stroke-width="0.30"/>
<g clip-path="url(#c2)"><g transform="scale(0.500 1)" fill="none" stroke-linejoin="round" stroke-width="0.44">
<path d="M771.49 29.52l.31-1.46 .62-1.97 .31-1.83M773.66 18.75l.47-1.02M777.07 23.61l.46-.4 .31-.53 .16-.13 .31-.02M779.7 23.81l.16-.06 .46 .84M782.34 21.02l.46-1.74 .31-.79 .16-.07 .31 .32 .15 .07 .31-.13 .16 .03 .15 .34 .16 .69 .46 2.79 .16-.16 .31-.63 .15-.54 .62-4.34 .15-.77 .16-.48 .15-.18 .16 .14 .15 .54 .62 3.68 .31 1.26 .16 .36 .15 .03 .16-.34 .31-1.11 .15-.25 .16 .18 .62 2.32 .15 .35 .16 .17 .15-.03 .62-1.31 .16-.05 .15 .25 .47 1.78 .15 .36 .16 .13 .31 .04 .15 .16 .47 .94 .15 .12 .16-.1 .31-.4 .15-.01 .62 1.11 .16 .07 .46-.26 .15 .18 .47 1.17 .15-.75 .16 .22 .31 .08 .15 .14 .47 .74 .15 .09 .16-.2 .46-1.74 .16-.13M799.84 35.56l.31 .56 .16 .01 .46-1.59 .31-.61M801.86 30.49l.15-.56 .16-.09M803.41 35.65l.15 .29 .16 .51 .46 2.63 .77-2.64 .47-1.88 .15-.25 .16-.05 .15 .12M806.97 37.86l.15 .26 .16 .08 .15-.13 .31-.92 .31-1.47 .16-.45 .15 .02M810.07 38.36l.15-.58 .16-.09 .31 .05 .15-.28 .31-1.12 .16-.18 .15 .24 .47 1.79 .62 1.51M818.74 11.85l.16 .43 .46 3 .16 .37 .15 .13M822 18.79l.15 .18 .31 .81M825.56 14.56l.15-.07 .16 .51 .15 1.03M826.8 20.94l.46-.58M829.28 32.77l.46 .94 .16-.36 .62-2.89 .15-.4 .16-.04 .31 .21 .15-.17 .62-1.91 .46-.42 .31-.62 .31-1 .47-1.93 .15-.36 .47-.59 .62-1.42 .15-.01 .47 .56 .46 .15 .16 .12 .31 .36 .15 .37 .31 1.36 .62 3.89 .31 .87M838.42 31.03l.46 .95M857.47 43.53l.16 .36 .15-.12M860.1 47.66l.16 .01 .46-.33 .47 .07 .62-.51M865.84 52.25l.31 .15 .46 .69M868.01 55.26l.31 .22M886.75 77.21l.77-.18M888.61 76.08l.31-.1M892.17 72.42l.31-.07M894.19 70.79l.15-.05 .31 .04 .16 .07 .46 .45 .31 .12M901.31 74.21l.31-.07" stroke="#0072BD" stroke-width="0.50"/>
<path d="M767 78.54l1.24-9.49 .46-2.81 .31-1.11 1.24-3.65 1.09-4.27 .31-.91 .77-1.03 .93-1.95 .16-.15 .46 0 .16-.11 .62-1.13 .15 .04 .62 1.36 .16 .11 .15-.08 .31-.44 .15-.02 .16 .27 .31 .87 .15 .24 .16 .01 .62-.57 .15-.04 .31 .13 .31 .35 .47 1.06 .15 .17 .16-.05 .15-.25 .47-.95 .15-.1 .31 .01 .16 .15 .15 .33 .47 1.35 .31-.14 .62-2.2 .15-.21 .62-.4 .16-.05 .15 .02 .47 .44 .15 .03 .16-.1 .31-.36 .15-.06 .16 .1 .46 .81 .62-.79 .77-2.06 .31-.53 .16-.1 .15 .09 .16 .22 .93 1.87 .15 .18 .16 .01 .31-.14 .15 .12 .16 .34 .62 2.09 .31 .59 .15 .08 .16-.02 .46-.23 .16 .01 .15 .14 .47 .69 .15 .03 .47-.42 .15 .01 .62 .86 .16 .09 .31 .02 .15 .08 .62 .65 .62 .02 .62 .89 .15-.46 .16 .05 .31-.08 .31 .13 .46 .45 .16-.06 .46-.92 .16-.11 .15 .18 .16 .41 1.24 3.71 .77 1.83 .16 .12 .15 .03 .16-.07 .46-.94 .47-.24 .15-.16 .47-.95 .15-.17 .16 .05 .15 .33 .47 1.85 .31 .84 .15 .12 .31 .07 .16 .15 .46 1.01 1.08-2.62 .31-.45 .16-.04 .15 .03 .31 .28 .78 1.43 .31 .3 .15 .01 .16-.1 .62-1.18 .15 .01 .16 .27 .15 .64 .47 3.32 .15 .57 .16-.26 .62-3.86 .15-.66 .62-1.59 .47-1.92 .15-.4 .47-.6 .62-1.74 .15-.19 .16 .21 .46 1.09 .62 1.93 .46 .67 .31 .7 .16 .12 .15-.38 1.09-5.92 .93-11.65 .77-6.04 .62-8.12 .16-1.56 .15-.77 .16 .35 .46 2.27 .16 .28 .15 .1 .16 .4 .15 3.46 .47 34.91 .15 7.43M821.38 40.63l.15-3.26 .31-2.42 .16-.57 .15-.15 .16 .05 .15-.09 .62-2.54 .46-1.43 .31-1.36 .16-.41 .15 .12 .47 2.33 .15 .6 .16 .18 .15-.22 .47-1.44 .15 .06 .16 .55 .62 4.46 .15 .65 .16 .2 .46-.76 .16 .17 .77 4.15 .62 4.31 .31 1.25 .47 1.24 .15 .26 .16-.26 .62-2.35 .15-.3 .16-.01 .31 .22 .15-.14 .62-1.72 .62-.45 .31-.36 .62-1.51 .62-.82 .62-1.39 .15-.14 .31-.06 .16-.09 .46-.52 .16-.04 .31 .36 .31 .69 .15 .53 .62 2.93 .78 2.1 .46 1.46 .47 .96 .46 1.65 .93 2.66 .31 1.73 .62 5.31 1.39 9.72 .47 2.32 .77 3.11 .62 3.53 .47 2.07M856.08 41.58l.15 .35 .31 1.38 .16 .37 .15 .04M861.65 47.22l.16-.11 .15 .06 .47 .76 .31 .37M865.53 51.92l.46 .04M867.23 53.28l.31 .27 .62 .77 .31 .15M886.6 77.49l.31-.17 .3-.03M891.09 73.29l.31-.08M892.17 72.88l.47-.09 .15-.1" stroke="#D95319" stroke-width="0.50"/>
<path d="M769.17 50.84l1.39-8.5M771.49 36.07l.31-.99 .47-.66 .31-.99 .93-5.07 .15-.45 .47-.85 .46-1.5 .16-.21 .15 .28 .16 .66 .46 2.6 .16 .52 .15 .24 .31 .09 .15 .34 .47 2.63 .15 .54 .16 .11 .15-.17 .31-.52 .31-.74 .31-.45 .16-.12 .15 0 .16 .19 .31 .93 .15 .26 .16-.03 .46-.97 .16-.11 .15 .14 .16 .28 .31 .79 .46 2.44 .16 .53 .31-.45 .46-3.52 .31-1.61 .78-1.91 .15-.17 .16-.01 .31 .18 .15-.08 .47-.69 .15 .11 .16 .46 .46 2.45 .47 .05 .15-.09 .77-2.77 .31-.63 .16-.1 .15 .16 .16 .38 .46 1.46 .47 1.17 .15 .11 .16-.18 .31-.74 .15-.14 .16 .19 .62 1.91 .31 .65 .31 .28 .31 .03 .15 .12 .16 .26 .62 2.03 .15 .2 .16-.02 .31-.18 .15 .12 .47 1.07 .15 .23 .16 .03 .46-.47 .62 .04 .47-.4 .15-.01 .15 .2 .47 1.08 .15-.71 .16 .11 .31-.06 .15 .09 .47 .78 .15 .14 .16-.12 .46-1.69 .16-.24 .15 .19 1.24 4.95 .47 1.33 .46 1.89 .16 .24 .15 .13 .16-.04 .46-1.25 .16-.13 .31-.1 .15-.25 .47-1.48 .15-.28 .16 .08 .15 .47 .62 3.37 .16 .39 .15 .11 .16-.02 .15 .13 .16 .33 .46 2.01 1.08-4.03 .16-.44 .15-.21 .16-.05 .15 .07 .16 .18 .31 .68 .62 1.84 .15 .21 .16 .06 .15-.11 .16-.3 .62-2.19 .15 .02 .16 .47 .15 1.11 .47 5.8 .15 1.14 .16-.15 .62-4.72 .15-.51 .16-.14 .31-.11 .15-.34 .31-1.16 .16-.29 .15 .05 .47 1.07 .15 .18 .31 .04 .16 .09 .15 .37 .46 2.77 .78 5.38 .77 2.12 .16 .15M817.35 30.7l.46-4.02M818.59 15.43l.15-1 .16 .26 .46 2.43 .16 .29 .15 .11M821.84 23.58l.16-.62 .15-.09 .31 .33 .15-.28 .31-1.06 .47-1.01 .15-.54 .47-2.47 .15-.16 .16 .37 .31 1.51 .15 .53 .16 .09 .15-.32 .47-1.83 .15-.04 .16 .51 .15 1.02 .62 4.87 .16 .48 .15 .1 .16-.04 .15 .03 .16 .46 .77 5.4 .62 5.11 .31 1.2 .47 .85 .15 .17 .16-.4 .62-2.76 .15-.34 .16-.02 .31 .15 .15-.26 .62-2.28 .15-.2 .31-.18 .31-.37 .31-.72 .47-1.6 .15-.33 .47-.62 .46-1.05 .16-.15 .15 .08 .47 .75 .15 .05 .31-.09 .31 .03 .16 .09 .15 .25 .31 1.11 .47 2.51 .15 .56 .16 .32 .77 .98 .16 .41 .46 .62 .16 .35M839.97 38.66l.31 1.21 .31 1.87 .77 7.85 .77 6.41M848.02 89.11l.62 .01M858.87 45.43l.46 .3 .31 .33 .46 .28M861.81 46.2l.15 0 .16 .18 .46 .76 .16 .15 .46 .25 .47 .46 .31 .51 1.24 2.53 .15 .14 .16 .04 .46-.04 .31 .23M870.64 58.52l.62 .91M885.2 78.48l.31-.19M888.61 75.31l.31-.04M894.65 70.03l.16 .04 .46 .33 .47 .15M896.82 70.65l.31-.03 .15 .15 .47 .85M944.69 90.58l.46-.04" stroke="#EDB120" stroke-width="0.50"/>
<path d="M769.63 75.39l1.09-1.4 .77-1.34 .31-.24 .47-.08 .31-.2 .93-1.07 .62-.05 .31-.18 .31-.06 .31 .33 .46 .85 .16 .15 .15 .04 .31-.07 .15 .03 .47 .38M777.84 70.97l.47-.04 .62 .32M780.01 69.94l.31 .02 .16 .14 .62 1.15 .31-.1 .46-1.14 .16-.23 .15-.1M783.11 69.66l.31 .16 .16 .02 .15-.08 .47-.6 .15-.08 .16 .08 .46 .89 .62 .09 .31-.44M786.83 68.69l.15 .14 1.09 1.54 .15 .11 .16 .02M791.48 73.62l.15 .13 .47 .03 .15 .08 .62 .68 .62 .28 .47 .38 .31 0 .46-.27 .15 .03 .47 .4 .15-.21 .47 .34 .77 .77 .16 .01 .46-.43 .16-.04 .15 .12 1.24 2.17 .93 1.39 .31 .19 .16 .01 .46-.35 .31-.02M803.1 79.72l.62 .06 .46 .58 .77-.59 .47-.63 .31-.13 .46 .15 .78 .71 .31 .1 .31-.14 .62-.77 .15-.01M809.29 81.32l.16-.24 .77-3.05 .31-.99M812.86 66.83l.46-.14 .62 .26 .31 .19 .46 .6 .16 0 .15-.46 1.09-5.88 .93-9.7 .31-2.25 .31-1.45 .15-1.1 .78-7.43 .15-.56 .16 .36 .46 1.86 .16 .26 .15 .13 .16 .39M821.53 47.33l.16-1.18 .15-.8 .16-.44 .15-.1 .16 .06 .15-.06 .46-1.43 .62-1.14 .47-1.36 .15 .02 .16 .38 .31 1.17 .15 .38 .16 .05 .15-.27 .47-1.39 .15-.07 .16 .3 .62 2.93 .15 .41 .16 .12 .31-.31 .15-.05 .16 .33 1.39 8.44 .31 .9 .62 .82 .16-.25 .62-1.83 .15-.23 .16-.01 .31 .14 .15-.15 .62-1.53 .46-.42 .31-.4 .78-1.49 .15-.1 .47-.04 .62-.79 .15-.01 .62 .55 .47 .24 .46 .13 .16 .13 .31 .61 .46 1.28 1.09 2.1 .62 .86 .46 1.43 .78 1.91 .31 1.39 .77 5.84 .77 4.39 .78 3.59 1.08 3.53 .31 1.36M847.87 90.21l.62-.02M855.92 45.33l.16-.37 .15 .2 .16 .53M857.47 44.55l.16 .37 .15-.02M859.48 48.63l.16 .17 .15 .01M861.03 48.78l.16 .11 .15-.03 .47-.52 .15 0 .16 .16 .46 .83M868.32 55.95l.3 .05 .62 .68M890.78 72.95l.31-.02 .46 .12M892.33 72.74l.62-.25M896.35 71.81l.16 .13 .31 .08" stroke="#7E2F8E" stroke-width="0.50"/>
<path d="M768.24 55.02l.46-4.01 2.79-20.23 .31-1.43 .62-2.26 .93-5.4 .31-.99 .47-.68 .46-1.59 .16-.29 .15 .22 .16 .61 .46 2.5 .16 .5 .15 .21 .31 .06 .15 .38 .47 3.01 .15 .64 .16 .19 .15-.12 .31-.4 .47-.96 .31-.29 .15 .02 .16 .27 .46 1.6 .16 .1 .46-.69 .16-.05 .46 .67 .31 .96 .31 1.59 .16 .5 .31-.43 .46-3.22 .16-.74 .15-.39 .16-.15 .46-.24 .16 .07 .46 .84 .16 .2 .15 .01 .47-.8 .15-.02 .16 .32 .31 1.35 .15 .36 .31-.79M786.21 22.19l.15-.46 .16-.22 .15-.02 .16 .21 .15 .51 .62 3 .47 1.39 .15 .09 .16-.2 .31-.77 .15-.11 .16 .27 .46 1.83 .31 .87 .16 .23 .15 .03 .16-.14M791.63 30.37l.16 .07 .31-.06 .15 .09 .47 .64 .15 .02 .47-.81 .15-.17 .16 .01 .31 .21 .15 0 .16-.12 .31-.45 .15-.07 .15 .19 .47 1.4 .15-.59 .16 .28 .46 .25 .31 .34 .16 .11 .15-.07M799.07 35.52l.31 1.01 .46 2.36 .31 .64 .16 .04 .46-1.4 .31-.5M804.18 41.17l.31-.93M805.57 37.04l.16-.07 .15 .05 .16 .15 .46 .96M808.05 36.83l.16-.65 .15-.18 .16 .35 .15 1.11 .47 6.45 .15 1.28M810.22 38.32l.16-.16 .31 .16 .15-.11 .31-.66 .16 .04 .15 .41 .47 1.93 .15 .36 .47 .52 .15 .54M814.25 52.98l.46 1.5 .16 .19 .15-.43M818.74 9.97l.16 .42 .31 2.17 .15 .82 .16 .43M824.94 16.79l.15-.4 .47-2.32 .15-.25M827.11 19.97l.15 .18 .16 .65 .46 3.84 .31 1.99M828.97 32.15l.77 2.24 .16-.19 .15-.5 .47-1.88 .15-.35 .16-.06 .15 .07 .16-.03 .15-.31 .62-2.47 .15-.24 .31-.29 .31-.48 .78-1.92 .15-.14 .47-.2 .62-1.37 .15-.12 .31 .08 .16-.02 .31-.22M837.49 29.65l.77 .74 .16 .34 .15 .18 .31 .17M847.87 89.11l.62 .19M861.5 48.98l.31-.51 .15-.09 .16 .07 .62 .87 1.24 .99 .46 .77 .78 1.75 .15 .16 .16 .02 .46-.28 .16 .01 .15 .1 .31 .52 .47 1.01 .77 .98 .31 .2 .16 0 .3-.18 .62 .53 .16 .25M887.83 76.34l.62-.98 .62-.36M896.51 71.76l.46 .03 .16 .1 .15 .23M954.76 91.43l.46 0M968.55 93.13l.46 .07" stroke="#77AC30" stroke-width="0.50"/>
<path d="M768.86 47.81l1.39-9.45 1.24-9.45 .31-1.66 .78-2.98M773.82 19.15l.15-.12 .16-.24 .46-1.41 .16-.18 .15 .35 .62 3.28 .16 .33 .15-.05 .31-.61 .15 .09 .62 3.33 .16 .25 .31-.14 .15-.14 .47-.84 .31-.2 .15 .07 .16 .29 .31 1.18 .15 .35 .16 .03 .46-.78 .16 0 .62 1.41 .46 2.24 .16 .43 .31-.69 .62-4.89 .31-1.04 .62-1.43 .15-.12 .16 .07 .31 .4 .15-.02 .47-.77 .15 .06 .16 .46 .46 2.7 .47 .13 .15-.11 .77-3.28 .31-.68 .16-.06 .15 .24 .16 .51 .93 3.53 .15 .22 .16-.07 .31-.55 .15 0 .16 .35 .62 2.58 .31 .7 .15 .09 .16-.07 .46-.63 .16-.03 .15 .15 .47 .91 .15 0 .47-.58 .15 .12 .47 1.4 .15 .39 .16 .17 .31-.03 .15 .05 .47 .5 .15-.03 .16-.19 .46-1 .15 0 .47 .99 .15-.7 .16 .25 .46 .28 .47 .61 .15-.01 .16-.31 .46-2.23 .16-.31M798.6 31.05l.47 2.53 .77 3.03 .16 .11 .15-.02 .16-.2 .46-1.66 .16-.15 .31-.02 .15-.22 .62-2.31 .16-.18 .15 .24 .16 .6 .46 2.31 .16 .33 .15 .04 .16-.06 .15 .11 .16 .38 .46 2.52M805.42 34.08l.15-.19 .16 .03 .15 .18 .31 .77 .78 2.66 .15 .24 .16 .06 .15-.13 .16-.36 .46-2.15 .16-.51 .15-.04 .16 .5 .15 1.26 .47 6.8 .15 1.4 .16-.08 .62-5.23 .15-.59 .16-.17 .31-.19 .15-.4 .31-1.27 .16-.2 .15 .25 .47 1.95 .15 .48 .47 .97 .15 .67 .62 5.03M818.59 11.72l.15-1.31 .16 .05 .46 2.26M824.01 14.42l.15 .08 .16 .65 .31 2.11 .15 .8 .16 .32 .15-.18 .47-1.9 .15-.24M826.64 20.97l.16 .39 .15 .12M829.12 34.97l.62 1.33M832.06 28.94l.47-.3 .31-.37 .15-.36 .47-1.74M834.7 23.61l.15 .16 .47 1.01 .77 .68 .31 .43M837.49 30.2l.46 .7 .31 .25 .16 .28 .46 .2 .16 .33 .15 .61 .31 1.82M847.87 88.73l.93 .41 .15 .04 .16-.1M857.78 43.05l.16-.03 .15 .08M858.87 45.09l.77 1.67 .46 .4 .16-.03 .31-.3 .15-.05 .47 .24 .15-.01 .31-.2M862.43 47.75l.31 .45 .62 .3M887.21 76.7l.31-.29M892.17 71.53l.47-.05M896.05 71.27l.46 .15 .31-.08M899.92 74.28l.31-.37 .31-.09M952.43 91.13l.47-.1M959.56 91.54l.93 .04 .62 .1M963.12 91.9l.62 .06M969.01 93.14l.78 .23M971.64 93.69l.31 .03" stroke="#4DBEEE" stroke-width="0.50"/>
<path d="M771.65 26.57l.15-.62 .78-2.24 .77-3.49 .16-.54 .62-1.56 .46-2.1 .16-.37 .15 .2M775.68 19.32l.15 .08 .31-.18M776.91 23.41l.16 .3 .15 0 .31-.16 .31-.53 .31-.3 .16-.07 .15 .04 .16 .28 .31 1.18 .15 .38 .16 .06 .46-.9 .16-.12 .15 .13 .31 .53 .16 .46 .62 3.58 .15-.07 .16-.1 .77-5.75 .62-2.8 .31-.86 .16-.06 .31 .31 .15 .03 .47-.53 .15 .16 .16 .53 .46 2.82 .47 .1 .15-.16 .77-3.59 .16-.4 .15-.21 .16 0 .15 .32 .62 2.39 .47 1.32 .15 .16 .16-.1 .31-.45 .15 .09 .16 .48 .62 2.95 .15 .37 .16 .14 .15-.1 .16-.36 .46-1.55 .16-.25 .15 .02 .47 1.1 .15 .21 .31 .06 .16 .12 .15 .32 .47 1.65 .15 .37 .16 .1 .46-.29 .47 .15 .15-.07 .47-.58 .15 .02 .15 .31 .47 1.56 .15-.72 .16 .14 .31-.19 .15-.01 .16 .12 .31 .43 .15 .08 .16-.19 .46-1.84 .16-.18 .15 .34 .47 2.47 .77 3.2 .47 1.35 .46 1.81 .16 .15 .15 .05 .16-.1 .46-1.45 .47-.33 .15-.31 .47-1.87 .15-.42 .16-.04 .15 .39 .16 .74 .46 2.62 .16 .45 .15 .16 .16 .06 .15 .23 .16 .47 .46 2.5 .62-2.24 .15-.27 .31-.95 .16-.28 .15-.09 .16 .04 .31 .29 .31 .51 .46 1.18 .16 .3 .15 .15 .16-.01 .15-.19 .31-1.06M810.38 36.84l.15 .01 .16-.12 .15-.43M812.08 37.27l.31 .83M813.94 49.73l.77 2.9 .16 .23M822 18.65l.15-.31 .31 .07 .15-.39 .31-1.29 .62-1.68 .47-2.27 .15-.02 .16 .54 .46 2.44 .16 .15 .15-.32 .47-1.96 .15-.08M826.8 19.78l.15-.1 .16-.21M830.67 31.68l.16-.09 .31 .11 .15-.25 .62-2.36 .62-1.34 .77-2.1 .16-.28 .46-.46 .16-.24 .46-1.4 .16-.3 .15-.04 .47 .67 .46 .42 .47 .62M837.02 27.13l.31 1.04 .47 .74 .77 1.63 .31 .28 .31 .85M857.32 45.27l.15-.17 .16 .45 .31 .04 .15 .09 .62 .99M859.79 48.05l.47 .66 .31 .11 .62 .58M862.89 50.52l.62 .22M866.46 53.5l.62 1.17 .46 .5 .47 .26 .15 .01 .46-.14 .16 .24M899.3 75.87l.15-.06 .47-.46 .31-.13M942.67 91.24l.31-.12 .62-.11" stroke="#A2142F" stroke-width="0.50"/>
<path d="M767.93 80.11l.62-2.58 .15-.35 .93-1.06 1.09-.99 .77-1.14 .31-.25 .47-.15 .31-.23M773.97 72.43l.31 .05 .47-.08 .31 .25 .46 .62 .16 .05 .61-.43 .47 .2 .15-.05 .62-1.12 .31-.28 .47-.06 .62 .41 .15 0 .16-.12M780.01 70.76l.16 .01 .15 .09M781.1 72.46l.31-.06M782.96 70.44l.62 .2 .15-.02 .47-.35 .15-.02M785.13 71.07l.46-.29 .62-1.3M788.38 70.7l.31-.02 .15 .1 .78 1.52 .31 .48 .31 .25 .31 .1 .31 .22 .62 .95 .15 .14 .47 .18 .77 .92 .16 .06 .46-.03 .62 .23 .62 .01 .62 .57 .15-.23 .47 .15 .31 .26 .46 .55 .16 .07 .46-.22 .16 .01 .15 .15 .47 .85 .77 1.07 .47 .52 .46 .74 .31 .21 .16 .03 .46-.34 .47-.18 .62-.84 .15-.15 .16-.01 .31 .37 .46 .89 .16 .17 .62 .29 .46 .68 .77-.38 .47-.56 .31-.14 .46 .04 .78 .4 .31 0 .31-.22 .62-.87 .15-.02 .16 .13 .15 .32 .47 1.58 .15 .22M813.16 66.56l.16-.06 .46 .04 .47-.07 .31 .17M822.15 41.6l.31 .18 .15-.2 .31-.72 .47-.55M826.95 44.32l.31-.39M835.16 44.98l.78 .82M842.91 71.65l.62 2.12M847.87 90.42l.62 .01M856.08 46.69l.15 .3 .31 1.2 .16 .33 .15 .05 .16-.16M857.78 48.6l.31 .31 .78 1.57 .31 .27M861.03 51.68l.16 .15 .15 .05 .47-.19 .15 .08 .62 .88 .47 .2M863.98 53.7l.62 1.07 .62 1.28 .31 .27 .46 .02 .31 .21 .78 1.48 .31 .41 .31 .22 .31 0 .15-.1 .46-.6 .47 .35 .31 .54M870.17 61.54l.31 .94 .16 .3 .62 .83 .31 .77 1.08 5.67M883.03 84.94l1.55-3.7 .31-.55 .93-.7 .62-.69 .93-.6 .46-.57 .62-.95 .16-.08 .46-.09 .31-.24 1.24-1.55 .31-.21 .62-.22 .62-.5 .62-.15 .31-.17 .47-.41 .62-.81 .46-.36 .31-.05 .78 .37 .77 .54 .46-.04 .16 .03 .15 .15 1.24 1.98 .62 1.73 .16 .25 .15-.12 .62-.97 .16-.16 .31-.12 .31-.23M940.82 91.61l.46-.07M943.45 90.96l.31 .03 .31 .14M966.07 93.04l.46 0 .47 .11M971.95 94.08l.47 .13 .93 .39" stroke="#0072BD" stroke-width="0.50"/>
<path d="M769.79 73.59l.93-1.55 .77-1.48 .31-.28 .62-.2 .31-.31 .78-1.06 .62-.23 .62-.56 .15 .04 .16 .15 .46 .66 .16 .06 .46-.3 .15 0 .47 .62 .15 .07 .16-.1 .46-.76 .31-.22 .47 .05 .62 .52 .15 .01 .16-.13 .46-.79 .16-.15 .15-.04 .16 .05 .31 .37M782.49 67.49l.47-.38 .15-.02 .47 .22 .15 .01 .47-.24 .15 .03M787.29 66.2l.31 .45 .47 .48 .15 .04 .47-.29 .15 .04 .16 .22 .62 1.5 .31 .52 .31 .19 .46 .06 .16 .13 .31 .55M793.34 72.08l.31-.09 .46 .05 .47-.12 .15 .02 .15 .11 .47 .6 .15-.23 .47 .37 .77 .92 .16 .01 .15-.14 .31-.44 .16-.09 .15 .09 1.71 2.94 .46 .91 .31 .27 .16 .04 .46-.32 .47-.02 .15-.09 .47-.59 .15-.14 .16-.01 .15 .13 .62 1.13 .16 .13 .15 .02M804.18 78.36l.77-.39 .47-.64 .15-.12 .31-.07 .16 .04 .31 .21 .62 .72 .31 .13 .15-.05 .31-.35 .47-.84 .15-.08 .16 .1 .15 .31 .47 1.8 .15 .3 .16-.21 .77-3.21 .62-2.2 .62-3.24 .31-1.26M812.86 65.41l.77 .51 .15 .05 .47-.07 .46 .29M818.74 35.26l.16 .32 .31 1.22 .15 .39 .16 .09 .15-.06M822 40.89l.15-.12 .16 .07M824.94 39.18l.15-.19 .47-1.32 .15-.01 .16 .41 .62 3.56 .15 .52 .16 .18 .31-.27 .15-.07 .16 .32M832.06 48.78l.62-.12M833.46 47.53l.31-.25M834.85 44.91l.16-.11 .62-.14 .15 .07 .31 .44M837.64 49.39l.47 .42 .15 .22 .31 .62 .31 .39 .31 .76M856.7 42.72l.15-.02 .31-.55 .31-.39 .16 .52 .31 .17 .15 .18M862.74 48.14l.31 .32M865.37 51.51l.16 .08 .46 .01M867.39 53.6l.31 .3 .31 .15 .15-.02 .46-.27 .47 .75M870.48 58.4l.47 .81M890.47 73.48l.62-.67M892.33 71.91l.31-.02M894.34 70.17l.31 .13M897.9 72.35l.47 .27 .15 .16 .62 1.63 .16 .27 .15-.08 .31-.4 .31-.28 .16-.06 .31 .07 .15-.02 .78-.41M947.48 90.88l.46 .07M959.87 91.81l.47-.05" stroke="#D95319" stroke-width="0.50"/>
<path d="M769.17 50.19l1.39-8.61 .78-5.22 .31-1.68 .77-2.38 .93-4.85 .16-.45 .15-.24 .31-.2 .16-.24 .62-2.08 .15 .08 .16 .46 .46 2.06 .16 .37 .15 .09 .31-.2 .15 .22 .47 2.46 .15 .51 .16 .1 .15-.19 .31-.48 .31-.68 .47-.53 .15-.04 .16 .15 .31 .84 .15 .23 .16-.04 .46-.88 .16-.07 .15 .16 .31 .56 .16 .44 .62 3.39 .31 .03 .62-3.55 .93-2.32 .15-.21 .16-.06 .31 .13 .15-.11 .47-1.1 .15-.13 .16 .22 .46 1.93 .47-.14 .15-.13 .77-3.43 .31-.79 .16-.13 .15 .16 .16 .39 .46 1.52 .47 1.26 .15 .16 .16-.11 .31-.5 .15 .04 .16 .41 .62 2.79 .31 .78 .15 .15 .16-.02 .31-.28 .15-.05 .16 .12 .62 1.74 .15 .15 .16-.09 .31-.44 .15-.08 .16 .06 .31 .29 .15 .04 .47-.43 .15 .04 .62 1.08 .16 .07 .46-.18 .15 .14 .31 .56 .16 .09 .15-.95 .16-.12 .31-.51 .15-.08 .16 .15 .46 .79 .16 .02 .46-1.07 .16-.01 .15 .41 .47 2.32 1.24 4.64 .46 2.08 .16 .21 .15 .06 .16-.15 .46-1.74 .47-.66M802.01 36.19l.16 .05 .15 .49 .62 3.88 .16 .54 .46 .53 .16 .39 .46 2.07 1.08-4.39 .16-.41 .15-.17 .16 .03 .31 .43 .93 2.8 .15 .19 .16-.01 .15-.21 .16-.45M809.29 48.32l.16-.19 .62-5.16 .15-.53 .16-.11 .15 .02 .16-.07 .15-.35 .31-1.27 .16-.32 .15 .07 .47 1.43 .62 1.28 .15 .64 1.24 9.36 .77 2.48 .16 .15M822.15 22.18l.16 .11 .15-.03 .15-.48 .31-1.54 .62-2.04 .47-2.25 .15-.02 .16 .54 .46 2.47 .16 .18 .15-.3 .47-2.02 .15-.16 .16 .39 .15 .91 .47 3.66 .15 .79 .16 .34 .15-.05M829.74 35.61l.16-.25 .62-2.5 .15-.28 .16 .07 .31 .42 .15-.12M832.06 30.63l.47-.65M833.77 27.26l.31-.32 .46-1.28 .16-.31 .15-.07 .47 .5 .31 .19 .31 .41 .31 .56 .31 .85 .77 3.2 .78 1.44 .46 1.11 .31 .35 .16 .35 .46 1.94 .31 1.01M855.92 46.6l.16-.33 .15 .33 .31 1.3 .16 .38 .15 .09 .62-.45 .16 .5 .15 .06M858.87 49.97l.46 .5 .31 .43 .46 .25 .16-.05 .31-.26 .15-.01 .47 .43 .15 .06 .47-.19 .15 .06 .78 1.21 .62 .63 .62 .46 .31 .32M865.37 55.28l.62 .09 .31 .25M867.23 57l.93 1.29 .16 .07 .3-.05 .62 .65 .16 .25 .93 2.27 .31 .5 .31 .25M892.17 73.36l.47-.11M894.19 71.38l.15-.11 .31 .03M896.35 72.54l.16 .03 .46-.11M946.55 91.24l1.39 .15 .78-.01M952.43 91.7l.31-.02M957.24 91.78l.62 .13 .62 0M961.26 92.37l.78 .07M964.05 92.64l.78-.01" stroke="#EDB120" stroke-width="0.50"/>
<path d="M771.8 68.13l.62-.14 .31-.28M773.66 66.7l.31 .05 .16-.04M775.68 67.28l.15 0 .31-.2 .15 0 .47 .54M777.84 66.13l.31-.22 .31-.03 .47 .38 .15 .05 .16-.07 .46-.54 .16-.05M782.34 65.3l.31-.19 .31-.07 .62 .38 .15-.01 .47-.44 .15-.04 .16 .11 .46 .85M788.38 66.11l.31-.01 .15 .12 .78 1.5 .31 .43 .31 .15 .46-.06 .31 .27 .47 .75 .15 .1 .47-.05M793.03 70.14l.46-.02 .62 .31 .62 .03 .62 .67 .15-.29 .62 .22 .47 .42M800 75.04l.31 .07 .46-.41 .47-.04 .15-.13 .62-.95 .16-.02 .15 .16M804.18 76.13l.46-.47 .31-.19 .47-.58 .15-.06 .31 .05 .31 .23 .78 .97 .31 .07 .15-.09M812.86 63.27l.46 .2 .46 .54 .62 .31 .31 .4 .16 .02 .15-.42M822.46 40.41l.15-.27 .47-1.41M824.16 35.42l.16 .38 .46 1.86 .16 .14 .15-.21 .47-1.46 .15-.09M828.35 46.36l.46 2.71 .31 .89M830.98 49.09l.16 .08 .15-.13 .46-1.24 .31-.51M833.61 44.81l.31-.08 .16-.11 .62-1.42 .15-.17 .16-.02 .31 .12M836.25 44.15l.31 .76 .46 1.72 .31 .9 .78 1M847.87 90.01l.62 .02 .46 .09M856.08 43.82l.15 .34 .31 1.35 .16 .38 .15 .07 .62-.64 .16 .5 .31 .08 .31 .29 .62 1.23 .77 1.13 .46 .22 .16-.06 .31-.28 .15-.01 .47 .32 .15-.03 .47-.59 .15-.08 .16 .06 .15 .17 .47 .62 .31 .21M865.53 54l.46-.13M867.54 56.24l.47 .39 .15-.01 .16-.1 .3-.37 .47 .12M870.64 59.86l.31 .46M888.45 76.21l.16-.05 .46 .01 .16-.1M893.41 72.11l.62-.57 .31-.02 .47 .16 .46 .32 .62 .29 .46 .36M897.75 73.78l.46 .41M900.23 75.45l.46 .12 .93-.24M940.82 91.46l.93-.04 1.08-.44M950.27 91.22l.31-.02M967 92.94l.31 .08" stroke="#7E2F8E" stroke-width="0.50"/>
<path d="M770.56 70.54l.93-2.05 .31-.25 .62-.02 .31-.18M773.66 67.14l.31-.08M775.37 67.09l.15 .22 .16 .07 .15-.07 .31-.32 .15-.05 .16 .12 .31 .44 .15 .08M778 66.24l.31-.15 .15 .04 .62 .48 .16-.05 .46-.55 .16-.1 .15 0 .31 .25M781.1 68.09l.31 0 .62-1.49 .93-.63 .62-.15M784.35 64.87l.16 .07 .46 .84 .62-.17 .46-.64 .47-.5 .15-.1 .16 .02 .77 1.06 .47 .48 .15 .04 .47-.37 .15 0 .31 .5 .78 1.83 .31 .34 .46 .22 .16 .17 .62 1.29 .15 .2 .16 .08 .46 .06 .62 .4 .47-.06 .15 .05 .62 .53 .62 .01 .62 .67 .15-.28 .62 .12 .62 .41 .16-.01 .46-.49 .16-.04 .15 .15 1.24 2.5M800 75.93l.31 .16 .46-.28 .47 0 .31-.34 .46-.86 .16-.12 .15 .06 .16 .2 .46 .89 .16 .17 .46 .14 .16 .12 .46 .84 .77-.7 .47-.65 .15-.06 .16 .01 .31 .16 .77 .71 .31 .12 .31-.12 .16-.15 .46-.79 .16-.19 .15-.01 .16 .18 .15 .41 .47 2.12 .15 .37M812.7 63.47l.16-.11 .3 .16 .16 .16M822 40.53l.15 0 .31 .31 .15-.21 .31-.81 .47-.76 .15-.41 .47-1.9 .15-.15M824.94 38.37l.15-.26 .47-1.37 .15-.03M826.8 41.12l.31-.18M829.28 51.53l.46 .89 .16-.22 .77-2.44 .47-.33 .15-.32M832.22 47.12l.31-.06 .31-.17 .62-.91 .46-.32 .16-.18 .62-1.33 .15-.08 .47 .17 .31-.07 .31 .1 .31 .32 .31 .72 .77 2.96 .78 1.1 .46 .81 .31 .2 .16 .2 1.08 2.65M856.08 42.67l.15 .36 .31 1.28 .16 .31 .15-.01 .47-.65M858.71 45.79l.31 .38M860.1 48.11l.16 .13 .31 0 .46 .26 .16 .01 .15-.14 .47-.73 .15 .02 .16 .23 .46 1.25 .31 .65 .47 .64 .62 .69 .46 .7M865.68 53.59l.31 .15 .31 .38 .62 1.3 .31 .43 .31 .21 .47 .13 .61-.17M885.05 79.33l.31-.15M892.64 73.06l.31-.12 .46-.42M894.19 71.54l.31-.15 .31-.02M896.51 72.22l.46-.02M900.38 74.49l1.09-.12M959.41 91.77l.31 .08M965.45 92.5l.46 .15 .78 0 .62 .18" stroke="#77AC30" stroke-width="0.50"/>
<path d="M771.65 31.59l.93-3.34 .62-3.39 .31-1.28 .15-.33 .31-.32 .16-.25 .46-1.52 .16-.26M775.68 24.5l.15 .01 .31-.41 .15 .15 .47 2.5 .15 .6 .16 .22 .46-.24 .62-.99 .31-.29 .16 .11 .31 .85 .15 .26 .16 0 .46-.62M781.1 31.45l.31-.24 .62-4.02 .15-.53 .47-1.07 .31-.6 .15-.12 .16 .04 .31 .27 .15-.09 .47-1.02 .15-.03M785.13 26.76l.31-.02 .15-.16 .77-3.47 .31-.77 .16-.14 .15 .12 .16 .32 .93 2.54 .15 .27 .16 .07 .31-.05 .15 .25 .62 2.7 .31 .7 .16 .11 .15-.04 .47-.8 .15-.2 .16-.02 .15 .19 .47 1.2 .15 .14 .31-.13 .16 .01 .15 .23 .47 1.53 .15 .41 .16 .18 .46 .01 .47 .37 .15-.04 .62-1.09 .15-.02 .31 .41 .16 .09 .15-.93 .16-.05 .31-.37 .15-.04 .16 .11 .31 .41 .15 .08 .16-.18 .46-1.62 .16-.06M798.45 34.34l.46 2.35 .47 1.41 .46 1.73 .16 .13 .15-.01 .16-.19 .46-1.86 .31-.49M801.86 35.23l.15-.26 .16 .15 .15 .58M803.1 39.94l.15 .08 .16-.08 .15 .05 .16 .26 .46 1.88 1.08-4.62 .16-.45 .15-.22 .16-.03 .15 .1 .16 .24 .31 .83 .62 2.25 .15 .28 .16 .1 .15-.11 .16-.34 .62-2.49 .15 .01 .16 .52M810.22 39.9l.16-.2 .31-.05 .15-.26 .31-.97 .16-.11 .15 .3 .31 1.24M813.94 52.57l.77 2.64 .16 .23 .15-.39 .62-3.93 .47-2.5 .31-4.36M818.74 13.15l.16 .52 .31 2.09 .15 .64 .16 .18 .15-.05M821.69 23.94l.15-1.2 .16-.62 .15-.05 .31 .43 .15-.26 .78-2.67 .62-3.28 .15 0 .16 .6 .46 2.74 .16 .23 .15-.27 .47-1.93 .15-.1 .16 .44 .62 4.28 .15 .59 .16 .14 .31-.49 .15-.08 .16 .44 .15 1.16M829.12 35.35l.62 1.17 .16-.35M830.67 33.39l.16 0 .15 .12 .16 .02 .15-.28 .62-2.55 .93-1.43 .62-1.69 .62-.93 .46-1.35 .16-.27 .15-.01 .47 .66 .15 .07 .47 .01 .31 .15 .31 .68 .15 .64M837.64 30.89l.62 1.16 .16 .52 .46 1.09 .16 .55M839.81 37.59l.47 1.15 .15 .63M856.08 42.91l.15 .4 .31 1.37 .16 .35 .15-.02 .62-1.17 .16 .41 .31 .03 .15 .15 .16 .3 .62 1.76 .77 1.21 .46 .16 .47-.19 .15 .08 .47 .54 .15 .02 .47-.41 .15-.03 .16 .09M864.44 51.33l.31 .37 .62 .99 .16 .12 .77 .25 1.71 1.83 .31 .14 .3-.12 .47 .47 .31 .51 .46 1.65M870.64 60.06l.62 .95 .31 .84M885.67 78.72l.77-.93 .31-.22M890.16 73.61l.31-.55M891.4 72.71l.31-.04 .93-.28 .31-.19 .31-.29M894.34 70.85l.47-.2 .15 .04 .78 .55M896.51 71.6l.46-.15M900.23 74.67l.31-.03 .62-.33 .46-.04M940.04 91.29l1.55-.12M942.67 90.73l.31-.18 .62-.15 .93 .31M970.09 93.47l.62 .05M971.95 93.78l.47 .08" stroke="#4DBEEE" stroke-width="0.50"/>
<path d="M767 66.47l.77-10.35 .47-5.1 .46-4.18 .93-7.28 1.24-11.42 .62-5.16 .31-1.67 .47-1.55 .31-1.35 .62-3.92 .31-1.38 .15-.32 .31-.16 .16-.16 .46-1.17 .16-.11 .15 .48 .16 .88 .46 3.08 .16 .54 .15 .16 .31-.17 .15 .28 .47 2.99 .15 .64 .16 .17 .31-.42 .15-.31 .62-1.88 .31-.52 .16 .04 .31 .78 .15 .2 .16-.1 .31-.66 .15-.18 .16 .14 .46 1.64 .62 3.68 .16 .62 .31-.44 .62-4.78 .93-3.08 .15-.26 .16-.05 .31 .22 .15-.14 .47-1.37 .15-.13 .16 .29 .46 2.52 .47 .02 .15-.15 .77-3.82 .16-.38 .15-.17 .16 .05 .15 .36 .47 1.81 .62 1.59 .15 .13 .16-.12 .31-.47 .15 .12 .16 .55 .62 3.24 .15 .44 .16 .24 .15 0 .16-.22 .46-1.01 .16-.04 .15 .24 .47 1.53 .15 .21 .47-.16 .15 .2 .62 1.79 .16 .06 .46-.43 .16 .06 .46 .43 .16-.02 .31-.21 .15 0 .15 .23 .47 1.16 .15-.88 .16 .13 .31-.05 .15 .14 .47 1.05 .15 .21 .16-.1 .46-1.69 .16-.15 .15 .36 .47 2.44 .77 3.26 .47 1.49 .46 1.93 .16 .19 .15 .09 .16-.07 .46-1.5 .47-.44 .15-.33 .47-1.62 .15-.19 .16 .22 .15 .69 .47 3.21 .15 .72 .16 .3 .15-.08 .16-.22 .15-.03 .16 .26 .46 2.34 .62-2.47 .31-1 .31-1.39 .15-.34 .16-.14 .15-.01 .16 .16 .15 .3 .31 1.03 .47 1.94 .15 .42 .16 .23 .15 .03 .16-.22 .62-2.39 .15-.04 .16 .49 .15 1.21 .47 6.59 .15 1.24 .16-.32 .62-5.85 .15-.38 .16 .15 .31 .52 .15-.1 .31-.86 .16-.07 .15 .33 .47 1.86 .15 .36 .31 .35 .16 .28 .15 .64 .46 3.87 .78 7.58 .77 3.14 .16 .33 .15-.33 .93-5.48M817.19 27.7l.62-6.41 .62-11.01 .16-2.22 .15-1.22 .16 .24 .46 3.06 .31 .83M821.69 17.51l.15-1.44 .16-.84 .15-.25 .16 .06 .15-.08 .46-2.17 .62-2.04 .47-2.44 .15 0 .16 .62 .46 3.04 .16 .44 .15-.02 .47-.99 .15 .18 .16 .69 .46 3.81 .31 1.87 .16 .25 .46-.53 .16 .36 .77 5.32 .62 5.41 .31 1.61 .62 2.19 .16-.21 .15-.55 .47-2.12 .15-.42 .16-.09 .31 .09 .15-.24 .46-1.67 .16-.35 .15-.16M833.46 23.57l.62-1.34 .46-1.93 .16-.49 .15-.2 .16 .03 .31 .23 .31 .07 .15 .09 .47 .55 .31 .72 .77 3.6 .47 1.4 .77 2.79 .47 1.02 .46 1.92 .47 1.25 .31 1.13 .46 3.54 .77 8.92M843.06 61.7l.47 3.31M857.78 46.01l.31 .18 .16 .23 .62 1.48 .77 1.17 .46 .11 .31-.26M861.19 49.2l.15 .03 .31-.12 .16 .02 .15 .18 .47 1.1 .31 .53 .93 .49 .93 1.15M865.53 54.07l.62 .58M867.23 56.13l.78 .72 .31 .01 .3-.23 .62 .47M884.89 79.5l.62-.25 .31-.2M886.91 77.76l.77-.54M892.02 72.85l.31-.05 .31 .05M894.34 71.6l.47-.04 1.08 .44 .62 .37 .46 .02 .16 .06M949.34 91.18l.46 .04 .78-.11M962.66 92.33l1.24 .18M967.62 93.22l.62 .14" stroke="#A2142F" stroke-width="0.50"/>
<path d="M768.7 74.08l.78-1.29M770.72 70.44l.62-1.43 .15-.27 .31-.24M773.35 66.7l.31-.25 .47-.03 .62-.67 .15 0 .16 .13 .46 .69 .16 .1 .15-.03 .31-.18 .15 .05 .47 .79 .15 .13 .16-.06 .46-.63 .31-.27 .62-.29 .47 .1 .15-.05 .62-.8 .16-.04 .15 .1M782.03 65.91l.93-.58 .15 .01 .47 .32 .15 .01 .62-.49 .16 .07 .46 .73 .47-.23M786.36 63.85l.31-.46 .16-.01 .15 .18 .62 1.27 .47 .78 .15 .11 .16-.03 .31-.26 .15-.03 .16 .11 .77 1.17 .31 .24 .47 .14 .31 .34M792.87 70.15l.16 .1 .46 0 .62 .22 .62-.17 .15 .08 .47 .51 .15-.3 .47 .15M796.74 71.54l.16 .06 .15-.08 .31-.32 .16-.04M798.29 72.41l.31 .51M799.69 74.67l.15 .18 .31 0 .16-.07 .31-.43 .15-.12 .47 .09 .15-.02 .47-.46 .15-.1 .16 .03 .15 .17 .62 1.23 .16 .13 .46-.03 .16 .09 .46 .84 .46-.35 .31-.09 .31-.34 .31-.15 .47 .09 .77 .65 .31 .07 .31-.21 .31-.52 .31-.72 .16-.24 .15-.07 .16 .14 .15 .4 .47 2.15 .15 .37 .16-.19M812.7 64.35l.16-.06 .3 .14 .78 .84 .46 .13 .31 .2M821.84 41.52l.16-.39 .15 .02 .16 .24M823.39 39.47l.62-2.39 .15-.11 .16 .32 .46 1.69 .16 .13 .15-.22 .47-1.48 .15-.13 .16 .28 .15 .67 .62 3.54 .16 .39 .46 .22 .16 .42M830.52 50.47l.15-.25 .16-.02 .31 .15 .15-.17M833.61 46.44l.47-.55 .62-1.31 .15-.06 .78 .6 .62 .74M837.33 48.57l.47 .51 .46 .71 .31 .6 .31 .28 .16 .27 .62 1.96M847.56 90.26l.15 .2 .16 .04 1.08 .05 .16-.11 .31-.68 1.08-3.04M855.77 47.82l.15-.73 .16-.21 .15 .4 .31 1.29 .16 .31 .15-.03 .31-.54 .31-.39 .16 .45 .31 .12 .31 .37 .62 1.3 .77 1.09 .46 .26 .16-.03 .31-.22 .15 .01 .47 .41 .15 .04 .47-.19 .15 .06 .62 .79 .62 .19 .47 .36 1.55 2.5 .15 .13 .62 .03 .31 .17 .78 .94 .93 .73 .31-.02 .3-.24 .47 .31M883.96 82.28l.78-1.72 .15-.18 .78-.49 .77-.87 .62-.42M888.45 76.89l.62-.01 .31-.29M890.93 74.16l.47-.18M892.33 73.2l.46-.02 .31-.09M894.65 71.98l.31 .2M895.74 72.89l.31 .12 .46-.04M898.06 73.95l.46 .53M899.3 76.55l.15-.05 .16-.18M900.85 75.61l.31-.12 .46-.08 .16 .07 .31 .52M905.03 83.23l.46 1.15 1.4 4.37M936.32 93.37l.31-.17 .62-.19 2.48-1.08 .78-.19M942.06 91.49l.92-.28 .62-.09 .78 .11M946.55 91.41l1.24 .13 .93 0 .93 .09 1.08-.13 .47 .01 .46 .1M954.91 91.92l1.71 .01 .93 .13M958.32 91.98l.47-.02 .31 .07M959.87 92.26l.62 .04 1.08 .17M969.01 93.5l.47 .08M971.64 94.02l.31 .01" stroke="#0072BD" stroke-width="0.50"/>
<path d="M768.7 73.72l1.86-2.77 .31-.6M771.96 68.62l.31-.08 .31-.2 .93-1.17 .62-.28 .46-.49 .16-.06 .15 .1 .62 1.17 .16 .12 .15-.03 .31-.29 .15-.05 .47 .37 .15-.02 .62-1.11 .16-.13 .15-.02 .47 .31 .62 .74 .15 .03 .16-.13 .46-.87 .16-.2 .15-.09 .31 .1 .16 .19 .46 1.06 .16 .22 .15-.13M782.65 65.28l.31-.08 .15 .06 .47 .48 .15 .07 .47-.19 .15 .01 .16 .14 .46 .9 .62-.28 .93-2.24 .15-.23 .16-.05 .15 .15 .16 .29 .62 1.47 .31 .59 .15 .14 .16-.02 .31-.26 .15-.05 .16 .11 .62 .99 .31 .32 .15 .06 .47 .03 .31 .19 .62 1.27 .15 .24 .47 .38 .62 1.07 .15 .17 .16 .06 .46-.13 .62 .07 .62-.18 .15 .09 .47 .53 .15-.27 .47 .2 .77 .81 .16 .05 .46-.33 .16 .03 .15 .21 .47 1.09 .62 .99 1.08 1.41 .16 .06 .31-.03 .46-.49 .47 0 .15-.08 .47-.66 .15-.16 .16 0 .15 .18 .16 .33 .46 1.19 .16 .22 .62 .29 .46 .82 .77-.61 .47-.84 .31-.27 .15-.04 .31 .12 .78 .98 .31 .18 .15-.02 .16-.1 .46-.75 .16-.19 .15-.03 .16 .16 .15 .39 .47 1.97 .15 .31 .16-.25 .77-3.46 .62-2.06M811.77 68.25l.78-3.66 .15-.53 .16-.14 .3 .01 .16 .07 .46 .66 .93 1.08 .16-.04M821.84 40.09l.16-.54 .15-.12 .16 .09 .15-.01 .15-.35 .31-1.15 .47-1.26 .62-2.38 .15-.01 .16 .41 .46 2.09 .16 .24 .15-.12 .47-1.25 .15 .01 .16 .44M826.8 40.9l.15-.1 .31-.36 .16 .22M829.74 51.11l.16-.2 .62-2.04 .15-.3 .16-.05 .31 .09M831.91 46.72l.62-.59 .31-.4 .62-1.39 .62-.7 .46-1.01 .16-.21 .15-.02 .47 .42 .46 .12 .31 .26M837.18 46.06l.15 .34 .16 .18 .77 .58 .16 .3 .46 .56 .16 .36 .62 2.41 .31 .92M856.08 45.66l.15 .35 .31 1.29 .16 .35 .15 .02 .62-.83 .16 .45 .31 .12 .15 .19 .78 2.13 .31 .5 .3 .33 .16 .11 .46-.17 .47-.5 .15-.02 .47 .42 .15 .04 .47-.17M862.74 51.72l1.08 1.08 1.09 1.92 .31 .42 .15 .06 .16-.05 .46-.32 .16-.01 .15 .07M867.08 56.07l.31 .32 .31 .17 .31 .01 .15-.07M870.64 61.37l.62 .81 .31 .76M885.05 79.69l.62-.37 .46-.51M890.78 73.98l.31-.13 .46 .06 1.09-.27 .46-.34M894.19 71.95l.15-.03 .31 .11 .78 .7 1.08 .14 .46-.09 .16 .09 .77 1.33 .62 .63 .62 1.65 .16 .26 .15-.08 .47-.6 .31-.29 .31-.06 .77-.43 .31-.09 .16 .05 .31 .55M942.83 90.9l.77-.1 .78 .2 .93-.01M947.63 91.19l1.24 .04 .47 .07M950.27 91.38l.93-.07 1.23 .31 .78-.03 .93 .08M955.38 91.77l1.08-.04M959.41 92.25l.31 .08 .77 .03 1.08 .16 1.4 .03 1.39 .27 .78 .03 .62 .14 .77-.03 .31 .06M968.24 93.48l1.7 .32 1.86 .17M973.19 94.46l.93 .45 2.02 .71" stroke="#D95319" stroke-width="0.50"/>
<path d="M768.7 76.72l.93-.74 .62-.61 .47-.6 .31-.56M771.96 73.25l.31 .07 .31-.09 .93-.94 .15-.03 .47 .09 .62-.3 .15 .04 .62 .54 .16-.01 .46-.5 .15-.08 .47 .3 .15-.01 .16-.17 .46-.86 .16-.16 .15-.07 .31-.02 .62 .25 .16 .04 .15-.06 .16-.18 .46-.84 .16-.18 .15-.05 .31 .16 .16 .23 .62 1.42 .31-.11 .62-1.71 .15-.2 .31-.19 .31-.06 .16 .06 .62 .58 .15 .01 .47-.36 .15-.04 .16 .1 .46 .77 .62-.08 1.08-1.51 .16 0 .31 .3M789.62 71.73l.46 .52 .47 .14M791.32 73.73l.31 .53 .47 .18 .62 .57 .31 .05 .46-.13 .62 .22 .62-.05 .15 .1 .47 .54 .15-.19 .16 .11M796.74 76.45l.16 .02 .46-.37 .16-.02M798.29 77.41l.62 .94 .47 .56 .46 .78 .31 .21 .16 .02 .46-.43 .47-.18 .62-.67 .15-.09M802.79 79.77l.31 .44 .15 .04 .47-.03 .46 .49 .46-.3 .31-.08M805.88 79.81l.31 .11 .78 .44M812.7 66.71l.16-.11 .3 .06 .62 .28 .62-.2 .31 .03M818.74 37.05l.16 .39 .46 1.88 .16 .25 .15 .1 .16 .37M822 42.83l.15-.15 .16 .01M825.56 38.74l.15-.22 .16 .25M829.74 53.14l.16-.2 .15-.38M831.14 51.6l.15-.14 .62-1.85 .15-.24 .62-.58 .31-.44 .47-1.03 .62-.78 .46-1.27 .16-.35 .15-.17 .16-.02 .62 .14 .15 .11 .47 .63 .31 .77M857.01 43.66l.46-.92 .16 .47 .31 .11 .15 .15M860.72 47.63l.31 .26 .16 .05M862.43 48.17l.31 .38 .62 .17 .31 .22M865.06 51.77l.31 .41 .16 .05 .46-.05 .31 .2 .78 1.25 .46 .43 .47 .2 .15-.02 .46-.25 .31 .45M886.91 77.05l.46-.13 .15-.11 .31-.28 .62-.89 .62-.37 .31-.44M890.78 72.6l.77-.22 .62-.47 .78-.21 .62-.52M895.74 71.34l.77 .19 .46-.17M899.45 75.47l.78-.97 .31-.11 .77-.5M947.48 90.77l.77 .15M949.49 91.01l.78-.09M956.62 91.39l.31-.02M962.04 92.09l.93 .02 1.39 .2 .78 .03" stroke="#EDB120" stroke-width="0.50"/>
<path d="M768.08 76.68l.47-1.9 .15-.38 .62-.95 1.24-2.18 .93-2.22 .31-.43 .47-.21 .31-.27 .77-1.25 .16-.17 .15-.07 .47-.05 .46-.44 .16-.07 .15 .07 .16 .2 .46 .74 .16 .07 .15-.07 .31-.31 .15-.03 .47 .51 .15 .05 .16-.12 .46-.67 .31-.16 .47 .12 .62 .58 .15 .01 .16-.14 .46-.92 .16-.2 .15-.07 .31 .14 .16 .22 .62 1.44 .31-.11 .62-1.69 .77-.74 .16-.08 .15 .01 .47 .34 .15 .04 .47-.29 .15 .01 .16 .15 .46 .96 .47-.24 .15-.18 .93-2.5 .15-.24 .16-.06 .31 .39 .46 .94 .47 .75 .15 .1 .16-.03 .31-.23 .15 0 .16 .15 .62 1.31 .31 .44 .15 .11 .47 .03 .15 .09 .31 .52 .47 1.13 .15 .23 .47 .27 .15 .17 .62 .97 .31 .15 .78 .12 .77-.52 .15 .06 .47 .55 .15-.25 .47 .27 .77 .74 .16 .03 .46-.39 .16 .01 .15 .2 .47 1.09 .77 1.36 .47 .61 .46 .84 .16 .12 .31 .11 .46-.41 .47-.05 .31-.3 .31-.49 .15-.16 .16-.01 .15 .15 .62 1.32 .16 .16 .46 .01 .16 .08 .46 .77 .46-.44 .31-.2 .31-.47 .31-.28 .31-.04 .31 .09 .78 .67 .31 .12 .31-.12 .62-.91 .15-.03 .16 .14 .15 .4 .47 2.08 .15 .34 .16-.23 .77-3.46 .62-1.87 .62-2.66 .62-1.92 .62-2.66 .16-.16 .46-.02 .62 .7M823.7 38.72l.31-.97 .15 .11M824.94 40.96l.15-.12 .47-1.38 .15-.14M826.8 43.18l.31-.21 .15-.02M830.52 51.17l.15-.35 .16-.12M831.6 49.43l.31-.82 .62-.54 .31-.42 .46-1.21 .31-.63 .47-.53 .46-.74 .16-.08 .15 .15 .62 1.28 .47 .6 .46 .4 .16 .21 .77 2.18 .47 .7 .46 .89M839.66 53.4l.31 .36M844.61 78.06l1.09 3.97 1.08 5.03M847.56 89.92l.15 .19 .78 0 .46 .08 .16-.09 .15-.3M856.08 44.15l.15 .4 .31 1.41 .16 .38 .15 .02 .62-.85 .16 .49 .31 .21 .15 .24 .78 2.06 .77 1.01 .46 .26 .16-.01 .31-.19 .15 0 .47 .26 .15-.05 .47-.5 .15 .02 .78 1.2 .93 .48 .31 .29 1.24 2.13 .15 .09 .16 0 .46-.15 .31 .18M867.7 55.94l.31 .32 .15 .07 .46-.11 .78 1 .46 1.25M884.74 80.03l.31-.44 .46-.46M886.75 78.05l.46-.18M888.14 76.75l.31-.36 .16-.06 .46 .01 .16-.1 .31-.27 .31-.44M891.09 73.97l.46-.21 .31-.28M893.1 72.61l.93-.82 .31-.08 .47 .1M895.74 72.4l.77 .41 .31-.12M897.59 73.05l.31 .34 .31 .21M899.92 75.76l.31-.23 .46-.15 .62-.42M903.33 78.71l.62 1.49M936.79 92.84l1.08-.41M939.11 91.71l.78-.3M944.38 90.83l.93-.17 1.24 .25M950.58 91.05l.31 .01M960.03 91.91l.46-.01 1.24 .19M966.38 92.74l.31 .01" stroke="#7E2F8E" stroke-width="0.50"/>
<path d="M770.1 74.13l.62-1.05 .62-1.3 .31-.45 .31-.13 .62 0 .31-.2 .62-.7 .62-.23 .46-.46 .16-.07 .15 .06M776.29 69.97l.47 .52 .15 .07 .16-.11 .46-.69 .31-.17 .47 .11 .62 .52 .15 0M780.17 68.95l.15 .08 .16 .19 .62 1.47 .31 .02 .62-1.47 .77-.61 .31-.06 .47 .22 .15-.02 .62-.59 .16 .02 .46 .6 .62-.18 .93-1.5 .15-.16 .16 0 .31 .44 .46 1.02 .47 .77 .15 .09 .16-.04 .31-.28 .15-.04 .16 .11 .93 1.51 .31 .28 .46 .26 .31 .41 .47 .85 .15 .15 .47 .17 .77 .88 .16 .03 .46-.11 .62 .24 .62 .06 .62 .53 .15-.27 .31 .1 .31 .19 .47 .6 .31 .23 .46-.32 .16-.02 .15 .14 .47 .91 .77 1.29 .93 1.25 .31 .11 .16-.03 .46-.49 .47-.12 .15-.11 .47-.56 .15-.11 .16 .02 .15 .17 .62 1.17 .16 .14 .46 .04 .16 .07 .46 .67 .46-.33 .31-.13 .47-.56 .46-.19 .47 .13 .62 .53 .31 .08 .15-.04 .31-.31 .47-.68 .15-.02 .16 .15 .15 .35 .47 1.8 .15 .28M811.46 71.78l1.24-5.74 .16-.17 .46-.07 .46 .22 .47 .12 .46 .48 .16-.02M822 41.6l.15-.14 .16 .07 .15-.02 .46-1.31 .16-.19 .31-.16 .15-.19 .31-.84 .16-.25M826.64 43.51l.16 .28 .15-.01 .16-.12M829.12 52.03l.62 .95 .16-.26 .62-1.96 .15-.23 .16 .01 .31 .21 .15-.13 .62-1.46 .46-.31 .31-.37 .31-.58 .47-1.11 .15-.17 .47-.27 .62-.98 .15-.02 .47 .4 .15 .06M837.33 48.77l.31 .39 .31 .62M838.73 51.72l.31 .57M841.51 63.89l.62 3.8 .62 2.87M848.18 89.71l.77 .11M856.08 40.23l.15 .36 .31 1.34 .16 .33 .15-.01 .31-.54 .31-.33 .16 .56 .31 .22 .15 .21 .31 .78M859.18 45.05l.46 .78 .46 .42 .16 .05 .31-.05 .62 .56 .15-.02 .47-.45 .15 .04 .62 1.05 .16 .17M865.06 50.96l.16 .1 .15 .01 .47-.33 .15-.06 .16 .02 .31 .31 .62 1.24 .77 1.06 .31 .18 .46-.18M869.4 54.46l.93 2.69 .46 1.02M885.98 77.54l.46-.77 .31-.31 .31-.12 .31-.02 .46-.27M888.61 75.03l.46-.14 .31-.25 .47-.66M890.78 72.33l1.39-1.23 .62-.02 .31-.13 .47-.44 .46-.63 .16-.15 .31-.07 .31 .08 .62 .57 .62 .31 .46 .17 .46-.04 .16 .08 .62 1.01 .15 .18 .31 .19M900.07 73.79l.16-.09 .15 0M901.16 73.33l.46-.19 .16 .05 .62 1.26M906.89 87.4l.31 1.12M938.03 91.94l.77-.56M949.8 90.77l.62-.14 .47-.01M952.59 90.92l.77-.04M966.53 92.43l.31 .07" stroke="#77AC30" stroke-width="0.50"/>
<path d="M769.63 46.27l1.24-8.4 .62-3.8 .31-1.2 .47-1.06 .31-1 .77-3.87 .31-1.11 .47-1.28 .46-2.17 .16-.43 .15 .12 .16 .55 .46 2.54 .16 .55 .15 .25 .31 .04 .15 .3 .47 2.64 .15 .56 .16 .15 .31-.33 .15-.23 .62-1.41 .16-.22 .15-.08 .16 .16 .46 1.32 .16 .05 .46-.77 .16-.06 .15 .17 .31 .62 .16 .48 .62 3.35 .31-.19 .62-4.19 .93-3.22 .15-.37 .16-.19 .31-.04 .15-.15 .47-.8 .15 .11 .16 .48 .46 2.51 .31-.14 .16-.12 .15-.27 .62-3.1 .15-.56 .16-.36 .15-.18 .16 .04 .15 .3 .47 1.65 .46 1.28M790.7 27.96l.16 .04 .15 .27 .47 1.59 .15 .33 .16 .12 .31 .08 .15 .19 .47 .99 .15 .14 .16-.07 .31-.43 .15-.09 .16 .07 .46 .47 .16-.02 .31-.26 .15-.04 .15 .15 .31 .69 .16 .22 .15-.83 .16 .05 .31-.2 .15 .05 .16 .19 .31 .6 .15 .16 .16-.09 .46-1.63 .16-.23 .15 .21 .47 1.92 .46 1.55 .78 3.01 .46 2.22 .16 .28 .15 .14 .16-.05 .46-1.38 .16-.13 .31-.02 .15-.17 .47-1.35 .15-.34 .16-.04 .15 .31 .62 2.67 .16 .31 .31 .11 .15 .22 .16 .47 .46 2.32 .62-2.59 .46-1.55 .16-.31 .15-.08 .31 .31 .31 .66 .78 2.32 .15 .23 .16 .09 .15-.08 .16-.3 .46-1.97 .16-.5 .15-.07 .16 .42 .15 1.09 .47 5.94 .15 1.12 .16-.29 .62-5.61 .15-.62 .16-.19 .31-.16 .15-.36 .31-1.18 .16-.19 .15 .23 .47 1.84 .15 .43 .47 .76M818.74 12.11l.16 .26 .46 2.49 .16 .26 .15 .07 .16 .49M821.69 22.22l.15-1.29 .16-.7 .15-.11 .31 .44 .15-.21 .31-.95 .47-.97 .15-.61 .47-2.75 .15-.19 .16 .41 .46 2.34 .16 .19 .15-.26 .47-1.76 .15-.02M828.04 27.29l.77 7.04 .31 1.29 .62 1.22 .16-.35 .15-.64 .47-2.23 .15-.45 .16-.16 .31-.11 .15-.36 .46-2.06 .16-.46 .15-.23 .47-.35 .31-.42 .62-1.72 .62-1.1 .46-1.45 .16-.3 .15-.04 .93 1.17 .47 .92 .31 .84 .62 2.51 .15 .4 .47 .64 .31 .71 .46 1.67 .47 1.4 .62 2.82 .62 1.7 .31 1.65M843.22 63.83l.62 3.5M846.78 84.97l.78 3.64 .15 .27 .16 .09 1.08 .38M855.92 41.35l.16-.33 .15 .38 .31 1.47 .16 .44 .15 .12 .62-.47 .16 .54 .46 .12 .16 .15 .93 1.45 .92 2.21 .16 .15 .46-.04 .31 .12 .16 0 .15-.13 .47-.69 .15-.03 .16 .14 .62 .96 .93 .76 .31 .39 .62 1.09 .62 1.32 .15 .17 .62 .15 .16 .15 .31 .56 .62 1.5 .46 .68 .47 .42 .15 0 .16-.1 .3-.38 .62 .23 .16 .21 .46 1.34M882.57 84.78l.31-.79M884.74 79.08l.31-.36 .77-.63 .62-.81 .31-.23 .62-.29 .46-.58 .62-1.11 .16-.12 .46-.19 .31-.32M890.47 72.9l.31-.21 .62-.13 .15-.1 .78-.79M893.1 71.38l1.09-.95 .46-.02M895.58 70.94l.31 .04M898.06 72.58l.31 .19 .15 .19 .78 2.12 .15-.06 .78-.84 .31-.01 .62-.18 .46-.04 .16 .08M939.27 91.41l.62-.18 1.24-.14M945.15 90.48l1.24 .33 .93-.11M949.03 90.87l.62 .1 .31-.03M950.89 90.69l.31 0 .31 .12M952.59 91.25l1.39-.13M962.04 92l.31 .02M965.6 92.46l.31 .09M967.31 92.73l1.24 .28" stroke="#4DBEEE" stroke-width="0.50"/>
<path d="M767 82.98l1.08-6.86 .47-2.33 .15-.52 .78-1.54 1.24-1.89 .62-1.44 .31-.57 .15-.16 .62-.34 .31-.38 .62-.98 .31-.28 .47-.23 .46-.66 .16-.12 .15 .06 .16 .21 .46 .85 .16 .08 .15-.08 .31-.39 .15-.08 .16 .09 .31 .39 .15 .05 .16-.13 .46-.79 .31-.29 .47-.05 .31 .21 .31 .34 .15 .05 .16-.1 .46-.67 .16-.11 .15 .02 .31 .28 .16 .27 .62 1.69 .31-.09 .62-2.1 .31-.55 .46-.6 .31-.15 .47 .22 .15 0 .47-.23 .15 .07 .16 .24 .46 1.21 .31-.05 .31-.21 .62-1.62 .31-.59 .15-.14 .16 .06 .15 .25 .47 1.18 .46 .74 .16 .11 .15-.03 .47-.61 .15-.04 .16 .16 .93 2.15 .31 .34 .46 .22 .16 .15 .62 1.08 .15 .12 .47 .02 .15 .11 .47 .65 .15 .12 .16 .01 .46-.15 .62 .33 .62 .08 .62 .61 .15-.34 .47 .1 .31 .3 .46 .7 .16 .08 .15-.08 .31-.35 .16-.05 .15 .12 1.24 2.46 .93 1.39 .31 .11 .16-.04 .46-.59 .47-.16 .15-.12 .47-.66 .15-.11 .16 .04 .15 .22 .62 1.6 .16 .23 .46 .22 .16 .15 .46 .89 .46-.5 .31-.24 .47-.65 .15-.09 .47 .05 .93 .63 .31-.04 .31-.33 .62-1.23 .15-.03 .16 .18 .15 .47 .47 2.44 .15 .44 .16-.16 .77-3.31 .62-1.98 .62-2.97 .47-1.51 .77-3.15 .16-.09 .46 .15 .46 .57 .47 .34 .46 .68 .16 .05M818.59 33.97l.15-.7 .16 .3 .46 1.82 .16 .23 .15 .09M823.7 37.09l.31-.87 .15 .05 .47 1.61 .15 .35 .16 0 .15-.33 .47-1.53 .15-.02 .16 .41 .62 3.54 .15 .52 .16 .19 .31-.19 .15 .02 .16 .44 1.39 8.92 .31 .83 .47 .63 .15 .16 .16-.28M830.83 48.82l.31-.06 .15-.23 .46-1.25 .16-.22 .46-.14 .31-.31 .31-.58 .47-1.2 .15-.22 .47-.41 .62-1.25 .15-.1 .47 .12 .31-.07 .31 .07 .31 .26 .31 .64M837.64 47.45l.62 1.11 .31 .7 .31 .41 .16 .31 .46 1.48 .16 .38 .31 .5M843.22 70.52l.62 2.07 .31 1.38M847.87 89.37l.62 .02 .46 .08M854.37 52.33l.31-1.44 .16-1.16 .93-8.2 .15-.86 .16-.22 .15 .5 .31 1.61 .16 .44 .15 .08 .62-.83 .16 .49 .31 .06 .31 .39 .62 1.37 .77 .62 .31 .11 .62 .41 .62 1.28 .15 .12 .16-.05 .46-.41 .47 .07 .62-.21 .15 .04 .47 .55 .77 1.45M866.92 52.61l.31 .32 .31 .02 .47-.14 .61-.5 .62 .82 .16 .32 .62 1.95M870.79 57.67l.47 .97M876.53 92.72l.62 .95M883.65 81.44l.31-.75M884.89 78.55l.93-.66 .62-.74 .93-.91 .93-1.46 .15-.15 .62-.08 .31-.24 .93-1.34 .31-.35 .31-.19 .62-.23 .62-.55 .78-.24 .46-.4 .78-.85 .31-.08 .31 .07 .62 .55 1.08 .55 .46 .03 .16 .08M900.23 74.06l.46-.27M903.33 77.46l.77 1.61M938.96 91.5l.77-.34 .47-.09M941.44 90.85l.46-.14M942.83 90.38l.62-.12 .31 0M945 90.36l.46 0M947.32 90.55l2.48 .13 .93-.15 .47 .01 .92 .36 .47 .07M953.36 90.99l.78 .1 .62 .17 1.08-.1M958.63 91.39l.31 .06M964.21 92.1l.93 .05M970.56 93.34l.46 .04M972.57 93.68l1.71 .82 1.39 .5" stroke="#A2142F" stroke-width="0.50"/>
<path d="M767 67.53l.93-11.24 .77-7.99 .62-5.04 1.24-8.79 .93-7.49 .31-1.67 .78-2.74 .77-3.84 .31-.75 .31-.34 .16-.32 .46-1.8 .16-.32 .15 .22 .62 3.19 .16 .43 .15 .1 .31-.2 .15 .27 .47 2.95 .15 .66 .16 .2 .15-.1 .31-.33 .31-.64 .31-.31 .16-.06 .15 .06 .16 .24 .31 .95 .15 .14 .16-.25 .46-1.89 .16-.35 .15-.02 .31 .41 .16 .45 .62 3.66 .31-.1 .62-4.41 .93-3.27 .15-.28 .16-.05 .31 .23 .15-.08 .47-.86 .15 .08 .16 .48 .46 2.63 .47-.33 .15-.28 .77-4.16 .31-.87 .16-.13 .15 .17 .16 .44 .93 3.27 .15 .25 .16-.05 .31-.42 .15 .07 .16 .45 .46 2.23 .31 .92 .16 .21 .15 .03 .47-.59 .15-.05 .16 .18 .15 .44 .47 2 .15 .31 .16 .03 .31-.18 .15 .1 .62 1.3 .16 .05 .31-.17 .15 .04 .47 .64 .15 .08 .16-.06 .31-.37 .15-.06 .15 .18 .31 .8 .16 .25 .15-.91 .16 .02 .31-.35 .15-.04 .16 .13 .31 .5 .15 .13 .16-.16 .46-1.81 .16-.19 .15 .32 .16 .76 1.24 6.52 .77 3.3 .16 .17 .15 .02 .16-.17 .46-1.82 .16-.28 .31-.31 .15-.33 .47-1.64 .15-.31 .16 .07 .15 .49 .62 3.51 .16 .42 .31 .18 .15 .23 .16 .48 .46 2.52 .93-4.31 .15-.96 .16-.61 .15-.33 .16-.13 .15 .08 .31 .55 .93 3.22 .16 .35 .15 .17 .16-.08 .15-.35 .47-1.65 .15 .02 .16 .53 .15 1.27 .47 6.74 .15 1.32 .16-.2 .62-5.78 .15-.64 .16-.2 .31-.21 .15-.41 .31-1.27 .16-.15 .15 .33 .62 2.83 .47 1.19 .15 .71 .62 5.19 .46 4.7 .16 1.25 .15 .72M817.19 28.97l.62-6.3 .62-10.28 .16-2.1 .15-1.16 .16 .22 .46 2.79 .16 .42 .15 .2M821.69 19.53l.15-1.27 .16-.7 .15-.12 .31 .31 .15-.29 .31-1 .16-.25 .31-.26 .15-.35 .47-2.08 .15-.1 .16 .41 .31 1.44 .15 .43 .16-.03 .15-.47 .47-2.06 .15 .03 .16 .64 .46 4.03 .31 1.93 .16 .25 .31-.42 .15-.11 .16 .4 .77 5.57 .62 5.16 .31 1.42 .62 1.87 .16-.23 .62-2.41 .15-.29 .16 .03 .15 .15 .16 .01 .15-.33 .46-2.5 .31-1.2 .78-1.43 .62-1.81 .31-.5 .31-.27 .46-.61 .16 .05 .46 1.33 .16 .16 .46 .28 .47 .63 .31 .26 .15 .33 .47 1.57 .62 1.31 .77 2.53 .31 .4 .31 .75 .31 1.22 .47 1.39 .31 1.25 .46 3.51 .62 6.98 .62 4.81 .93 8.39 1.08 7.07 .78 5.87 .93 4.86 .93 6.08 .93 4.63 .15 .28 .16 .1 1.08 .44 .16-.09 .31-.74 1.08-3.32 .15-.64 .31-2.2M851.74 76.12l.46-3.83 1.71-19.07 .31-1.89 .46-1.79 .47-3.37 .62-5.58 .15-.97 .16-.36 .15 .38 .31 1.43 .16 .37 .15 0 .62-1.12 .16 .47 .31 .1 .15 .19 .78 2.31 .77 1.64 .46 .65 .16 .1 .31-.09 .15 .02 .31 .16 .16-.01 .15-.14 .47-.76 .15-.02 .16 .17 .62 1.21 .31 .31 .77 .57 .16 .2 .46 .91 .62 1.61 .31 .59 .16 .14 .46 .2 .16 .15 .93 1.61 .93 1.1 .15 .07 .16-.02 .3-.23 .62 .45 .16 .22 .62 1.57 .46 1.44 .78 1.8 .31 1.08 1.55 9.49M880.4 91.42l.46-1.23 .93-3.49 .47-1.45 1.7-4.32 .78-2.29 .15-.29 .78-.9 .77-1.11 .31-.25 .62-.29 .15-.17 .31-.4 .62-1.05 .16-.09 .46-.06 .31-.24 .93-1.3 .47-.46 .62-.11 .62-.38 .77-.36 .47-.52 .77-1.15 .31-.18 .47 .06 .46 .27 .16 .03 .62 .01 .46 .12 .46-.07 .16 .08 .77 1.78 .62 .83 .78 1.99 .15-.07 .47-.53 .31-.21 .31 .05 1.08-.37 .16 .07 1.39 3.08 .78 1.91 1.54 4.6 .62 2.05M936.17 92.96l.46-.39 .93-.32M939.27 91.17l.62-.24 1.39 0 .47-.09 1.23-.61 .31-.05 .31-.02 .62 .27 .31 .05M945.77 90.53l.62 .14 .78-.03M948.25 90.72l.78-.01 .93 .15 .93-.03M951.66 90.96l.77 .08 1.55-.15 .78 .17 .62-.02 .77 .09 .47-.04 .46 .07 .62 .19 1.09 0 1.08 .31M960.65 91.76l.92 .18 1.55-.14 1.86 .23 .93 .36 .93 .01 1.55 .46 1.55 .37 1.08 .1 1.09 .19M975.36 95.02l.47 .08 .77 .26 1.09 .66M1022.15 97.71l.46-.02M1026.48 97.54l4.65-.25 11.78-.06M1045.07 97.25l.78 .01M1061.34 97.72l.31 0" stroke="#0072BD" stroke-width="0.50"/>
<path d="M767.93 78.43l.62-2.67 .15-.38 2.02-3 .77-1.49 .31-.29 .62-.1 .31-.18 .78-.9 .62-.37 .62-.72 .15 .01 .16 .13 .46 .71 .16 .11 .15 .01 .31-.15 .15 .02 .47 .52 .15 .03 .16-.14 .46-.73 .16-.11 .46 .02 .78 .4 .15-.04 .16-.16 .46-.81 .16-.16 .15-.06 .31 .14 .16 .2 .62 1.37 .31-.1 .62-1.58 .15-.15 .62-.29 .31 .04 .47 .3 .15-.02 .47-.39 .15-.03 .16 .12 .46 .84 .47-.24 .15-.15 .93-2.21 .15-.19 .16 0 .15 .18 .62 1.27 .47 .74 .15 .12 .47-.06 .15 .1M789.77 70.05l.31 .38 .16 .05 .46-.03 .16 .07 .62 .92 .15 .16 .47 .21 .77 1 .16 .06 .46-.02 .62 .26 .62-.13 .15 .06 .31 .3M796.59 74.31l.31 .23 .15-.06 .31-.28 .16-.05M799.84 77.52l.47 .05 .46-.45 .62-.1 .62-.53 .16 .04 .15 .17 .62 1.16 .16 .12 .46-.04 .16 .05 .46 .66 .46-.31 .31-.09 .47-.53 .15-.1M807.12 78.63l.16 .05 .15-.04 .16-.13 .46-.82 .16-.22 .15-.06 .16 .13 .15 .37 .47 1.96 .15 .36 .16-.14 .62-2.3M812.86 65.01l.46-.33 .15 0 .78 .19 .46 .47 .16-.03 .15-.48 1.09-5.96 .93-10.47 .31-2.36 .31-1.55 .15-1.21 .78-8.44 .15-.71 .16 .29 .46 1.86 .31 .43 .16 .45M821.69 41.83l.15-.92 .16-.53 .15-.13 .16 .07 .15-.03 .46-1.44 .47-.98 .15-.45 .47-2.01 .15-.16 .16 .27 .46 1.69 .16 .15 .15-.2 .47-1.6 .15-.19 .16 .21 .15 .6 .47 2.65 .15 .59 .16 .27 .46-.08 .16 .38 .77 4.47 .62 4.1 .31 1.18 .62 1.54 .16-.15 .15-.39 .47-1.5 .15-.28 .16-.06 .31 .08 .15-.17 .62-1.57 .46-.51 .31-.61 .78-2.26 .15-.24 .47-.48 .46-.94 .16-.16 .15 .06 .47 .83 1.08 1.12 .31 .7 .62 2.03 .93 1.47 .16 .37 .46 .56 .16 .29 .46 1.54 .78 1.9 .46 2.49 .62 5.08 .77 4.87 .78 4.26 .46 1.98 .62 2.24M847.87 89.64l.62 .01M854.06 55.98l.47-2.27M856.85 44.1l.31-.22 .31-.1 .16 .61 .46 .46 .62 1.19 .16 .2 .46 .37 .31 .42 .46 .4 .16 .04 .31-.1 .15 .05 .47 .35 .15-.04 .47-.39 .15 .08 .78 1.61 1.08 .83 .93 1.12 .47 .68 .15 .12 .16 .03 .46-.12 .16 .02 .31 .26 1.08 2.12 .47 .71 .15 .11 .16 .02 .3-.14 .62 .58M870.79 59.51l.47 .9 .31 .99M885.36 78.75l.31-.28 .77-1.05 .31-.12 .31 .04M888.76 75.56l.31-.13 .47-.5 .93-1.64 .31-.41 .31-.19 .46-.08 .62-.35 .62-.17 .47-.4M894.65 70.58l.16 .06 .46 .46 1.24 .97 .62 .09M898.21 73.33l.31 .27M899.3 75.66l.15-.07 .47-.58 .31-.26 .46 .01 .93-.2 .16 .06M933.07 95.59l2.01-1.54M936.79 92.72l1.24-.45 .77-.52 .47-.24 .46-.14 .62-.02M943.14 90.64l.46-.11 .78 .22 .77 .05 1.09 .17 .77-.02 .93 .09 .93-.1 .62 .13M950.89 90.95l.46 .05 .77 .32 .31 .07 .78-.09 .77 .03M955.69 91.44l.31-.03M958.01 91.58l.78 .02 .93 .34 .46 .04M960.95 92.07l1.09 .11 1.08 0 1.86 .26M969.17 93.32l.46 .11M973.04 94.17l1.39 .59" stroke="#D95319" stroke-width="0.50"/>
<path d="M767 72.04l.93-10.17 .62-5.3 .15-.98 .78-3.53 .46-2.49 1.55-10.78 .31-1.15 .62-1.35 .93-3.59 .16-.31 .15-.13 .31-.1 .16-.26 .62-2.58 .15-.16 .16 .21 .46 1.65 .16 .36 .15 .14 .31 0 .15 .33 .47 2.66 .15 .59 .16 .19 .15-.08 .31-.3 .31-.48 .31-.21 .16-.03 .15 .07 .16 .24 .31 .92 .15 .25 .16-.03 .46-1.04 .16-.19 .15 .03 .31 .39 .16 .4 .62 3.12 .31-.12 .46-2.95 .31-1.34 .47-1.03 .31-.5 .15-.05 .16 .12 .31 .46 .15 .04 .47-.59 .15 .02 .16 .33 .46 1.99 .47-.35 .15-.3 .77-4.15 .31-.91 .16-.08 .15 .26 .16 .53 .46 2.03 .47 1.58 .15 .2 .16-.12 .31-.68 .15-.16 .16 .14 .77 2.13 .31 .41 .16 .01 .31-.16 .15 0 .16 .17 .62 1.8 .15 .16 .16-.07 .31-.33 .15 .02 .62 1.12 .16 .06 .46-.21 .47 .23 .15-.05 .16-.19 .46-.81 .15 .02 .47 .9 .15-.59 .62 .81 .47 .99 .15 .15 .16-.11 .46-1.47 .16-.13 .15 .3 .47 2.17 .77 2.78 .47 1.21 .46 1.74 .16 .2 .15 .09 .16-.07 .46-1.32 .16-.17 .31-.14 .15-.24 .47-1.43 .15-.32 .16 0 .15 .34 .62 2.79 .16 .3 .15 .04 .16-.05 .15 .09 .16 .31 .46 2 .93-2.98 .15-.68 .16-.39 .15-.18 .16-.01 .31 .35 .31 .76 .62 1.94 .15 .25 .16 .1 .15-.08 .16-.28 .46-1.81 .16-.46 .15-.08 .16 .34 .15 .94 .47 5.28 .15 1.02 .16-.21 .62-4.64 .15-.48 .47-.27 .15-.38 .31-1.33 .16-.4 .15-.06 .47 .94 .62 .66 .15 .5 1.24 8.47 .15 .46 .62 1.18 .16 0 .15-.61 .62-4.28 .47-2.06 .15-1.6 .78-11.1 .77-7.36 .62-9.99 .16-2.06 .15-1.17 .16 .12 .46 2.39 .16 .28 .15 .1 .16 .48 .15 4.08 .47 40.6 .15 8.67 .16-3.62 .62-36.14 .15-3.5 .31-2.57 .16-.63 .15-.2 .16 .07 .15-.05 .46-1.53 .47-.82 .15-.42 .47-1.94 .15 .02 .16 .55 .46 2.48 .16 .21 .15-.23 .47-1.83 .15-.16 .16 .33 .62 3.78 .15 .55 .16 .14 .31-.44 .15-.08 .16 .44 1.39 11.34 .31 1.37 .62 1.47 .16-.29 .62-2.6 .15-.41 .16-.14 .31-.08 .15-.34 .62-2.52 1.08-1.75 .31-.66 .16-.15 .46-.05 .16-.11 .15-.28 .47-1.3 .15-.19 .47-.11 .31-.28 .15-.08 .16 .01 .31 .14 .31 .52 .77 2.8 .47 .96 .77 2.47 .47 .95 1.24 4.39 .31 1.92 .77 7.28 .62 4.45 .93 8.16 1.08 6.13 .78 5.13 .93 4.56M847.71 89.76l.93 .05M852.67 71.07l1.24-11.96 .31-1.97 .46-1.97 .47-3.17 .62-5 .15-.9 .16-.39 .15 .26 .31 1.06 .16 .23 .15-.08 .31-.63 .31-.41 .16 .5 .31 .25 .15 .25 .78 2.03 .77 1.3 .46 .34 .16-.03 .31-.26 .15-.03 .47 .27 .15-.01 .47-.31 .15 .05 .78 1.05 .93 .44 .31 .22 .77 .75 .62 .88 .62 .42 .31 .43 .78 1.55 .62 .69 .31 .22 .15 .02 .46-.29 .62 .64 .16 .3 1.08 3.43 .78 1.4 .31 .85 1.55 8.67 .46 3.23M876.53 93.31l1.08 1.42 .77 .89 .16 .07M879.31 94.34l1.24-2.46 .31-.74 .93-3.15 .47-1.36 1.39-3.81 1.09-2.57 .15-.16 .78-.4 .62-.72 .31-.27 .77-.35 .46-.57 .62-1 .16-.09 .46-.05 .31-.22 .31-.41 .78-1.47 .31-.43 .31-.22 .93-.34 .77-.11 .31-.26 .78-1.02 .31-.3 .15-.04 .31 .03 .78 .4 .62 .05 .46 .18 .31 .03M899.3 76.19l.15-.08 .47-.57 .31-.23 .46-.02 .47-.22 .46-.11 .16 .07M939.27 91.84l.62-.18 1.55-.03 .46-.14 1.08-.48 .62-.12 .93 .31 .93-.05 .93 .17 3.26 .19 1.24-.14 .46 .06 1.08 .33 1.71-.01 .77 .11 1.24-.03 .47-.06 .46 .04 .78 .24 .93 .01 .77 .14 .31 0M962.04 92.38l.93 .07 1.24 .27 1.08 .02M966.53 92.88l1.4 .49 1.08 .07M969.79 93.62l2.32 .34 1.08 .43M976.14 95.55l.93 .4" stroke="#EDB120" stroke-width="0.50"/>
<path d="M768.55 76.73l.15-.32 .93-.82 .93-.96 .93-1.25 .31-.18 .62-.12 .31-.27 .78-.87 .62-.09 .46-.36 .16-.03 .15 .09 .16 .21 .46 .9 .16 .14 .15 .01 .46-.34 .47 .06 .15-.07 .62-.99 .31-.17 .47 .03 .62 .46 .15 .02 .16-.1 .62-.94 .31-.1 .15 .07 .16 .18 .62 1.35 .31-.02 .62-1.36 .15-.14 .62-.24 .31 .04 .47 .24 .15-.02 .47-.38 .15-.03 .16 .1 .46 .65 .62-.54 .62-1.29 .31-.43 .15-.11 .16 .03 .15 .18 .62 1.06 .47 .56 .15 .06 .47-.23 .15 .03 .16 .18 .62 1.29 .31 .47 .15 .12 .62 .1 .16 .11 .77 1.23 .62 .35 .47 .58 .31 .12 .31-.1 .31 .02 .46 .27 .62 .22 .62 .58 .15-.26 .47 .12 .77 .71 .16 .02 .46-.37 .16-.01 .15 .15 1.24 2.36 .93 1.09 .47 0 .46-.4 .47 .01 .15-.07 .47-.54 .15-.13 .16-.03 .31 .31 .46 .76 .16 .14 .46 .09 .16 .09 .46 .72 .77-.27 .47-.52 .46-.21 .47 .11 .62 .45 .31 .03 .31-.19 .62-.81 .15-.01 .16 .14 .15 .34 .47 1.64 .15 .25 .16-.21 1.39-5.17 1.86-9.8 .16-.25 .46-.21 .93 .48 .46 .35 .16-.1 .15-.54 .62-3.61 .31-1.34M818.59 36.29l.15-.67 .16 .31 .46 1.76 .31 .41M821.69 43.88l.15-.96 .16-.55 .15-.12 .31 .18 .15-.21 .31-.75 .47-.65 .15-.37 .47-1.62 .15 .01 .16 .46 .46 2.09 .16 .25 .15-.09 .47-1.09 .15-.05 .16 .34 .62 3.26 .15 .38 .16 .02 .46-.85M828.04 47.06l.77 4.69 .31 .89 .47 .8 .15 .21 .16-.22M830.67 51.35l.16 .03 .31 .28 .15-.07 .62-1.42 .93-1.28 .46-.93 .31-.31 .47-.22 .46-.91 .16-.24 .15-.07 .78 .62 .62 .79 .31 .55 .46 1.32 .31 .6 .47 .11 .31 .18M839.5 53.74l.62 1.39 .31 .93 .46 2.7M843.22 71.68l.77 2.63M847.71 89.54l.78-.05 .46 .11 .16-.11 .31-.74 1.08-3.19M853.91 55.42l.31-1.95 .46-1.87 1.09-8.62 .15-.83 .16-.24 .15 .45 .31 1.44 .16 .36 .15 .01 .62-1.01 .16 .47 .31 .09 .31 .43 .62 1.59 .77 1.55 .46 .67 .16 .08 .31-.11 .62 .09 .15-.13 .47-.72 .15-.05 .62 .54 .47 .12 .15 .12 .31 .46 .78 1.58 1.08 1.96 .16 .09 .62 .09 .31 .3 .46 .61 .62 .33 .78 .69 .3 .1 .78 1.44 1.08 3.18 .78 1.22 .31 .92 1.7 10.57M886.29 78.14l.46-.5 .62-.31 .46-.43 .62-1.04 .16-.14 .46-.19 .47-.38M890.62 73.61l.31-.31 .62-.35 .78-.82 1.24-.8 .62-.66 .31-.16 .31-.04 1.54 1.14 .16 .07 .62-.12 .15 .12 1.24 1.63 .62 1.87 .16 .27 .15-.1 .47-.74 .31-.37 .31-.07 .77-.39 .31-.04 .16 .09 2.32 5.72 1.55 4.29M931.52 96.73l2.32-1.92 1.24-.86 1.4-1.13 1.24-.57 1.39-.92 .78-.3 1.39 .01 .47-.08 1.23-.58 .62-.07 .78 .23 1.08-.12 .93 .14 .78 .03 .93 .17 1.39 .1 1.24-.12 .47 .1 .92 .35 .31 .01 .78-.13 .77 .1 .93 .22 1.86-.1 .31 .02 .62 .19 1.09-.01 .93 .24 1.08-.02 1.39 .24 1.4 .07 .93 .2 .62 .03 .77 .24 .93 .07 3.25 .78 1.24 .2 .93 .08 2.02 1.02 2.48 .94 1.7 .96M1037.02 97.31l1.55 0M1041.51 97.28l6.35 .06M1049.26 97.4l2.63 .02 2.94 .1M1057.47 97.64l2.63 .06" stroke="#7E2F8E" stroke-width="0.50"/>
<path d="M767 84.27l.93-5.3 .62-2.59 .15-.35 .62-.78 .47-.73 1.7-3.34 .16-.13 .15-.03 .47 .13 .31-.1 .93-1.06 .62-.04 .62-.49 .15 .04 .16 .16 .46 .68 .16 .08 .15-.06 .31-.28 .15-.05 .47 .37 .15 .01 .16-.17 .46-.82 .16-.14 .31-.02 .31 .2 .62 .81 .15 .03 .31-.36 .47-.9 .15-.15 .16-.05 .15 .03 .16 .15 .62 1.27 .31-.15 .62-1.83 .15-.24 .47-.39 .31-.11 .62 .34 .15-.03 .47-.55 .15-.1 .16 .07 .46 .84 .62 .06 .77-1.25 .31-.38 .16 .01 .15 .16 .62 1.16 .47 .62 .15 .06 .47-.36 .15-.02 .16 .14 .62 1.22 .31 .42 .15 .09 .16 0 .46-.15 .16 .06 .15 .14 .47 .76 .15 .17 .47 .28 .62 .83 .15 .1 .16 .01 .46-.11 .62 .32 .62 .09 .62 .84 .15-.2 .47 .29 .77 .8 .16 .06 .46-.34 .16-.02 .15 .15 .62 1.18 .62 .95 .47 .58 .46 .82 .16 .13 .31 .09 .46-.49 .62-.33 .47-.61 .15-.12 .16 0 .15 .14 .62 1.02 .16 .09 .46-.04 .16 .08 .46 .81 .77-.35 .47-.5 .31-.07 .46 .18 .78 .77 .31 .07 .31-.24 .46-.87 .16-.23 .15-.07 .16 .11 .15 .34 .47 1.87 .15 .33 .16-.16 1.39-4.91 .62-3.52 1.09-5.34 .15-.52 .16-.13 .46 .01 .46 .34 .47 .2 .46 .49 .16-.04 .15-.49 .62-3.63 .47-2.17 .93-9.97 .31-2.38 .31-1.54 .15-1.14 .62-6.51 .16-1.28 .15-.65 .16 .28 .46 1.52 .16 .09 .15-.03 .16 .27 .15 3.01 .47 30.87 .15 6.56 .16-2.89 .62-28.94 .15-2.87 .16-1.2 .15-.77 .16-.38 .15 0 .16 .19 .15 .07 .15-.26 .31-.97 .62-1.26 .47-1.54 .15 .02 .16 .42 .46 1.92 .16 .17 .15-.15 .47-1.37 .15-.14 .16 .25 .77 3.79 .16 .31 .15 .04 .31-.09 .16 .27 .77 3.48 .78 4.79 .31 1.05 .31 .8 .15 .23 .16-.25 .62-2.24 .15-.3 .16-.06 .31 .08 .15-.21 .46-1.59 .31-.71 .93-.95 .31-.49 .16-.12 .62-.14 .62-1.07 .15-.1 .47 .08 .31-.06 .15 .03 .47 .35 .15 .21 .31 .68 .62 1.9 .78 1.25 .46 .96 .31 .35 .16 .29 .46 1.39 .16 .35 .46 .68 .31 .82 .31 1.66 .77 6.13 .62 3.79 .78 4.12 .46 1.85 .62 2.09 .62 2.84 1.09 3.72 .93 4.68 .77 3.16 .16 .53 .15 .2 1.24 .01M852.82 67.52l1.09-11.12 .31-1.92 .46-2.01 .93-7.28 .31-1.8 .16-.14 .46 2.05 .16 .38 .15 0 .62-1.08 .16 .44 .31 .04 .31 .36 .46 1.03 .62 1.05 .31 .65 .46 .59 .16 .06 .31-.07M862.58 49.62l.16 .03 .46-.04 .31 .16 .31 .37 .47 .98M865.06 52.79l.31 .37 .62-.06 .16 .1 .15 .19 .31 .66M870.48 59.96l.31 .67M884.74 79.37l.31-.35 .77-.22 1.7-.94 .31-.3 .62-.94 .16-.12 .46-.18 .47-.48 .93-1.56 .46-.58 1.09-.96 .15-.1 .62-.19 .47-.42M894.5 70.96l.31 .02 .15 .09 1.55 1.26 .62-.05 .15 .09 1.09 1.23 .15 .25 .62 1.87 .16 .28 .15-.08 .47-.64 .31-.32 .46-.09 .93-.47 .16 .05 .46 .93 1.09 2.8 .77 1.78M934.93 94.28l1.08-.92 .47-.3 .31-.12M938.03 92.5l.77-.48M939.89 91.48l.62-.09M942.06 91.08l.77-.3M943.76 90.73l.46 .19M945.77 91.04l.47 .12 .62-.03M947.79 91.1l.93-.04 .93 .08 1.08-.15 .47 .07 .31 .14M952.28 91.54l.31 .03 .93-.12M954.29 91.43l.47 .08 1.24 .04 .62-.1 .46 .02 .78 .21 .93 .02 .93 .32 .77 .03 1.7 .22M963.59 92.35l.77 .19 .78 .08 .62 .23 .46 .01" stroke="#77AC30" stroke-width="0.50"/>
<path d="M767 69.53l.93-10.67 .62-5.44 2.32-17.3 .62-4.22 .31-1.51 .62-2.19 .78-3.94 .15-.55 .16-.32 .15-.1 .31 .03 .16-.17 .46-1.58 .16-.35 .15 .16 .16 .56 .46 2.43 .16 .48 .15 .2 .31 .01 .15 .33 .47 2.78 .15 .58 .16 .15 .15-.15 .31-.47 .47-1.02 .31-.46 .15-.13 .16 .06 .31 .66 .15 .16 .16-.1 .46-.87 .16 .03 .15 .3 .47 1.36 .46 2.5 .16 .49 .31-.61 .46-3.82 .16-.95 .15-.54 .47-.68 .15-.13 .16-.02 .15 .09 .47 .72 .15-.09 .47-1.46 .15-.26 .16 .14 .46 2.02 .47-.21 .15-.26 .77-4.47 .16-.57 .15-.31 .16-.01 .15 .39 .62 3.34 .47 1.83 .15 .18 .16-.16 .31-.72 .15-.09 .16 .29 .62 2.62 .31 .85 .15 .18 .16-.02 .46-.67 .16-.1 .15 .07 .47 .67 .15-.02 .31-.45 .16-.12 .15 .14 .62 1.73 .16 .1 .46-.29 .47 .25 .15-.01 .47-.51 .15-.07 .15 .18 .47 1.2 .15-.72 .16 .17 .31 .04 .15 .15 .47 1.01 .15 .21 .16-.08 .46-1.64 .16-.2 .15 .28 .47 2.22 .62 2.14 .15 .48 .47 .94 .46 1.84 .31 .52 .16 .09 .46-.91 .31-.01 .16-.06 .15-.31 .16-.55 .31-1.37 .15-.46 .16-.06 .15 .37 .62 3.19 .16 .31 .15 .01 .16-.11 .15 .07 .16 .33 .46 2.27 .93-3.36 .15-.75 .16-.43 .15-.2 .16 0 .31 .39 .31 .79 .62 2 .15 .25 .16 .1 .15-.07 .16-.29 .62-2.29 .15 .05 .16 .55 .15 1.24 .47 6.4 .15 1.22 .16-.22 .62-5.15 .15-.37 .16 .11 .31 .41 .15-.15 .31-1.08 .16-.32 .15 .03 .47 1.07 .46 .57 .16 .29 .15 .62 1.24 9.27 .46 1.11 .31 .96 .16 .2 .15-.44 .16-.88 .46-3.27 .47-2.59 .93-14.31 .31-3.2 .31-2.04 .15-1.58 .62-9.42 .16-1.98 .15-1.09 .16 .12 .31 1.34 .15 .29 .16-.17 .15-.41 .16-.01 .15 3.9 .47 43.38 .15 9.37 .16-4.05 .62-40.09 .15-3.86 .31-2.6 .16-.51 .15-.01 .16 .26 .15 .1 .15-.36 .31-1.31 .62-1.85 .47-2.54 .15-.11 .16 .48 .46 2.51 .16 .25 .15-.2 .47-1.55 .15 .04 .16 .58 .62 4.87 .15 .75 .16 .29 .15-.08 .16-.2 .15-.06 .16 .43 .77 5.4 .62 5.03 .31 1.38 .62 1.57 .16-.32 .62-2.7 .15-.34 .16-.01 .31 .23 .15-.23 .62-2.42 .62-1.1 .31-.69 .62-2 .15-.27 .47-.53 .46-1.28 .16-.32 .15-.09 .47 .33 .31 .03 .15 .09 .47 .74 .31 1.02 .77 4.08 .16 .39 .77 1.16 .16 .45 .46 .85 .16 .47 .46 2.27 .78 2.84 .31 1.95 .77 8.06 .62 5.33 .77 7.74 .47 3.43 .77 4.39 .62 4.34 1.09 5.64 .93 5.88 .93 4.4 .15 .26 .16 .08 .62 .12 .46 .18 .16-.08 .31-.67 1.08-2.9 .15-.55 1.55-10.96 1.71-16.32 .31-1.98 .46-2.31 1.09-9 .15-.82 .16-.22 .15 .48 .31 1.59 .16 .5 .15 .19 .62-.37 .16 .47 .46 .09 .16 .13 .62 .89 .46 .37 .31 .37 .46 .2 .47-.19 .15 .07 .47 .56 .15 .04 .47-.31 .15 .01 .62 .65 .47 .07 .31 .14 .46 .55 1.55 3.06 .16 .13 .46 .09 .31 .2 .78 1.2 .62 .58 .31 .2 .15 .01 .46-.29 .47 .43 .31 .5 1.08 3.68 .78 1.35 .31 .8 .62 3.16 .93 5.56 1.55 12.24 1.55 9.19 .15 .37 .78 1.05 1.23 1.49 .16 .08 .15-.17 .31-.6 1.71-3.65 1.39-4.56 .93-2.3 1.71-4.67 .31-.34 .77-.42 .78-.76 .77-.37 .46-.55 .62-1.04 .62-.27 .31-.3 1.24-1.77 .31-.22 .62-.11 1.09-.46 .31-.3 .93-1.37 .31-.26 .15-.01 .47 .2 .46 .47 1.24 .86 .46 0 .16 .05 .15 .15 .62 .89 .47 .38 .15 .22 .62 1.8 .16 .29 .15-.06 .78-.99 .31-.07 .77-.33 .31-.05 .16 .07 .46 .95 1.86 4.38 1.39 3.56 3.26 10.84 1.39 3.22 .16 .26 .15 .11 2.79 .44 6.35 .03 7.59-.19 3.1-.74 .31-.15 1.4-1.15 1.85-1.38 1.24-.82 1.55-1.2 .78-.33 1.39-.8 .47-.21 .62-.18 1.86-.3 1.23-.47 .62-.13 .93 .26 .78 .01 1.08 .16 .78 0 .77 .09 .93-.03 .93 .22 1.4-.15 1.08 .27 .93-.11 .62 .03 1.08 .25 2.17-.06 .78 .16 .93 .04 .93 .34 .93 .03 1.39 .16 1.24-.06 1.08 .19 .78 .07 .77 .26 .93 .06 2.95 .68 .92 .1 1.71 .35 2.79 1.24 1.55 .5 3.25 1.81 3.25 .99 6.04 .19 15.34-.1 6.2-.38 3.25-.3 3.1 .19 6.2-.38 7.43-.32 6.97 0 3.88-.08 5.88 .07 14.57 .39 13.32 .54 6.97 .18 7.59 .09" stroke="#4DBEEE" stroke-width="0.50"/>
<path d="M910.45 98.70H928.58M982.18 98.70H1010.99M1071.72 98.70H1090.00" stroke="#4DBEEE" stroke-width="0.42"/>
</g></g>
<path d="M390.08 98.70v-1.60M390.08 7.50v1.60M428.81 98.70v-1.60M428.81 7.50v1.60M467.54 98.70v-1.60M467.54 7.50v1.60M506.27 98.70v-1.60M506.27 7.50v1.60M545.00 98.70v-1.60M545.00 7.50v1.60M383.50 98.70h1.60M545.00 98.70h-1.60M383.50 87.70h1.60M545.00 87.70h-1.60M383.50 76.70h1.60M545.00 76.70h-1.60M383.50 65.70h1.60M545.00 65.70h-1.60M383.50 54.70h1.60M545.00 54.70h-1.60M383.50 43.69h1.60M545.00 43.69h-1.60M383.50 32.69h1.60M545.00 32.69h-1.60M383.50 21.69h1.60M545.00 21.69h-1.60M383.50 10.69h1.60M545.00 10.69h-1.60" stroke="#262626" stroke-width="0.30" fill="none"/>
<g font-size="3.60" fill="#262626" stroke="#262626" stroke-width="0.05">
<text x="390.08" y="104.20" text-anchor="middle">500</text>
<text x="428.81" y="104.20" text-anchor="middle">1000</text>
<text x="467.54" y="104.20" text-anchor="middle">1500</text>
<text x="506.27" y="104.20" text-anchor="middle">2000</text>
<text x="545.00" y="104.20" text-anchor="middle">2500</text>
<text x="381.90" y="99.90" text-anchor="end">0</text>
<text x="381.90" y="88.90" text-anchor="end">0.01</text>
<text x="381.90" y="77.90" text-anchor="end">0.02</text>
<text x="381.90" y="66.90" text-anchor="end">0.03</text>
<text x="381.90" y="55.90" text-anchor="end">0.04</text>
<text x="381.90" y="44.89" text-anchor="end">0.05</text>
<text x="381.90" y="33.89" text-anchor="end">0.06</text>
<text x="381.90" y="22.89" text-anchor="end">0.07</text>
<text x="381.90" y="11.89" text-anchor="end">0.08</text>
</g>
<text x="464.75" y="5.95" text-anchor="middle" font-size="3.50" font-weight="bold" fill="#000" stroke="#000" stroke-width="0.13">CameoSIM radiance,Orange Perspex ROI (5x5)</text>
<text x="464.25" y="108.60" text-anchor="middle" font-size="3.60" fill="#2a2a2a">wavelength (<tspan fill="#999">λ</tspan>) nm</text>
<text transform="translate(372.40 53.10) rotate(-90)" text-anchor="middle" font-size="3.60" fill="#2a2a2a">Spectral Radiance W/m<tspan font-size="2.52" dy="-1.3">2</tspan><tspan dy="1.3"> sr nm</tspan></text>
<clipPath id="c3"><rect x="16.40" y="117.10" width="161.10" height="87.95"/></clipPath>
<rect x="16.40" y="117.40" width="161.10" height="87.35" fill="none" stroke="#262626" stroke-width="0.30"/>
<g clip-path="url(#c3)"><g transform="scale(0.500 1)" fill="none" stroke-linejoin="round" stroke-width="0.44">
<path d="M35.43 199.36l.92-.22M40.53 197.67l.31-.04M53.66 193.99l.31-.05 .46-.32 .31-.1M56.6 192.29l.77-.63 1.24-2.71M59.38 178.8l.46-7.52 1.39-30.91 .47-7.28 .62-8.1 .3-1.78 .47-4.11 .15-1.05 .16-.49 .15 .12 .31 1.02 1.08 1.66 .31 1.14 .31 1.64 .16 .26 .15 .12 .15-.11 .47-2.01 .15-.28 .31-.25 .16-.36 .46-2.22 .15-.47 .16 .02 .15 .6 .16 1.11 .46 4.02 .16 .85 .46 1.2 .15 .64 .31 2.2 .16 .68 1.08-6.22 .15-.55 .16-.21 .15 .03 .16 .18 .31 .73 .77 3.27 .31 .71 .15 .02 .16-.26 .46-1.93 .16-.35 .15 .26 .15 .88 .31 2.82 .62 7.98 .16 1.27 .15 .91 .62 1.45 .15-.66 .16-1.22 .46-5.15 .16-1.06 .15-.44 .16-.02 .46 .36 .15 .23 .47 1.28 .31 1.41 1.08 14.27 .62 4.83 .15 .8 .16-.01 .15-.53 .62-3.12 1.08-9.81 .15-.74 .47-1.11 .31-1.27 .61-4.41 .16-.7 .15-.25 .16 .25 .46 1.91 .16 .19 .15 .03 .16 .29 .15 2.38M87.35 140.43l.15-.94 .16-.33 .15 .13 .47 1.62 .15-.05 .77-2.05 .31-1.22 .16-.32 .15 .26 .47 2.48 .15 .49 .16 .11 .15-.24 .46-1.36 .16 .04 .15 .46 .47 2.85 .3 1.33 .16 .13 .46-.51 .16 .2 .31 1.29 .46 1.49 .77 3.72 .16 .39 .62 1.04 .15 .04 .15-.11 .47-.62 .15 .01 .31 .55 .16 .16 .15-.08 .46-.96 .16-.11 .15 .06 .47 .42 .46 .56 .16 .05 .15-.08 .77-1.03 .62-1.61 .16-.14 .15 .03 .62 .37 .77 1.15 .31 .68 .62 1.9 1.08 1.8 .15 .11 .31 .06 .16 .17 .62 1.42 .15 .08 .46 .01 .16 .19 .31 1.05 .62 3.99 .77 4.07 .93 5.96 .92 4.94 .78 5.07 .77 3.87M121.66 174.51l.15-.1 .16 .03M123.2 171.94l.31-.17 .31 .08 .62 .67 .77 .67 .46 .2 .47-.18 .62-.09 .15-.14 .46-.68 .16-.14 .15-.03 .47 .06 .61-.12 .31 .06 1.55 .93 .31-.04 .62-.51 .31 0 1.39 1.29 .46 .22 .46-.06 .62 .52M150.55 191.13l.78-.2M154.57 188.78l.31-.09M155.96 188l.47-.18 .61-.06 .78-.47M159.36 185.94l.31-.19 .46 .04M160.91 186.21l1.08 .14 .46-.16 .16 .01M165.23 188.54l.47-.31 .46-.12M202.01 201.94l1.55-.35 1.54-.46 2.01-.17 1.24-.28 .46-.05 .93 .11 .93-.02 1.08 .16 2.01 .04M214.53 200.95l.62 .01 .93-.07M219.01 201.11l.93 .06M228.28 201.53l.78 .03" stroke="#0072BD" stroke-width="0.50"/>
<path d="M38.67 198.38l1.08-.32M50.73 195.36l.61-.12M52.58 194.31l.46-.01M56.75 193.26l.47 .01M59.07 188.59l.77-6.85 1.39-16.85 .47-4.13 .62-4.68 .3-1.22 .47-2.65 .15-.64 .16-.25 .15 .13 .47 1.01 .92 1.15 .31 .75 .31 1.05 .31 .3 .15-.04 .47-1.24 .46-.57 .16-.32 .46-1.53 .15-.25 .16 .09 .15 .47 .62 3.29 .16 .43 .15 .18 .31 .2 .15 .28 .47 1.62 .62-2.05 .3-.65 .16-.51 .15-.24 .16-.04 .31 .27 .31 .54 .61 1.4 .16 .24 .15 .11 .16-.02 .15-.17 .16-.33 .46-1.51 .16-.28 .15 .1 .15 .49 .31 1.66 .62 4.57 .31 1.06 .62 .65 .15-.37 .16-.69 .62-3.77 .15-.33 .16-.07 .3 .15 .16-.05 .15 .06 .16 .14 .31 .49 .31 .83 1.08 7.66 .62 2.41 .15 .37 .16-.15 .15-.49 .62-2.47 .46-2.88 .46-3.94 .31-2.06 .78-3.02 .61-3.44 .16-.49 .15-.11 .16 .29 .46 2.07 .47 .9 .15 1.79 .62 22.56 .15 3.16 .16-2.44 .62-20.29 .15-2 .15-.68 .16-.21 .15 .15 .47 1.41 .15 .03 .62-1.17 .62-1.99 .15 .08 .47 1.8 .15 .42 .16 .14 .15-.17 .46-1.22 .16-.11 .15 .23 .16 .54 .61 2.78 .16 .26 .46 .05 .16 .23 .31 .97 .61 1.5 .62 2.31 .16 .31 .46 .49 .16 .13 .15-.09 .62-.89 .15 .01 .47 .75 .15 .02 .46-.61 .16-.12 .15 0 .47 .17 .31 .21 .15 .04 .16-.06 1.23-1.87 .31-.29 .16 .05 .46 .54 .46 .31 .78 .69 .77 1.6 1.08 1.31 .46 .16 .16 .15 .62 1.18 .15 .06 .46-.03 .16 .12 .31 .75 .77 3.68 1.08 4.46 1.55 5.63M113.31 197.4l.46 .32M115.47 197.1l.31-.28M123.82 173.79l1.08 .94 .31 .36 .46 .29 .16-.01 .93-.58 .61-.88 .16-.12 .15 0 .62 .27 1.39 .22 1.08 0 .47-.12 .31 .01 .31 .2 .92 .99M134.02 175.9l.15-.13 .62 .07 .16 .12 .46 .79 .62 1.66 .92 1.93M150.24 191.67l.16-.14 .46-.24M151.79 190.62l.46-.28 .62-.12 .47-.23 .61-.66 .31-.16M155.19 188.48l.77-.72M157.35 187.31l.31-.12M158.59 186.82l.93-.56 .31-.06 .3 .05 .62 .33 1.08 .35 .16 .01 .62-.22 .31 .26 .46 .57 .62 .49 .46 .65M165.7 188.52l.46 .02 .31-.12M167.24 188.05l.47 .58M201.39 202.41l.62-.22 1.39-.25 .62-.18M204.95 201.52l2.16-.17 1.24-.3 .46-.04 .93 .16 1.08-.02 1.08 .13M213.6 201.28l.62-.04M215.15 201.27l1.39 .01M217.31 201.38l2.01-.03 .93 .12 1.7-.02 2.16 .1M227.2 201.8l.77 0M231.22 202l.93-.01 2.93 .33 2.48 .13 .77 .16M240.03 202.99l1.08 .13M306.01 203.8l.31-.01" stroke="#D95319" stroke-width="0.50"/>
<path d="M32.8 199.79l.46-.14 .31-.03M36.2 199.24l.62-.25M40.53 197.74l.77 .04M43.62 197.02l.77-.05M45.32 196.74l.46-.2 .31-.04 .31 .04M49.18 195.65l.31-.05M50.88 195.44l.46-.13M60.31 170.29l.92-13.92 .62-6.76 .47-4.32 .3-1.7 .47-3.76 .15-.94 .16-.43 .15 .12 .93 3 .62 1.26 .46 1.38 .16 .06 .15-.03 .15-.17 .47-1.54 .15-.16 .31-.07 .16-.22 .46-1.48 .15-.25 .16 .14 .15 .57 .62 3.82 .16 .43 .15 .11 .16-.05 .15 .05 .15 .26 .47 2.03 .46-1.65 .46-1.33 .16-.72 .15-.44 .16-.24 .15-.09 .16 .02 .31 .33 .77 2 .15 .26 .16 .12 .15-.02 .16-.21 .46-1.2 .16-.15 .15 .29 .31 1.75 .31 2.34 .46 4.38 .16 .82 .15 .57 .31 .41 .31 .56 .15-.42 .16-.83 .62-4.53 .15-.41 .16-.12 .3 .05 .16-.08 .15 .05 .16 .15 .31 .6 .31 1.09 1.08 10.4 .62 3.15 .15 .47 .16-.15 .15-.56 .62-3 1.08-8.46 .15-.71 .47-1.24 .31-1.14 .61-3.68 .16-.57 .15-.2 .16 .22 .46 1.71 .16 .17 .15 .05 .16 .23 .15 1.94M87.2 154.08l.15-2.21 .15-.8 .16-.34 .15 0 .47 1.07 .15-.07 .77-1.45 .31-.97 .16-.27 .15 .21 .47 2.07 .15 .41 .16 .08 .15-.25 .46-1.54 .16-.15 .15 .25 .16 .62 .61 3.21 .16 .32 .15 .08 .31 .01 .16 .26 .31 1.1 .61 1.53 .62 2.47 .78 1.63 .15 .06 .15-.1 .47-.63 .15-.02 .47 .53 .15-.08 .46-.9 .16-.16 .15-.01 .47 .23 .46 .49 .16 .07 .15-.03 .77-.43 .62-1.03 .93-.35 .15 .05 .78 .91 .61 1.53 .62 .77 .62 1.07 .15 .1 .31-.02 .16 .06 .62 .91 .61 .19 .16 .19 .31 .82 .15 .67 1.08 5.32 .62 3.88 .62 3.34 .77 3.51 .78 4.1 .77 3.11M114.08 198.6l.31 .19M115.47 197.98l.78-.48 .31-.59M119.96 186.25l.31-.54M121.66 180.56l.15-.11 .31-.08 .15-.2 .78-2.19 .31-.1 .31 .06 .15 .11 .62 .61 .77 .32 .46-.04 .47-.24 .15-.02 .47 .12 .15-.02 .62-.32 .62-.01 .61-.45 .31-.13 .47 0 .62 .29 .46 .45 .31 .21 .31-.03 .46-.19 .31-.01 .31 .12 1.24 .82 .3 .02 .31-.12 .62 .28 .16 .14 .3 .51M150.55 192.87l.31-.18M151.94 191.88l1.24-.53M155.34 189.98l.47-.55 .46-.37 .31-.09 .46-.04 1.24-.36 1.08-.98 .31-.18 .46 .09 .62 .47 .47 .15M163.53 189.07l.31 .17M164.77 190.57l.16-.01 1.08-.53 .92-.6 .16-.05 .15 .03 .16 .18M207.89 202.09l.92-.12 .47 .03M223.96 202.36l1.08 .14 .77-.02" stroke="#EDB120" stroke-width="0.50"/>
<path d="M52.43 194.82l.3-.1 .47 .07M54.59 194.34l.46-.03M56.91 194.1l.46 .08 .62-.34 .62-.13M60 191.62l.46-1 .62-.85 .15-.38 .78-.79 .61-.39 .62-.74 .16 0 .46 .38 1.24 .58 .46 .44 .16 .04 .3 .01 .47-.27 .46-.01 .16-.06 .46-.46 .15-.11 .16-.02 .15 .08 .62 .74 .16 .06 .46-.1 .15 .02 .47 .44 .77-.5 .46-.4 .16-.01 .31 .13 .92 .76 .31 .09 .31-.13 .47-.47 .31-.13 .15 .11 .15 .24 .62 1.41 .16 .24 .15 .05 .62-.79 .62-.6 .62-.98 .15-.13 .46-.07 .62-.55 .16-.04 .15 .06 .31 .31 .77 1.33 .78 .56M81.32 187.93l.31-.75M82.71 183.09l.47-.96 .31-.82 .61-2.51 .31-.8 .16-.11 .46 .64M87.5 180.56l.16-.17 .15 .01 .47 .63 .15 .06 .62-.13 .15-.08 .47-.57 .15 .03 .47 .62 .15 .07 .16-.08 .61-1.12 .16-.1 .15 .1 .16 .27 .46 1.12 .15 .23 .16 .08 .46-.13 .16 .1 .92 1.57M94.77 184.55l.62 .33 .3-.1 .47-.3 .15 0 .47 .32 .15-.01 .62-.44 .46 .08 .31 .15M100.33 183.68l.93 .02 .31 .08 .62 .44 .77 1.05 1.08 .65 .62 .02M105.43 186.43l.46 .08 .31 .21M107.44 188.92l.31 .62 1.7 1.83 .31 .53M113.31 199.35l.31 .13M119.96 186.96l.31-.6M123.51 178.84l.31 .18 .46 .44 .47 .2M125.52 179.92l.15 .03 .47-.14 .62-.03 .77-.75 .31 .01 .46 .15 1.24-.12 .46 .13 .93 .68 .93-.09 .92 .44 .62 .2 .31 .04 .46-.15 .16 .09M136.18 183.01l.62 .91M153.95 191.23l.78-.3M159.21 188.48l.46-.51 .31-.12 .31 .06 .62 .26 1.08 .03 .46-.07 .31 .19 .62 .74 .62 .5M167.09 189.68l.15 0 .31 .33 1.24 2M170.33 194.4l.31 .4M209.89 202.22l1.55 .07M213.91 202.34l1.24 .03 1.08-.05 1.39 .13 5.25 .05M226.74 202.64l2.47 .07M230.29 202.75l.93 .09 .93 0M233.07 202.91l2.01 .14M236.01 203.06l1.55 .09 4.17 .52" stroke="#7E2F8E" stroke-width="0.50"/>
<path d="M39.29 197.6l.77-.23M48.1 195.23l.62-.16 .61-.03 .62-.31M52.58 193.3l.31-.08 .77 .03M61.23 170.55l.47-3.22 .46-2.61 .16-.61 .3-.7 .47-2.08 .15-.59 .16-.32 .15-.02 .31 .35 .46 .29 .47 .58 .31 .55 .46 1.44 .31 .33 .15-.01 .47-.95 .46-.36 .16-.25 .46-1.45 .15-.36 .16-.1 .15 .21 .16 .49 .46 1.91 .16 .39 .46 .52 .15 .33 .47 1.63 .77-2.02 .31-1.09 .31-.62 .15-.09 .16 .02 .31 .33 .77 1.82 .15 .21 .16 .08 .15-.06 .16-.22 .46-1 .16-.13 .15 .21 .15 .53 .93 5.21 .16 .38 .15 .19 .31-.1 .31 .05 .15-.35 .62-2.9 .16-.5 .15-.22 .16-.02 .3 .12 .31-.12 .31 .19 .47 .88 .77 4.52 .31 1.46 .62 1.57 .15 .23 .16-.2 .15-.48 .77-3.17 .93-6.4 .31-1.15 .31-.71 .31-.94 .61-3.17 .16-.53 .15-.25 .16 .11 .46 1.43 .31 .33M87.5 161.95l.16-.26 .15 .05 .47 1.13 .15 .03 .77-1.08 .47-1.15 .15 .08 .47 1.36 .15 .29 .16 .06 .15-.17 .46-1.05 .16-.04 .31 1.12M92.45 165.49l.15 0 .31-.16 .16 .14 .77 1.82 .77 2.44 .78 1.02 .15 .02 .15-.08 .47-.44 .15 0 .47 .48 .15-.06 .46-.69 .16-.1 .62 .2 .31 .22 .31 .12 .3-.14 .62-.46M100.49 168.59l.61-.08 .16 .02 .15 .09 .78 1.12 .61 1.41 .16 .21 .46 .37 .62 .71 .62 .17 .46 .56 .16 .1 .61-.16 .16 .1M110.99 190.27l.47 1.58M113.47 198.12l.3 .14M119.65 185.21l.46-.93M121.66 178.39l.15-.1 .16 .01M122.89 176.26l.16-.48 .31-.22 .31-.02 .15 .09 .62 .63 .77 .49 .46 .12 .47-.14 .62 .08 .15-.08 .62-.69M128.3 175.94l.46 .07 .93 .66 1.08 .37 .78 0 .92 .5 .31 .1 .78 .1 .61-.01 .47 .54M136.18 181.11l.62 1M150.55 192.22l.62-.22M156.43 188.75l.77-.21M158.59 187.79l.77-.7 .31-.2M161.37 187.5l.62 .04 .46-.14 .16 .03 .77 .91 .46 .35M165.54 189.67l.62-.23 .93-.63 .15 0 .16 .15 .31 .48M206.34 201.87l.77-.01M209.89 201.66l.78-.01 2.01 .11M214.22 201.79l1.39-.04M218.08 201.83l1.24 .01 .93 .09 2.16-.04 3.25 .19M226.58 202.15l.31 .03M227.97 202.2l2.01 .09M231.68 202.38l1.55 .17 2.01 .11" stroke="#77AC30" stroke-width="0.50"/>
<path d="M35.12 199.66l.46-.06M37.28 198.99l1.08-.28M41.92 197.75l.77-.09 .46-.31M46.24 196.67l.62 .15 .31-.11 .31-.29M53.35 194.35l.47-.02M54.74 193.98l.47 .13 .62-.52M61.39 148.64l.77-9.13 .16-1.24 .3-1.52 .62-4.95 .16-.55 .15 .02 .31 .9 1.08 2.51 .31 1.17 .31 1.61 .31 .67 .15 .11 .47-1.14 .46-.55 .16-.49 .46-2.58 .15-.57 .16-.09 .15 .46 .16 .91 .46 3.35 .16 .66 .46 .95M70.66 139.71l.46-2.14 .16-.33 .15-.13 .16 0 .31 .37 .77 2.33 .15 .27 .16 .1 .15-.1 .16-.33 .46-1.71 .16-.24 .15 .26 .46 3.16 .62 6.3 .16 .95 .15 .68 .62 1.17 .15-.49 .16-.97 .46-4.28 .16-.97 .15-.48 .16-.15 .3 .05 .16-.06 .15 .07 .31 .45 .31 .77 .16 .67 1.08 11.84 .62 3.86 .15 .59 .16-.11 .15-.57 .62-3.13 1.08-8.25 .15-.62 .47-1.19 .15-.64M84.1 141.32l.16-.74 .15-.3 .16 .21 .46 2 .31 .51 .16 .41M88.28 148.43l.15-.03 .62-1.3 .62-2.11 .15 .1 .47 2.04 .15 .47 .16 .14 .15-.18 .46-1.39 .16-.15 .15 .2 .16 .55 .46 2.27 .15 .51 .16 .24 .31 .04 .15 .12 .16 .4 .31 1.47 .61 2.09 .31 1.44 .31 1.07 .16 .28 .62 .78 .15 0 .15-.13 .47-.6 .15 .03 .47 .88 .15 .04 .62-.74 .62-.03 .46 .26 .16 .04 .15-.06 .77-.53 .62-1.09 .16-.08 .15 .05 .62 .41 .15 .22 .78 1.45 .46 1.32 .31 .67 .46 .47 .62 .8 .15 .05 .31-.03 .16 .1 .62 1.06 .15 .02 .46-.24 .16 .06 .15 .23 .16 .45M115.47 196.21l.62-.6M118.57 186.5l.92-4.38 .78-2.05 .15-.61 .31-1.45 .46-2.77 .31-1.31 .16-.3 .15-.06 .31 .08 .15-.16 .78-2.31 .15 .03 .16-.1 .31 .03 .77 .6 .46 .23 .31 .23 .31 .07 .31-.03 .46-.27 .47-.04 .15-.1 .46-.58 .16-.1 .15 0 .47 .18 .61 .05 .47 .17 .77 .43 .77 .58 .31-.03 .62-.47 .31-.05 .31 .12 .93 .65 .31 .06 .3-.06M135.25 174.4l.78 2.02 .77 1.71 .31 1.01 .31 1.33M147.93 195.18l.61-1 1.7-3.24 .31-.22 .78-.29 .77-.66 .77-.38 .47-.32 .61-.59 .62-.09 .31-.16M157.51 186.39l.31-.16 .31-.05M159.21 185.51l.46-.34 .31-.05 1.08 .29M164.93 188.42l.92-.5M166.63 187.27l.46-.28 .15 .03 1.08 1.75M206.34 200.83l.93-.11 .62-.18M210.51 200.58l.77 .06M212.52 200.66l2.32 .1 1.24-.12 .46 .02 1.08 .2 1.24-.03M220.71 200.9l1.24 .02 1.23 .14 .93 0 .77 .12 .62 0M226.43 201.22l1.7 .09 2.94 .29 .92-.04 1.39 .22 4.18 .35 2.31 .54M240.8 202.84l1.24 .23 .92 .28" stroke="#4DBEEE" stroke-width="0.50"/>
<path d="M34.65 199.97l.47-.13M40.99 198.16l.46 .02M48.41 196.25l.92-.14 .78-.34 .31 .04M51.96 195.26l.62-.38 1.08 .06 .31-.06M54.74 194.37l.47 .01 .46-.37M58.14 190.98l.31-.57M61.39 145.48l.77-10.11 .16-1.47 .3-1.95 .47-4.53 .15-1.17 .16-.57 .15 .04 .31 .95 1.08 1.67 .31 1.21 .31 1.77 .31 .74 .15 .13 .47-1.1 .46-.11 .16-.31 .46-2.09 .15-.48 .16-.05 .15 .44 .62 3.71 .16 .43 .15 .09 .16-.04 .15 .1 .15 .38 .47 2.67 .46-1.74 .46-1.15 .16-.69 .15-.34 .16-.1 .15 .07 .31 .47 .77 2.25 .16 .32 .15 .13 .16-.03 .15-.21 .62-2.27 .16-.23 .15 .32 .31 2.13 .77 8.04 .16 .99 .15 .71 .31 .57 .31 .88 .15-.4 .16-.88 .46-4.01 .16-.86 .15-.38 .16-.09 .15 .02 .15-.07 .16-.2 .15-.07 .16 .05 .15 .15 .16 .31 .15 .42 .16 .76 .31 3.43M79.78 153.9l.62 4.01 .15 .65 .16-.07 .15-.51 .62-2.6 .15-.99M84.26 137.75l.15-.23 .16 .25 .46 1.92 .16 .19 .15 .03 .16 .22M87.5 144.18l.16-.38 .15 .05 .47 1.51 .15 .06 .62-.85 .15-.31 .47-1.46 .15 .16 .47 2.03 .15 .41 .16 .08 .15-.22 .31-.87 .15-.26M92.14 148.17l.15 .38 .16 .01 .46-.78 .16 .18 .77 3.33M94.77 155.53l.31 .24M95.85 155.68l.15-.19 .16-.07 .15 .16M97.24 156.56l.31-.5 .62-.5 .62-.04 .46-.42 .46-.29 .62-.84 .16-.02 .77 .48 .93 1.51 .61 1.36 .16 .16 .46 .28 .62 .68 .46-.06 .16 .13 .62 1.51 .61 .56 .31 .75 .47 2.5M108.37 172.67l.77 3.47M113.16 195.72l.15 .32 .46 .47M121.5 172.84l.16-.31 .15-.05 .31 .17 .15-.09 .16-.29 .62-1.85 .15 0 .16-.14 .31-.03 .15 .1 .46 .56 .31 .22 .62 .22 .31-.02M126.45 170.86l.31-.04 .61-.5 .16 0 .46 .41 .31 .16 .77-.17 .31 .01M130.16 171.28l.46 .45 .15 .06 .31-.14 .47-.46 .31-.09 .3 .13 .93 .59 .62 .47 .46 .03 .78 .77 .46 .84 1.08 2.64M150.09 190.82l.31-.4 .93-.34 .77-.66 1.24-.62 .61-.56 .62-.13M155.65 187.31l.31-.25 .31-.14 .77 .05 1.09-.48 .3-.22 .47-.51M159.67 184.89l.16-.07 .3 0 .78 .47 .92 .33 .16 .03 .62-.06 .77 .83 .31 .25M164.77 188.39l.16-.03 .61-.42 .47-.13M201.39 201.92l.78-.22M203.4 201.37l.31-.14M205.72 200.73l1.39-.09 1.24-.27 .62-.07 .77 .08 1.39 0M212.68 200.51l.3 .05M216.08 200.46l.46 0 .46 .09M219.01 200.63l.31 .01M221.64 200.79l.93 0M227.97 201.21l1.4 .09" stroke="#A2142F" stroke-width="0.50"/>
<path d="M45.47 196.24l.62-.21 .31 .03 .46 .2 .31-.06M48.1 195.56l.77-.24M52.12 194.14l.46-.22 .77-.01M55.05 193.43l.31-.01M56.75 192.44l.47-.11 .31-.29 1.08-2.34M59.38 180.59l.46-6.81 1.39-27.83 .47-6.69 .62-7.98 .3-2.15 .47-4.5 .15-1.09 .16-.42 .15 .24 .47 2.12 .46 1.41 .15 .29 .31 .27 .16 .26 .46 1.68 .31 .23 .15-.12 .47-1.8 .46-.66 .16-.49 .46-2.63 .15-.56 .16-.03 .15 .57 .62 4.75 .16 .63 .15 .24 .16 .06 .15 .22 .15 .52 .47 3.39 .77-1.93 .46-2.05 .16-.36 .15-.19 .16-.03 .15 .1 .16 .24 .77 2.43 .15 .25 .16 .06 .15-.17 .16-.42 .46-2.09 .16-.35 .15 .25 .15 .84 .31 2.61 .62 7.18 .16 1.14 .15 .83 .62 1.67 .15-.47 .16-1.01 .46-4.49 .16-.99 .15-.48 .16-.17 .15-.05 .31-.39 .15-.11 .16 0 .15 .11 .16 .26 .15 .38 .16 .84 .31 3.61 .77 11.15 .46 3.97 .31 1.98 .16 .01 .15-.5 .62-2.95 1.08-9.18 .15-.78 .47-1.44 .31-1.52 .61-5.04 .16-.83 .15-.33 .16 .23 .46 2.28 .47 1.18M87.35 143.19l.15-1.04 .16-.43 .15 .06 .47 1.78 .15 .13 .62-.93 .62-2.01 .15 .18 .47 2.39 .15 .56 .16 .21 .15-.13 .46-1.26 .16-.1 .15 .26 .62 2.86 .15 .44 .16 .14 .31-.17 .15 .05 .16 .39 .31 1.55 .61 2.24 .62 2.78 .16 .38 .62 .97 .15 0 .62-.59 .15 .11 .31 .72 .16 .21 .15-.07 .46-1.04 .16-.2 .15-.04 .47 .2 .31 .34 .31 .16 .15-.09 .77-.83 .62-1.18 .16-.09 .46 .15 .31 .03 .15 .11 .78 .93 .61 1.6 .62 .86 .62 1.03 .15 .08 .31-.01 .16 .12 .62 1.34 .61 .44 .31 .74 .16 .66 .62 3.68 .61 2.82 1.39 8.13 .62 3.21 .78 4.69M113.31 196.48l.46 .47M114.55 197.42l.92-.92 .47-.29M116.87 194.19l.46-1.48M120.11 181.79l.31-.76 .31-1.2 .46-2.49 .31-1.23 .16-.28 .15-.05 .31 .1 .15-.14 .16-.33 .62-1.94 .15-.02 .16-.12 .31 .02 .77 .73 .77 .52 .15 .02 .31-.02 .16-.1 .31-.35 .62-.44 .61-.87 .16-.09 .15 .03 .47 .3 .61 .08 .47 .16 .93 .48 .61 .43 .31-.05 .62-.38 .31 .03 .46 .23M133.56 174.83l.3 .11 .31-.07 .62 .36 .16 .15 .46 .8 .31 .69M150.4 191.38l.93-.32 .61-.39 .93-.46 .47-.42M154.11 188.96l.46-.02 .31-.12M156.12 187.82l.31-.08 .61 .11 .31-.06M158.28 187.48l.46-.41 .78-.94 .15-.14 .31-.13 .31 .08 .46 .33 .47 .21 .46 .11 .31 .01M163.23 186.93l.77 .73M164.77 189.02l.16-.02 .61-.36 .62-.2 .62-.56M169.41 191.42l.61 1.05M200 202.9l.31-.11M201.24 202.4l.77-.29 1.55-.31 1.39-.37 2.16-.25 1.24-.3 .62-.06 .77 .15 2.78 .09 .93 .1 1.54 .05 1.09-.12 1.54 .2 .93-.05 1.39 .1 .62-.03M222.26 201.29l.92 .11 1.24 .03M229.67 201.75l.93 .04M232.3 201.89l.77 .13 2.01 .19 1.24 .03" stroke="#0072BD" stroke-width="0.50"/>
<path d="M33.57 199.68l.62 .01 1.24-.23M37.13 198.88l.46-.23 .77-.22 .93-.38 .62-.08 .62-.18 .92 .03 .62-.25 .62-.03 .77-.42 1.24-.11 .31-.13 .46-.34M46.4 196.47l.46 .23 .31-.08 .62-.6 .62-.31M49.8 195.41l.46-.09 .47 .12 .61-.28 .31-.31M52.73 194.02l1.09 .1 .31-.1 .46-.28 1.08 .05 .77-.28 .47 .05M61.85 185.09l.31-.49 .46-.39 .47-.71 .15-.14 .16 .01 .15 .13M64.48 184.38l.62 .35 .46 .46 .46 .04 .47-.44 .46-.16 .16-.14 .46-.74 .15-.18 .16-.05 .15 .09 .16 .22 .46 .83 .16 .16 .61 .21 .47 .6 .77-.87 .31-.51 .31-.28 .31-.01 .31 .16 .61 .66 .31 .21 .31-.03 .47-.46 .15-.11 .16-.02 .15 .13 .15 .3 .62 1.7 .16 .34 .15 .15 .31-.22 .31-.35 .46-.28 .31-.43 .47-.88 .15-.13 .46-.04 .62-.63 .16-.07 .31 .16 .15 .21 .77 1.76 .16 .22 .62 .59 .15 .03M87.66 176.59l.15 .04 .47 .68 .15-.02 .62-.62 .62-.9 .15 .07 .47 .99 .15 .21 .16 .06 .15-.1 .46-.62 .16-.02 .15 .17 .16 .33 .46 1.2 .15 .22 .16 .06 .46-.18 .16 .12 .31 .59 .61 .96 .31 .7 .31 .52 .78 .64 .15 .05 .31-.02M97.24 181.66l.31-.25 .15-.03 .47 0 .62 .12 1.08-.61M101.41 180.66l.78 .29 .77 .94 1.08 .88 .62 .06 .62 .46 .61-.01 .31 .3M108.06 188.06l1.39 1.57M110.38 191.81l.77 1.48 .31 .74M114.24 199.17l.15 .05 .31-.2M119.65 185.59l.62-1.08M121.35 179.88l.31-.81 .15-.09 .31 0 .15-.16 .78-2.28 .31-.18 .31 .03 .77 .81 .77 .41 .46 .13 .47-.17 .62-.11 .61-.64 .31-.12 .47 .07 .46-.06 .31 .05 2.01 .86 .62-.21M132.47 177.72l.31 .18 .78 .28 .3 0 .31-.1 .78 .64M152.41 191.14l.77-.21M154.42 190.25l.62-.27 .61-.55M157.2 188.69l.46-.3 .77-.32M160.6 187.03l.62 .2 .77 .49 .62 .16M164.77 190.1l.77-.36 .31-.03M167.09 189.14l.15-.01 .31 .32 1.7 2.57M201.24 202.81l.77-.22 1.39-.19 1.7-.37 2.17-.14M208.04 201.74l.93-.13 2.78 .23 3.4 .04M216.38 201.82l1.09 .11M219.48 201.95l1.39 .08M222.41 202l1.24 .05M226.58 202.23l1.24 .02M229.98 202.34l.31-.01M235.24 202.72l2.32 .1" stroke="#D95319" stroke-width="0.50"/>
<path d="M33.42 199.98l.93-.04 2.16-.5 .93-.41 .92-.2 .93-.47M40.06 198.13l.62-.16M41.45 198.11l.47-.1M43.93 197.44l.31-.06M45.32 197.07l.46-.19M48.1 196.3l.46-.21M50.57 195.81l.16 .08 .61-.12 .93-.9 .46-.26 1.09-.04 .77-.4 .15-.01 .78 .17 .46-.07M60 188.05l1.23-6.04 .47-1.5 .46-1.19 .16-.28 .3-.32 .62-1.3 .16-.06 .62 .71 1.08 .99 .46 .63 .16 .03 .3-.14 .47-.79 .62-.37 .46-.72 .15-.13 .16 .03 .15 .23 .47 1.35 .31 .67 .15 .15 .31 .03 .15 .11 .47 .82 .77-.95 .46-1.1 .31-.31 .16-.02 .31 .22 .61 1.04 .31 .33 .16 .04 .15-.05 .62-.68 .16-.03 .15 .17 .15 .36 .62 2.05 .31 .72 .31-.07 .31-.32 .31-.11 .15-.19 .78-1.85 .15-.14 .46 .01 .47-.44 .31-.12 .31 .26 .15 .32 .62 1.97 .31 .77 .62 .87 .15 .09 .16-.21 .15-.42 .77-2.73 .93-4.78 .93-2.72 .61-2.65 .16-.45 .15-.23 .16 .04 .46 1.16 .47 .41M87.35 173.56l.15-.43 .16-.17 .15 .05 .47 .77 .15 .02 .77-.51 .47-.64 .15 .11 .47 1.13 .15 .22 .16 .03 .15-.13 .46-.84 .16-.07 .15 .13 .16 .32 .46 1.26 .15 .23 .16 .07 .46-.21 .16 .12 .46 .91 .46 .64 .62 1.3 .78 .83 .15 .02 .15-.07 .47-.42 .15-.03 .47 .32 .15-.03 .46-.37 .16-.02 .93 .54 .31 .01 1.39-1.46 .15-.11 .16-.01 .92 .42 .78 .61 .61 .96 .62 .66 .62 .81 .15 .1 .47 .08 .62 .44 .46-.06 .15 .02 .16 .11M108.06 186.36l.31 .47M110.07 189.9l.31 .87 .92 2.19M113.47 198.6l.77 .39 .15 .03 .16-.08 1.7-1.91 1.54-4.52 1.7-7.15 .31-.8 .47-.86 .15-.49M121.35 178.94l.15-.5 .16-.26 .15-.06 .31 .1 .15-.1 .78-1.89 .15 .02 .16-.07 .31 .05 .77 .54 .46 .11 .77 .42 .16 .02 .93-.24 .61-.56 .16-.07 .62 .11 .61-.23 .47-.05 .77 .2 .77 .3 .16-.04 .46-.31 .31-.07 .31 .2 .62 .69 .31 .21 .62 .16 .3-.07 .31-.17 .47 .26M136.49 180.94l.31 .48 .31 .68 .46 1.52M151.02 191.99l.31-.15M152.1 191.22l1.24-.41 .61-.54 .78-.34M156.43 188.44l.61-.11 .62-.29 .77-.06 .47-.27 .77-.75 .31-.11 .31 .08M161.06 187.33l.77 .04 .62-.19 .16 .02M163.38 188.15l.62 .6 .62 .96 .15 .13 .77-.54 .62-.2 .93-.6 .15-.02M201.55 202.66l1.54-.32M206.03 201.84l1.24-.07 1.7-.27 4.79 .24 2.32-.05 1.39 .11 1.08-.05 1.54 .11 2.32-.03 4.02 .26 1.24-.02M230.45 202.21l.77 .09M236.78 202.68l1.08 .1" stroke="#EDB120" stroke-width="0.50"/>
<path d="M35.43 198.76l.92-.21M45.63 195.76l.46-.12 .77 .3 .16-.06M55.05 192.98l.16 .01 .62 .25 .46-.03M57.06 193.57l.31 .16M59.07 192.47l.77-.89 .62-.85 .62-.51 .15-.33 .78-.58 .61-.17 .47-.4 .15-.05 .16 .07 .46 .54 .31 .22 .46 .24 .31 .05M66.02 190.29l.47-.25 .46-.06 .16-.09 .46-.54 .31-.18 .31 .21 .46 .57 .16 .09 .61 .07 .47 .49 .77-.28 .31-.26 .31-.15 .62 .05 .77 .43 .31 .08 .15-.02 .47-.23 .31-.03 .3 .34 .62 1.26 .16 .19 .15-.01 .77-1.11 .62-.55 .47-.54 .15-.07 .46 0 .62-.56 .16-.06 .15 .06 .31 .28 .77 1.2 .62 .3 .16 .05 .15-.06 .16-.27 .61-1.81 .47-1.1 .46-1.92 .46-1.41 .78-1.89 .77-2.81 .15-.28 .16-.07 .46 .83 .47 .3M87.5 181.71l.16-.1 .15 .07 .47 .69 .15 .04 .62-.41 .62-.79 .15 .05 .47 .8 .15 .17 .16 .03 .15-.11 .46-.66 .16-.07 .15 .08 .16 .23 .46 .97 .15 .19 .16 .07 .46-.11M94.77 185.35l.62 .29 .15 .01 .62-.19 .15 .05 .47 .37 .15 0 .62-.37 .93 .35 .31 .01 .3-.22 1.09-1.11 .15-.08 .16 0 1.23 .76 .47 .19 .3 .24M103.27 186.13l.77 .28 .46-.03 .16 .06 .31 .31M106.98 189.23l.77 1.31 .77 .74 1.08 1.31 .78 1.55 .77 1.16 .31 .6M113.47 199.73l.92 .28 .31-.18 1.08-.89M119.8 188.01l.47-.77 .15-.41M121.5 182.81l.16-.28 .15-.13 .31-.07M123.2 180.23l.16-.1 .31-.06 .61 .19 .62 0 .93 .51 .62-.02M127.22 180.24l.31-.27M128.46 180.03l1.7-.13M130.93 180.25l.93 .15 .77 .48 .31 .1 .62 .01 .61-.26 .47 .29M135.72 182.79l.46 1 .93 1.38 .77 2.08 .77 2.34M151.79 192.4l.46-.28 .62-.07 .31-.11M154.42 191.19l.62-.41M156.27 189.96l.77 .01 .93-.48M161.06 188.63l.93 .32 .46 .06 .16 .07 .77 .92 .62 .39 .77 1.04 1.08-.35M168.17 191.75l.46 .68M206.65 202.62l1.54-.17M210.36 202.43l2.47 .09M217.16 202.57l.31 .03M219.78 202.63l2.17-.02 .92 .05M224.11 202.69l3.09 .16M228.13 202.84l4.02 .15M232.92 203.06l.77 .04M236.94 203.25l.46 .01" stroke="#7E2F8E" stroke-width="0.50"/>
<path d="M37.28 198.14l.93-.16M43.31 196.56l.31-.11 .62-.09M45.47 195.94l.31-.16 .46-.03M50.73 194.87l.61-.21 .47-.48M53.35 193.47l.47-.09M59.84 190.35l.78-2.25 .46-1.11 .15-.59 .31-.59 .47-.7 .31-.28 .3-.18 .47-.81 .15-.2 .16-.07 .15 .07 .62 .52 1.24 1.53 .15 .18 .16 .04 .3-.07 .47-.54 .62-.24 .46-.63 .15-.16 .16-.05 .15 .09 .16 .2 .46 .78 .16 .13 .46 .05 .15 .08 .47 .67 .46-.24 .31-.07 .46-.46 .31-.12 .47 .1 .61 .57 .31 .17 .31-.05 .47-.4 .15-.08 .16 .01 .3 .46 .62 1.57 .16 .26 .15 .07 .62-.86 .62-.63 .62-1.11 .15-.14 .46-.08 .62-.69 .16-.08 .31 .14 .15 .18 .77 1.65 .16 .22 .62 .55 .15 0 .31-.7 .93-2.95 .77-3.56 .93-2.55 .77-3.41 .15-.34 .16-.09 .46 .95 .47 .52M87.35 177.36l.15-.46 .16-.19 .15 .01 .47 .74 .15 .04 .62-.46 .62-.97 .15 .04 .47 .91 .15 .19 .16 .04 .15-.12 .46-.61 .16 0 .15 .2 .62 1.74 .15 .28 .16 .11 .46-.15 .16 .08 .77 1.17 .77 1.62 .16 .16 .62 .36 .15-.03 .62-.43 .15 .02 .47 .42 .15 0 .46-.41 .16-.07 .31 .07 .62 .39 .31 .09 .3-.2 1.09-1.31 .15-.12 .16-.02 .92 .24 .62 .42 .31 .32 .62 .89 1.08 .84 .62-.02 .62 .48 .61 .01 .16 .06 .31 .39 .77 2.02 .93 2.16 .92 1.93 .62 1.03 .47 1.17M112.08 197.39l.3 .75M113.47 200.05l.77 .37 .15 .05 .16-.04 1.54-1.12 .31-.44 1.39-3 1.7-5.28 .31-.65 .47-.73 .15-.39 .31-.96 .77-3.17 .31-.57 .31-.12 .15-.16 .78-1.88 .15-.06 .16-.01 .31 .17 .77 .68 .77 .13 .93-.06 .62 .15 .15-.05 .62-.52 .62-.03 .61-.21 .62-.06 .62 .16 .62 .38 .31 .11 .77-.23 .31 .05 1.55 .86 .3 .07 .31-.05 .78 .3 .61 .75 .47 .83 .77 .83 .31 .52 1.54 4.29 .47 1.57M142.83 202.66l1.08 .2M144.99 201.91l1.39-1.67 .93-1.8 .77-1.22M149.94 194.56l.3-.42 .16-.11 .77-.34 .77-.59 1.09-.39 .92-.72 .62-.04 .47-.18 1.23-1.04 .77-.26 .62-.41 .77-.32 1.09-.85 .15-.07 .31 .01 .93 .58 1.7 .04 .77 .82 .62 .48 .77 1.22 .16-.01 1.7-1.03 .46-.1 .15 .06 3.09 4.57 .62 .77 1.24 2.05M197.22 204.29l4.79-.84 2.94-.35 2.16-.07 1.86-.2 4.17 .17 1.85 0 1.24-.07 1.39 .1 4.79 .01 2.63 .13 6.95 .16 5.72 .26 4.33 .41 2.62 .35M296.43 204.27l14.68 0 8.5 .07" stroke="#77AC30" stroke-width="0.50"/>
<path d="M34.96 199.32l1.55-.4 .93-.43 .92-.25 .93-.38 1.08-.29 .31-.04 .62 .13 .77-.19 .47 .01 .3-.1 .62-.39 .78-.15M45.47 196.45l.62-.11 .77 .2M47.94 195.75l.62-.14 .77-.05M50.11 195.1l.15-.03 .47 .08 .46-.16M52.12 194.24l.46-.27 .77 0 .47-.08 .77-.49 .62 .13 .31-.06 .31-.18 .61-.57 .16-.1 .31-.06M60.62 162.91l.61-10.02 .93-10.83 .16-1.32 .3-1.53 .47-3.28 .15-.81 .16-.35 .15 .1 .31 .83 .46 .56 .62 1.06 .16 .44 .46 2 .16 .19 .15 .03 .15-.18 .47-1.91 .15-.28 .31-.26 .16-.28 .46-1.6 .15-.25 .16 .16 .15 .61 .62 3.85 .16 .36 .15 0 .16-.15 .15-.04 .15 .21 .47 2.17 .46-1.6 .16-.41 .3-.51 .16-.54 .15-.2 .16 .03 .31 .48 .92 2.64 .16 .34 .15 .16 .16 .03 .15-.12 .16-.31 .46-1.52 .16-.26 .15 .17 .15 .62 .31 1.98 .62 5.78 .16 .89 .15 .63 .62 .96 .15-.48 .16-.91 .46-3.8 .16-.76 .15-.28 .16 .04 .3 .35 .16 .04 .15 .15 .31 .39 .31 .73 .16 .66 1.08 10.84 .62 3.52 .15 .54 .16-.12 .15-.53 .62-2.78 .46-3.36 .62-5.61 .15-.86 .47-1.59 .31-1.36 .61-4.35 .16-.71 .15-.26 .16 .24 .46 2.25 .47 1.18 .15 2.21M87.2 150.85l.15-2.48 .15-.92 .16-.39 .15 .05 .47 1.51 .15 .09 .31-.36 .31-.18 .15-.21 .47-1.21 .15 .14 .47 1.81 .15 .35 .16 .04 .15-.26 .46-1.32 .16-.01 .15 .39 .16 .75 .46 2.76 .15 .58 .16 .25 .15-.03 .31-.21 .16 .14 .31 .9 .46 .96 .15 .51 .62 2.8 .78 1.69 .15 .06 .15-.08 .47-.59 .15-.03 .31 .43 .16 .11 .15-.11 .46-1.01 .16-.19 .15-.03 .31 .1 .62 .48 .16 .01 1.39-1.71 .15-.03 .16 .12 .3 .4 .16 .09 .62-.24 .31-.01 .15 .08 .16 .18 .15 .35 .62 2.07 .77 1.58 .31 .38 .15-.01 .31-.17 .16 .04 .15 .19 .47 .92 .61 .27 .31 .55 .31 1.28 1.7 8.83 .62 2.82M110.07 181.66l1.23 5.62 .93 4.9 .93 3.84 .15 .29 .31 .26 .77 .5 .16-.08M119.8 179.84l.47-.8 .3-1.04 .62-3.23 .31-1.29 .16-.29 .15-.05 .31 .06 .15-.2 .78-2.82 .15-.06 .16-.15 .31 .01 .61 .69 .62 .52 .31 .39 .46 .33 .16-.01 .46-.24 .47-.05 .15-.1 .62-.73 .46-.14 .62-.36 .15-.01 .31 .14 .78 .64 1.08 .43 .46 0 .31 .1 .77 .83 .31 .21 .93 .1 .46-.03 .78 .87 .61 1.11 .47 1.19 .77 1.7 1.85 6.93M142.83 201.83l1.08 .29 .15-.01M148.24 194.4l1.85-3.37 .31-.41 1.85-.85 .78-.24 .31-.22 .61-.67 .62-.15 .47-.3 1.08-1.09 .31-.17 .61-.15 .62-.39 .62-.22 1.24-1.14 .15-.04 .31 .1 .77 .59 .62 .18 .62 .09 .46-.18 .16 .01 .77 .81 .62 .44 .62 1.03 .15 .16 .77-.48 .62-.08 .93-.65 .15-.05 .31 .29 .31 .47M171.26 194.16l.46 .99M197.22 203.7l4.79-1.91 .78-.18 1.54-.47 .77-.15 2.01-.17 1.24-.3 .62-.08 .77 .13 .93-.05 1.08 .12 .93-.04 2.16 .04M215.77 200.6l1.08 .04M217.93 200.74l.62 0 1.54 .16 1.86-.07 1.08 .11 1.08-.04 1.08 .21 2.01 .07M229.37 201.24l1.7 .27 1.08-.02 1.54 .23 3.87 .31 2.62 .66 1.86 .3 1.7 .54M293.03 203.77l.93-.03M296.9 203.69l1.08-.01M305.4 203.66l2-.02M308.33 203.65l1.24 .01M310.96 203.66l6.64 .1M318.99 203.8l4.33 .16" stroke="#4DBEEE" stroke-width="0.50"/>
<path d="M32.8 199.66l.62-.16 .77 .02 .77-.27M42.38 197.4l.31-.03M43.77 196.76l1.08 .03 .78-.53 .31-.09 .3 .03 .62 .28 .31-.1 .47-.51 .3-.19 .62-.16 .77-.02 .78-.33 .62 .1 .61-.27 .62-.54 .47-.29 .3-.06 .47 .1 .46 .01 .31-.1 .62-.5 .15-.04 .47 .07 .46-.12M56.44 192.82l.31-.18 .62-.12 .16-.17 1.08-1.96 .15-.72 1.08-13.77 1.39-26.7 .47-6.64 .31-3.86 .31-2.93 .3-1.34 .62-4.22 .16-.43 .15 .08 .31 .78 .62 .62 .46 .3 .16 .27 .15 .5 .31 1.29 .31 .38 .15 .01 .31-.93 .16-.28 .15-.05 .31 .02 .16-.29 .46-2.18 .15-.54 .16-.1 .15 .41 .16 .85 .46 3.12 .16 .56 .15 .22 .16 .04 .15 .14 .15 .35 .47 2.41 .46-1.88 .46-1.37 .16-.79 .15-.45 .16-.22 .15-.03 .16 .12 .15 .26 .31 .87 .62 2.39 .15 .32 .16 .14 .15-.07 .16-.28 .46-1.68 .16-.28 .15 .23 .15 .73 .31 2.3 .62 6.45 .16 1.01 .15 .72 .62 1.28 .15-.51 .16-1 .46-4.31 .16-.93 .15-.44 .16-.12 .3-.01 .16-.12 .15 .02 .31 .41 .31 .86 .16 .76 1.08 12.81 .62 4.15 .15 .66 .16-.07 .15-.51 .62-2.9 .46-3.66 .46-4.63 .31-2.1 .47-1.49 .31-1.3 .61-4.16 .16-.64 .15-.2 .16 .31 .46 2.23 .47 .88 .15 2.23 .62 28.56 .15 4.03 .16-3 .62-25.02 .15-2.43 .15-.81 .16-.25 .15 .18 .47 1.69 .15 .03 .62-1.32 .46-1.71 .16-.37 .15 .18 .47 2.25 .15 .49 .16 .12 .15-.24 .46-1.62 .16-.17 .15 .23 .16 .62 .46 2.6 .15 .58 .16 .27 .46 .03 .16 .33 .31 1.37 .61 2.08 .47 2.12 .31 .74 .31 .3 .31 .43 .15 .01 .46-.36 .16-.04 .15 .16 .47 1.12 .15 .01 .46-.9 .16-.22 .15-.09 .47-.05 .46 .27 .16-.02 .3-.41 1.09-1.88 .15-.12 .16 .07 .46 .76 1.08 .94 .16 .21 .77 2.21 .62 .79 .46 .41 .46-.19 .16 .05 .62 .94 .46-.09 .15 .09 .31 .66 .16 .63 .62 4.21 .77 4.25 .46 2.95 1.24 6.12 .77 4.65 1.08 5.05 .93 5.12M113.31 197.21l.77 .61M119.34 185.34l.31-1 .62-1.06 .15-.45 .31-1.15 .46-2.43 .31-1.26 .16-.3 .15-.09 .31 .05 .15-.13 .16-.31 .62-1.86 .46-.21 .31 .12 .62 .63 .77 .28 .46 .05 .47-.12 .62 .24 .15-.02 .46-.33 .16-.05 .62 .02 .61-.42 .47-.12 .31 .09 .46 .28 .62 .58 .31 .21 .77 0 .93 .42 .62-.08 .92 .02 .78 .97 1.08 2.29 .77 .95 .31 .61M150.4 191.93l.62-.13 .31-.14 .92-.8M153.95 189.58l.16-.04 .46 .1 .16-.03 .31-.11 .3-.25M156.58 188.28l.46-.09 .62-.37 .31-.11M159.21 186.85l.46-.38 .46-.03M200.47 202.99l1.08-.4M203.09 202.28l2.01-.4 1.86-.18M208.04 201.51l.93-.12 .62 .07M211.13 201.5l.77 .1 3.09 .02 1.24-.06 1.39 .13 1.39 0M222.26 201.72l.77 .1 1.08 0M227.51 202.01l.93 .03M232.92 202.38l1.54 .09M235.55 202.57l.77 .03M238.33 202.84l1.85 .3" stroke="#A2142F" stroke-width="0.50"/>
<path d="M37.9 198.21l.46-.14 .93-.41 .62-.08 .62-.18 .77 .07 .93-.19M46.55 196.06l.31 .14 .31-.09 .62-.57M52.43 193.75l.3-.15 .47-.01M54.74 193.07l.62 .17M56.29 193.27l.31 0 .46 .19M58.3 192.65l.31-.21 .15-.21 .77-2.12M61.85 182.16l.47-.84 .3-.19 .47-.76 .15-.19 .16-.04 .46 .35 .46 .17 .62 .33 .31 .31 .31 .46 .31 .16 .15 .01 .47-.41 .46-.1 .16-.13 .46-.71 .15-.14 .16 .02 .15 .18 .62 1.41 .16 .17 .31 .05M70.2 182.72l.46-.53 .46-.84 .31-.18 .16 .02 .31 .2 .61 .74 .31 .23 .31-.04 .47-.49 .15-.12 .16-.01 .15 .18 .15 .37 .62 2.13 .16 .45 .15 .25M77.15 181.89l.46 .01 .62-.59 .16-.04 .15 .06 .31 .41 .77 2.05 .16 .25 .62 .64 .15 .03 .31-.74 .77-2.69 .93-4.43 .46-1.24M88.43 175.01l.62-.65 .15-.26M90.13 173.71l.31 .55 .16 .04 .15-.12 .46-.68 .16-.02 .15 .19 .62 1.68 .15 .24 .16 .08 .46-.14 .16 .15 .46 1 .46 .76 .47 1.07 .31 .44 .62 .62 .3 0 .47-.29 .15 .01 .47 .38 .15-.04 .46-.53 .16-.1 .15-.01 .47 .17 .31 .24M99.56 179.05l.31-.31 .46-.61 .31-.07 .62 .14 .93 .51 .61 .64 .62 .21 .62 .52 .62 .22 .62 .71 .61 .21 .16 .15M108.21 186.41l.47 .71M113.16 197.94l.31 .28 .92 .41 .16-.06 .46-.45 .93-1.11M119.8 183.41l.47-.81 .15-.48 .31-1.18 .46-2.43 .31-1.22 .16-.3 .15-.08 .16 .04M123.2 174.82l.16-.1 .31-.02 .61 .34 .47 .12M125.98 175.79l.62 .1 .16-.03 .77-.8 .62 .08 1.39-.17 .46 .08 .31 .2M131.08 175.72l.31-.06 .31 .04 .93 .67 .77 .31 .31 .02 .46-.27 .62 .19 .16 .12 .61 1.02 .47 1.15 .77 1.38M152.1 190.84l.31-.13M153.49 189.95l.46-.45 .62-.06 .31-.17 .93-.91 .31-.23 .31-.09 .61 .04 1.24-.28 .31-.25 .93-1.28 .31-.25 .3-.02 .78 .46 1.08 .28 .46 0 .16 .06 .46 .56M165.7 189.07l.46-.19 .77-.58 .16-.08 .15 .01M202.63 202.31l2.47-.59 2.17-.1 1.54-.31 .93 .12 1.08-.01M219.17 201.58l.92 .07 .47-.02M233.07 202.27l.31 .03" stroke="#0072BD" stroke-width="0.50"/>
<path d="M32.8 199.06l.62-.2 .46-.04 .31 .06 .77-.16M38.52 197.29l.77-.38 .62-.05 .77-.24 .77 .03 .62-.2 .62 .06 .62-.33M47.79 194.74l.77-.41 .47-.04M50.73 194.06l.61-.25M55.05 191.97l.16 .04 .46 .34 .46 .11M57.99 192.21l.62-.68M60.31 180.9l.92-6.87 .78-4.09 .31-1.37 .3-.8 .47-1.82 .15-.44 .16-.15 .15 .13 .31 .61 1.24 1.85 .46 1.02 .16 .06 .15-.03 .15-.13 .47-1.03 .15-.13 .31-.07 .16-.14 .46-.98 .15-.23 .16-.01 .15 .24 .16 .46 .46 1.65 .16 .31 .46 .34 .15 .23 .47 1.31 .77-1.41 .46-1.17 .31-.29 .16-.01 .31 .22 .77 1.41 .31 .28 .15-.02 .16-.14 .46-.8 .16-.1 .15 .16 .15 .43 .78 3.76 .15 .57 .16 .2 .15 .05 .31-.28 .31-.03 .15-.28 .31-.98 .31-1.32 .16-.43 .15-.2 .16-.04 .3 .08 .16-.13 .31-.14 .31 .07 .31 .4 .15 .5 .93 4.26 .62 1.52 .15 .24 .16-.17 .15-.44 .77-3.12 .77-5.39 .31-1.74 .78-2.29 .61-2.92 .16-.48 .15-.2 .16 .12 .46 1.36 .16 .14 .15 .03 .16 .16 .15 1.43M87.2 167.11l.15-1.65 .15-.59 .16-.23 .15 .05 .47 1.09 .15 .06 .62-.55 .15-.22 .47-.99 .15 .1 .47 1.38 .15 .3 .16 .09 .15-.13 .46-.83 .16-.03 .15 .2 .62 1.94 .15 .28 .16 .09 .31-.16 .15 .01 .16 .21 .46 1.33 .46 1.02 .47 1.39 .31 .46 .31 .18 .31 .31 .15 .02 .62-.18 .15 .1 .31 .49 .16 .13 .15-.05 .46-.79 .16-.19 .15-.08 .47 .01 .46 .27 .16 .03 .92-.43 .47-.41 .15-.1 .16 0 .92 .38 .62 .56 .31 .44 .46 .95 .31 .31 .47 .27 .46 .15 .46-.24 .16 .01 .62 .61 .46 .09 .15 .09 .31 .54 .16 .49 .77 3.22 2.47 7.95 .62 2.43M111.15 192.08l.77 2.79M113.16 198.52l.31 .3 .92 .48M115.17 198.78l.92-.72M121.5 181.37l.16-.32 .15-.12 .31-.03 .15-.14M123.05 178.89l.31-.12 .31-.01 .3 .19 .62 .55 .62 .34 .15 .01 .31-.01 .47-.3 .62-.2 .61-.64 .16-.08 .77 .16 1.08-.01 .62 .18 .77 .38 .31-.02 .62-.27 .46 .04 .47 .36 .77 .97 .31 .1 .46-.11 .78 .51 .61 .89 .47 .81 .62 .75 .3 .49 .93 2.71M150.09 193.33l.31-.31 .77-.31 .93-.72 .77-.18 .47-.24M155.19 190.45l.31-.3M156.27 189.53l.77-.16 .31-.16M159.36 187.9l.31-.21 .46 0 .78 .5 1.08 .3 .46 .01 .31 .22M164.15 189.92l.62 .9 .16-.02 .61-.34 .47-.15 .62-.36 .46-.18 .15 .02 .16 .17M170.02 194.06l1.4 2.22M202.63 202.85l2.47-.41 2.01-.11 1.86-.23 1.7 .06 1.23 .11 3.09 .03 1.09-.07 1.54 .13 1.7 .01 .77 .06 2.01-.06 1.08 .1 1.09 0 .92 .12 3.25 .02 5.1 .27" stroke="#D95319" stroke-width="0.50"/>
<path d="M32.8 200.21l.77-.17 .78 .05M35.58 199.82l.47-.13M39.6 198.41l1.08-.24M49.03 196.37l.3-.02 .31-.1M52.89 194.89l1.08-.09 .62-.32 .77 .09 .47-.07M61.7 183.09l.46-.99 .16-.2 .3-.22 .47-.88 .15-.25 .16-.09 .15 .04 .31 .24 .46 .19 .62 .45 .62 .9 .31 .19 .15 .03 .47-.34 .46 .04M67.72 181.29l.16-.01 .15 .12 .62 1 .16 .08 .46-.16 .15 .05 .47 .74 .46-.37 .31-.13 .31-.34 .31-.13 .46 .22 .77 .73 .31 .17 .31-.04 .62-.54 .16-.02 .15 .12 .15 .27 .62 1.6 .16 .36 .15 .17 .31-.18 .46-.48M76.84 182.9l.16-.26 .15-.12 .46 .06 .62-.54 .16-.05 .15 .04M79.47 184.04l.31 .73 .15 .21M81.63 182.65l.31-1.22 .62-3.16 .62-1.84M84.26 172.05l.15-.34 .16-.09 .46 .87 .31 .24M88.28 175.47l.15-.04 .31-.36 .46-.4 .31-.48 .16-.12 .15 .14 .47 1.19 .15 .26 .16 .08 .15-.1 .46-.73 .16-.08M92.29 176.68l.16 .11 .46-.03 .16 .17 .31 .72 .61 1.08 .47 1.01M95.69 180.5l.47-.27 .15 .01 .47 .36 .15-.02 .62-.51 1.24-.17 1.54-.93 .16 .02 .46 .25 1.24 .28 .15 .15 .77 1.23M104.04 181.83l.62 .06 .62 .46 .61-.03M107.13 185.33l1.24 3.07 .61 1.25 .62 .99M110.53 192.97l.46 1.03M113.16 199.57l.15 .15 .46 .19M114.7 200.02l1.39-.98 .16-.16 .77-1.64 .77-1.83 1.7-5.84 .93-2.07 .93-3.34 .15-.37 .16-.2 .46-.03 .15-.15 .16-.31 .62-1.81 .31-.22 .31 .03 .77 .89 .31 .18 .46 .14 .46-.07 .62-.27 .47-.04 .15-.08 .62-.6 .77-.1 .93-.42 .31-.05 .46 .11 .77 .73 .31 .16 .78 .02 1.23 .22 .62 .22 .46 .07 .78 .58 .61 .82 .47 .83 .77 .99 .46 1 1.39 4.04 1.55 6.05 1.55 4.04M142.67 202.55l1.24 .25M147.77 197.5l.77-1.05 1.7-2.53 .93-.54 .31-.25M152.56 192.49l.31-.06 .47-.24 .61-.48 .62-.06 .16-.09 .31-.26 .77-.91 .31-.24 .31-.11 .61-.01 .62-.19 .62-.1 .46-.33 .78-.73 .46-.23 .31 0 .62 .26M164.77 191.24l.16 .01 .61-.2 .47-.06 .77-.28 .31-.06 .15 .04 2.17 2.93M197.53 204.18l4.48-.86 3.09-.38 3.87-.29 .77 .08 2.01 .06 4.33 .01 1.54 .11 2.47 .03 1.86-.07 4.32 .2 4.02 .05 4.95 .28 2.32 .06 2 .24 2.17 .17 1.39 .19M296.43 204.22l.47 .01M298.44 204.24l1.24-.01M301.07 204.23l5.56-.03M312.35 204.22l1.7 .03" stroke="#EDB120" stroke-width="0.50"/>
<path d="M32.8 199.93l.77-.19 .62 .06M36.05 199.36l.61-.16M38.05 198.71l.62-.18M39.6 198.18l1.08-.32 .62 .11 .31-.03M43.46 197.28l.62-.14 .77 0 .31-.14M48.72 196l.61 0 .78-.35 .62 .09 .15-.07M51.96 194.8l.47-.33M54.28 194.13l.31-.21 .15-.03 .47 .07 .46 .18 .93-.02 .62 .27 .31-.02 .46-.33 .62-.17 .15-.1 1.7-1.62 .62-.28 .15-.26 .62-.27 .77 .06 .62-.33 .16 .05 .46 .42 .62 .38 .62 .16 .46 .21 .46-.04 .47-.3 .46-.07 .16-.07 .61-.58 .16-.03 .31 .23 .31 .44 .31 .31 .61 .09 .47 .3 .77-.38 .46-.35 .16-.04 .46 .11 .77 .51 .31 .11 .31-.06 .47-.32 .31-.05 .3 .31 .47 .86 .31 .39 .15-.05 .77-1.18 .62-.55 .47-.53 .15-.1 .46-.07 .62-.35 .16 .01 .15 .11 1.08 1.09 .78 .08 .15-.04 .16-.21 .61-1.46 .47-.9 .46-1.87 .31-.91 .93-2.07 .77-2.63 .15-.28 .16-.1 .46 .69 .47 .27 .15 .79 .62 10.09 .15 1.43 .16-1.01 .62-8.57 .15-.86 .15-.31 .16-.13 .15 .03 .47 .55 .15 .03 .62-.26 .15-.12 .47-.62 .15-.01 .47 .48 .15 .07 .16-.04 .15-.14 .46-.54 .16 0 .15 .17 .62 1.34 .15 .19 .16 .05 .46-.24 .16 .02 .77 .77 .77 1.22 .78 .62 .3 .07 .62-.09 .47 .22 .15-.04 .46-.39 .31-.08 .47 .08 .46 .22 .31 .03 .77-.27 .62-.44 .93 .02 .31 .08 .62 .31 .77 .79 1.08 .39 .62 .05 .62 .49 .77 .17 .31 .32 1.39 2.64 1.7 1.12 .15 .16 .78 1.33 .92 1.31 .93 2.04 .93 1.66 .15 .11 1.08 .21 .62-.43 1.08-.9 .31-.47 1.08-2.54 .31-.87 1.7-5.98 .31-.68 .47-.73 .3-.84 .93-3.58 .16-.31 .46-.32 .15-.21 .78-1.92 .31-.05 .46 .14 .62 .48 .77 .26 .46 0 .62-.28 .47-.01 .61-.36 .16-.03 .62 .16 .77-.23 .62-.03 .62 .19 .61 .45 .31 0 .47-.25 .31-.01 .3 .17 .62 .49 .31 .15 .47 .12 .61-.06 .78 .74 1.08 1.84 .77 .78 .31 .5 1.54 4.45 .62 2.24M142.83 202.5l1.08 .24 .15-.01 .16-.12M147.31 198.12l.62-1.02 1.7-2.53 .61-1.05 .16-.15 .31-.16 .62-.16 1.54-.78 .47-.33 .61-.6 .62-.08 .47-.24 .61-.63M156.73 189.77l.31-.06 .62-.25 .47-.06M159.83 188.19l.3 0 .16 .06 .62 .39 .92 .4 .16 .04 .62-.15 .15 .04 1.08 .73M164.77 191.12l.16-.02 .3-.19M166.32 190.54l.77-.16 .15 .03 .16 .14 1.23 1.65 1.55 2.53 .62 .86M197.84 204.07l2.63-.53 1.39-.36 1.39-.16 1.39-.26 .77-.09 1.7-.02 1.86-.21 2.78 .15 3.24 .02 1.09-.06 1.7 .11 6.02 .07 1.24 .13 3.09 .03 2.94 .16 1.08-.01 5.41 .31 4.63 .51 2.16 .37M290.41 204.27l5.25-.08M306.94 204.15l1.55 .02M317.29 204.22l2.48 .05" stroke="#7E2F8E" stroke-width="0.50"/>
<path d="M35.27 198.86l.47-.11M41.92 196.82l.62-.07M43.77 196.13l1.08-.1M45.63 195.63l.46-.07 .31 .07M47.79 195.01l.77-.33 .93-.12 .62-.35 .62 .08 .61-.38 .93-.96 .46-.25 1.09 .09 .31-.11 .46-.3 .15-.02 .47 .08 .46 .17 .77-.12 .31 .11 .47 .33 .31 .03 .46-.6 .62-.61 .15-.41 .16-.82 .92-6.09 1.39-12.96 .62-4.17 .47-2.52 .3-.81 .47-1.88 .15-.47 .16-.19 .15 .09 .31 .54 1.08 1.27 .31 .62 .31 .85 .31 .26 .15 0 .47-.77 .46-.11 .16-.17 .46-1.15 .15-.23 .16 .02 .15 .31 .62 2.34 .16 .26 .15 .04 .31-.08 .15 .14 .47 1.34 .77-1.41 .46-1.21 .16-.22 .15-.09 .16-.01 .31 .23 .61 1.22 .31 .4 .16 .05 .15-.07 .62-.98 .16-.04 .15 .27 .15 .56 .93 5.08 .16 .33 .15 .17 .31-.09 .31 .07 .15-.33 .31-1.26 .31-1.66 .16-.54 .15-.25 .16-.06 .3 .07 .31-.27 .16-.05 .15 0 .16 .12 .31 .6 .15 .72 .62 3.82 .31 1.49 .62 1.6 .15 .23 .16-.2 .15-.49 .62-2.41 .31-1.57 .77-4.9 .15-.56 .47-.96 .31-.96 .77-4.32 .15-.4 .16-.04 .46 1.17 .16 .15 .15 .04 .16 .19 .15 1.51 .62 20.03 .15 2.84 .16-2.13 .62-17.59 .15-1.64 .15-.5 .16-.12 .15 .17 .47 1.29 .15 .07 .62-.57 .15-.22 .47-.97 .15 .11 .47 1.35 .15 .23 .16-.02 .15-.26 .46-1.28 .16-.12 .15 .17 .16 .45 .46 1.76 .15 .33 .16 .1 .46-.3 .16 .15 .46 1.23 .46 1 .62 1.87 .78 1.07 .15 .06 .15-.03 .47-.19 .15 .11 .47 .74 .15-.01 .46-.69 .31-.28 .47-.17 .62 .09 .77-.23 .31-.2 .46-.6 .16-.07 .77 .15 .31 .28 .46 .6 .31 .56 .46 1.1 .31 .37 .47 .35 .46 .21 .46-.18 .16 .04 .62 .67 .46-.05 .15 .03 .16 .15 .31 .76 .62 2.69 .77 2.7 1.23 4.02 .62 1.64 .78 2.91M111.77 192.65l.46 1.84M114.39 198.34l.16-.06 .46-.43 1.24-1.47M121.5 176.92l.16-.23 .15 .01 .31 .2 .15-.09 .16-.27 .62-1.78 .15-.02 .16-.12 .31-.02 .15 .07 .62 .55 .77 .44 .46 .14 .47-.17 .62-.11 .77-1.06 .31-.05 .31 .1M129.07 174.53l.47 .07 .31 .13 .31 .24 .46 .56 .31 .18 .15-.04 .62-.43 .31-.05 .77 .29 .62 .43M134.17 175.97l.47 .29 .31 .34 .61 1.41 .47 1.26 .46 .76M150.09 192.29l.15-.29 .31-.29 .78-.35 .77-.6 .93-.35 .31-.19 .61-.56 .62-.05 .31-.13 1.39-1.13 .77-.29 .62-.38 .62-.1 .46-.23M159.98 186.56l.93 .45 1.08 .11M165.23 189.22l.47-.31 .46-.18 .93-.6 .15 .01 .16 .17M200.31 202.87l1.24-.45 .93-.19M204.02 201.83l1.08-.28 1.24-.05M207.58 201.34l1.39-.22 .77 .1 1.08 0 .93 .12 .93-.03 2.47 .08 1.39-.06 1.08 .14 1.55-.04 1.08 .14 2.16-.05 4.79 .33 3.09 .07 .93 .14 4.02 .35 2.32 .12 1.39 .26M241.11 203.18l1.08 .17" stroke="#77AC30" stroke-width="0.50"/>
<path d="M32.8 199.43l.77-.27 .62 .02 .77-.19M35.89 198.82l.62-.13 .46-.24M37.75 198.05l1.08-.41M40.06 197.28l.47-.15M42.23 197.03l.31-.02 .3-.15M44.24 196.29l.46 .06M45.63 195.95l.46-.13 .46 .1M47.64 195.45l.61-.36M49.33 194.88l.78-.25 .62 .18 .61-.32 .78-.79 .46-.33 1.24-.09 .31-.16 .46-.39 .15-.05M56.29 193.06l.31 .06 .62 .35 .31 .03 .46-.41 .62-.33M60.46 187.27l.62-2.03 .15-.71 .47-1.17 .46-.89 .46-.44 .62-1.05 .16-.02 .62 .63 1.08 .57 .46 .54 .31 .08 .15-.02 .47-.44 .46-.05 .16-.09 .46-.65 .15-.16 .16-.01 .31 .42 .46 .99 .16 .16 .61 .12 .47 .59 .46-.58 .31-.22 .46-.48 .31 0 .31 .15 .77 .75 .31 .19 .31-.03 .47-.44 .15-.11 .16-.01 .15 .15 .15 .32 .78 2.07 .15 .13 .31-.31 .31-.47 .46-.39 .78-1.5 .15-.14 .46-.07 .62-.74 .16-.05 .31 .27 .31 .75 .61 1.87 .16 .27 .62 .62 .15 .04 .16-.25 .61-2.05M83.02 176.3l.47-.97 .61-2.4 .31-.7 .16-.03 .46 .92 .47 .24M87.35 175.51l.15-.46 .16-.19 .15 .02 .47 .79 .15 .07 .77-.21 .47-.61 .15 .04 .47 .76 .15 .11 .16-.04 .61-1.01 .16-.06 .15 .16 .16 .35 .46 1.37 .15 .29 .16 .13 .46-.16 .16 .07 .77 1.11 .77 1.82 .16 .21 .46 .37 .16 .09 .15-.03 .62-.47 .15 .04 .47 .56 .15 .04 .62-.34 1.08 .27 .31-.12 .62-.6M100.79 179.32l.62 .04 .62 .18 .31 .28 .31 .55M103.42 181.32l.62 .4 .46-.04 .16 .07 .62 .65 .61 .02 .16 .07M108.98 187.72l.62 .71 .93 2.14M112.54 196.02l.62 1.67 .15 .18 1.08 .38 .16-.09 .46-.52 1.24-1.76 1.39-4.5M119.03 185.27l.46-2.12 .31-.93 .31-.66M121.81 174.77l.31 .14 .15-.1 .16-.29 .62-1.92 .15-.03 .16-.12 .31 .05 .77 1.02 .77 .45 .46-.11 .62-.51 .47-.06 .15-.12 .62-.81 .15-.07 .47 0 .46-.1 .31 .03 .46 .21 1.39 1.12 .31 .02 .47-.15 .31 .04 1.08 .86 .62 .38 .3-.03 .31-.2 .16 .05M135.41 175.69l.77 2.13M142.83 202.02l.62 .14M144.99 201.07l1.24-1.82M150.24 191.41l.16-.13 .93-.43M153.64 189.2l.31-.32 .62-.18 .31-.2 .93-.94 .31-.21 .31-.07 .77 .14 1.08-.42 .46-.46 .62-.75 .31-.25 .16-.03 .3 .11 .62 .58 .31 .13 .93 .17 .62-.16 1.23 .85M166.78 187.64l.31-.13M168.17 189.38l.77 1.19M204.33 201.48l1.08-.25M208.66 200.73l.31-.04M212.21 200.99l1.08 .03M223.49 201.31l.62 .02 .77 .13 .47 0M226.58 201.54l1.09 .07M237.4 202.3l1.39 .28" stroke="#4DBEEE" stroke-width="0.50"/>
<path d="M32.8 199.29l.62-.25 .46-.05 .31 .04 1.08-.35 1.24-.3 .93-.45 .92-.19 .93-.44 1.24-.38 .92 .12 .62-.19 .62-.01 .77-.45 1.39-.28 .62-.48 .31-.15 .46 .01 .62 .35 .31-.08M47.94 195.03l.62-.23 .47 0M52.73 193.1l.62 .01M54.74 192.54l.47-.02 .62 .18 .61-.03 .47 .23M57.99 192.73l.62-.43 .15-.26 .16-.49 .92-3.46 1.39-7.06 .47-1.79 .46-1.46 .16-.33 .3-.39 .62-1.38 .16-.07 .15 .12 1.08 1.35 .47 .45 .46 .72 .31 .12 .15-.03 .47-.52 .46-.02 .16-.1 .46-.7 .15-.16 .16-.01 .15 .18 .62 1.33 .16 .12 .46-.11 .15 .06 .47 .73 .46-.71 .77-.87 .16 0 .31 .21 .77 1.1 .31 .3 .15 .03 .16-.06 .15-.14 .47-.75 .15-.19 .16-.06 .15 .14 .15 .36 .78 2.68 .15 .31 .16 .03 .15-.05 .31-.29 .31-.07 .15-.18 .31-.65 .31-.93 .31-.52 .46-.11 .47-.46 .15-.06 .16 .03 .31 .37 .15 .38 .77 2.56 .16 .31 .62 .77 .15 .07 .16-.26 .15-.46 .77-2.87 .31-1.53 .31-2.07 .46-2.28 .78-2.26 .61-2.86 .16-.51 .15-.27 .16 0 .46 1.06 .31 .17 .16 .15 .15 1.23 .62 16.25 .15 2.32 .16-1.69 .62-14.01 .15-1.33 .15-.44 .16-.16 .15 .05 .47 .76 .15-.03 .31-.4 .46-.43 .47-.75 .15 .11 .47 1.19 .15 .24 .16 .06 .15-.12 .46-.73 .16-.02 .15 .2 .16 .4 .46 1.46 .15 .26 .16 .09 .46-.19 .16 .16 .46 1.11 .46 .91 .47 1.17 .31 .36 .62 .25 .15-.04 .62-.47 .15 .03 .47 .56 .15 .02 .46-.35 .16-.04 .62 .26 .46 .29 .16 .02 .92-.7 .62-.71 .16-.07 .92-.09 .47 .24 .31 .29 .77 1.42 .62 .57 .46 .35 .62 .03 .62 .56 .46 .03 .31 .19 .31 .6 .62 2.04 .77 2.2 1.54 1.46 .31 .43 .78 2.1 .61 1.36M113.62 197.14l.77 .29 .16-.11 1.54-2.1 .16-.31 1.54-5.52 1.7-8.85 .31-.93 .47-.91 .3-1.2 .93-5.08 .16-.37 .15-.12 .31 .02 .15-.18 .78-2.44 .15 0 .16-.13 .31 .03 .15 .14 .77 1.21 .62 .62 .31 .06 .31-.06 .31-.28 .62-.32 .61-1.12 .16-.16 .15-.03 .62 .38 1.24 .29 .46 .19 .77 .66 .16 .03 .15-.07 .62-.48 .31-.03 .31 .15 .31 .29 1.08 1.34 .15 .06 .31-.04 .62 .38M137.73 179.73l.62 2.53M147.62 195.15l.31-.71 .77-1.4M151.79 189.15l.46-.36 .62-.06 .47-.16M155.5 187.22l.77-.86 .31-.15 .46-.12 .62-.31 .47-.06 .3-.11 1.24-1.06 .46-.05 .62 .24 .62 .11 .46 .18M164.77 187.99l.16-.04 .77-.66M166.47 186.58l.62-.4 .15 0 .47 .71 1.08 2.27M199.39 202.77l2.62-1.17 1.39-.35 .93-.3 1.24-.25 1.54-.13 1.24-.33 .62-.07 .77 .12 1.08 0 1.08 .14 2.01 .02 1.08 .15 1.24-.08 1.39 .17 1.7 0 .77 .11 2.01-.13 1.08 .18 1.09 0 .77 .13 2.32 .16 1.54 .01 1.7 .14M233.07 201.54l2.17 .24M237.56 201.93l.92 .23M294.89 203.69l2.01-.07M297.98 203.62l3.86-.02M303.85 203.58l2.94 0M309.26 203.61l3.24 .01 2.01 .07M321.62 203.84l.46 .02M323.63 203.92l1.08 .04" stroke="#A2142F" stroke-width="0.50"/>
<path d="M34.96 200.03l1.39-.31 .47-.19M37.59 199.21l.77-.13 .93-.43 1.08-.25 .31-.03 .77 .09 .62-.2 .62-.05 .77-.42 1.39-.18 .62-.39 .31-.1 .46 .02 .62 .25 .31-.09 .62-.56 1.08-.43M50.11 196.04l.62 .19 .46-.16M51.96 195.39l.62-.39 .93 .12 .46-.05M55.83 194.6l.77-.55 .46-.13M59.23 191.33l.61-1.88 1.39-5.68 .47-1.48 .46-1.25 .46-.7 .47-1.03 .15-.22 .16-.03 .62 .81 .46 .41 .62 .43 .46 .76 .31 .18 .15 0 .47-.56 .62-.38 .46-.68 .15-.13 .16 .02 .15 .17 .62 1.24 .16 .14 .46 .08 .15 .14 .47 .92 .77-.69 .46-.8 .31-.25 .16-.05 .31 .1 .31 .31 .46 .66 .31 .21 .15-.01 .62-.55 .16-.03 .15 .14 .15 .31 .62 1.82 .16 .39 .15 .21 .31-.13 .31-.29 .31-.04 .15-.13 .31-.51 .47-1.08 .15-.15 .46-.01 .47-.39 .31-.11 .31 .21 .15 .27 .77 2.06 .16 .28 .62 .72 .15 .07 .16-.23 .15-.42 .93-3 .77-3.91 .93-3.26 .46-2.16 .31-1.08 .15-.22 .16 .03 .46 1.11 .47 .45 .15 1.15M87.2 175.99l.15-1.23 .15-.42 .16-.13 .15 .07 .47 .71 .15-.05 .77-1.12 .31-.61 .16-.16 .15 .12 .47 1.23 .15 .26 .16 .07 .15-.1 .46-.67 .16-.01 .15 .2 .62 1.86 .15 .3 .16 .13 .46-.11 .16 .12 .46 .91 .46 .7 .47 .95 .31 .27 .31 .08 .31 .18 .77-.19 .15 .1 .47 .63 .15 .02 .62-.58 .62-.06 .31 .09 .31-.01 .46-.29 .62-.26 .46-.41 1.08-.08 .47 .19 .31 .22 .77 1.2 .62 .5 .46 .28 .46 0 .16 .07 .62 .68 .77-.05 .31 .38 .15 .37 1.24 3.57 .93 .42 .77 .54 .15 .17 .78 1.71 .77 1.43 .31 .84 .77 2.83 .93 2.87 .15 .2 .16 .09 .92 .28 .62-.78 1.08-1.62 .31-.87 .62-2.6 .77-2.78 1.7-9.23 .31-.94 .47-.87 .3-1.24 .78-4.75 .15-.67 .16-.36 .15-.09 .31 .1 .15-.14 .78-2.31 .15 .08 .16-.06 .15 .02 .31 .16 .93 .87 .46 .67 .31 .33 .15 .15 .16 .05 .77-.25 .16-.11 .61-1.04 .16-.15 .31 0 .31 .13 1.08 .01 .46 .09 .31 .17 .16 .15 .77 1.13 .15 .07 .47-.02 .31 .1 .92 .74 .78 .15 .61-.03 .78 .93 .46 .85 1.24 2.91 .46 1.36 1.39 5.74 .77 4.06 .93 5.64 1.55 5.81M142.67 201.7l.47 .16 .92 .17 .47-.59 1.7-2.73 1.08-2.63 .46-.98 1.39-2.79 .93-1.74 .31-.41 .77-.37 .77-.62 1.09-.26 .31-.2 .61-.66 .16-.06 .46-.01 .47-.19 1.23-1.24 .31-.12 .46-.03 .62-.29 .47-.09 .3-.14 .47-.41 .77-.89 .31-.16 .15 0 .78 .4 .62 .2 .46 .11 .46-.08 .16 .05 .77 .97 .62 .53 .62 1.09 .15 .17 .16-.06 .61-.51 .62-.3 .77-.61 .16-.08 .15 .02 .31 .51 .93 2.02 1.08 1.83 .77 1.59 .62 .98 .62 1.2 2.16 5.47 .78 1.75M194.44 204.41l1.55-.25 4.17-1.78 1.85-.92 1.39-.27 1.7-.61 2.01-.21 1.24-.35 .62-.07 .92 .17 1.86 .11 .93-.02 2.16 .17 1.39-.14 1.39 .22 1.7 .03 .93 .13 2.16-.06 1.7 .04 1.08 .23 3.87 .2 1.23 .12 .93 .2 .77-.02 3.4 .41 2.17 .14 2 .51 2.32 .44 3.4 1.1 2.01 .43M274.49 204.42l4.79-.3 3.09 .1 6.18-.41 2.94-.05 4.63-.19 10.2-.04 6.03 .03 2.78 .1 2.63 .01 20.55 .71" stroke="#0072BD" stroke-width="0.50"/>
<path d="M32.8 199.6l.62-.22 .46-.04 .31 .05 1.24-.35 1.08-.19 .93-.49 .77-.15 1.08-.45 .62-.1 .62-.19 .92 .07 .62-.2 .62-.04 .77-.51 .47-.11 .92-.1 .62-.43 .31-.12 .46 .05 .62 .31 .31-.12 .47-.52 .3-.22 .62-.24 .93-.09 .62-.29 .62 .14 .15-.06 .46-.2 .93-1 .31-.24 .31-.07 .93 .07 .31-.15 .46-.36 .62 .03 .46 .24 .77 .07 .31 .14 .47 .37 .31 .11 .46-.29 .62-.25 .15-.17 .77-1.55M61.39 187.71l.62-.8 .31-.2 .3-.09 .47-.65 .15-.17 .16-.04 .77 .56 .77 .67 .62 .73 .31 .11 .15-.01 .47-.43 .46-.2 .62-.73 .15-.13 .16-.02 .31 .33 .46 .75 .16 .14 .61 .18 .47 .56 .77-.53 .31-.39 .31-.22 .15-.02 .31 .1 .77 .66 .31 .16 .31-.06 .47-.42 .31-.1 .15 .13 .15 .27 .62 1.49 .16 .25 .15 .06 .62-.84 .62-.58 .62-.97 .15-.11 .46-.02 .31-.27M79.31 187.76l.31 .54 .16 .14 .62 .4 .15 .03 .16-.2 1.08-2.82 .77-3.52 .93-2.54 .77-2.79 .15-.24 .16-.02 .46 .98 .47 .39M87.35 179.96l.15-.34 .16-.11 .15 .08 .47 .74 .15 .02 .62-.62 .62-1.01 .15 .04 .47 .86 .15 .18 .16 .04 .15-.09 .46-.56 .16-.01 .15 .17 .16 .32 .46 1.2 .15 .24 .16 .11 .46-.1 .16 .08 .92 1.17 .62 1.21 .78 .65 .3-.02 .47-.2 .15 .04 .47 .35 .15-.02 .46-.45 .31-.11 .47 .09 .62 .25 .92-.46 .62-.56 .16-.06 .61-.01M102.8 184.25l1.24 .71 .62 .05 .62 .56 .61 .08 .16 .07 .31 .38 .31 .71M107.9 189.2l.47 .27 .92 .33 .31 .25 .78 1.52 .77 1.35 1.08 3.19 .93 2.18 .15 .15 .93 .37 .15 .03 .16-.08 1.54-1.82 .31-.72 1.39-4.56 1.7-7.79 .31-.81 .47-.84 .15-.5 .31-1.26 .46-2.57 .31-1.21 .16-.26 .15-.02 .31 .15 .15-.11 .31-.77 .47-1.58 .46-.33 .16 .01 .15 .09 .62 .85 .62 .67 .15 .16 .31 .11 .31-.02 .46-.23 .47 .02 .15-.07 .46-.53 .31-.18 1.08-.12 1.24 .31 .77 .4 .16 .03 .46-.11 .31 .05 .62 .47 .46 .22 .78 .15 .61 0 .62 .93 1.08 2.37 .78 1.07 .3 .6 .31 .95 1.39 5.17M140.35 195.1l.47 1.46M142.83 202.17l1.08 .23M146.84 198.07l.47-1.01 .46-.82 .62-.9 1.85-3.06 .16-.13 .93-.39 .77-.62 .77-.34 .47-.29 .61-.53 .62-.08 .31-.15 1.39-1.18 .31-.09 .62-.03 .93-.4 .3-.23 1.09-1.16 .15-.1 .31-.06 .15 .02 .78 .42 1.7 .14 .77 .84 .62 .4 .77 1.25 .16-.03 .61-.33 .62-.19 .93-.66 .15-.03 .16 .13 .46 .68 1.39 2.64 1.08 1.76 .62 .85 .47 .86 2.16 4.89M196.45 204.17l5.56-1.79 2.32-.56 .77-.15 2.01-.18 1.86-.28 2.62 .25 1.09-.02 2.16 .08 1.39-.06 1.24 .13 1.08-.01 1.54 .15 2.32-.05 1.7 .09 .93 .13 1.7 .01 2.78 .18 .93-.01 .77 .12 6.03 .42 4.94 .79 2.94 .72 .92 .16M278.2 204.34l1.08-.04 2.16 .04M284.07 204.28l4.64-.23 7.41-.17 10.97-.05 10.98 .11 15.14 .42" stroke="#D95319" stroke-width="0.50"/>
<path d="M32.8 198.99l.77-.29 .62 .04 2.16-.38 1.24-.68 2.32-.83 .62-.28 .31 .01 .61 .18 .62-.13 .62 .05 .62-.42 .31-.13 .46-.15 .77-.12 .62-.43 .31-.13 .46-.01 .62 .25 .31-.13 .62-.76 .62-.35 .31-.09 .77 .01 .62-.3 .62 .09 .46-.24 .15-.09 .93-1.03 .46-.27 1.09 .18 .31-.12 .46-.42 .62-.14 .46 .27 .77 .23 .78 .69 .31 .1 .46-.34 .62-.19 .15-.13 1.08-1.33 .78-1.09 .46-.29 .15-.3 .78-.56 .61-.23 .62-.56 .16 .02 .15 .12 1.55 1.33M66.49 189.84l.46-.14M71.43 189.41l.47 .12 .61 .42 .31 .14M73.6 189.79l.31-.05 .3 .36M77 189.01l.15-.15 .46-.18 .62-.63 .16-.05 .46 .37 .77 1.14 .78 .29 .15-.05 .31-.66 .46-1.42 .47-1.18 .46-2.15 .31-1.12 .93-2.47 .77-2.9 .15-.27 .16-.07 .46 .9 .47 .34 .15 .92M87.35 181.07l.15-.33 .16-.11 .15 .05 .47 .61 .15-.01 .62-.58 .62-.93 .15 .03 .62 .92 .16 .03 .61-.6 .16 .02 .15 .19 .62 1.53 .15 .23 .16 .09 .46-.16 .16 .08 .46 .67 .46 .52 .62 .95 .78 .54 .3 .05 .47-.06 .15 .06 .47 .41 .15-.02 .46-.45 .31-.15 .47-.01 .46 .12 .31-.08 .77-.49 .47-.48 .31-.16 .77 .22 .93 .41 .77 .81 1.08 .77 .62 .08 .62 .48 .61 .05 .31 .2 .31 .52 1.24 2.72 1.23 1.5 .62 .65 1.7 2.91M113.62 199.63l.77 .27 .16-.06 1.54-1.28 .31-.49 1.39-3.59 1.7-6.36 .31-.7 .47-.7 .3-.86 .93-3.64 .16-.3 .15-.12 .31-.05 .15-.13 .78-1.65 .31 .04 .31 .14 .77 .63 1.39 .26 .93-.39 .46-.54 .31-.21 .62 .16 .15-.02 .77-.38 .47-.08 .46 .12 .62 .36 .31 .05 .62-.34 .31-.06 .61 .27 1.24 .94 .46-.01 .62 .27 .16 .11 .46 .64 .62 1.25 .77 1 .31 .58 1.39 3.93 .62 2.39M147.62 197.37l1.08-1.57 1.39-2.29 .31-.36 .93-.33 .77-.48 .77-.3 .47-.36 .46-.56 .31-.23 .46-.07 .47-.18 1.39-.84 1.23-.44 .62-.04 .31-.11 .46-.33 .62-.65 .31-.18 .15-.02 .78 .42 .46 .15 .62 .15 .62-.01 .77 .78 .62 .42 .77 1.07 .77-.31 .62-.13 .93-.59 .15 0 .16 .13 2.01 3.06 .92 1.61 1.09 1.68 2.31 4.6 .93 1.58M197.22 204.15l4.79-1.1 1.55-.19 1.54-.28 3.87-.3 2.78 .13 3.24 .04 1.09-.04 1.7 .13 1.54-.04 .93 .06 3.71 .03 1.08 .1 7.11 .22 3.24 .26 2.32 .06 2.01 .29 2.32 .24 2.62 .46M285.31 204.37l.46-.02M286.54 204.32l9.43-.19 11.12-.03 10.82 .07 4.48 .1" stroke="#EDB120" stroke-width="0.50"/>
<path d="M32.8 200.04l.77-.19 .62 .01 1.08-.29 1.24-.23 .93-.5 1.7-.53 .77-.07 .77-.22 .77 .02 .62-.24 .62-.07 .77-.36 1.39-.1 .93-.53 .46-.01 .62 .23 .31-.11 .47-.48 .46-.26 .62-.17 .61-.04 .78-.35 .62 .09 .61-.2 1.24-.98 .31-.05 .93 .03 .31-.1 .3-.2 .31-.07 .78 .16 .31-.03 .77-.36 .77-.04 .62-.46 .62-.21 .15-.17 .16-.35 .77-2.09 .93-3.38 .46-1.42 .15-.69 .47-1.23 .46-.93 .16-.19 .3-.19 .62-.93 .16-.02 .15 .14 .31 .44 .62 .66 .62 .48 .46 .59 .16 .07 .3 .01 .47-.51 .46-.21 .16-.14 .46-.71 .15-.15 .16-.02 .15 .14 .16 .27 .46 .94 .16 .17 .46 .14 .15 .12 .47 .78 .77-.68 .46-.69 .31-.16 .16 0 .31 .12 .31 .29 .46 .58 .31 .22 .15 .01 .16-.06 .46-.41 .16-.06 .15 .08 .15 .24 .62 1.56 .16 .34 .15 .16 .31-.19 .31-.35 .46-.25 .31-.43 .47-.88 .15-.14 .46-.16 .62-.82 .16-.08 .15 .03 .16 .11 .31 .52 .77 1.77 .62 .75 .15 .07 .16-.2 .15-.38 .93-2.73 .77-3.84 .93-2.94 .77-3.39 .15-.27 .16-.01 .46 1.16 .47 .63 .15 1.14M86.42 191.16l.16-1.43 .62-12.02 .15-1.18 .15-.42 .16-.17 .15 .01 .47 .51 .15-.08 .77-1.04 .31-.62 .16-.18 .15 .08 .62 1.3 .16 .07 .15-.09 .46-.61 .16 0 .15 .19 .62 1.71 .15 .27 .16 .13 .46-.03 .16 .16 .46 .94 .46 .74 .62 1.31 .78 .62 .3-.08 .47-.34 .15 0 .47 .31 .15-.05 .46-.56 .31-.17 .47-.02 .31 .06 .31-.06 .61-.56 .93-.68 .16 .01 .46 .3 1.24 .6 .77 .86 1.08 .68 .62 .01 .62 .55 .61 .05 .16 .1 .31 .5 .62 1.78 .77 1.9 1.7 1.4 .31 .51 .62 1.59 .92 1.91 .93 2.99 .93 2.52 .15 .18 1.08 .44 .16-.09 .46-.54 1.08-1.6 .31-.76 .62-2.2 .77-2.4 1.7-7.87 .31-.86 .47-.81 .3-1.08 .93-4.75 .16-.39 .15-.15 .31-.07 .15-.2 .78-2.31 .15 .03 .16-.07 .31 .1 .77 .87 .77 .42 .46 .14 .47-.11 .62 .02 .77-.79 .31 .02 .31 .1 .61 0 1.09 .49 .77 .22 .31-.05 .62-.56 .31-.06 .3 .23 .62 .9 .47 .52 .31 .18 .15 .01 .46-.24 .62 .27 .16 .11 .61 1.01 .62 1.84 .93 2.37 .93 3.15 .61 2.45 1.55 8.24 2.16 7.53 .16 .4 .15 .17 1.24 .33 .15-.02 .31-.35 1.86-2.83 1.08-2.44 .46-.9 1.86-3.2 .61-1.2 .16-.17 .93-.39 .77-.52 .77-.26 .47-.28 .61-.56 .62-.06 .31-.14 .31-.23 1.08-1.06 .77-.25 .78-.53 .92-.3 .31-.19 .62-.58 .46-.2 .31 .12 .62 .39 .47 .17 .46 .01 .46-.2 .16 .01 .77 .89 .62 .53 .77 1.43 .16-.02 .61-.37 .47-.19 .77-.59 .31-.12 .15 .04 3.71 6.11 .93 1.98 2.01 4.87 1.08 2.15M193.82 204.53l2.17-.28 4.32-1.56 1.7-.68 1.55-.3 1.39-.47 2.16-.16 1.86-.33 .77 .09 1.08-.02 .93 .12 3.24 .09 1.55-.09 1.24 .23 .77-.04 1.54 .11 1.86-.05 1.08 .09 1.08-.03 .93 .15 5.25 .3 .93 .13 .93-.01 3.09 .31 2.32 .12 1.85 .43 2.47 .42 3.4 .95 2.63 .48M273.1 204.55l6.18-.33 3.09 .08 6.18-.35 7.42-.22 10.2-.03 11.9 .15 18.08 .53 8.03 .18" stroke="#7E2F8E" stroke-width="0.50"/>
<path d="M32.8 199.49l.77-.21 .78-.01 2.16-.69 .77-.36 .93-.17 1.08-.6 1.08-.35 .31-.03 .77 .19 .62-.16 .62 .02 .93-.52 .62-.17 .61-.04 .93-.42 .46-.06 .62 .14 .31-.15 .47-.56 .3-.22 .78-.24 .61-.06 .78-.37 .15 0 .47 .16 .46-.17 .15-.08 .93-1.01 .46-.3 1.09 .01 .31-.13 .3-.24 .31-.08 .47 .11 .31 .2 .31 .1 .77-.02 .62 .36 .31 .06 .46-.3 .62-.19 .15-.16 1.08-1.96 .62-1.34 .62-.91 .15-.42 .62-.7 .31-.22 .46-.19 .62-.8 .16-.01 .15 .11 1.08 1.03 .47 .29 .46 .51 .31 .09 .15-.02 .47-.39 .62-.16 .46-.52 .15-.13 .16-.02 .31 .3 .46 .73 .16 .11 .15 .02 .46-.08 .47 .4 .46-.28 .31-.05 .46-.36 .31-.08 .31 0 .31 .08 .62 .41 .31 .08 .15-.02 .47-.28 .31 0 .3 .46 .47 1.17 .31 .57 .15 .01 .62-1.06 .77-.87 .47-.68 .15-.12 .46-.13 .62-.7 .16-.07 .15 .04 .31 .24 .77 1.14 .78 .54 .15 .02 .31-.57 .93-2.64 .46-2.27 .31-1.17 .93-2.44 .77-3.11 .15-.38 .16-.17 .46 .6 .31 .14 .16 .18 .15 1.04 .62 12.84 .15 1.8 .16-1.26 .62-10.78 .15-1.11 .15-.42 .16-.19 .15 0 .47 .61 .15 .02 .77-.54 .47-.68 .15 .06 .47 .93 .15 .19 .16 .04 .15-.11 .46-.73 .16-.09 .15 .07 .16 .23 .61 1.17 .16 .09 .46-.1 .16 .17 .92 1.82 .47 1.09 .31 .4 .62 .36 .3-.1 .47-.31 .15 .01 .47 .41 .15 .03 .62-.2 1.08 .27 .31-.11 1.24-.83 .31-.06 .92 .36 .78 .4 .77 1.06 .77 .51 .31 .12 .62-.16 .62 .29 .46-.05 .31 .08 .15 .15 .31 .6 1.24 3.1 .62 .64 1.23 1.01 .78 1.53 .77 1.31 .31 .68 .77 2.2 .93 2.22 .31 .24 .92 .33 .16-.08 .46-.46 1.08-1.24 .31-.59 1.39-4.01 1.55-6.29 .31-.86 .62-1.05 .15-.46 .31-1.14 .46-2.24 .31-1.07 .16-.24 .15-.06 .31 .03 .15-.15 .78-2.17 .46-.31 .31 .02 .77 .9 .62 .49 .46-.09 .47-.41 .15-.08 .47-.07 .61-.45 .16-.05 .62 .14 .61-.17 .47 .02 .62 .25 .77 .54 .15 .03 .31-.14 .47-.44 .31-.07 1.7 1.16 .3 .08 .31-.07 .78 .31 .46 .56 .62 1.17 .62 .95 .46 1.07 1.54 4.95 1.7 7.89 2.01 6.21 .16 .36 .15 .15 .16 .05 1.23 .21 .47-.51 1.7-2.28 1.08-2.29 .46-.84 2.32-3.78 .31-.36 .93-.33 .77-.5 .93-.31 .31-.22 .61-.68 .62-.2 .31-.17 1.24-1.02 .31-.12 .77-.08 1.08-.43 1.24-1.08 .31-.2 .3-.06 .16 .04 1.7 .95 .62-.01 .31 .25M163.69 188.96l.31 .3 .62 1.04 .15 .15 .31-.21M170.49 194.22l.62 .87 .92 1.9M196.6 204.19l5.41-1.49 3.09-.56 1.55-.11 1.54-.25 .78-.05 .77 .09 .93-.01 2.47 .14 2.01-.01 .93-.07 1.39 .12 1.7-.01 1.08 .13 1.7-.08 1.08 .08 1.08-.01 2.94 .21 1.39-.01 3.55 .18 3.4 .3 2.17 .1 4.48 .63 2.47 .57M286.7 204.2l9.27-.21 7.88-.04 15.3 .14M320.38 204.12l3.71 .08" stroke="#77AC30" stroke-width="0.50"/>
<path d="M32.8 200.32l.77-.17 .62 .02 .46-.11 1.09-.36 .92-.2 2.63-.97 .62-.1 .62-.18 .77 .04 .77-.26 .62-.04 .77-.36 1.39-.21 .62-.35 .31-.1 .46 0 .62 .22 .31-.09 .62-.53 .77-.27 .93-.1 .62-.22 .62 .14 .61-.2 .93-.61 .46-.22 1.09-.07 .77-.34 .77 .1 .31-.04 .93-.51 .77-.02 .62-.25 .46-.09 .31-.23 1.7-2.47 .62-.59 .15-.35 .78-.7 .61-.31 .62-.65 .16 .01 1.23 .96 .47 .25 .46 .4 .16 .03 .3-.05 .47-.42 .62-.2 .46-.46 .31-.15 .31 .21 .46 .54 .16 .08 .61 .02 .47 .42 .46-.26 .31-.08 .31-.26 .31-.12 .46 .09 .77 .47 .31 .11 .31-.07 .47-.39 .31-.12 .15 .1 .15 .22 .62 1.32 .16 .21 .15 .01 .77-1.13 .62-.6 .47-.56 .15-.07 .46 .04 .62-.54 .16-.07 .15 .05 .31 .24 .77 1.11 .78 .28 .15-.03 .31-.61 .93-2.44 .46-2.02 .31-1.01 .93-2.13 .77-2.88 .15-.27 .16-.06 .46 .87 .47 .34 .15 .87 .62 11.23 .15 1.59 .16-1.16 .62-9.72 .15-.97 .15-.35 .16-.14 .15 .02 .47 .53 .15 0 .77-.58 .31-.35 .16-.08 .15 .13 .47 .92 .15 .15 .16-.01 .15-.15 .46-.81 .16-.1 .15 .09 .16 .26 .61 1.36 .16 .11 .46-.03 .16 .09 .92 1.25 .62 1.17 .16 .16 .62 .33 .3-.11 .47-.35 .15-.02 .47 .26 .15-.01 .62-.4 1.24-.02 .92-.46 .62-.46 .31-.03 .62 .13 .15 .09 .78 .68 .61 .83 .93 .64 .31 .17 .62-.01 .62 .44 .61 .21 .31 .32 .16 .27 .62 1.52 .77 1.49 .93 .58 .77 .56 .15 .17 .78 1.46 .92 1.45 .93 2.28 .93 1.91 .15 .13 1.08 .26 .62-.45 1.24-1.31 1.23-3.17 .31-.91 1.55-6.03 .31-.88 .62-1.04 .3-.94 .93-3.97 .16-.29 .15-.09 .31 .04 .15-.1 .16-.27 .62-1.62 .46-.27 .31-.05 .77 .43 .62 .54 .31 .11 .31-.03 .46-.3 .62-.06 .46-.31 .16-.03 .77 .23 1.08-.17 .47 0 .31 .07 .61 .33 .31-.01 .47-.14 .31 .06 .92 .7 .62 .26 .31 0 .46-.26 .62 .2 .16 .11 .61 .87 .47 .93 .77 1.16 .31 .66 1.54 4.93 1.55 6.89 2.16 6.33 .16 .33 .15 .14 1.24 .23 .15 0 .47-.46 1.7-2.19 1.54-3.03 2.47-3.99 .31-.22 .78-.29 .77-.52 .77-.26 .47-.28 .61-.53 .62-.13 1.7-1.23 .77-.2 .62-.28 .62-.15 .46-.35 .93-1.04 .46-.16 1.86 .81 .62 0 .77 .66 .62 .28 .77 1.18 .16-.01 .61-.3 .47-.11 .92-.5 .31-.03 .31 .39 2.01 3.15 1.39 2.32 3.09 6.24 1.55 2.69 .15 .21 .16 .08 2.93 .4 13.76-.05 3.09-.23 6.33-1.56 2.32-.42 .93-.15 2.01-.11 1.7-.19 .77 .05 1.08-.03 2.32 .14 3.4-.04 1.08 .09 1.55 .01 .92 .08 2.32-.08 1.7 .06 2.78 .22 1.55-.02 1.85 .08 4.95 .4 2.32 .05 2 .33 2.48 .29 3.24 .62 3.25 .38 6.02 .09 15.46-.03 9.27-.33 3.09 .05 8.19-.29 5.41-.09 8.03-.03 15.61 .11 19.94 .43 15.45 .15" stroke="#4DBEEE" stroke-width="0.50"/>
<path d="M175.90 204.75H195.68M246.67 204.75H277.42M333.67 204.75H355.00" stroke="#4DBEEE" stroke-width="0.42"/>
</g></g>
<path d="M22.97 204.75v-1.60M22.97 117.40v1.60M61.60 204.75v-1.60M61.60 117.40v1.60M100.23 204.75v-1.60M100.23 117.40v1.60M138.87 204.75v-1.60M138.87 117.40v1.60M177.50 204.75v-1.60M177.50 117.40v1.60M16.40 204.75h1.60M177.50 204.75h-1.60M16.40 193.90h1.60M177.50 193.90h-1.60M16.40 183.05h1.60M177.50 183.05h-1.60M16.40 172.20h1.60M177.50 172.20h-1.60M16.40 161.35h1.60M177.50 161.35h-1.60M16.40 150.50h1.60M177.50 150.50h-1.60M16.40 139.64h1.60M177.50 139.64h-1.60M16.40 128.79h1.60M177.50 128.79h-1.60M16.40 117.94h1.60M177.50 117.94h-1.60" stroke="#262626" stroke-width="0.30" fill="none"/>
<g font-size="3.60" fill="#262626" stroke="#262626" stroke-width="0.05">
<text x="22.97" y="210.25" text-anchor="middle">500</text>
<text x="61.60" y="210.25" text-anchor="middle">1000</text>
<text x="100.23" y="210.25" text-anchor="middle">1500</text>
<text x="138.87" y="210.25" text-anchor="middle">2000</text>
<text x="177.50" y="210.25" text-anchor="middle">2500</text>
<text x="14.80" y="205.95" text-anchor="end">0</text>
<text x="14.80" y="195.10" text-anchor="end">0.02</text>
<text x="14.80" y="184.25" text-anchor="end">0.04</text>
<text x="14.80" y="173.40" text-anchor="end">0.06</text>
<text x="14.80" y="162.55" text-anchor="end">0.08</text>
<text x="14.80" y="151.70" text-anchor="end">0.1</text>
<text x="14.80" y="140.84" text-anchor="end">0.12</text>
<text x="14.80" y="129.99" text-anchor="end">0.14</text>
<text x="14.80" y="119.14" text-anchor="end">0.16</text>
</g>
<text x="97.45" y="115.85" text-anchor="middle" font-size="3.50" font-weight="bold" fill="#000" stroke="#000" stroke-width="0.13">GT radiance,Orange Perspex ROI (5x5)</text>
<text x="96.95" y="214.65" text-anchor="middle" font-size="3.60" fill="#2a2a2a">wavelength (<tspan fill="#999">λ</tspan>) nm</text>
<text transform="translate(5.30 161.07) rotate(-90)" text-anchor="middle" font-size="3.60" fill="#2a2a2a">Spectral Radiance W/m<tspan font-size="2.52" dy="-1.3">2</tspan><tspan dy="1.3"> sr nm</tspan></text>
<clipPath id="c4"><rect x="197.60" y="117.10" width="161.00" height="87.95"/></clipPath>
<rect x="197.60" y="117.40" width="161.00" height="87.35" fill="none" stroke="#262626" stroke-width="0.30"/>
<g clip-path="url(#c4)"><g transform="scale(0.500 1)" fill="none" stroke-linejoin="round" stroke-width="0.44">
<path d="M395.2 189.51l.77-1.35 .31-.37 .31-.22 .46-.71 1.08-2.19 .78-1.33 .77-1.92 .77-1.53 .93-2.29 .31-.55 .15-.1 .46-.06 .62-.24 .16 0 .77 .49 .62-.16 .46 .16 .15-.05 .16-.19 .31-.56 .31-.36 .3-.07 .78 .14 .31-.01 .77-.61 .15 0 .31 .14 .62 .65 .15 .06 .31-.31 .62-1.4 .93-1.08 .61-.43 .62-.88 .16-.11 .15 .03 .46 .51 .47-.25 .15-.17 .93-2.52 .31-.63 .15-.13 .16 0 .61 .67 .31 .18 .16-.03 .46-.51 .16-.09 .15 .02 .46 .24 .16 .01 .31-.14 .77-.61 .31 0 .31 .11 .15-.02 .16-.13 .15-.34 .46-2.16 .78-3.09 1.85-10.55 .46-1.59 .16-1.09 .31-.95 .3-.65 .31-.39 .47-.31 .46-1.09 .15-.16 .16 .22 .46 1.4 .47 1.11 1.23 3.47 .15 .14 .16 .05 .15-.07 .47-.95 .46-.25 .15-.17 .47-.92 .15-.14 .16 .09 .15 .35 .46 1.93 .31 .94 .16 .18 .46 .14 .46 1.05 .31-.23 .47-.16 .46-1.1 .15-.18 .16-.04 .15 .11 .16 .25 .77 2 .15 .28 .16 .16 .15 .04 .16-.09 .15-.22 .47-1.23 .15-.21 .15 .27 .78 6.14 .15 .94 .16 .49 .15-.54 .62-3.53 .31-1.16 .15-.44 .46-.71 .16-.13 .15 .08 .47 1.02 .15 .26 .46 .44 .16 .37 1.85 9.34 .16 .3 .15 .08 .16-.05 .15-.17 .46-.89 .31-.32 .16-.51M445.7 146.23l.93-14.91 .15-.4 .62 2.41 .31 .74M449.87 137.98l.15-.52 .16-.14 .31 .07 .15-.26 .47-2.26 .15-.33 .31-.35 .31-.69 .15-.16 .16 .19 .46 1.72 .15 .3 .16 .01 .15-.24 .31-.77 .16-.24 .15 .05 .16 .35 .77 3.14 .62 1.47 .46 1.7 .46 1.29 .77 3.21 .16 .25 .46 .23 .47 .9 .3 .33 .16-.05 .31-.6 .46-.43 .62-1.28 .62-.68 .15-.13 .16-.02 .3 .34 .16 .08 .31-.09 .31-.26 .31-.57 .46-1.22 .15-.12 .47 .07 .46-.08 .46 .35 .31 .58 .47 1.66 .3 .78 .47 .3 .62 1.07 .61 .66 .47 .98 .15 .21 .16 .01 .46-.6 .15-.04 .16 .31 .15 .92 .62 5.62 .62 3.72 .46 3.4M475.82 197.64l.46 1.1 .15 0 .93-.84 .31-.37 .15-.29 .93-3.76 .93-4.37 2.16-11.77 .77-2.84 .31-1.39 .93-5.82 .31-1.04 .3-.58 .31-.1 .31-.29 .31-.11 .16 .32 .92 .54 1.08 .41 .47-.08 .46-.26 .15-.01 .47 .19 .77-.27 .31 .17 .46 .39 1.85 .7 .93 .88 .46 .21 .31 .24 .78 1.05 .3 .31 .31 .24 .31 .14 .62 .06 .77 .94 1.08 2.35 .62 1.04 .31 .98 1.7 7.62 2.32 14.75 .46 1.24 1.08 2.32 .15 .05 .31-.08 1.55-.55 .31-.19 2-4.24 1.55-3.05 2.01-4.21 .61-1.15 .93-.89 .31-.15 .62-.14 .31-.22 .92-1.13 1.24-.85 1.08-1.41 .77-.27 1.08-.68 .62-.54 .77-.94 .31-.21 .16-.01 .61 .53 .78 .21 .46 .3 1.08 .5 .46 .07 .16 .1 .92 2.88 .16-.07 .93-1.54 1.23-.76 .31-.11 .15 .07 1.24 2.44 2.47 3.98 3.86 11.48 2.32 3.21M559.06 202.86l1.08-.52 .31-.23 3.86-3.42 1.54-.42 1.7-.75 2.01-.53 1.08-.44 .62-.15 .77 .08 .93-.03 1.7 .06 .92 .1 .93-.07 .93 .05 1.54-.22 1.08 .16 2.32 .07 1.08-.09 1.85 .24 1.08-.01 .93 .31 .77 .01 1.39 .24 1.08 .01 1.39 .28 .77-.07 .78 .24 .92 .13 3.25 1.02 1.85 .35 1.7 .67 .77 .43 1.39 .65 3.71 2.1M639.52 203.83l.46-.05M651.87 203.59l2.63-.18M655.43 203.34l13.43-.17 6.33 .14M675.97 203.34l7.25 .22M684.31 203.59l3.55 .13M688.63 203.76l1.39 .03" stroke="#0072BD"/>
<path d="M395.2 190.62l.77-.94 .31-.26 .31-.15 .15-.18 2.17-3.07 .92-1.87 .93-1.06 .77-1.32 .16-.14 .61-.24 .62-.55 .31 0 .46 .21 .16-.04 .46-.4 .16-.06 .46 .11 .15-.06 .78-1.24 .15-.1 .31-.05 .62 .12 .31-.05 .3-.35 .47-.76 .31-.26 .15 0 .16 .1 .61 .97 .31-.08 .62-1.33 .46-.68 .47-.49 .61-.3 .62-.96 .16-.15 .15-.01 .46 .45 .31-.17 .31-.29 1.08-2.42 .31-.46 .16-.06 .15 .06 .46 .36 .31 .13 .16-.06 .46-.62 .16-.11 .15 .03 .46 .42 .16 .05 .31-.13 .61-.82 .31-.24 .16-.01 .46 .23 .16-.02 .15-.2 1.24-4.14 .92-4.19 .62-3.28 .31-1.19 .15-.11 .31 .01 .16-.56 .61-.66 .31-.13 .31-.02 .16-.11 .46-.99 .15-.14 .16 .15 .46 1.31 .31 .61 .46 .72 .47 .43 .46 .91 .31 .3 .15 .08 .47-.45 .46-.14 .15-.18 .47-.9 .15-.11 .16 .11 .15 .36 .46 1.7 .31 .66 .16 .06 .46-.15 .16 .14 .3 .51 .47-.38 .31 .01 .46-.51 .15-.02 .16 .07 .31 .38 .77 1.91 .15 .26 .16 .12 .15-.02 .31-.42 .47-1.27 .15-.25 .15 .16 .16 .77 .62 4.35 .15 .84 .16 .43 .15-.48 .62-3.25 .46-1.43 .62-1.02 .15-.06 .47 .38 .15 .01 .46-.24 .16 .13 .31 1.01 .92 4.07 .62 2.28 .16 .14 .15-.07 .16-.18 .61-1.43 .31-.48 .16-.66 1.54-22.05 .77-13.53 .16-1.9 .15-.33 .62 2.44 .15 .23 .16 .1 .15 .34 .16 2.36 .62 31.22 .15 4.44 .15-3.25 .62-27.04 .16-2.7 .15-1.07 .15-.61 .16-.28 .31-.16 .15-.32 .47-2.27 .15-.34 .31-.44 .31-.75 .15-.13 .16 .25 .46 1.7 .15 .16 .16-.2 .46-1.85 .16-.4 .15 .03 .16 .48 .15 .86 .46 2.95 .31 1.1 .16 .22 .31 .1 .15 .16 .62 1.33 .31 1.14 .46 2.46 .15 .55 .16 .28 .15 .07 .31-.02 .16 .12 .77 1.42 .62 .11 .15-.21 .46-1.43 .31-.65 .78-1.04 .3-.12 .47-.44 .46-.29 .46-.68 .16-.07 .46 .55 .16 .04 .46-.49 .15-.08 .16 .03 .15 .13 .16 .24 .77 2.18 .15 .24 .31 .16 .16 .15 .62 1.08 .61 .46 .62 1.29 .16 .06 .46-.41 .15 .05 .16 .37 .77 6.19 .62 4.05 .61 5.17 1.39 9.38 .62 5.16 1.08 7.87 1.08 9.29 .16 .51 1.23 2.38 .16 .18 .15-.03 .62-.57 .46-.6 .31-.6 .78-3.5 1.39-7.2 1.85-15.15 1.23-8.14 .78-7.63 .31-1.94 .3-1.22 .31-.29 .62-1.15 .16 .25 .3-.09 .16 .11 .15 .23 .47 1.03 .31 .38 .61 .17 .93-.12 .15 .07 .47 .45 .15 .05 .47-.2 .15 .03 .62 .68 .15 .08 1.08 .12 .47 .17 .46 .39 .77 1.09 .62 .38 .62 .51 .31 .1 .46-.06 .62 .15 .15-.03 .31-.23 .62 .05 .15 .22 .16 .46 .92 3.25 .31 .54 .31 .29 .16 .35 .15 .78 1.7 12.58 .62 5.3 1.7 17.52 .3 1.58 .93 3.94M510.87 188.96l.47-1.42 .92-2.4 .93-2.84 .31-.66 .62-.76 1.08-.73 .46-.46 .62-.87 .62-.53 .3-.36 .47-.63 .92-1.48 .78-.75 .61-.89 .62-.64 1.08-1.62 .31-.28 .62-.19 .46 .32 .62 .24 .62 .48 .46 .08 .31 .12 .77 .65 .16 .17 .15 .37 .62 1.82 .15 .25 .16-.12 .31-.45 .31-.24 .31-.11 .3 .03 .16-.08 .93-1.26 .15-.11 .15 .07 .78 2.18 1.08 2.75 1.08 2.59 .62 1.28 .15 .47 2.93 12.75M559.83 202.27l.46-.31 1.86-1.72 1.39-1.49 .77-.69 1.08-.24 1.08-.52 1.39-.46 1.54-.31 1.24-.81 .31-.15 .31-.06 .77 .19 2.63-.03 .92 .13 1.55 .01 1.08-.27 .31-.02 1.23 .26 .93-.15 .92-.04 .93 .17 1.85-.04 .31 .04 .78 .27 1.08 .08 .77 .25 .77-.04 1.39 .2 1.08 .02 1.39 .27 .77 .03 1.39 .3 3.09 1.09 1.24 .26 2.78 .91 1.39 .86 .92 .48 3.09 1.95 .93 .51M640.91 203.74l.46 .01M653.42 203.34l2.93-.18 7.26-.06M664.85 203.09l4.01-.03M670.1 203.05l4.32 .08 2.01 .1M677.2 203.27l1.08 .03M680.91 203.36l4.01 .16M687.7 203.61l.77 .04" stroke="#D95319"/>
<path d="M395.2 180.25l.77-3.38 .62-2.06 .93-4.36 .46-1.82 .62-.88 .31-.63 .61-2.01 .31-.79 .93-1.36 .93-2.1 .61-.7 .62-1.08 .16-.12 .15-.01 .46 .33 .16 0 .46-.44 .16-.04 .46 .62 .15 .06 .16-.13 .46-.67 .16-.06 1.08 .11 .31-.11 .77-1.25 .31-.16 .15 .03 .16 .15 .61 1.47 .31-.02 .62-1.97 .31-.46 .31-.19 .15 0 .16 .08 .46 .5 .15 .04 .16-.09 .46-.6 .16 .07 .15 .29 .46 1.35 .31-.19 .31-.35 .62-1.4 .31-.48 .15-.09 .16 .04 .15 .18 .47 .88 .61 .71 .16 .04 .46-.34 .16 .01 .15 .17 .46 1.01 .31 .47 .16 .08 .15-.03 .46-.46 .16-.06 .15 .05 .62 1.02 .16 .13 .46 .03 .15 .13 .47 .74 .15 .13 .16-.01 .46-.37 .15-.01 .47 .16 .61-.24 .16 .06 .46 .53 .16-.32 .46 .34 .77 1.19 .16 .1 .15-.07 .31-.36 .15-.04 .16 .2 .15 .4 .47 1.47 .61 1.65 .93 1.41 .15 .11 .31 .14 .31-.23 .16-.02 .46 .26 .15-.01 .47-.51 .15-.11 .16 .03 .31 .54 .46 1.15 .15 .22 .16 .09 .46 .1 .46 .78 .47-.16 .31 .04 .15-.09 .16-.22 .15-.08 .15 0 .47 .35 .77 1.06 .31 .23 .31-.01 .15-.11 .47-.66 .15-.13 .15 .15 .78 3.48 .15 .55 .16 .29 .15-.34 .62-2.06 .46-.74 .62-.51 .15-.01 .47 .33 .15 .01 .46-.16 .16 .15 .15 .43 .93 3.53 .77 2.5 .16 .15 .31-.15 .61-1.02 .31-.24 .16-.59 .15-1.84 1.39-23.14 .77-15.34 .16-2.3 .15-.56 .16 .43 .46 2.13 .46 1.33 .16 2.69 .62 34.18 .15 4.8 .15-3.87 .62-31.1 .16-2.79 .15-.83 .15-.34 .16-.03 .15 .11 .16 .01 .15-.29 .47-2.4 .15-.4 .31-.5 .31-.81 .15-.2 .16 .15 .46 1.61 .15 .25 .16-.07 .62-1.94 .15-.11 .16 .24 .15 .52 .31 1.37 .31 1.03 .15 .37 .47 .69 .46 1.44 .62 1.29 .61 1.98 .16 .23 .46 .33 .16 .31 .46 1.45 .31 .59 .62-.47 .15-.32 .62-2.07 .15-.24 1.08-.95 .93-1.89 .46-1.13 .16-.23 .15 .01 .62 .69 .31 .46 .62 1.29 .62 1.67 .15 .27 .15 .09 .31-.07 .16 .14 .31 .7 .31 .95 .61 1.16 .47 1.11 .15 .19 .16-.03 .3-.37 .16-.07 .15 .15 .16 .51 .15 1.04 .62 5.46 .62 3.7 .61 5.27 1.39 10.8 .62 5.42 1.24 8.36 .77 6.3 .15 .99 .16 .57 1.23 3.11 .16 .23 .15-.08 .31-.45 .93-1.58 .15-.47 .31-1.9 2.01-14.6 1.7-15.18 1.08-7.15 .77-8.3 .16-1.41 .15-.74 .16 .27 .46 1.98 .15 .22 .16-.01 .15-.12 .31-.35 .16 .22 .3-.27 .16 .01 .31 .48 .62 1.54 .61 1.1 .16 .15 .31 .23 .15-.03 .46-.38 .16 .02 .46 .31 .47 .1 .3 .26 .62 .75 1.08 .93 .62 .89 .93 1.75 .92 .48 1.7 2.04 .31 .28 .31 .18 .62 1.08 .62 1.55 .46 .94 .77 .95 .16 .39 .15 .79 1.7 10.41 2.16 18.61 .31 1.98 1.08 4.22 .31 .97 .15 .06 .16-.1 1.39-1.21M507.94 197.53l1.7-5.19 3.7-9.11 .93-1.08 .93-.63 1.08-1.55 .62-.49 .92-1.61 .47-.68 .46-.4 .62-.29 .31-.3 .77-.99 .77-1.32 .46-.66 .31-.27 .62-.02 .46 .47 1.24 .93 1.7 .9 .31 .72 .46 1.51 .15 .32 .16 0 .46-.43 .31-.18 .62-.1 .77-.59 .31-.06 .15 .14 .78 2.16 2 4.96 .93 1.9 3.71 13.43 .31 .88 .61 1.22 1.86 3.3 .31 .09 4.01 .13M556.59 204.15l3.55-1.68 .92-.71 3.25-2.77 3.24-1.03 2.01-.54 1.08-.58 .62-.14 .77 .16 1.08-.05 .93 .1 .77-.03 .77 .11 .93-.08 .93 .09 .92-.18 1.24 .16 1.23-.07 .93 .04 .62 .1 .77-.09 1.08-.03 2.32 .29 .77 .2 1.08-.02 1.24 .3 2.78 .14 .92 .3 .77 .01 1.86 .63 2.62 .58 2.63 .75 5.56 2.95 2.16 1.04M635.5 204.33l4.48-.49 6.18 .22 9.27-.66 3.39-.07 2.01 .03 9.88-.08 4.79 .09 2.63 .13 8.34 .21 15.44 .59" stroke="#EDB120"/>
<path d="M395.2 191.42l.62-.54 .31-.1 .46 .05 2.16-1.28 .31-.29 .77-1.01 .78-.59 .77-.84 .31-.25 .61-.12 .62-.21 .77 .2 .16-.07 .62-.62 .61 .06 .16-.1 .46-.54 .31-.24 .31-.1 .62 .07 .31-.07 .61-.65 .31-.2 .47 .04 .61 .44 .31-.12 .62-.95 .77-.75 .62-.44 .31-.31 .62-1.04 .31-.22 .3-.03 .62-.61 .93-2 .31-.53 .15-.15 .62-.33 .46-.41 .78-1.03 .61-.2 .47-.68 .92-1.95 .62-.88 .16-.31 .15-.58 2.16-16.66 .93-8.33 .46-2.01 .16-1.29 .61-2.58 .47-1.42 .31-.33 .46-1.39 .15-.27 .16 .08 .46 1.32 .93 2.07 .31 .44 .46 .98 .15 .06 .31-.01 .31-.58 .16-.16 .31-.03 .15-.09 .15-.29 .47-1.72 .15-.39 .16-.05 .15 .35 .46 2.41 .31 1.2 .16 .25 .31 .25 .15 .24 .46 1.43 .47-.73 .15-.14 .16-.03 .15-.21 .16-.4 .15-.2 .15-.06 .31 .11 .31 .3 .77 1.35 .31 .38 .16 .05 .15-.11 .16-.32 .46-1.51 .15 .13 .16 .98 .62 6.06 .15 1.28 .16 .74 .15-.6 .62-4.48 .46-2.05 .31-.31 .31-.43 .15-.04 .47 .59 .61 .37 .16 .45 .15 .97 1.08 8.87 .62 4.11 .16 .39 .15 .1 .16-.04 .61-1.05 .16-.1 .15 0 .16-.48 .15-1.77 .77-13.08 .62-9.28 .77-15.89 .16-2.28 .15-.41 .62 3.01 .31 .55 .15 .5 .16 2.73 .62 34.46 .15 4.89 .15-3.51 .62-29.36 .16-2.84 .15-.98 .15-.4 .16 .02 .31 .33 .15-.26 .47-2.67 .15-.37 .31-.36 .31-.74 .15-.17 .16 .25 .46 2.01 .15 .33 .16-.06 .15-.43 .47-2.06 .15-.17 .16 .35 .15 .81 .46 3.18 .31 1.35 .62 1.21 .62 1.79 .77 3.39 .15 .37 .16 .12 .31-.12 .15 .04 .16 .24 .77 2.52 .46 .2 .16-.11 .15-.38 .62-2.46 .31-.37 .62-.45 .3-.04 .16-.19 .62-1.25 .61-1.48 .16-.11 .15 .19 .47 .96 .46 .35 .77 .81 .77 1.92 .47 .39 .62 .97 .46 .28 .15 .21 .47 .99 .15 .13 .16-.13 .46-.93 .15-.05 .16 .4 .15 1.17 .77 8.74 .78 6.43 1.54 10.68 .93 7.68 1.08 6.85 .77 6.43 .15 .95 .16 .5 .46 1 .62 1.66 .31 .55 .15-.04 .31-.27 .47-.58 .3-.52 .31-.78 .78-3.81 1.08-6.15 .61-4.17 1.55-13.86 .31-1.96 .62-2.24 .3-1.62 .78-7.7 .15-.95 .16-.53 .15-.26 .15-.07 .31 .24 .62-.56 .16 .38 .46-.22 .15-.01 .31 .25 1.08 1.59 .47 .2 .15-.04 .46-.43 .47-.23 .62-1.08 .15-.14 .15 0 .47 .24 1.39 .03 .31 .08 .3 .26 .47 .82 .31 .32 .15-.01 .16-.11 .46-.46 .31-.07 .15 .11 .47 .63 .3 .23 .31-.06 .93-.54 .62 .57 .92 3.26 .47 1.12 .46 .67 .16 .43 .15 .93 1.7 13.55 2.32 26.95 1.39 8.56 .15 .65 .15 .16 1.24-.67 .62-.25 .31-.28 1.39-4.55 .92-3.39 1.08-3.12 .93-3.28 1.85-5.96 .93-1.42 .93-.83 .15-.21 .31-.48 .62-1.23 .15-.18 .47-.31 .46-.48 1.39-2.2 .62-.67 .61-.84 .78-.84 1.08-1.81 .31-.25 .46-.2 .62-.63 .15-.01 .62 .23 .77 .39 1.08 1.04 .16 .21 .15 .42 .62 2.19 .15 .31 .16-.11 .62-1.2 .31-.46 .46-.24 1.08-.8 .15 .07 .16 .32 1.7 5.33 1.08 2.74 .62 1.3 .15 .53 3.86 19.29 2.47 5.69 .16 .26 .15 .1 7.26 .38 8.49-.27 2.78-1.42 1.55-.88 .77-.63 3.4-3.18 1.39-.46 1.23-.56 2.17-.57 .46-.18 1.08-.61 .62-.21 .92 .16 1.7 .12 .93-.03 1.08 .13 2.93-.15 1.24 .12 1.39-.1 .93 .21 .77-.09 .62 .05 .61-.04 2.78 .49 .62 .03 .93 .17 2.01 .04 1.08 .21 .77 .01 .93 .29 .92 .03 1.24 .48 1.85 .58 2.01 .53 .93 .39 .77 .21 1.23 .75 1.7 .9 2.63 1.6 3.09 1.67 .31 .08 14.51 .13 9.11-.26 6.18-.76 6.18 .25 9.27-.74 14.05-.15 3.86 .07 13.13 .43 16.06 .68 14.67 .35" stroke="#7E2F8E"/>
</g></g>
<path d="M204.16 204.75v-1.60M204.16 117.40v1.60M242.77 204.75v-1.60M242.77 117.40v1.60M281.38 204.75v-1.60M281.38 117.40v1.60M319.99 204.75v-1.60M319.99 117.40v1.60M358.60 204.75v-1.60M358.60 117.40v1.60M197.60 204.75h1.60M358.60 204.75h-1.60M197.60 192.04h1.60M358.60 192.04h-1.60M197.60 179.32h1.60M358.60 179.32h-1.60M197.60 166.61h1.60M358.60 166.61h-1.60M197.60 153.89h1.60M358.60 153.89h-1.60M197.60 141.18h1.60M358.60 141.18h-1.60M197.60 128.46h1.60M358.60 128.46h-1.60" stroke="#262626" stroke-width="0.30" fill="none"/>
<g font-size="3.60" fill="#262626" stroke="#262626" stroke-width="0.05">
<text x="204.16" y="210.25" text-anchor="middle">500</text>
<text x="242.77" y="210.25" text-anchor="middle">1000</text>
<text x="281.38" y="210.25" text-anchor="middle">1500</text>
<text x="319.99" y="210.25" text-anchor="middle">2000</text>
<text x="358.60" y="210.25" text-anchor="middle">2500</text>
<text x="196.00" y="205.95" text-anchor="end">0</text>
<text x="196.00" y="193.24" text-anchor="end">0.01</text>
<text x="196.00" y="180.52" text-anchor="end">0.02</text>
<text x="196.00" y="167.81" text-anchor="end">0.03</text>
<text x="196.00" y="155.09" text-anchor="end">0.04</text>
<text x="196.00" y="142.38" text-anchor="end">0.05</text>
<text x="196.00" y="129.66" text-anchor="end">0.06</text>
</g>
<text x="278.60" y="115.85" text-anchor="middle" font-size="3.50" font-weight="bold" fill="#000" stroke="#000" stroke-width="0.13">MEAN of ROI of target (Orange Perspex)</text>
<text x="278.10" y="214.65" text-anchor="middle" font-size="3.60" fill="#2a2a2a">wavelength (<tspan fill="#999">λ</tspan>) nm</text>
<text transform="translate(186.50 161.07) rotate(-90)" text-anchor="middle" font-size="3.60" fill="#2a2a2a">Spectral Radiance W/m<tspan font-size="2.52" dy="-1.3">2</tspan><tspan dy="1.3"> sr nm</tspan></text>
<rect x="244.10" y="121.30" width="110.90" height="20.70" fill="#fff" stroke="#262626" stroke-width="0.30"/>
<path d="M245.40 124.35h10.40" stroke="#0072BD" stroke-width="0.30"/>
<text x="259.00" y="125.60" font-size="3.52" fill="#000" stroke="#000" stroke-width="0.05">CHIMES Rad.: TIAEM NRMSE wrt GT:32.8%SAM :0.19314</text>
<path d="M245.40 129.22h10.40" stroke="#D95319" stroke-width="0.30"/>
<text x="259.00" y="130.47" font-size="3.52" fill="#000" stroke="#000" stroke-width="0.05">CHIMES Rad.: BOAEM NRMSE wrt GT:26.2%SAM :0.13265</text>
<path d="M245.40 134.08h10.40" stroke="#EDB120" stroke-width="0.30"/>
<text x="259.00" y="135.33" font-size="3.52" fill="#000" stroke="#000" stroke-width="0.05">CameoSIM Radiance :NRMSE wrt GT:37.3%SAM :0.27756</text>
<path d="M245.40 138.95h10.40" stroke="#7E2F8E" stroke-width="0.30"/>
<text x="259.00" y="140.20" font-size="3.52" fill="#000" stroke="#000" stroke-width="0.05">Ground Truth (GT)</text>
<clipPath id="c5"><rect x="383.50" y="117.10" width="161.50" height="87.95"/></clipPath>
<rect x="383.50" y="117.40" width="161.50" height="87.35" fill="none" stroke="#262626" stroke-width="0.30"/>
<g clip-path="url(#c5)"><g transform="scale(0.500 1)" fill="none" stroke-linejoin="round" stroke-width="0.44">
<path d="M767 202.64l3.25-.27 1.55-.31 1.09-.06 1.7-.23 .93-.02 .77-.13 .78 .03 .93-.23 1.08-.09 .93-.16 1.09 .11 1.08-.2 3.1 .04 1.39-.24 1.4 .04 1.08-.27 1.4-.19M793.34 171.96l1.08-9.36 .31-1.5 .62-2.25 .15-1.17 .16-.64 .31-.79 .31-.42 .46-.26 .16-.21 .46-1.26 .16-.2 .15 .17 1.24 3.14 .16 .29 .77 1 .47 .23 .46-.45 .47-.1 .15-.11 .62-1.32 .16-.2 .15 .02 .31 .75 .47 1.64 1.08 2.2 .46-.82 .16-.19 .15-.04 .31-.26 .16 .04 .46 .45 .47 .25 .62 .8 .31 .18 .15-.04 .16-.13 .62-.96 .15 .11 .16 .56 .62 3.38 .15 .72 .16 .4 .15-.41 .62-3.06 .16-.17 .46 1.72 .47 1.1 .15 .7 .62 3.72 2.01 10.68 .16 .6 .62 .97 .15 .12 .16-.01 .46-.5 .16-.12 .31-.1 .15-.22 .62-1.49 .78-1.18 .77-2.73 .16-.35 .15 .02 .62 1.32 .47 .49 .15 .97 .62 12.89 .16 1.86 .15-1.37 .62-11.28 .16-.83 .15-.07 .16 .11 .15 .22 .46 .8 .16 .1 .46 .12 .78 .43 .62 1.05 .15 .17 .31 .1 .47-.1 .31 .16 .93 1.54 .46 .39 .62 .84 .93 1.04 .78 .7 .46 .7 .31 .3 .31-.05 .62 .22 .46-.03 1.09 .1 .62-.26 .31-.06 .93 .25 1.08 .59 1.71 1.12 1.39 1.18 .78 1.02 .77 .57 .16 .18 .92 1.79 .47 .56 .77 1.13 1.24 1.62 .62 1.17 1.55 2.61 1.71 1.44 .46 .3 1.09-.24 2.01-.62 1.24-.84 1.24-.72 .77-.33 1.24-.75 .78-.09 .77-.23 .78-.12 1.39 .22 1.08-.07 1.86 .16 1.09-.04 2.32 .32 1.86 .36 1.08-.02 .47 .08 .31 .12 .77 .5 1.4 .66 2.63 1.54 2.48 1.31 7.28-.88 4.34 .87 5.58-1.44 .62-.11 1.54 .15 3.1-.05 1.55 .15 3.1 .09 5.89 1.34M931.52 204.36l5.11-.42 4.03-.2 2.94-.21 1.86-.02 6.66 .17 4.5 0 8.52 .15 8.21 .45" stroke="#0072BD"/>
<path d="M767 202.76l2.79-.21 1.55-.25 1.08-.03 1.24-.18 2.02-.08 .77-.16 2.63-.22 1.24-.24 1.09 .16 1.55-.2 1.55-.03 1.08 .08 1.55-.29 1.55-.08 .93 .05 .46-.09 .78-.27 .15-.26 .16-.69 .62-3.7 .15-1.36 1.4-21.06 .46-3.57 .62-4.01 .77-3.79 .31-2.18 .16-.65 .15-.3 .16-.06 .62 .52 .15-.05 .16-.26 .46-1.74 .16-.36 .15 .09 .62 2.11 .31 .72 .31 .45 .47 .44 .46 1.12 .31 .37 .16 .07 .46-.38 .31-.01 .16-.09 .31-.64 .46-1.43 .16-.24 .15 .01 .16 .26 .15 .47 .62 2.09 .93 1.49 .46-.66 .47-.38 .15-.28 .16-.12 .15-.02 .31 .23 .16 .22 .77 1.48 .16 .16 .31 .06 .31-.26 .62-1.25 .15 .09 .16 .58 .62 3.67 .15 .68 .16 .34 .15-.45 .62-3.12 .16-.24 .15 .46 .62 2.71 .93 5.62 1.7 8.28 .47 1.94 .15 .22 .47 .17 .31-.13 .46-.42 .47-.18 .77-1.32 .62-.54 .16-.27 .62-1.98 .15-.44 .16-.24 .15 .07 .62 1.06 .47 .38 .15 .86 .62 11.34 .16 1.61 .15-1.21 .62-9.86 .16-.66 .15 .02 .16 .16 .46 .7 .15 .14 .47 .07 .46 .18 .47 .01 .15 .16 .47 .82 .15 .15 .16 .04 .46-.26 .16-.01 .15 .09 .78 1.26 .77 .64 .47 .74 .15 .16 .62 .3 .78 .66 .62 .64 .31 .21 .46 0 .47 .27 .15 .03 .46-.18 .31-.04 .31 .07 .47 .24 .31 .08 .46-.07 .62 .01 .47-.1 1.24 .31 .62 .29 .31 .3 1.24 1.54 .31 .25 .46 .15 .31 .2 .62 .76 .78 .68 .77 1.24 .77 .76 .78 .98 3.1 4.58 .46 .4 1.86 1.25 .93-.16 2.17-.63 1.08-.54 1.4-.87 .93-.37 .93-.51 .31-.08 .77 .06 1.24-.37 2.79 .27 1.24-.12 2.94 .42 .93-.01 .93 .18 2.79 .27 1.55 .71 1.86 1.01 1.7 .83 2.17 1 7.28-.75 4.34 .75 6.35-1.38 4.96 .11 1.08 .1 1.4 .01 1.7 .12 1.55 .25 4.65 .96M931.37 204.43l4.64-.36 8.68-.41 21.53 .31 5.11 .26M973.35 204.33l.46 .02" stroke="#D95319"/>
<path d="M767 202.1l2.01-11.22 1.55-10.4 .62-4.91 .16-.8 .31-.88 .15-.22 .47-.22 .31-.43 .77-2.19 .31-.56 .62-.55 .47-.76 .15-.09 .16 .06 .46 .43 .16-.03 .46-.67 .15-.13 .16 .07 .46 .99 .16 .19 .46 .24 .16 .14 .46 .6 .47 .73 .15 .13 .31-.01 .16-.16 .62-1.17 .15-.21 .16-.09 .15 .1 .16 .24 .46 .96 .16 .2 .31 .02 .31-.32 .15-.07 .16 .06 .46 .54 .47-.02 .46 .14 .16-.02 .62-.62 .15-.06 .16 .05 .15 .16 .31 .5 .62 .4 .31-.06 .62 .01 .31-.09 .15 .08 .47 .69 .31 .3 .31-.03 .15-.13 .62-.86 .16-.06 .15 .07 .62 .88 .31 .29 .16-.01 .46-.28 .16 .03 .15 .16 .47 1.02 .31 .51 .31 .21 .31 .1 .31-.06 .62-.59 .15-.01 .62 .5 .16-.01 .46-.36 .15-.04 .47 .32 .15-.17 .31 .2 .78 .16 .31-.17 .31-.36 .15-.08 .16 .09 .62 1.32 .93 1.38 .62 .76 .15 .1 .31-.19 .47-.67 .15-.12 .62 .02 .47-.36 .15-.04 .16 .08 .15 .23 .62 1.43 .16 .22 .62 .41 .46 .66 .31-.39 .77-1.37 .16-.08 .31 .2 1.39 1.48 .31 .11 .16-.03 .46-.28 .16 .09 .77 1.55 .31 .42 .16 .05 .62-1.6 .15-.29 .16-.1 .46 .45 .47 .18 .15 .36 1.55 8.02 .15 .41 .62 1.05 .31 .4 .16 .1 .77-.38 .62-.56 .16-.23 1.08-3.73 .31-.85 .47-1.01 .77-1.16 .31-.28 .16 .05 .46 .83 .47 .62 .15 .94 .62 11.46 .16 1.61 .15-1.41 .62-10.84 .16-.73 .15-.01 .62 .53 .15 .01 .47-.24 .46 .16 .47-.04 .15 .08 .47 .55 .31 .19 .62-.25 .15 .03 .16 .13 .77 1.13 .16 .1 .46 .04 .16 .08 .77 .83 .62 .84 .78 .39 .62 .58 .15 .06 .31-.06 .47 .26 .31 .06 .92-.41 .16-.01 .46 .24 .31 .04 .62-.22 .78-.17 .77 .44 .62 .53 .62 .4 1.24 1.41 .47 .45 .62 .45 .77 .91 .62 .55 .93 1.4 .62 .62 1.86 2.25 1.08 1.55 1.24 1.59 2.17 1.58 2.01-.51 1.09-.37 2.63-1.66 1.09-.44 .77-.42 .31-.08 1.4-.05 .62-.09 1.23 .06 1.09 .14 1.24 .26 2.63 .16 1.24 .3 2.17 .15 .77 0 .78 .12 3.56 1.54 1.09 .33 2.94 1.11 7.28-.69 4.34 .69 5.58-1.11 .62-.07 1.39-.01 1.7 .13 4.19 .07 1.86 .1 7.9 1.25 11 .01M928.11 204.7l6.97-.48 7.9-.32 7.44-.02 1.86 .06 14.25 .11 13.94 .65M999.53 204.7l44.31-.13 32.84 .13" stroke="#EDB120"/>
<path d="M767 203.33l4.96-.07 2.63-.17 1.09 .06 3.25-.09 2.17-.19 .93-.25 1.24-.22 2.32-.3 1.24-.34 1.08-.17 .93-.41 .78-.16 .46-.19 .78-.47 .15-.45 .62-5.9 .31-4.33 .62-20.38 .62-16.93 .93-13.45 1.39-16.15 .31-1.33 .16-.35 .15-.17 .31-.19 .16-.22 .15-.47 .62-3.68 .16-.55 .15 .03 .62 2.66 .31 .79 .16 .25 .15 .07 .31-.23 .16-.03 .15 .19 .31 .92 .47 .92 .46-.58 .16-.07 .46 .09 .16-.15 .15-.29 .31-.74 .16-.21 .15 .04 .16 .34 .46 1.79 .16 .36 .46 .32 .16 .42 .46 2.94 .31 .66 .15 .19 .16 .15 .15-.03 .47-2.77 .15-.31 .16 .27 .46 2 .78 4.31 .31 1.13 .15 .33 .16 .16 .15-.06 .31-.57 .16-.11 .15 .3 .16 .91 .62 6.58 .15 1.2 .16 .64 .15-.59 .47-3.16 .15-.65 .16-.08 .46 2.17 .16 .34 .31 .37 .15 .52 2.32 17.48 .47 2.54 .46 .95 .16 .19 .15 .02 .16-.21 .46-.98 .16-.03 .31 .5 .15 .06 .16-.18 .62-2.16 .15-.35 .47-.59 .15-.44 .78-3.83 .15-.21 .16 .36 .46 1.84 .47 .82 .15 1.52 .62 19.54 .16 2.81 .15-2.07 .62-16.75 .16-1.2 .15-.05 .16 .25 .15 .47 .46 1.63 .16 .21 .62-.03 .46-.35 .16-.03 .15 .2 .47 1.17 .15 .21 .16 .01 .15-.15 .31-.49 .16-.14 .15 .08 .16 .28 .62 2.05 .15 .34 .16 .17 .46-.02 .16 .17 .77 2.71 .78 3.43 .15 .4 .47 .78 .62 1.39 .15 .14 .31-.39 .16-.1 .31-.07 .15-.13 .62-1.07 .62-.62 .15-.05 1.09 .04 .15-.03 .16-.12 .62-1.12 .15-.02 .16 .11 .77 .81 .78 1.14 .77 1.95 1.71 2.91 1.39 4.51 1.08 4.57 .47 1.38 .93 1.82 .62 .98 .15 .07 .93-1.47 .47-1.24 .15-.24 .16 .28 .46 1.8 .93 4.35 1.09 2.6 1.24 2.65 .15 .2 .16-.05 .15-.19 1.08-1.56 1.4-3.84 1.39-4.4 .31-.79 .31-.35 .16-.06 .46 .01 .31-.27 .31-.68 .47-1.52 .15-.32 .16-.09 .15 .21 .31 .68 .31 .38 .62 .08 .16 .17 .62 .23 .93-.05 1.08 .48 .46 .04 .31-.11 .62-.6 .31-.14 .78 .48 1.24 .14 1.08 .42 .31-.02 .47-.14 .15 .02 .78 .46 .93 .3 .46-.01 .46-.17 .47-.03 .31 .06 .15 .11 1.86 2.69 .78 .93 .15 .3 .93 3.05 1.4 3.94 2.17 4.13 .15 .21 .16 .05 2.94-.72 .62-.59 1.08-1.25 1.09-1.05 1.08-1.24 .31-.25 .31 .25 2.94 3.37 .93 .97 .16 .08 .15-.07 .31-.32 2.02-2.26 1.86-1.97 .93-.28 1.39-.09 1.08-.27 .78-.06 1.08 .09 .78-.01 1.39 .4 2.33 .21 1.86 .62 1.54 1.25 2.64 2.47 2.94 1.53 .31 .08 15.34 .17 7.74-1.03 3.57-.26 4.02-.38 2.48-.15 2.48 .14 5.11 .02 2.33 .1 1.55-.04 4.33 .12 2.79-.01 2.64 .07 1.39 .19 13.94 1.24 59.8-.35 48.49 .35" stroke="#7E2F8E"/>
</g></g>
<path d="M390.08 204.75v-1.60M390.08 117.40v1.60M428.81 204.75v-1.60M428.81 117.40v1.60M467.54 204.75v-1.60M467.54 117.40v1.60M506.27 204.75v-1.60M506.27 117.40v1.60M545.00 204.75v-1.60M545.00 117.40v1.60M383.50 204.75h1.60M545.00 204.75h-1.60M383.50 195.91h1.60M545.00 195.91h-1.60M383.50 187.07h1.60M545.00 187.07h-1.60M383.50 178.23h1.60M545.00 178.23h-1.60M383.50 169.39h1.60M545.00 169.39h-1.60M383.50 160.54h1.60M545.00 160.54h-1.60M383.50 151.70h1.60M545.00 151.70h-1.60M383.50 142.86h1.60M545.00 142.86h-1.60M383.50 134.02h1.60M545.00 134.02h-1.60M383.50 125.18h1.60M545.00 125.18h-1.60" stroke="#262626" stroke-width="0.30" fill="none"/>
<g font-size="3.60" fill="#262626" stroke="#262626" stroke-width="0.05">
<text x="390.08" y="210.25" text-anchor="middle">500</text>
<text x="428.81" y="210.25" text-anchor="middle">1000</text>
<text x="467.54" y="210.25" text-anchor="middle">1500</text>
<text x="506.27" y="210.25" text-anchor="middle">2000</text>
<text x="545.00" y="210.25" text-anchor="middle">2500</text>
<text x="381.90" y="205.95" text-anchor="end">0</text>
<text x="381.90" y="197.11" text-anchor="end">0.005</text>
<text x="381.90" y="188.27" text-anchor="end">0.01</text>
<text x="381.90" y="179.43" text-anchor="end">0.015</text>
<text x="381.90" y="170.59" text-anchor="end">0.02</text>
<text x="381.90" y="161.74" text-anchor="end">0.025</text>
<text x="381.90" y="152.90" text-anchor="end">0.03</text>
<text x="381.90" y="144.06" text-anchor="end">0.035</text>
<text x="381.90" y="135.22" text-anchor="end">0.04</text>
<text x="381.90" y="126.38" text-anchor="end">0.045</text>
</g>
<text x="464.75" y="115.85" text-anchor="middle" font-size="3.50" font-weight="bold" fill="#000" stroke="#000" stroke-width="0.13">STD DEV of ROI of target (Orange Perspex)</text>
<text x="464.25" y="214.65" text-anchor="middle" font-size="3.60" fill="#2a2a2a">wavelength (<tspan fill="#999">λ</tspan>) nm</text>
<text transform="translate(372.40 161.07) rotate(-90)" text-anchor="middle" font-size="3.60" fill="#2a2a2a">Spectral Radiance W/m<tspan font-size="2.52" dy="-1.3">2</tspan><tspan dy="1.3"> sr nm</tspan></text>
<rect x="452.50" y="121.10" width="89.20" height="20.50" fill="#fff" stroke="#262626" stroke-width="0.30"/>
<path d="M453.80 124.12h10.40" stroke="#0072BD" stroke-width="0.30"/>
<text x="466.10" y="125.37" font-size="3.52" fill="#000" stroke="#000" stroke-width="0.05">CHIMES Rad.: TIAEM NRMSE wrt GT:53.6%</text>
<path d="M453.80 128.94h10.40" stroke="#D95319" stroke-width="0.30"/>
<text x="466.10" y="130.19" font-size="3.52" fill="#000" stroke="#000" stroke-width="0.05">CHIMES Rad.: BOAEM NRMSE wrt GT:58.5%</text>
<path d="M453.80 133.76h10.40" stroke="#EDB120" stroke-width="0.30"/>
<text x="466.10" y="135.01" font-size="3.52" fill="#000" stroke="#000" stroke-width="0.05">CameoSIM Radiance :NRMSE wrt GT:85.2%</text>
<path d="M453.80 138.58h10.40" stroke="#7E2F8E" stroke-width="0.30"/>
<text x="466.10" y="139.83" font-size="3.52" fill="#000" stroke="#000" stroke-width="0.05">Ground Truth (GT)</text>
<clipPath id="c6"><rect x="18.60" y="221.30" width="161.10" height="87.70"/></clipPath>
<rect x="18.60" y="221.60" width="161.10" height="87.10" fill="none" stroke="#262626" stroke-width="0.30"/>
<g clip-path="url(#c6)"><g transform="scale(0.500 1)" fill="none" stroke-linejoin="round" stroke-width="0.44">
<path d="M37.2 306.47l.93-.35 .62-.11 1.08-.34 1.39-.53 1.23-.57 2.63-.97 .77-.1 2.01-.68 1.24-.12 .77-.22 .62 0 .46 .1 .62 .38 .62 .19 1.24 .93 .77 .49 .93 1.19 1.7 1.84 1.7 .5M65.79 233.67l.46-3.33 1.24-6.05 .15-.57 .16-.26 .31 .04 .31-.11 .15 .18 .15 .46 .47 1.94 .77 2.67 .16 .2 .15 .13 .15 0 .31-.63 .16-.14 .46 .27 .16-.14 .46-1.18 .15-.11 .16 .24 .15 .61 .62 4.06 .16 .67 .15 .34 .31 .16 .15 .18 .16 .49 .31 1.65 .62 1.65M75.99 231.36l.15-.07 .31 .09 .62 .65 .31 .11 .15-.12 .16-.34 .46-1.82 .16-.3 .15 .17 .15 .66 .16 1.29 .46 6.1 .31 3.09 .16 .52 .15-.53 .31-1.76 .15-.55 .16-.21 .15 .37 .47 3.99M82.48 253.27l.62 4.29M84.33 264.63l.16 .54 .15 .29 .31 .31 .16 .06 .15-.04 .46-.48 .16-.08 .31 0 .15-.26 .62-1.8 .15-.21 .31-.06 .16-.1 .15-.34 .62-2.73 .15-.48 .16-.25 .15 .04 .16 .34 .46 1.82 .31 .82M91.75 265.34l.15-.14 .16 .18M92.83 267.03l.47-.46 .3 0 .31-.22 .16-.04 .15 .16 .47 1.26 .31 .56 .15 .06 .46-.31 .16 .04M97.16 271.72l.15 .16 .16 .32 1.54 6.67 1.08 2.42 .16-.17 .46-1.03 .47-.34 .15-.22 .46-1.05 .16-.25 .15-.1 .62 .31 .31-.03 .46-.22 .62 .2 .47 .04 .15 .1 .62 .84 .46 .28 .16 .17 1.23 2.46 1.24 2.01 .46 1.29 .78 2.72 .61 1.74M111.38 294.17l.15 .21 .46 .29 .78 .98 .46 .39 .15 .02 .62-1.06 .62-.86 .46-.86 .16-.13 .15 .26 .31 .9M118.02 305.86l.15 .2 .16-.02 1.08-.26 .46-.21 .62-.98 2.01-3.78 .77-.78 .62-.76 .93-.63 .31-.39 .31-.56 .15-.14 .16-.05 .31 .17 .61 .74 .31 .06 .47-.05 .46 .16 .31 .18 .77 .63 .62 .34 1.55 .51 .77 .16 .62 .27 .61 .17 1.86 .94 1.08 .28 1.24 .56 .62 .18 .77 .09 .62 .22 .61 .36 .62 .48 1.7 1.14 1.55 1.29M158.97 307.9l.62-.26M163.76 306.22l2.32-.47 .77 .07M169.33 305.99l2.31-.01 .93 .13 2.47 .51 2.01 .84" stroke="#0072BD"/>
<path d="M37.2 307.11l1.55-.22 4.79-1.03 2.78-.38 .77-.02 .93-.22 1.23-.06 .78-.16 .31-.01 .61 .12 .62 .25 1.39 .29 1.24 .41 1.54 1.26 1.09 .79 1.85 .04 .15-.12 .16-.35 1.85-5.58M61.93 294.09l.61-6.06M63.63 269.87l1.08-18.88 1.08-16.06 .31-2.68 .31-2.02 .92-4.67 .16-.55 .15-.18 .16 .26 .31 1.07 .15 .26 .31 .1 .15 .19 .78 1.41 .46 1.35 .46 .82 .31 .21 .47 .85 .15 .11 .16-.17 .61-2.35 .16-.21 .15 .25 .16 .69 .46 3.26 .31 1.4 .46 .92 .47 1.6 .15-.04 .16 .11 .31 .48 .15 .05 .15-.94 .31-2.93 .31-1.75 .16-.09 .15 .25 .47 1.07 .61 1.14 .31 .72 .16 .17 .15-.09 .16-.38 .31-1.14 .15-.36 .15 .01 .16 .65 .77 8.27 .16 .67 .15-.32 .31-1.38 .15-.44 .16-.21 .15 .23 .78 4.85 1.54 11.91 1.39 7.85 .16 .73 .15 .41 .16 .2 .15 .1 .16-.05 .46-.64 .15-.12 .16 .02 .31 .23 .15-.17 .62-1.6 .15-.19 .31-.13 .16-.17 .15-.39 .62-2.61 .31-.71 .15-.02 .16 .26 .46 1.52 .47 1.15 .15 1.57M91.6 267.38l.15-1.38 .15-.34 .16 0 .15 .28 .31 .86 .16 .26 .15 .04 .47-.38 .3 .09 .31-.22 .16-.04 .15 .2 .62 2.28 .16 .32 .15 .12 .46-.15 .16 .16 .77 2.43 .15 .31 .16 .16 .31 .08 .15 .11 .16 .33 1.54 6.85 .62 1.21 .46 1.33 .16 0 .93-1.41 .77-1.9 .15-.22 .16-.07 .62-.1 .46 .17 .15 .13 .47 .65 .15 .1 .16-.01 .46-.28 .16-.01 .61 .29 .47 .57 1.23 2.55 .62 .98 .93 1.87 .31 .87 .77 2.78 .77 2.07 .62 2.54 .16 .54 .15 .27 1.08 1.01 .77 .49 .62-.84 .62-.59 .46-.84 .16-.17 .15 .2 .47 1.37 .92 3.74 1.09 6.63 .15 .71 .15 .21 1.4-.33 .3-.15 .62-1 2.01-3.77 1.55-1.8 .77-.58 .31-.32 .31-.46 .15-.12 .31-.02 .16 .09 .61 .68 .93 .49 1.7 .64 .77 .37 1.09 .23 .77 .06 2.01 .92M134.71 301.92l.31 .11M135.95 302.21l1.23 .63 1.55 .36 1.23 .65 1.09 .65 2.47 1.75 .77 .63M145.68 307.62l1.7 .8 2.17-.31M151.71 307.51l2.93-1.16 .31 .12 1.24 .75M157.74 308.13l.3 .12 .31-.12M160.21 307.24l1.85-.9 2.17-.44 .92-.07 1.7-.24 1.7 .17 2.78-.06 3.71 .65 3.09 1.58" stroke="#D95319"/>
<path d="M37.2 307.77l1.55-14.88 1.39-24.92 .15-2.25 .16-1.32 .61-3.7 .78-5.94 .77-5.11 1.08-4.08 .15-.26 .31-.25 .16-.21 .62-1.85 .15-.18 .16 .05 .46 .69 .15 .09 .16-.05 .31-.28 .15 0 .16 .25 .31 1.13 .15 .34 .15 .08 .31-.2 .16 .01 .31 .27 .15-.21 .47-.99 .15-.15 .15-.06 .16 .09 .31 .61 .46 .51 .16 .35 .46 1.84 .62 3.35 .15 .21 .31-.74 .47-2.3 .15-.44 .31-.35 .15-.01 .16 .24 .31 .76 .61 2.05 .16 .28 .15-.06 .31-.42 .16-.08 .15 .07 .47 .64 .77-1.17 .31-.22 .15 .05 .31 .44 .62 1.73 .15 .19 .16-.02 .15-.16 .93-1.44 .15-.09 .16 .21 .46 1.44 .31 .62 .31 .18 .62-.28 .15 .02 .47 .43 .31 .17 .46-.21 .15 .04 .62 1.03 .16-.01 .15-.24 .62-1.85 .31-.68 .15-.24 .16-.04 .15 .07 .31 .4 .62 2.01 .15-.16 .16 .33 .46 .62 .62 1.22 .15 .07 .16-.12 .31-.54 .15-.14 .16 .07 .92 1.77 .62 1.51 .62 1.74 .16 .07 .3-.14 .47-.95 .46-.55 .62-1.15 .15-.13 .16 .03 .15 .21 .47 1.29 .31 .59 .15 .05 .31-.12 .15 .03 .47 .9 .46-.55 .31-.18 .31-.56 .15-.12 .93 .43 .62 .65 .15 .02 .16-.07 .31-.48 .62-1.95 .15-.14 .15 .15 .16 .56 .62 4.22 .15 .52 .62-2.05 .15-.28 .16 .03 .46 1.65 .47 1.24 .31 2.21 1.39 12.91 .77 3.06 .62 2.02 .15 .13 .31-.02 .16-.07 1.08-1.62 .92-4.47 .62-2.44 .93-2.37 .15-.18 .16 0 .77 1.05 .16 1.55 .61 20.89 .16 3.05 .15-1.81 .78-20.74 .15-1.39 .15-.3 .16-.02 .15 .16 .47 .78 .15 .09 .47-.13 .3 .08 .31-.11 .16 .03 .15 .2 .62 1.54 .31 .36 .46 .2 .16 .16 .77 1.83 .15 .24 .47 .31 .15 .19 .16 .4 1.54 7.57 .78 3.39 .15-.04 .62-1.15 .62-.72 .92-1.99 .16-.12 1.08-.42 .15-.02 .62 .71 .62 .28 .62 .61 .31 .14 .31 .04 .31 .17 .31 .38 .92 1.75 1.55 2.2 .77 1.57 .77 1.03 .78 1.71 2.47 4.08 2.16 4.14 .62 .59 1.39 1.08 .93-.18 .92-.29 .78-.94 2.01-2.9 1.23-1.09 .93-.6 .77-.89 .31-.12 .16 .02 .61 .33 .78-.08 .46 .06 1.08 .37 .93 .02 1.24 .19 .92 .01 .93 .23 2.32 .82 1.08 .11 1.39 .39 .77-.02 .78 .18 .77 .33 2.01 1.33 2.47 2.69 2.78 1.18 3.4-.35 3.86-1.28 3.4 1.51 4.02-1.5 4.17-.79 3.1 .2 1.08 .17 3.4 .38 4.79 1.57 2.01 .41" stroke="#EDB120"/>
<path d="M37.2 307.65l3.4-.24 1.39-.24 1.7-.07 1.24-.02 2.16 .11 .77-.06 2.63-.02 1.85 .11 2.79 .35 1.23 .08 2.17-.45 .3-.19 .16-.33 2.01-5.36 .15-.69 .16-1.25 1.39-14.42 2.16-40.17 .93-15.3 .31-2.04 .62-2.92 .77-4.3 .15-.5 .16 .02 .15 .46 1.39 4.81 .62 3.3 .16 .44 .15 .3 .15 .11 .47-1.1 .46-.74 .62-2 .15-.22 .16 .15 .15 .53 .62 3.4 .16 .39 .15 .1 .31-.09 .15 .18 .16 .54 .31 1.77 .62 2.26 .15 .34 .15-.7 .31-2.46 .31-1.59 .16-.21 .15 .05 .16 .19 .61 1.39 .16 .21 .31 .12 .15-.12 .31-1.14 .47-2.58 .15-.15 .15 .44 .16 1.19 .46 6.37 .31 3.38 .16 .59 .15-.51 .31-1.74 .15-.44 .16-.05 .15 .57 .47 4.28 1.08 8.64 .62 4.41 .31 1.79 .46 1.8 .77 4.86 .31 1.39 .31 .48 .16 .01 .61-.66 .16 .01 .31 .15 .15-.2 .62-1.44 .46-.36 .16-.27 .62-2.69 .3-.86 .16-.18 .15 .04 .16 .26 .46 1.33 .31 .5 .16 .38 .15 1.51 .62 17.69 .15 2.44 .16-1.96 .62-15.78 .15-1.21 .15-.09 .16 .24 .46 1.36 .16 .19 .15-.05 .31-.39 .16-.07 .3 .16 .47-.24 .15 .13 .16 .33 .31 .96 .31 .72 .15 .19 .46 .26 .16 .25 .92 3.39 .16 .24 .15 .08 .31 .01 .16 .17 .77 2.65 .77 3.88 .16 .41 .46 .7 .46 .99 .16-.13 .46-.86 .62-.27 .62-1 .15-.21 .16-.08 .46-.07 .77 0 .47 .27 .15 .03 .47-.13 .15 .02 1.08 1.03 .78 1.33 .77 1.84 .92 1.6 .78 1.84 1.39 4.28 .77 3.03 .31 .89 .77 .96 .93 .93 .15 .06 .16-.18 .62-1.3 .46-.63 .46-.82 .16-.12 .15 .26 .47 1.62 .92 4.03 1.09 3.23 .15 .35 .15 .07 1.24-.41 .46-.27 .78-1.17 1.23-2.26 .47-.73 .77-.79 .77-1.01 .31-.22 .47-.17 .15-.17 .77-1.23 .31-.09 .16 .09 .61 .59 .78 .06 .15 .15 .77 .3 .93 .16 .77 .27 .62-.04 .62 .08 .93-.12 .46 .04 .46 .13 1.24 .57 .77 .14 1.24 .05 1.7 .54 .77-.11 .47 .07 .61 .55 .47 .63 1.85 2.1 .77 1.7 .78 1.51 .77 1.83 .15 .23 2.48 2.55 .15 .12 .16 .01 1.7-.36 1.54-.41 3.71-2.79 .15-.04 .16 .1 2.94 3.22 .3 .25 .16-.05 .62-.46 1.39-1.13 1.23-.85 .62-.5 1.7-.48 1.08-.14 1.39-.31 2.32 .28 .93-.14 1.08 .04 1.08-.09 .93 .24 1.08 .41 1.24 .28 .31 .13 .62 .44 2 1.6 .78 .55 2.16 .92 .31 .07 16.07 .05 8.5-.58 9.12-.49 2.93 .06 8.66 .02 15.76 .41 9.27 .58 61.66-.21 46.36 .21" stroke="#7E2F8E"/>
</g></g>
<path d="M25.17 308.70v-1.60M25.17 221.60v1.60M63.80 308.70v-1.60M63.80 221.60v1.60M102.43 308.70v-1.60M102.43 221.60v1.60M141.07 308.70v-1.60M141.07 221.60v1.60M179.70 308.70v-1.60M179.70 221.60v1.60M18.60 298.19h1.60M179.70 298.19h-1.60M18.60 287.69h1.60M179.70 287.69h-1.60M18.60 277.18h1.60M179.70 277.18h-1.60M18.60 266.67h1.60M179.70 266.67h-1.60M18.60 256.17h1.60M179.70 256.17h-1.60M18.60 245.66h1.60M179.70 245.66h-1.60M18.60 235.15h1.60M179.70 235.15h-1.60M18.60 224.65h1.60M179.70 224.65h-1.60" stroke="#262626" stroke-width="0.30" fill="none"/>
<g font-size="3.60" fill="#262626" stroke="#262626" stroke-width="0.05">
<text x="25.17" y="314.20" text-anchor="middle">500</text>
<text x="63.80" y="314.20" text-anchor="middle">1000</text>
<text x="102.43" y="314.20" text-anchor="middle">1500</text>
<text x="141.07" y="314.20" text-anchor="middle">2000</text>
<text x="179.70" y="314.20" text-anchor="middle">2500</text>
<text x="17.00" y="299.39" text-anchor="end">0.02</text>
<text x="17.00" y="288.89" text-anchor="end">0.04</text>
<text x="17.00" y="278.38" text-anchor="end">0.06</text>
<text x="17.00" y="267.87" text-anchor="end">0.08</text>
<text x="17.00" y="257.37" text-anchor="end">0.1</text>
<text x="17.00" y="246.86" text-anchor="end">0.12</text>
<text x="17.00" y="236.35" text-anchor="end">0.14</text>
<text x="17.00" y="225.85" text-anchor="end">0.16</text>
</g>
<text x="99.65" y="220.05" text-anchor="middle" font-size="3.50" font-weight="bold" fill="#000" stroke="#000" stroke-width="0.13">EIG1 of ROI of target (Orange Perspex)</text>
<text x="99.15" y="318.60" text-anchor="middle" font-size="3.60" fill="#2a2a2a">wavelength (<tspan fill="#999">λ</tspan>) nm</text>
<text transform="translate(7.50 265.15) rotate(-90)" text-anchor="middle" font-size="3.60" fill="#2a2a2a">Value</text>
<rect x="86.90" y="225.00" width="89.00" height="20.40" fill="#fff" stroke="#262626" stroke-width="0.30"/>
<path d="M88.20 228.01h10.40" stroke="#0072BD" stroke-width="0.30"/>
<text x="100.50" y="229.26" font-size="3.52" fill="#000" stroke="#000" stroke-width="0.05">CHIMES EIG1 TIAEM NRMSE wrt GT:13.2%</text>
<path d="M88.20 232.80h10.40" stroke="#D95319" stroke-width="0.30"/>
<text x="100.50" y="234.05" font-size="3.52" fill="#000" stroke="#000" stroke-width="0.05">CHIMES EIG1 BOAEM NRMSE wrt GT:10.6%</text>
<path d="M88.20 237.60h10.40" stroke="#EDB120" stroke-width="0.30"/>
<text x="100.50" y="238.85" font-size="3.52" fill="#000" stroke="#000" stroke-width="0.05">CameoSIM EIG1 :NRMSE wrt GT:69.5%</text>
<path d="M88.20 242.39h10.40" stroke="#7E2F8E" stroke-width="0.30"/>
<text x="100.50" y="243.64" font-size="3.52" fill="#000" stroke="#000" stroke-width="0.05">Ground Truth (GT)</text>
<clipPath id="c7"><rect x="196.30" y="221.30" width="160.50" height="87.70"/></clipPath>
<rect x="196.30" y="221.60" width="160.50" height="87.10" fill="none" stroke="#262626" stroke-width="0.30"/>
<g clip-path="url(#c7)"><g transform="scale(0.500 1)" fill="none" stroke-linejoin="round" stroke-width="0.44">
<path d="M392.6 307.52l1.85-14.04 2.15-13.24 .16-.78 .15-.42 .77-1.36 .92-2.1 .31-.47 .93-1.1 .3-.12 .47 .08 .15-.02 .31-.18 .77 .07 .31 .23 .46 .51 .31-.36 .92-1.89 .31-.39 .15 .08 .62 .63 .61 .74 .16 .07 .3-.43 .93-1.93 .31-.38 .61-.47 .31-.45 .92-2.05 .47-.83 .3-.31 .62-.1 .31-.32 .77-1.99 .46-.92 .31-.16 .46-.42 .15-.1 .16-.01 .15 .15 .15 .44 1.24 7.89 1.07 16.31 .93 12.63 .15 1.72 .16 .86 .61 1.78 .15 .02 .31-2.05 .77-6.52 1.54-14.66 .62-3.82 .46-2.21 .15-.44 .16-.02 .31 .25 .3 .06 .62-.32 .31-.07 .31 .13 1.07 .77 .16 .03 .61-.1 .77 .58 .62-.18 .15 .03 .31 .27 .46 .67 .31 .27 .31 .03 .46-.19 .31 0 .77 .5 .92 .38 .31-.05 .46-.23 .31-.02 .31 .19 1.07 1.15 1.08 2.44 .31 1.41 .62 4.36 2.15 18.81 .16 .44 .15 .16 .46 .39 .16-.11 1.07-5.61 .31-2.13 1.54-12.79 1.23-12.2 .31-2.03 .92-3.09 .47-1.83 .61-1.27 .16-.16 .15 .05 .15 1.3 .62 19.1 .15 2.61 .16-2.45 .61-18.09 .16-1.45 .61-1.85 .46-1.14 .77-.74 .47-.24 .15 .04 .31 .49 1.08 2.96 .3 .6 .16 .16 .15 .04 .46-.14 .16 .22 .77 2.58 .92 2.7 .15 .31 .31 .35 .62 .42 .31 .38 .15 .09 .15-.22 .31-.83 1.08-4.31 .46-1.11 1.08-.69 .31-.28 .31-.43 .61-1.13 .16-.16 .15-.07 .15 .02 .46 .33 .31 .1 .31-.17 .62-.74 .15-.11 .62 .06 .77-.38 .3 .03 .31 .21 .31 .69 .92 2.79 .62 1.23 .46 2.25 1.08 6.09 1.54 12.27 1.85 12.71 .3 .96 1.7 4.29 .15 .1 1.23 0 .16-.12 .46-1.35M477.28 297.09l1.23-4.47 1.08-4.31 .46-1.04 .92-1.61 1.23-3.5 .46-.84 .16-.2 .15-.04 .46 .11 1.39 .52 .77 .43 .92-.09 .77 .49 .77 .24 .62 .49 .31 .17 1.07 .17 .31 .2 .62 .57 .77 .19 .46 .23 .92 .96 .47 .37 1.38 1.7 .77 .71 .31 .46 .61 2.01 1.24 3.42 .46 1.96M505.14 304.97l1.54-3.54 1.39-2.97 1.38-2.67 1.08-2.51 .15-.25 .16-.08 .46-.01 .46 .13 1.08 .84 .31 .05 .61-.06 .93 .2 1.08 .61 1.07-.07 1.08 .16 2.31 .96 1.23 .26 .93 .62 .61 .23 .77 1.09 .16 .13 .15-.06 .77-.8 .15-.09 .16 0 .77 .2 1.07 .61 .77 .09 .31 .11 1.08 1.55 .92 1.06 2.16 2.83 1.38 2.14M553.64 308.55l8.31-2.05 2-.3 1.85-.54 3.39-.22 1.08-.16 1.23-.08 1.69-.26 2.77-.19 1.39-.21 2-.07 1.85-.24 .77 .03 1.38-.1 1.23-.21 .62 .07 1.54 .34 1.23-.02 2.16 .39 1.23 .01 .77 .09 1.38 .47 2.01 .29 2.46 .49 6.16 1.72 2.46 .76M637.55 308.22l13.54-.76 10.63-.07 10.93 .13 20.47 .67" stroke="#0072BD"/>
<path d="M392.6 307.31l.31-3.53 1.23-16.79 1.08-17.74 .15-1.84 .16-.7 .3-.34 .31-.51 .92-2.86 .16-.28 .61-.77 .62-1.33 .31-.4 .46-.35 .15-.19 .62-1.17 .46-1.33 .62-2.6 .31-.63 .77-.82 .3-.06 .31 .09 .31 0 .31-.21 .61-.71 .46-.37 .31-.12 .62-.04 .15-.11 .31-.56 .62-1.56 .61-.65 .93-1.57 .3-.36 .47-.34 .3-.46 .47-1.4 .61-2.99 .31-1.17 .92-2.16 .62-2.52 .15-.32 .16-.1 .3 .07 .47 .26 .15 .16 .15 .43 1.24 9.44 .92 16.88 1.23 28.76 .77 12.16 .15 1.6 .16-.04 .92-5.26 1.54-14.24 1.23-7.69 .16-.3 .15-.07 .31-.01 .31 .24 .31 .58 .61 1.5 .31 .53 .15 .12 .62 .21 .31 .33 .61 .9 .93 1.86 2.77 4.52 .77 1.51 1.08 1.5 1.23 2.1 1.23 2.5 1.38 3.27 .77 .81M437.25 305.59l.15 .37 .16 .06 1.23-.69 1.23-1.33 .31-.41 .46-1.23 1.38-4.24 1.54-5.19 .47-1.23 .15-.18 .77-.6 .15 .37 .62 6.94 .15 .94 .16-.94 .61-7.1 .16-.58 .15-.15 .46-.26 .77-.23 .93-.69 .15-.04 .62 .14 .46-.12 .31 .01 .61 .34 .46-.02 .16 .07 .46 .45 1.38 1.67 1.24 .96 .15 0 .15-.3 .77-2.24 1.08-2.37 .62-1.01 .92-1.21 .93-1.58 .76-.97 .93-.92 .92-1.29 .46-.37 .77-.39 .31-.29 .93-1.59 .46-.68 .15-.12 .16 .07 .77 1 .46 .37 .15 .28 .77 2.02 .62 1.95 2.31 12.3 1.84 10.36 .16 .64 .15 .24 1.23 .33 .16-.08 .15-.33 2.31-6.85 2.16-7.25 .92-3.32 1.08-2.2 1.23-2.73 .77-1.96 .15-.17 .31-.08 .31 .11 .77 .59 .77 .32 .31 .26 .61 .71 .46 .34 .31 .09 .62 .04 .31-.04 .61-.27 .31 .09 1.23 1.17 .31 .18 1.08 .42 .3 .2 .77 .86 1.08 .42 .62 .33 .92 .98 .62 .39 .31 .29 .3 .69 .93 3.05 1.07 3.25 2.16 8.71 1.23 2.18 .31 .45 .31-.03 1.69-.6 .31-.18 4.31-8.29 1.08-1.76 .92-1.83 .15-.23 .16-.06 .77 .06 1.38 .29 .77 .56 .31 .13 .77 .01 1.54 .28 .93 .03 1.53 .26 .62-.14 .31 .04 .77 .45 .61-.01 .31 .1 .93 .76 .61 .13 .31 .25 .62 .72 .15-.03 .92-.71 .16 .02 .92 .51 1.08 .15 .46 .17 .31 .22 .77 1.06 .77 .71 1.08 1.34 1.38 1.5 3.08 4.15 1.54 .78M553.79 308.23l2.77-1.68 2.16-1.91 1.08-1.04M562.72 301.54l1.85-.97 .62-.24M566.26 299.88l1.08 0 .77 .22 .92-.22 .62-.01 1.69 .3 .47-.08 .92-.34 .92 .18 .62 0 .61-.11 1.08-.32 1.85-.13 1.08-.38 2-.13 .31-.08 .92-.44 1.23-.3 2.62 .3 .92 .23 1.85 .24 1.54 .34 1.69 .8 1.08 .26 1.08 .63 2.46 .99 2.16 1.43 1.08 .55 1.69 1.07 1.54 1.12 3.69 2.49M630.93 308.61l4-.73 3.23-.45 2.93 .39 .3-.02M642.16 307.61l1.85-.56 1.85-.46 2.62-.26 2.31-.33 4.46 .03 1.39 .07M658.18 306.09l2.15 0 1.85 .11 5.69 .07 3.08 .14 1.7 .14 2.77 .03 6.16 .41 1.07 0 13.86 .94" stroke="#D95319"/>
<path d="M392.6 307.7l2.46-8.84 .93-3.56 .46-1.52 .31-.8 .15-.14 .62-.28 .77-.77 .92-.39 .77-.77 .92-.36 .77-.75 1.08-.44 .92-.59 .31-.05 .16 .11 1.23 1.54 .92 1.02 .31 .24 .77 .32 .31 .3 .61 .94 .93 1.89 .31 .37 .77 .58 1.07 1.89 .46 .52 1.54 1.11 1.7 .69 .77 .51 .46 .16 .46 0 .46-.09 .62-.4 .77-.21 .15-.1 1.85-3.69 1.39-3.24 .46-.95 .15-.23 .46-.44 .77-1.11 .47-.47 .15-.07 .15 .06 .46 .32 .31 .11 .62-.04 .31 .06 .92 .78 .46 .26 1.39 .13 .31 .1 .77 .54 1.07 .98 .47 .21M433.09 294.33l.62 .76 .46 .8 1.38 3.85 1.85 6.7 .31 .33 .92 .54 .16 0 .61-1.08 .77-1.58 .16-.99 .15-2.35 .77-14.71 1.08-24.04 .15-1.98 .93-9.04 .15-1 .31-1.24 .92-2.44 .16-.18 .15 .39 .15 .88 .16 2.75 .46 23.54 .15 4.41 .16-3.94 .46-21.98 .15-2.38 .77-2.8 .31-.77 .15-.17 .16 .05 .77 .87 .46 .41 1.54 3.84 .15 .74 1.08 11.76 .77 5.94 .77 6.7 .77 2.69 .31 .82 .15-.24 .16-1.35 .61-7.6 .93-14.43 .3-2.31 .47-2.09 .15-.33 .15-.01 .62 2.24 .31 .8 .31 .55 .46 .53 .61 .25 .77 1.19 .31 .17 .77-.19 .31 .03 .31 .3 .46 .7 .15 .15 .16 .05 .15-.06 .31-.34 .15-.01 .16 .47 .3 1.65 .77 5.49 1.08 11.84 1.85 15.59 2 8.79M470.96 304.75l1.7 2.99 .15 .06 1.39-.21 .61-.13 .16-.11 2-4.65 1.08-2.66 1.38-3.86 2-5.12 .93-2.84 .3-.7 .16-.18 .15 .04 .31 .24 .46 .14 .62 .08 .77-.09 .31 .06 1.38 .97 .31 .12 .62 .06 .3 .13 1.08 1 .31 .06 .46-.08 .15 .03 .93 .88 .46 .35 1.23 .57 1.23 .47 .77 .53 .77 .31 .47 .34 .3 .56 1.23 3.3 1.24 3.88 1.69 4.77 .92 1.37 .62 .77 .31-.04 2-.76 1.38-1.67 .93-1.26 .61-.7 2.16-2.07 1.38-1.1 2.16-.33 1.08 .04 1.54-.09 .77 .06 1.23 .24 1.23-.06 .92-.14 1.7 .52 1.54 .06 .31 .17 .77 .78 .3-.01 .77-.25 .77-.06 1.08 .2 .77 0 .46 .09 .77 .57 .93 1 1.38 1.14 3.7 3.6 .3 .18 1.7 .38M553.18 308.68l7.08-.89 8.62-.77 13.09-.26 16.01 .66 8.93 1.26M632.31 308.63l18.78-.77 16.78-.24 38.65 .92" stroke="#EDB120"/>
<path d="M392.6 308.26l3.85-.81 3.08 .8 3.08-.8 3.08 .58 3.08-.61 3.07 .84 3.08-.41 2.16-.43 .15-.09 .16-.22 1.38-2.72 1.54-4.99 .62-1.46 .92-1.83 .93-1.14 .3-.22 .16 .05 1.08 .61 .61 .48 .15 0 .62-.26 .92-.86 .47-.34 1.54-.84 .61-.15 .93 .25 .46 .01 .31-.08 .77-.38 .15-.01 .92 .73 .46 .28 .16 .16 .15 .37 1.39 4.49 1.54 6.04 .77 2.12 .15 .27 .16-.03 1.07-1.31 .16-.1 .15 .08 .77 .9 .15 .06 .16-.19 .92-1.88 .16-.18 .15 .08 .92 1.26 .16 .04 .15-.28 .93-2.5 .15-.18 .77-.56 .15 .02 .16 .28 .61 1.69 .31 .68 .77 1.2 .15 .07 .16-.25 .77-2.13 .15-.28 .16 .04 .92 1.3 .15 .11 .16-.11 1.23-1.67 .15-.1 .16 .13 1.23 2.02 .15 .15 .16-.07 1.23-1.38 .15-.05 .16 .2 .92 1.91 .15 .19 .16-.08 1.38-1.84 1.39-1.3 .15-.04 .16 .13 1.08 1.55 .3 .31 .16-.11 1.23-1.71 .15-.13 .16 .04 1.23 1.06 .15 .01 1.54-2.76 .93-.92 .46-.34 .15 .01 .16 .22 1.38 2.55 1.39 1.57 .15 .07 .15-.15 1.24-1.98 .15-.1 .15 .21 1.24 3.07 .15 .25 .15-.02 1.24-1.39 .15-.07 .15 .15 1.24 2.04 .15 .07 .15-.32 .62-2.05 .15-.83 .16-1.47 .15 6.15 .15-17.79 .16 17.79 .15-24.28 .16 24.28 .15-17.67 .15 17.67 .16-18.36 .15 18.36 .16-32.07 .15 32.07 .15-28.51 .16 28.51 .15-32.18 .16 32.18 .15-32.7 .15 32.7 .16-38.64 .15 38.64 .16-33.17 .15 33.17 .15-44.47 .16 44.47 .15-34.55 .16 34.55 .15-25.49 .15 25.49 .16-57.2 .15 57.2 .16-30.16 .15 30.16 .15-57.3 .16 57.3 .15-58.79 .16 58.79 .15-33.27 .15 33.27 .16-53.14 .15 53.14 .15-74.26 .16 74.26 .15-73.52 .16 73.52 .15-39.01 .15 39.01 .16-56.9 .15-28.14 .46 2.75 .47 .62 .92 1.67 .92 2.04 .47 .53 .61 .14 .31 .24 .46 .66 .93 1.68 .15 .08 .15-.08 .16-.29 .46-1.38 .31-.72 .15-.14 .15 .01 .47 .35 .15 .01 .46-.4 .16-.09 .15-.01 .31 .23 .15 .22 .46 .97 .31 .4 .16 .03 .15-.07 .46-.44 .16-.06 .61-.1 .31 .17 .31 .45 .92 1.88 .62 1.05 .3 1 .62 2.75 .15 .95 .47 6.05 .92 14.7 1.39 27.21 .3 4.23 1.39 12.1 .15 .56 1.08 1.94 .15 .04 .16-.46 1.54-6.95 2.31-12.93 .77-3.5 .77-3.93 .15-.7 .16-.4 .15 .21 1.08 3.13 .3 1.09 .93 5.27 1.08 5.4 1.23 4.23 .15 .34 .16-.17 .61-1.59 .93-3.03 2.3-10.69 .77-1.82 1.08-1.8 .93-1.92 .15-.03 .31 .32 .61 .92 .47 .54 .92 2.38 .15 .23 .16-.06 1.23-1.59 .31-.3 .46-.28 .61-.24 .93-.71 .31-.09 .15 .06 .15 .25 .62 1.4 .62 1.75 .61 1.31 .16 .54 1.23 5.96 .77 3.39 1.23 4.39 2 7.74 1.69 3.16 .16 .21 .15 .07 16.01-.02 3.54-2.56 4.62-3.78 2.31-1.01 1.7-.93 .61-.4 .31-.09 1.23 .68 .92 .62 1.39 .6 3.39 3.87 2 2.44 .15 .18 .16 .04 .3-.6 4.01-10.01 .77-1.72 .77-.83 1.69-2.24 .62-.7 1.54-.6 .77-.55 .46-.06 .31 .02 .92 .32 1.23 .24 .77 .48 .92 .43 .77 .5 1.24 .31 1.07 .79 .93 .82 1.69 1.35 2.62 2.58 .92 1.13 1.23 1.34 1.24 1.6 2.3 2.74 1.39 1.76 1.08 1.1 .31 .17 23.4-.01 6-.42 15.55-1.74 3.39-.22 1.69-.21 1.85-.08 2-.21 2.46-.12 1.7-.19 4.15-.22 4.16 .2 1.54 .2 1.54 .04 9.24 1.11 12.31 1.23 10.78 .55 4.62 .09" stroke="#7E2F8E"/>
</g></g>
<path d="M202.84 308.70v-1.60M202.84 221.60v1.60M241.33 308.70v-1.60M241.33 221.60v1.60M279.82 308.70v-1.60M279.82 221.60v1.60M318.31 308.70v-1.60M318.31 221.60v1.60M356.80 308.70v-1.60M356.80 221.60v1.60M196.30 300.16h1.60M356.80 300.16h-1.60M196.30 291.62h1.60M356.80 291.62h-1.60M196.30 283.08h1.60M356.80 283.08h-1.60M196.30 274.54h1.60M356.80 274.54h-1.60M196.30 266.00h1.60M356.80 266.00h-1.60M196.30 257.46h1.60M356.80 257.46h-1.60M196.30 248.93h1.60M356.80 248.93h-1.60M196.30 240.39h1.60M356.80 240.39h-1.60M196.30 231.85h1.60M356.80 231.85h-1.60M196.30 223.31h1.60M356.80 223.31h-1.60" stroke="#262626" stroke-width="0.30" fill="none"/>
<g font-size="3.60" fill="#262626" stroke="#262626" stroke-width="0.05">
<text x="202.84" y="314.20" text-anchor="middle">500</text>
<text x="241.33" y="314.20" text-anchor="middle">1000</text>
<text x="279.82" y="314.20" text-anchor="middle">1500</text>
<text x="318.31" y="314.20" text-anchor="middle">2000</text>
<text x="356.80" y="314.20" text-anchor="middle">2500</text>
<text x="194.70" y="301.36" text-anchor="end">0.02</text>
<text x="194.70" y="292.82" text-anchor="end">0.04</text>
<text x="194.70" y="284.28" text-anchor="end">0.06</text>
<text x="194.70" y="275.74" text-anchor="end">0.08</text>
<text x="194.70" y="267.20" text-anchor="end">0.1</text>
<text x="194.70" y="258.66" text-anchor="end">0.12</text>
<text x="194.70" y="250.13" text-anchor="end">0.14</text>
<text x="194.70" y="241.59" text-anchor="end">0.16</text>
<text x="194.70" y="233.05" text-anchor="end">0.18</text>
<text x="194.70" y="224.51" text-anchor="end">0.2</text>
</g>
<text x="277.05" y="220.05" text-anchor="middle" font-size="3.50" font-weight="bold" fill="#000" stroke="#000" stroke-width="0.13">EIG2 of ROI of target (Orange Perspex)</text>
<text x="276.55" y="318.60" text-anchor="middle" font-size="3.60" fill="#2a2a2a">wavelength (<tspan fill="#999">λ</tspan>) nm</text>
<text transform="translate(185.20 265.15) rotate(-90)" text-anchor="middle" font-size="3.60" fill="#2a2a2a">Value</text>
<rect x="262.60" y="225.00" width="90.80" height="20.40" fill="#fff" stroke="#262626" stroke-width="0.30"/>
<path d="M263.90 228.01h10.40" stroke="#0072BD" stroke-width="0.30"/>
<text x="276.20" y="229.26" font-size="3.52" fill="#000" stroke="#000" stroke-width="0.05">CHIMES EIG2 TIAEM :NRMSE wrt GT:120.2%</text>
<path d="M263.90 232.80h10.40" stroke="#D95319" stroke-width="0.30"/>
<text x="276.20" y="234.05" font-size="3.52" fill="#000" stroke="#000" stroke-width="0.05">CHIMES EIG2 BOAEM:NRMSE wrt GT:131.8%</text>
<path d="M263.90 237.60h10.40" stroke="#EDB120" stroke-width="0.30"/>
<text x="276.20" y="238.85" font-size="3.52" fill="#000" stroke="#000" stroke-width="0.05">CameoSIM EIG2 :NRMSE wrt GT:125.7%</text>
<path d="M263.90 242.39h10.40" stroke="#7E2F8E" stroke-width="0.30"/>
<text x="276.20" y="243.64" font-size="3.52" fill="#000" stroke="#000" stroke-width="0.05">Ground Truth (GT)</text>
<clipPath id="c8"><rect x="383.50" y="221.30" width="160.70" height="87.70"/></clipPath>
<rect x="383.50" y="221.60" width="160.70" height="87.10" fill="none" stroke="#262626" stroke-width="0.30"/>
<g clip-path="url(#c8)"><g transform="scale(0.500 1)" fill="none" stroke-linejoin="round" stroke-width="0.44">
<path d="M767 306.63l1.08-21.71 1.23-29.05 .77-11.25 .77-8.36 .16-.74 .61-1.83 1.08-2.83 .77-3.19 .31-1 .31-.74 .15-.11 .62 1.61 .16 .21 .15-.17 .62-3.96 .15-.7 .15-.25 .78 3.79 .15 .36 .15-.42 .16-.83 .46-2.99 .15-.4 .16 .87 .77 7.83 .15-.13 .16-.76 .61-4.35 .16-.35 .15 .01 .16 .11 .15 .23 .46 1.3 .16-.21 .15-.5 .62-2.96 .15-.36 .16 .54 .77 5.34 .15 .85 .16 .45 .15-.3 .46-1.91 .62-3.14 .15-.41 .16-.18 .15-.05 .16 .17 .15 .41 .62 3.06 .3 .9 .16 .14 .15-.03 .77-.54 .16 .1 .15 .48 .46 2.4 .77 5.77 1.55 16.79 1.54 19.69 1.23 11.54 .16 1.19 .3 1.55 1.24 4.77 1.23 2.94 .15 .05 .47-.09 .61-.03 .93-.49 .31-.1 1.69 .01 .16-.05 .15-.14 1.08-1.43 .77-.78 .31-.47 2.93-6.04 1.38-3.73 .47-1.11 .31-.57 .15-.11 .62 .92 .61 .62 .16-.03 .15-.46 .77-3.76 .31-1.14 1.23-3.04 .47-.34 .15-.19 .46-.81 .46-.65 2.01-7.4 1.23-2.12 .77-2.18 .16-.18 .15-.08 .62 .2 .46-.06 .92 .75 .16 1.21 .62 18.16 .15 2.59 .15-2.24 .62-17.18 .15-1.31 .31-.52 .31-.31 .31-.1 .31 .01 .31 .17 .3 .49 .31 .89 .31 .65 .62 .52 .77 1.16 .77 .62 .46 .59 .31 .67 .77 2.14 .46 .91 .77 1.16 .77 1.94 .16 .26 .15 .01 .16-.14 .61-.74 .31-.05 .77 .41 .77 1.16 .31 .35 .31 .14 .46 .08 .31 .2 .31 .42 1.08 1.97 1.23 1.46 .62 .92 1.54 2.63 .92 1.17 .31 .57 .77 1.82 .62 .9 .15 .18 .77 .58 1.39 .48 .31 .25 .77 .87 .62 .19 .31 .2 .15 .4 .15 .94 1.24 9.63 .61 4.33 .16 .77 .15 .18 1.24-.99 .15-.21 2.31-7.18 1.39-3.01 .92-2.2 .77-1.59 .31-.42 .93-1.02 .77-1.27 .46-.58 .77-.21 .46-.05 .31 .08 .77 .41 1.54 .17 .78 .47 1.07 .22 .78 .07 .77 .44 .3 0 .78-.26 .46 0 .31 .21 .61 .67 .31 .24 .31 .08 .46-.02 .31 .13 .31 .3 1.23 1.53 .93 .68 .77 .81 .31 .45 .15 .46 3.39 12.37 .15 .44 .16 .24 1.08 1.01M878.14 308.28l2.16-.79 3.54-2.49 2.78-1.63 1.39-.4 1.08-.13 2-.46 .92-.01 .78-.2 1.23 .06 1.08 .26 2.31-.04 .15 .05 .93 .8 1.08-.45 .31-.02 3.23 1 .47 .25 2.31 1.88 1.23 .91 3.08 1.74M935.18 304.08l.77-.44 1.23-.89 .77-.17 1.08-.03 1.54-.34 .93 .07 .77-.11 .77 .01 .77-.07 1.39 .2 1.85-.01M947.82 302.31l1.85 .15 1.23 .25 1.7-.17 2.15 .2M956.6 302.98l2.16 .27 1.23-.04M961.23 303.28l1.23 .07 .93 .14 .77 0 1.38 .18 1.08 .2 .93 .28 .61 .05M969.55 304.47l1.08 .3 .62 .07M973.87 305.57l.61 .25M975.56 306.36l.31 .14M1012.1 308.46l6.93-.23 22.97-.25 31.14 .55 8.63 .09" stroke="#0072BD"/>
<path d="M767 307.22l1.54-10.54 1.23-11.76 .16-1.01 .46-2.18 .93-3.68 1.08-5.3 .92-2.62 .77-3.04 .46-1.31 .93-1.55 .61-.77 .31-.65 .77-2.04 .77-1.26 .78-1.65 .77-.82 .3-.44 .93-2.27 .31-.51 .15-.13 .16-.05 .15 .08 .46 .78 .62 .7 .62 1.19 .15 .07 .31-.17 .15-.2 .62-1.31 .15-.29 .16-.1 .15 .19 .16 .38 1.07 3.56 .16 .43 .31 .58 .15 .17 .16 .08 .15 0 .46-.35 .16-.07 .15 .05 .31 .44 .61 1.25 1.08 .93 .77 .17 .47 .55 .31 .56 .3 .82 .62 2.63 .77 2.65 1.08 4.54 .62 2.22 1.23 2.78 .31 .34 .92 .76 .62 .36 .62-.2 .77-.68 .31-.19 .3 .03 .47 .22 .15-.07 .46-.4 .77-.34 .31-.27 .46-.63 .62-1.06 .31-.31 .46-.26 .31-.28 1.7-2.15 .46-.88 .61-1.58 .31-.46 .16-.05 .15 .02 .46 .2 .47 .1 .15 .25 .46 2.31 .16 .33 .15-.49 .77-4.72 .16-.47 .61-.93 .62-1.22 .15-.22 .16-.01 1.23 .81 .15 .01 .62-.93 .46-.31 .31-.45 .16-.54 .15-.94 1.23-9.73 .62-4.09 1.7-9.02 .15-.62 .15-.3 .47-.58 .15-.09 .15 .18 .16 1.82 .62 25 .15 3.26 .15-3.43 .62-25.53 .15-2.12 .31-1.07 .16-.32 .15-.15 .16 0 .15 .15 .46 .71 .16 .14 .15 .02 .15-.1 .47-.7 .15-.11 .62 .87 .15 .06 .46-.28 .16 .01 .15 .2 .16 .42 .61 2.9 .77 2.6 .62 2.88 .93 3.78 1.23 4.51 .15-.14 .47-1.35 .92-3.99 .46-1.38 .16-.17 .77-.45 .61-.53 .31-.37 .46-.88 .16-.1 .15 .03 .31 .32 .93 1.3 .77 2.01 .31 .65 .3 .45 .16 .09 .15-.03 .46-.52 .16-.1 .15 .05 .31 .55 .77 3.67 .93 3.72 .46 3.08M841.3 267.1l.62 4.95 1.38 9.67 2.16 8.45 1.7 7.85 .92 2.88 .16 .3 .15-.14 .62-1.34 1.23-3.09 1.23-5.63 1.85-9.51 1.39-4.83 .93-2.4 .77-.88 .92-.78 .16-.01 .3 .13 1.08 .82 .77 .84 .31 .2 .31 .01 1.7-.56 .61-.01 .62 .24 .62 .11 .3 .26 .62 .87 .15 .11 .16 .01 .15-.1 .62-.77 .15-.06 .16 .04 .31 .37 .77 1.27 .3 .36 .47 .23 .77-.02 .15 .1 .31 .37 .77 1.65 .62 1.05 1.85 7.03 .31 1.64 1.69 10.93 .46 1.88 1.55 5.21 .15 .26 1.08 1.16 .15 .1 .16-.02 2.31-1.4 2.93-3.02 .61-.57 3.09-1.86 .92-.29 .31-.15 1.23-.96 1.7-.68 1.23-1.02 2.32-.14 .77-.2 .92-.35 1.08 .04 .15 .09 .16 .22 .61 1.16 .16 .16 .15-.1 .31-.48 .77-1.51 .16-.08 .46 .11 .92 .62 .77 .24 1.39 1.2 2.16 2.78 1.7 1.98 2.62 3.92M928.39 308.5l6.48-4.28 1.39-1.18 .92-.54 2.16-.53 2.46 .17 1.7-.19 .77 .11 2 .03 1.85 .31 1.08-.19 .31 .01 1.24 .36 .92-.02 1.39 .2 4.78 .19 .77 .09 .92 .02 .93 .13 2.62 .11 1.08 .15 .92-.02 4.01 .93 1.08 .13 2.62 .67 1.39 .62 1.54 .58 4.62 2.26M1007.32 308.56l11.56-.76 13.87-.16M1035.84 307.59l1.85-.04M1046.63 307.65l.77 .02M1048.17 307.69l23.89 .68 10.64 .22" stroke="#D95319"/>
<path d="M767 285.95l1.08-2 .92-1.35 .93-.68 .92-1.13 .62-.35 .31-.29 .62-.84 .61-.62 .93-1.55 .15-.15 .15-.04 .16 .03 .46 .4 .31 .11 .62-.41 .3 0 .31 .17 1.54 1.33 .62 .29 2.01 2.73 .3 .31 .47 .32 .46 .54 1.08 1.99 .31 .42 1.38 1.23 .31 .21 .62 .28 1.23 1.1 .31 .14 .46 .05 .31 .1 .31 .24 .61 .64 .31 .22 .93 .34 1.69 .75 .93 .17 .77 .48 .62 .2 .3-.04 .78-.25 1.07 .13 .47-.02 .46-.22 .77-.78 .31-.14 .31 .09 .77 .61 1.23 .02 .46 .47 .31 .49 .77 1.59 1.23 1.95 1.08 2.3 .62 .93 .77 .37 1.39 1.16 .31 .11 .92 .06 .77 .33 .16-.05 1.38-2.78 .16-.37 .15-.8 .93-12.6 1.38-22.13 .16-1 .62-2.18 .15 .21 .15 1.78 2.16 37.85 .77 8.06 .16 .61 .3 .52 .16 .14 .15-.91 .47-11.93 .92-32.82 .15-2.98 .31-3.85 .16 2.57 .31 27.48 .15 8.57 .15-7.65 .31-26.32 .16-3.11 .46 3.1 .15 1.68 .77 16.43 .31 4.19 .62 6.88 .15 1.28 .16 .62 1.08 2.47 .15 .15 .77 .42 .93 .19 .92 .4 .93 .23 .61 .28 .46 .29 1.7 1.73 1.08 .82 .77 .85 .92 .76 .47 .53 .92 1.28 .93 .95 .92 .81 1.39 1.37 1.85 1.56 1.08 .82 2.16 .56 .3 .03 2.01-1.55 .31-.17 2 .99 .15 .06 .16-.03 1.08-2.32 1.08-2.56 .15-.52 2-14.23 .31-3.02 .16-2.62 2-37.11 .31-4.44 1.39-11.76 .15-.62 .16-.32 .61-.83 .31-.95 .46-1.82 .16-.15 .15 .16 .16 .4 .46 1.92 .15 .48 .16 .25 .15 .04 .62-.48 .15 .01 .15 .13 .16 .25 .31 .81 .61 2.22 .31 .73 .16 .12 .15-.02 .15-.15 .31-.58 .47-1.13 .15-.23 .15-.08 .16 .1 .15 .26 .31 .86 .77 2.74 1.08 2.58 .15 .16 .16-.03 .46-.68 .15-.16 .16-.03 .15 .06 .47 .48 .46 .64 1.23 2.22 .31 .74 .31 1.06 .46 2.51 .62 2.46 .31 2.07 2.77 42.08 .31 3.84 1.39 12.61 .15 .59 1.08 2.22 .15 .12 .16-.29 1.38-4.39 .16-.7 .92-8.47 2.16-21.4 .46-2.71 .93-4.71 .92-5.37 .47-2.11 .92-4.93 .31-1.05 .15-.19 .47-.31 .3-.43 .78-1.92 .15-.21 .46-.3 .31-.48 .92-2.83 .93-1.75 .62-2.04 .15-.31 .15-.11 .47 .05 .15-.09 .16-.21 .61-1.32 .16 .09 .15 .34 .77 2.74 .62 1.64 .46 1.64 .77 3.36 .15 .42 .16 .15 .15 .01 .31-.14 .46-.4 .16 .13 .15 .63 .62 4.16 .15 .04 .31-.87 .77-3.48 .16-.19 .3 .05 .31 .17 .62 .56 .77 1.51 .31 1.05 .61 3.12 .62 1.83 .31 1.98 .77 6.02 1.54 13.58 1.08 11.1 .31 2.45 1.85 12.59 .15 .59 .77 2.12M928.55 308.11l.31-.4 .15-.34 2.16-10.48 2.16-8.37 .92-2.92 .46-.98 1.24-3.37 .31-.52 .61-.63 .62-.97 .77-1.51 .31-.36 .46-.27 .31-.08 1.23-.1 .77 .7 .93 1.51 .77 .42 1.23 .94 .31-.19 .77-.99 .15-.13 .31-.09 .46 .1 .47 .44 .92 .33 .46 .47 .16 .07 .92 .05 .93-.4 .31-.04 1.23 .66 .31 .24 .92 1.49 .16 .07 .15-.01 .77-.52 .31 .09 .93 1.3 .3 .23 .62 .26 .77 .85 1.08 .64 .62 .01 .31 .14 1.69 2.04 .31 .07 .46-.05 .46 .25 1.55 1.4 .92 1.48 .31 .26 .46 .25 .77 .81 .77 .59 .77 1.01 .31 .31 2.01 1.36 .92 .37 .93 .82 .77 .4 1.23 1.25 1.23 .89 .93 1.06 .92 .66 .62 .6 .31 .64 1.38 4.39 .78 1.99M1005.47 308.62l2-.54 2.31-1.11 1.55 .77 2.31-1.37 2.31 .5 4.32-1.67 .92-.12 .93-.23 3.23-.49 1.39-.51 1.39 .15 2-.12 1.23-.2 .93 .03 2.16-.15 1.85 .02 2.16-.2 3.54 .13 .93 .2 1.23 .09 1.69 .02 1.24-.06 .92 .2 3.09 .46 1.23 .02 1.39 .24 2.31 .19 .92 .2 3.55 .43 1.39 .29 1.08 .07 2.46 .44 1.54 .15 2.93 .48 10.79 1.29 6.01 .37" stroke="#EDB120"/>
<path d="M767 303.35l1.08-.85 2-1.96 1.24-1.1 .92-.96 .77-.69 .93-1.02 .77-.49 .77-.37 1.23-.87 1.08-.45 .77-.47 .31 .24 .46 .54 1.24 1.85 1.07 1.27 2.32 5.87 2 4.12 .31 .09 1.54-.02 1.23-.46 .31-.24 1.23-3.73 .31-1.32 1.54-17.32 1.24-17.45 .77-6.87 .15-.96 .16-.5 .92-2.28 .46-.71 .16-.02 1.23 2.85 .16 .3 .15 .1 .15-.28 1.08-3.41 .16-.37 .15-.17 .93 1.5 .61 1.47 .16-.04 .15-.22 .77-1.37 .46-.57 .16 .05 .31 .35 .92 1.9 .16 .13 .15-.08 .92-1.16 .31-.51 1.24-2.67 .77-2.26 .31-.6 .3-.35 .16 .18 .15 .83 .93 6.84 .77 2.21 .15 1.03 2.78 43.18 .15 .89 .15 .39 .62 1.38 .16 .09 .15-.42 .77-3.4 .15-.76 .16-1.37 1.39-28.87 1.23-28.77 1.08-14.59 .31-3.27 .15 0 .62 17.44 .15 2.89 .16-.95 .46-8.43 .15-1.89 .16 .19 .77 5.92 .15 .61 .16-.73 .15-1.35 1.23-11.64 .16-1.19 .15-.44 .16 1.19 .61 7.54 .16 .97 .15-.63 .77-6.74 .15-.7 .16 .52 .15 1.09 .93 7.79 .15 .08 .16-.41 .61-2.32 .16-.26 .15 .43 .46 2.2 1.55 6.27 .46 1.64 .15 .09 .16-.7 1.38-8.27 .77-2.65 .31-.83 .31-.53 .15 .28 .78 7.34 .3 2.38 .16 .5 .15-.76 .77-6.5 .16-.63 .15 .78 .77 8.33 .16 1.05 .15-.44 .77-6.56 .15-.59 .16 1.06 .92 11.59 1.08 10.89 1.08 12.21 1.39 10.85 .15 .6 .16-.49 .61-4.14 .16-.44 .15 .73 1.08 9.03 .16 .74 .15-.35 .77-4.34 .15-.55 .16-.01 .31 .51 .15 21.88 .31-14.78 .15-.73 .31 15.5 .31-11.47 .15-.36 .31 11.81 .31-22.13 .16-.4 .3 22.54 .31-23.32 .16-.27 .3 23.59 .31-14.48 .16-.14 .31 14.61 .3-15.59 .16-.02 .31 15.62 .3-18.24 .16 .05 .31 18.2 .3-16.72 .16 .04 .31 16.67 .31-17.48 .15 .11 .31 17.36 .31-22.86 .15 .36 .31 22.51 .31-23.39 .15 .52 .31 22.88 .31-16.9 .15 .46 .31 16.43 .31-14.72 .15 .84 .16 7.63 .15-4.38 .62 .81 1.54 1.32 2.31 .76 1.23-.33 2.16-.96 .93-.24 1.23 .85 1.39 .64 1.23 .98 1.85 1.21 .31 .4 2 3.35 2.16 2.27 .31 .15 1.85 .01 .31-.06 1.39-2.07 .15-.39 .31-1.57 1.23-7.4 1.7-15.56 .15-.8 .15 .47 1.85 12.8 1.7 8.44 .15 .59 .16 .24 1.69 .53 .16 .02 .15-.06 1.85-1.56 .93-.49 .92-.63 .77-.34 .77-.47 .77 .09 1.85 .44 .93 1.08 .15-.05 1.08-.96 .16-.04 .46 .02 .92 .27 1.54 .17 .62 .26 1.08 1.02 1.54 1.75 1.54 1.61 2.62 3.07 .31 .18 17.58-.04 7.09-6.4 1.23-1.35 .46-.36 .93-.54 1.85-1.66 .15-.11 .15-.01 .31 .11 1.39 .74 1.08 .44 .77 .19 1.23 .75 1.85 1.32 1.08 .88 1.85 1.11 1.24 1.02 1.07 .78 1.7 1.37 2.16 1.38 .31 .14 2.93-2.06 3.08-1.85 .92-.27 1.24-.21 1.08-.39 1.54-.38 1.08 .18 1.85 .19 1.38 .28 2.47 .84 1.23 .58 1.08 .36 3.86 2.85 .3 .12 25.13 0 21.58-.91 15.42-.28 17.88 .36 28.36 .83" stroke="#7E2F8E"/>
</g></g>
<path d="M390.05 308.70v-1.60M390.05 221.60v1.60M428.59 308.70v-1.60M428.59 221.60v1.60M467.13 308.70v-1.60M467.13 221.60v1.60M505.66 308.70v-1.60M505.66 221.60v1.60M544.20 308.70v-1.60M544.20 221.60v1.60M383.50 296.78h1.60M544.20 296.78h-1.60M383.50 284.87h1.60M544.20 284.87h-1.60M383.50 272.95h1.60M544.20 272.95h-1.60M383.50 261.04h1.60M544.20 261.04h-1.60M383.50 249.12h1.60M544.20 249.12h-1.60M383.50 237.21h1.60M544.20 237.21h-1.60M383.50 225.29h1.60M544.20 225.29h-1.60" stroke="#262626" stroke-width="0.30" fill="none"/>
<g font-size="3.60" fill="#262626" stroke="#262626" stroke-width="0.05">
<text x="390.05" y="314.20" text-anchor="middle">500</text>
<text x="428.59" y="314.20" text-anchor="middle">1000</text>
<text x="467.13" y="314.20" text-anchor="middle">1500</text>
<text x="505.66" y="314.20" text-anchor="middle">2000</text>
<text x="544.20" y="314.20" text-anchor="middle">2500</text>
<text x="381.90" y="297.98" text-anchor="end">0.02</text>
<text x="381.90" y="286.07" text-anchor="end">0.04</text>
<text x="381.90" y="274.15" text-anchor="end">0.06</text>
<text x="381.90" y="262.24" text-anchor="end">0.08</text>
<text x="381.90" y="250.32" text-anchor="end">0.1</text>
<text x="381.90" y="238.41" text-anchor="end">0.12</text>
<text x="381.90" y="226.49" text-anchor="end">0.14</text>
</g>
<text x="464.35" y="220.05" text-anchor="middle" font-size="3.50" font-weight="bold" fill="#000" stroke="#000" stroke-width="0.13">EIG3 of ROI of target (Orange Perspex)</text>
<text x="463.85" y="318.60" text-anchor="middle" font-size="3.60" fill="#2a2a2a">wavelength (<tspan fill="#999">λ</tspan>) nm</text>
<text transform="translate(372.40 265.15) rotate(-90)" text-anchor="middle" font-size="3.60" fill="#2a2a2a">Value</text>
<rect x="453.80" y="225.00" width="87.20" height="20.40" fill="#fff" stroke="#262626" stroke-width="0.30"/>
<path d="M455.10 228.01h10.40" stroke="#0072BD" stroke-width="0.30"/>
<text x="467.40" y="229.26" font-size="3.52" fill="#000" stroke="#000" stroke-width="0.05">CHIMES EIG3 class.NRMSE wrt GT:108.9%</text>
<path d="M455.10 232.80h10.40" stroke="#D95319" stroke-width="0.30"/>
<text x="467.40" y="234.05" font-size="3.52" fill="#000" stroke="#000" stroke-width="0.05">CHIMES EIG3 unclass.NRMSE wrt GT:62.8%</text>
<path d="M455.10 237.60h10.40" stroke="#EDB120" stroke-width="0.30"/>
<text x="467.40" y="238.85" font-size="3.52" fill="#000" stroke="#000" stroke-width="0.05">CameoSIM EIG3 :NRMSE wrt GT:122.9%</text>
<path d="M455.10 242.39h10.40" stroke="#7E2F8E" stroke-width="0.30"/>
<text x="467.40" y="243.64" font-size="3.52" fill="#000" stroke="#000" stroke-width="0.05">Ground Truth (GT)</text>
</svg></body></html>
